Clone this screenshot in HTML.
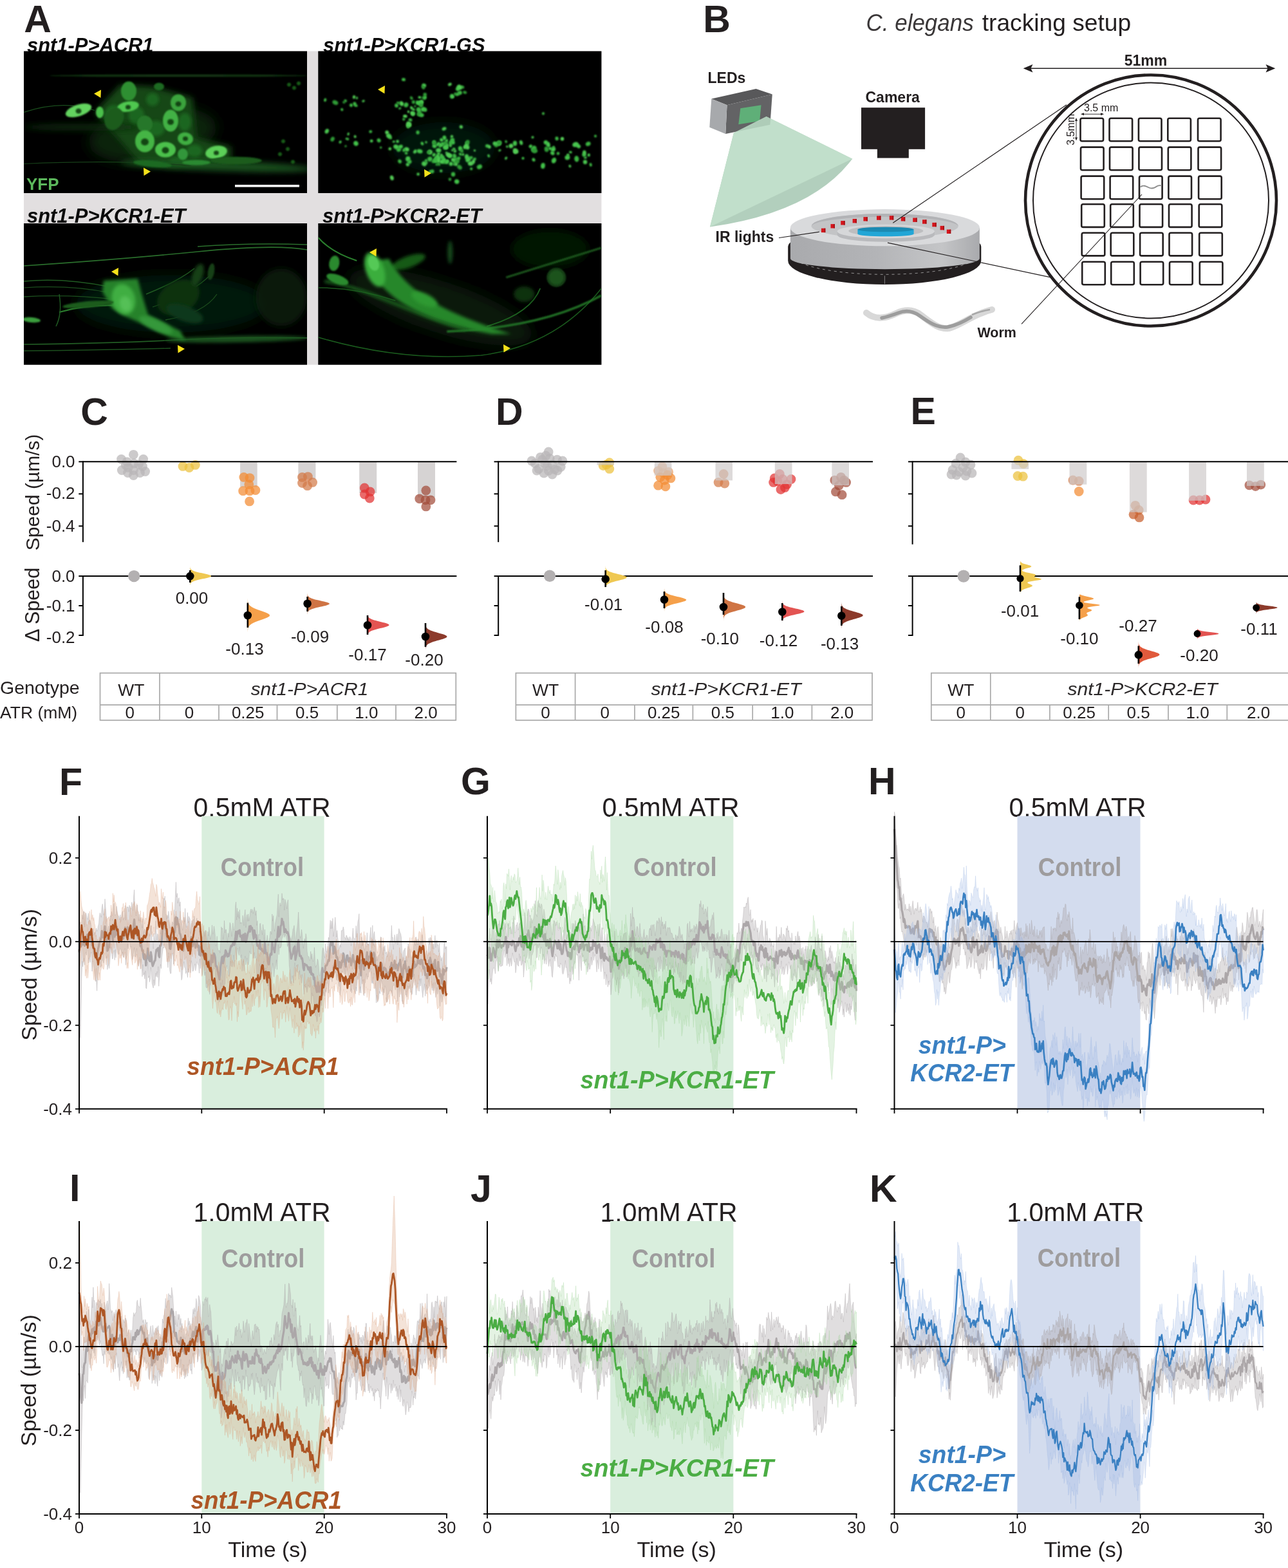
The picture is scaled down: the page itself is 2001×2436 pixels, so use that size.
<!DOCTYPE html><html><head><meta charset="utf-8"><title>Figure</title><style>html,body{margin:0;padding:0;background:#fff;}svg{display:block;}text{font-family:"Liberation Sans", Arial, Helvetica, sans-serif;}</style></head><body>
<svg width="2001" height="2436" viewBox="0 0 2001 2436">
<rect x="0" y="0" width="2001" height="2436" fill="#fff"/>
<text x="37.2" y="49.5" font-size="59" font-weight="bold" fill="#231f20">A</text>
<rect x="37" y="79.5" width="897.4" height="487.2" fill="#e2dfe0"/>
<text x="42.0" y="80.8" font-size="31.5" font-weight="bold" font-style="italic" fill="#0a0a0a" lengthAdjust="spacingAndGlyphs" textLength="196.5">snt1-P&gt;ACR1</text>
<text x="502.0" y="80.8" font-size="31.5" font-weight="bold" font-style="italic" fill="#0a0a0a" lengthAdjust="spacingAndGlyphs" textLength="251.5">snt1-P&gt;KCR1-GS</text>
<text x="42.0" y="345.8" font-size="31.5" font-weight="bold" font-style="italic" fill="#0a0a0a" lengthAdjust="spacingAndGlyphs" textLength="246.5">snt1-P&gt;KCR1-ET</text>
<text x="501.0" y="345.8" font-size="31.5" font-weight="bold" font-style="italic" fill="#0a0a0a" lengthAdjust="spacingAndGlyphs" textLength="247.5">snt1-P&gt;KCR2-ET</text>
<defs><filter id="b1" x="-50%" y="-50%" width="200%" height="200%"><feGaussianBlur stdDeviation="1.2"/></filter><filter id="b2" x="-50%" y="-50%" width="200%" height="200%"><feGaussianBlur stdDeviation="2.5"/></filter><filter id="b4" x="-50%" y="-50%" width="200%" height="200%"><feGaussianBlur stdDeviation="5"/></filter><filter id="b8" x="-50%" y="-50%" width="200%" height="200%"><feGaussianBlur stdDeviation="10"/></filter><clipPath id="cA1"><rect x="37" y="79.5" width="440" height="220.5"/></clipPath><clipPath id="cA2"><rect x="494.3" y="79.5" width="440.1" height="220.5"/></clipPath><clipPath id="cA3"><rect x="37" y="347" width="440" height="219.7"/></clipPath><clipPath id="cA4"><rect x="494.3" y="347" width="440.1" height="219.7"/></clipPath></defs>
<rect x="37" y="79.5" width="440" height="220.5" fill="#000"/>
<g clip-path="url(#cA1)">
<ellipse cx="237.0" cy="209.5" rx="100.0" ry="42.0" transform="rotate(-8 237.0 209.5)" fill="#092a0b" opacity="0.85" filter="url(#b8)"/>
<path d="M147,174.5 L187,131.5 L237,134.5 L299,151.5 L305,214.5 L359,227.5 L359,251.5 L267,259.5 L215,251.5 L177,207.5 Z" fill="#134716" filter="url(#b4)"/>
<ellipse cx="177.0" cy="179.5" rx="14.0" ry="16.0" transform="rotate(0 177.0 179.5)" fill="#1f6a23" opacity="0.9" filter="url(#b2)"/>
<ellipse cx="212.0" cy="179.5" rx="12.0" ry="14.0" transform="rotate(0 212.0 179.5)" fill="#1f6a23" opacity="0.9" filter="url(#b2)"/>
<ellipse cx="242.0" cy="199.5" rx="14.0" ry="12.0" transform="rotate(0 242.0 199.5)" fill="#1f6a23" opacity="0.9" filter="url(#b2)"/>
<ellipse cx="287.0" cy="189.5" rx="10.0" ry="14.0" transform="rotate(0 287.0 189.5)" fill="#1f6a23" opacity="0.9" filter="url(#b2)"/>
<ellipse cx="237.0" cy="154.5" rx="10.0" ry="10.0" transform="rotate(0 237.0 154.5)" fill="#1f6a23" opacity="0.9" filter="url(#b2)"/>
<ellipse cx="302.0" cy="234.5" rx="12.0" ry="10.0" transform="rotate(0 302.0 234.5)" fill="#1f6a23" opacity="0.9" filter="url(#b2)"/>
<ellipse cx="277.0" cy="249.5" rx="14.0" ry="6.0" transform="rotate(0 277.0 249.5)" fill="#1f6a23" opacity="0.9" filter="url(#b2)"/>
<ellipse cx="337.0" cy="257.5" rx="150.0" ry="8.0" transform="rotate(2 337.0 257.5)" fill="#1d5a22" opacity="0.9" filter="url(#b4)"/>
<ellipse cx="127.0" cy="197.5" rx="90.0" ry="6.0" transform="rotate(0 127.0 197.5)" fill="#0c2a0e" opacity="0.8" filter="url(#b4)"/>
<ellipse cx="277.0" cy="117.5" rx="200.0" ry="2.0" transform="rotate(0 277.0 117.5)" fill="#143a16" opacity="0.9" filter="url(#b1)"/>
<path d="M37 174.5 Q97 154.5 147 171.5" stroke="#1a4d1d" stroke-width="1.2" fill="none"/>
<path d="M37 254.5 Q187 247.5 297 257.5" stroke="#173f19" stroke-width="1.2" fill="none"/>
<ellipse cx="122.0" cy="171.5" rx="21.0" ry="9.0" transform="rotate(-18 122.0 171.5)" fill="#63d35f" opacity="1" filter="url(#b1)"/>
<ellipse cx="155.0" cy="174.5" rx="6.0" ry="9.0" transform="rotate(0 155.0 174.5)" fill="#4cc04c" opacity="1" filter="url(#b1)"/>
<ellipse cx="199.0" cy="165.5" rx="17.0" ry="8.0" transform="rotate(-10 199.0 165.5)" fill="#4fc74f" opacity="1" filter="url(#b1)"/>
<ellipse cx="200.0" cy="141.5" rx="12.0" ry="15.0" transform="rotate(0 200.0 141.5)" fill="#2f8f32" opacity="1" filter="url(#b1)"/>
<ellipse cx="225.0" cy="192.5" rx="12.0" ry="13.0" transform="rotate(0 225.0 192.5)" fill="#27772a" opacity="1" filter="url(#b1)"/>
<ellipse cx="265.0" cy="187.5" rx="12.0" ry="17.0" transform="rotate(0 265.0 187.5)" fill="#43b144" opacity="1" filter="url(#b1)"/>
<ellipse cx="277.0" cy="159.5" rx="12.0" ry="13.0" transform="rotate(0 277.0 159.5)" fill="#3aa33c" opacity="1" filter="url(#b1)"/>
<ellipse cx="225.0" cy="219.5" rx="15.0" ry="17.0" transform="rotate(0 225.0 219.5)" fill="#44b545" opacity="1" filter="url(#b1)"/>
<ellipse cx="257.0" cy="232.5" rx="16.0" ry="12.0" transform="rotate(0 257.0 232.5)" fill="#4cc04c" opacity="1" filter="url(#b1)"/>
<ellipse cx="288.0" cy="215.5" rx="12.0" ry="10.0" transform="rotate(10 288.0 215.5)" fill="#3fae42" opacity="1" filter="url(#b1)"/>
<ellipse cx="336.0" cy="236.5" rx="17.0" ry="10.0" transform="rotate(-10 336.0 236.5)" fill="#5bcf58" opacity="1" filter="url(#b1)"/>
<ellipse cx="284.0" cy="239.5" rx="8.0" ry="9.0" transform="rotate(0 284.0 239.5)" fill="#33963a" opacity="1" filter="url(#b1)"/>
<ellipse cx="305.0" cy="252.5" rx="22.0" ry="4.0" transform="rotate(0 305.0 252.5)" fill="#2b8a30" opacity="1" filter="url(#b1)"/>
<ellipse cx="247.0" cy="134.5" rx="8.0" ry="6.0" transform="rotate(0 247.0 134.5)" fill="#1f6a22" opacity="1" filter="url(#b1)"/>
<ellipse cx="237.0" cy="254.5" rx="30.0" ry="5.0" transform="rotate(5 237.0 254.5)" fill="#1f6a22" opacity="1" filter="url(#b1)"/>
<ellipse cx="367.0" cy="249.5" rx="40.0" ry="6.0" transform="rotate(0 367.0 249.5)" fill="#1b5c1f" opacity="1" filter="url(#b1)"/>
<ellipse cx="177.0" cy="184.5" rx="14.0" ry="18.0" transform="rotate(20 177.0 184.5)" fill="#1b5c1f" opacity="1" filter="url(#b1)"/>
<ellipse cx="122.0" cy="172.5" rx="4.5" ry="4.0" transform="rotate(0 122.0 172.5)" fill="#0e3a10" opacity="0.9" filter="url(#b1)"/>
<ellipse cx="225.0" cy="220.5" rx="6.0" ry="5.4" transform="rotate(0 225.0 220.5)" fill="#0e3a10" opacity="0.9" filter="url(#b1)"/>
<ellipse cx="257.0" cy="233.5" rx="5.5" ry="5.0" transform="rotate(0 257.0 233.5)" fill="#0e3a10" opacity="0.9" filter="url(#b1)"/>
<ellipse cx="265.0" cy="189.5" rx="5.0" ry="4.5" transform="rotate(0 265.0 189.5)" fill="#0e3a10" opacity="0.9" filter="url(#b1)"/>
<ellipse cx="336.0" cy="237.5" rx="4.0" ry="3.6" transform="rotate(0 336.0 237.5)" fill="#0e3a10" opacity="0.9" filter="url(#b1)"/>
<ellipse cx="199.0" cy="166.5" rx="4.0" ry="3.6" transform="rotate(0 199.0 166.5)" fill="#0e3a10" opacity="0.9" filter="url(#b1)"/>
<ellipse cx="277.0" cy="161.5" rx="4.5" ry="4.0" transform="rotate(0 277.0 161.5)" fill="#0e3a10" opacity="0.9" filter="url(#b1)"/>
<ellipse cx="288.0" cy="215.5" rx="4.0" ry="3.6" transform="rotate(0 288.0 215.5)" fill="#0e3a10" opacity="0.9" filter="url(#b1)"/>
<ellipse cx="449.0" cy="131.5" rx="3.0" ry="3.0" transform="rotate(0 449.0 131.5)" fill="#155c19" opacity="1" filter="url(#b1)"/>
<ellipse cx="457.0" cy="136.5" rx="3.0" ry="3.0" transform="rotate(0 457.0 136.5)" fill="#155c19" opacity="1" filter="url(#b1)"/>
<ellipse cx="464.0" cy="129.5" rx="3.0" ry="3.0" transform="rotate(0 464.0 129.5)" fill="#155c19" opacity="1" filter="url(#b1)"/>
<ellipse cx="440.0" cy="219.5" rx="3.0" ry="3.0" transform="rotate(0 440.0 219.5)" fill="#155c19" opacity="1" filter="url(#b1)"/>
<ellipse cx="447.0" cy="231.5" rx="3.0" ry="3.0" transform="rotate(0 447.0 231.5)" fill="#155c19" opacity="1" filter="url(#b1)"/>
<ellipse cx="435.0" cy="239.5" rx="3.0" ry="3.0" transform="rotate(0 435.0 239.5)" fill="#155c19" opacity="1" filter="url(#b1)"/>
<ellipse cx="455.0" cy="251.5" rx="3.0" ry="3.0" transform="rotate(0 455.0 251.5)" fill="#155c19" opacity="1" filter="url(#b1)"/>
<text x="41.0" y="294.5" font-size="26.5" font-weight="bold" fill="#5cb85c" textLength="50.5" lengthAdjust="spacingAndGlyphs">YFP</text>
<rect x="365" y="287" width="100" height="3.6" fill="#fff"/>
<polygon points="146,145.5 157,139.45 156.45,152.1" fill="#f5e11a"/>
<polygon points="234,266.5 223,260.45 223.55,273.1" fill="#f5e11a"/>
</g>
<rect x="494.3" y="79.5" width="440.1" height="220.5" fill="#000"/>
<g clip-path="url(#cA2)">
<ellipse cx="689.3" cy="229.5" rx="80.0" ry="40.0" transform="rotate(0 689.3 229.5)" fill="#061c08" opacity="0.8" filter="url(#b8)"/>
<ellipse cx="679.4" cy="246.2" rx="4.0" ry="3.0" transform="rotate(24 679.4 246.2)" fill="#42c24a" opacity="1" filter="url(#b1)"/>
<ellipse cx="680.1" cy="241.9" rx="2.6" ry="2.7" transform="rotate(107 680.1 241.9)" fill="#42c24a" opacity="1" filter="url(#b1)"/>
<ellipse cx="697.0" cy="240.7" rx="2.4" ry="2.5" transform="rotate(57 697.0 240.7)" fill="#48c64f" opacity="1" filter="url(#b1)"/>
<ellipse cx="662.0" cy="221.0" rx="1.9" ry="1.7" transform="rotate(56 662.0 221.0)" fill="#48c64f" opacity="1" filter="url(#b1)"/>
<ellipse cx="737.4" cy="247.2" rx="2.6" ry="2.2" transform="rotate(146 737.4 247.2)" fill="#3bb543" opacity="1" filter="url(#b1)"/>
<ellipse cx="668.4" cy="266.7" rx="2.4" ry="2.0" transform="rotate(48 668.4 266.7)" fill="#48c64f" opacity="1" filter="url(#b1)"/>
<ellipse cx="662.6" cy="252.9" rx="2.1" ry="1.7" transform="rotate(127 662.6 252.9)" fill="#42c24a" opacity="1" filter="url(#b1)"/>
<ellipse cx="674.2" cy="221.2" rx="3.1" ry="2.3" transform="rotate(92 674.2 221.2)" fill="#48c64f" opacity="1" filter="url(#b1)"/>
<ellipse cx="671.5" cy="266.3" rx="3.0" ry="3.1" transform="rotate(76 671.5 266.3)" fill="#3bb543" opacity="1" filter="url(#b1)"/>
<ellipse cx="631.9" cy="232.0" rx="3.9" ry="3.2" transform="rotate(18 631.9 232.0)" fill="#52cc55" opacity="1" filter="url(#b1)"/>
<ellipse cx="707.0" cy="249.5" rx="4.5" ry="3.3" transform="rotate(107 707.0 249.5)" fill="#3bb543" opacity="1" filter="url(#b1)"/>
<ellipse cx="725.2" cy="243.7" rx="4.2" ry="3.3" transform="rotate(80 725.2 243.7)" fill="#48c64f" opacity="1" filter="url(#b1)"/>
<ellipse cx="672.9" cy="250.8" rx="2.5" ry="2.7" transform="rotate(23 672.9 250.8)" fill="#2e9a36" opacity="1" filter="url(#b1)"/>
<ellipse cx="715.1" cy="230.9" rx="3.9" ry="3.1" transform="rotate(79 715.1 230.9)" fill="#42c24a" opacity="1" filter="url(#b1)"/>
<ellipse cx="635.0" cy="194.7" rx="4.3" ry="3.4" transform="rotate(171 635.0 194.7)" fill="#52cc55" opacity="1" filter="url(#b1)"/>
<ellipse cx="649.6" cy="270.6" rx="2.3" ry="2.4" transform="rotate(15 649.6 270.6)" fill="#48c64f" opacity="1" filter="url(#b1)"/>
<ellipse cx="690.7" cy="251.2" rx="3.5" ry="3.2" transform="rotate(127 690.7 251.2)" fill="#2e9a36" opacity="1" filter="url(#b1)"/>
<ellipse cx="712.1" cy="246.5" rx="3.7" ry="2.8" transform="rotate(140 712.1 246.5)" fill="#3bb543" opacity="1" filter="url(#b1)"/>
<ellipse cx="681.3" cy="254.8" rx="3.3" ry="2.4" transform="rotate(38 681.3 254.8)" fill="#2e9a36" opacity="1" filter="url(#b1)"/>
<ellipse cx="699.7" cy="242.4" rx="3.5" ry="3.0" transform="rotate(150 699.7 242.4)" fill="#42c24a" opacity="1" filter="url(#b1)"/>
<ellipse cx="695.4" cy="250.1" rx="2.1" ry="1.9" transform="rotate(144 695.4 250.1)" fill="#48c64f" opacity="1" filter="url(#b1)"/>
<ellipse cx="680.5" cy="245.5" rx="4.3" ry="3.5" transform="rotate(13 680.5 245.5)" fill="#48c64f" opacity="1" filter="url(#b1)"/>
<ellipse cx="633.7" cy="246.8" rx="4.0" ry="3.7" transform="rotate(102 633.7 246.8)" fill="#48c64f" opacity="1" filter="url(#b1)"/>
<ellipse cx="662.0" cy="249.5" rx="2.3" ry="2.5" transform="rotate(53 662.0 249.5)" fill="#3bb543" opacity="1" filter="url(#b1)"/>
<ellipse cx="674.2" cy="240.5" rx="2.6" ry="2.9" transform="rotate(38 674.2 240.5)" fill="#42c24a" opacity="1" filter="url(#b1)"/>
<ellipse cx="622.2" cy="228.0" rx="3.9" ry="3.0" transform="rotate(157 622.2 228.0)" fill="#42c24a" opacity="1" filter="url(#b1)"/>
<ellipse cx="659.0" cy="254.4" rx="4.0" ry="3.7" transform="rotate(31 659.0 254.4)" fill="#48c64f" opacity="1" filter="url(#b1)"/>
<ellipse cx="709.7" cy="250.5" rx="4.3" ry="3.8" transform="rotate(21 709.7 250.5)" fill="#2e9a36" opacity="1" filter="url(#b1)"/>
<ellipse cx="714.0" cy="259.8" rx="4.2" ry="3.2" transform="rotate(41 714.0 259.8)" fill="#2e9a36" opacity="1" filter="url(#b1)"/>
<ellipse cx="668.1" cy="236.3" rx="3.6" ry="3.7" transform="rotate(139 668.1 236.3)" fill="#52cc55" opacity="1" filter="url(#b1)"/>
<ellipse cx="725.3" cy="222.8" rx="2.8" ry="2.3" transform="rotate(66 725.3 222.8)" fill="#42c24a" opacity="1" filter="url(#b1)"/>
<ellipse cx="627.7" cy="233.2" rx="2.8" ry="2.4" transform="rotate(128 627.7 233.2)" fill="#3bb543" opacity="1" filter="url(#b1)"/>
<ellipse cx="677.1" cy="248.1" rx="4.4" ry="3.4" transform="rotate(102 677.1 248.1)" fill="#3bb543" opacity="1" filter="url(#b1)"/>
<ellipse cx="685.1" cy="225.3" rx="3.5" ry="2.7" transform="rotate(7 685.1 225.3)" fill="#52cc55" opacity="1" filter="url(#b1)"/>
<ellipse cx="693.9" cy="218.9" rx="2.8" ry="2.0" transform="rotate(114 693.9 218.9)" fill="#48c64f" opacity="1" filter="url(#b1)"/>
<ellipse cx="701.9" cy="212.1" rx="2.2" ry="2.4" transform="rotate(26 701.9 212.1)" fill="#52cc55" opacity="1" filter="url(#b1)"/>
<ellipse cx="688.9" cy="248.6" rx="2.9" ry="2.0" transform="rotate(156 688.9 248.6)" fill="#48c64f" opacity="1" filter="url(#b1)"/>
<ellipse cx="702.9" cy="221.1" rx="4.0" ry="3.0" transform="rotate(30 702.9 221.1)" fill="#42c24a" opacity="1" filter="url(#b1)"/>
<ellipse cx="726.1" cy="221.6" rx="4.4" ry="3.3" transform="rotate(111 726.1 221.6)" fill="#2e9a36" opacity="1" filter="url(#b1)"/>
<ellipse cx="692.2" cy="222.7" rx="3.8" ry="3.4" transform="rotate(21 692.2 222.7)" fill="#2e9a36" opacity="1" filter="url(#b1)"/>
<ellipse cx="683.7" cy="227.3" rx="2.2" ry="1.9" transform="rotate(119 683.7 227.3)" fill="#3bb543" opacity="1" filter="url(#b1)"/>
<ellipse cx="691.6" cy="228.5" rx="4.2" ry="3.4" transform="rotate(89 691.6 228.5)" fill="#2e9a36" opacity="1" filter="url(#b1)"/>
<ellipse cx="705.3" cy="255.3" rx="1.9" ry="1.6" transform="rotate(35 705.3 255.3)" fill="#42c24a" opacity="1" filter="url(#b1)"/>
<ellipse cx="636.2" cy="251.4" rx="3.1" ry="3.4" transform="rotate(54 636.2 251.4)" fill="#3bb543" opacity="1" filter="url(#b1)"/>
<ellipse cx="681.0" cy="249.7" rx="3.4" ry="2.9" transform="rotate(33 681.0 249.7)" fill="#52cc55" opacity="1" filter="url(#b1)"/>
<ellipse cx="727.4" cy="247.9" rx="4.7" ry="3.6" transform="rotate(132 727.4 247.9)" fill="#48c64f" opacity="1" filter="url(#b1)"/>
<ellipse cx="633.3" cy="255.7" rx="2.6" ry="2.7" transform="rotate(130 633.3 255.7)" fill="#48c64f" opacity="1" filter="url(#b1)"/>
<ellipse cx="715.2" cy="239.6" rx="2.6" ry="2.0" transform="rotate(38 715.2 239.6)" fill="#42c24a" opacity="1" filter="url(#b1)"/>
<ellipse cx="700.6" cy="254.5" rx="3.0" ry="3.2" transform="rotate(174 700.6 254.5)" fill="#48c64f" opacity="1" filter="url(#b1)"/>
<ellipse cx="652.1" cy="235.0" rx="4.5" ry="3.3" transform="rotate(14 652.1 235.0)" fill="#42c24a" opacity="1" filter="url(#b1)"/>
<ellipse cx="686.5" cy="251.2" rx="3.7" ry="3.3" transform="rotate(7 686.5 251.2)" fill="#48c64f" opacity="1" filter="url(#b1)"/>
<ellipse cx="690.0" cy="200.1" rx="3.6" ry="2.6" transform="rotate(155 690.0 200.1)" fill="#48c64f" opacity="1" filter="url(#b1)"/>
<ellipse cx="644.9" cy="235.5" rx="3.4" ry="2.6" transform="rotate(129 644.9 235.5)" fill="#48c64f" opacity="1" filter="url(#b1)"/>
<ellipse cx="725.4" cy="228.0" rx="4.8" ry="3.5" transform="rotate(51 725.4 228.0)" fill="#52cc55" opacity="1" filter="url(#b1)"/>
<ellipse cx="694.2" cy="229.7" rx="2.0" ry="1.9" transform="rotate(171 694.2 229.7)" fill="#2e9a36" opacity="1" filter="url(#b1)"/>
<ellipse cx="686.9" cy="244.1" rx="4.1" ry="3.1" transform="rotate(39 686.9 244.1)" fill="#42c24a" opacity="1" filter="url(#b1)"/>
<ellipse cx="722.3" cy="228.4" rx="3.2" ry="2.4" transform="rotate(119 722.3 228.4)" fill="#52cc55" opacity="1" filter="url(#b1)"/>
<ellipse cx="699.0" cy="278.7" rx="2.4" ry="2.5" transform="rotate(170 699.0 278.7)" fill="#2e9a36" opacity="1" filter="url(#b1)"/>
<ellipse cx="694.2" cy="228.7" rx="2.8" ry="2.5" transform="rotate(107 694.2 228.7)" fill="#48c64f" opacity="1" filter="url(#b1)"/>
<ellipse cx="694.2" cy="251.5" rx="3.4" ry="3.2" transform="rotate(117 694.2 251.5)" fill="#42c24a" opacity="1" filter="url(#b1)"/>
<ellipse cx="681.5" cy="238.7" rx="2.4" ry="2.3" transform="rotate(16 681.5 238.7)" fill="#48c64f" opacity="1" filter="url(#b1)"/>
<ellipse cx="732.2" cy="262.3" rx="2.0" ry="2.1" transform="rotate(69 732.2 262.3)" fill="#42c24a" opacity="1" filter="url(#b1)"/>
<ellipse cx="731.8" cy="244.8" rx="2.9" ry="2.2" transform="rotate(173 731.8 244.8)" fill="#3bb543" opacity="1" filter="url(#b1)"/>
<ellipse cx="695.1" cy="225.6" rx="2.3" ry="1.9" transform="rotate(179 695.1 225.6)" fill="#48c64f" opacity="1" filter="url(#b1)"/>
<ellipse cx="676.1" cy="249.7" rx="3.7" ry="3.4" transform="rotate(18 676.1 249.7)" fill="#3bb543" opacity="1" filter="url(#b1)"/>
<ellipse cx="685.7" cy="240.6" rx="1.7" ry="1.8" transform="rotate(56 685.7 240.6)" fill="#52cc55" opacity="1" filter="url(#b1)"/>
<ellipse cx="735.5" cy="251.3" rx="3.6" ry="2.6" transform="rotate(106 735.5 251.3)" fill="#52cc55" opacity="1" filter="url(#b1)"/>
<ellipse cx="705.4" cy="231.5" rx="2.4" ry="1.9" transform="rotate(28 705.4 231.5)" fill="#48c64f" opacity="1" filter="url(#b1)"/>
<ellipse cx="706.9" cy="235.0" rx="2.4" ry="2.0" transform="rotate(135 706.9 235.0)" fill="#52cc55" opacity="1" filter="url(#b1)"/>
<ellipse cx="687.6" cy="223.5" rx="2.8" ry="2.7" transform="rotate(4 687.6 223.5)" fill="#3bb543" opacity="1" filter="url(#b1)"/>
<ellipse cx="693.7" cy="237.3" rx="1.9" ry="1.6" transform="rotate(48 693.7 237.3)" fill="#48c64f" opacity="1" filter="url(#b1)"/>
<ellipse cx="666.1" cy="236.4" rx="3.2" ry="2.6" transform="rotate(139 666.1 236.4)" fill="#2e9a36" opacity="1" filter="url(#b1)"/>
<ellipse cx="700.0" cy="222.9" rx="3.8" ry="2.7" transform="rotate(87 700.0 222.9)" fill="#3bb543" opacity="1" filter="url(#b1)"/>
<ellipse cx="704.0" cy="270.8" rx="3.5" ry="3.2" transform="rotate(88 704.0 270.8)" fill="#3bb543" opacity="1" filter="url(#b1)"/>
<ellipse cx="737.4" cy="233.8" rx="1.8" ry="1.6" transform="rotate(14 737.4 233.8)" fill="#52cc55" opacity="1" filter="url(#b1)"/>
<ellipse cx="731.0" cy="254.0" rx="4.2" ry="3.5" transform="rotate(177 731.0 254.0)" fill="#52cc55" opacity="1" filter="url(#b1)"/>
<ellipse cx="678.3" cy="255.7" rx="1.8" ry="1.9" transform="rotate(93 678.3 255.7)" fill="#2e9a36" opacity="1" filter="url(#b1)"/>
<ellipse cx="756.7" cy="226.7" rx="2.6" ry="2.8" transform="rotate(79 756.7 226.7)" fill="#3bb543" opacity="1" filter="url(#b1)"/>
<ellipse cx="689.7" cy="248.1" rx="2.7" ry="2.3" transform="rotate(128 689.7 248.1)" fill="#42c24a" opacity="1" filter="url(#b1)"/>
<ellipse cx="674.9" cy="226.8" rx="3.4" ry="3.3" transform="rotate(22 674.9 226.8)" fill="#42c24a" opacity="1" filter="url(#b1)"/>
<ellipse cx="708.5" cy="255.3" rx="2.6" ry="2.5" transform="rotate(59 708.5 255.3)" fill="#52cc55" opacity="1" filter="url(#b1)"/>
<ellipse cx="744.9" cy="259.1" rx="4.3" ry="3.5" transform="rotate(152 744.9 259.1)" fill="#3bb543" opacity="1" filter="url(#b1)"/>
<ellipse cx="667.9" cy="247.2" rx="3.9" ry="3.8" transform="rotate(158 667.9 247.2)" fill="#3bb543" opacity="1" filter="url(#b1)"/>
<ellipse cx="681.3" cy="233.5" rx="4.2" ry="3.4" transform="rotate(179 681.3 233.5)" fill="#48c64f" opacity="1" filter="url(#b1)"/>
<ellipse cx="691.9" cy="228.9" rx="3.3" ry="2.8" transform="rotate(4 691.9 228.9)" fill="#48c64f" opacity="1" filter="url(#b1)"/>
<ellipse cx="702.8" cy="217.5" rx="3.4" ry="3.6" transform="rotate(10 702.8 217.5)" fill="#3bb543" opacity="1" filter="url(#b1)"/>
<ellipse cx="703.4" cy="249.4" rx="2.2" ry="1.8" transform="rotate(160 703.4 249.4)" fill="#2e9a36" opacity="1" filter="url(#b1)"/>
<ellipse cx="719.3" cy="240.0" rx="1.9" ry="2.1" transform="rotate(17 719.3 240.0)" fill="#52cc55" opacity="1" filter="url(#b1)"/>
<ellipse cx="686.0" cy="217.4" rx="2.6" ry="2.8" transform="rotate(121 686.0 217.4)" fill="#48c64f" opacity="1" filter="url(#b1)"/>
<ellipse cx="686.2" cy="244.2" rx="2.2" ry="2.2" transform="rotate(166 686.2 244.2)" fill="#3bb543" opacity="1" filter="url(#b1)"/>
<ellipse cx="717.4" cy="234.5" rx="3.3" ry="2.4" transform="rotate(73 717.4 234.5)" fill="#2e9a36" opacity="1" filter="url(#b1)"/>
<ellipse cx="690.3" cy="214.1" rx="3.6" ry="3.0" transform="rotate(84 690.3 214.1)" fill="#42c24a" opacity="1" filter="url(#b1)"/>
<ellipse cx="685.2" cy="265.5" rx="2.2" ry="2.3" transform="rotate(123 685.2 265.5)" fill="#48c64f" opacity="1" filter="url(#b1)"/>
<ellipse cx="706.1" cy="242.5" rx="3.8" ry="3.1" transform="rotate(74 706.1 242.5)" fill="#3bb543" opacity="1" filter="url(#b1)"/>
<ellipse cx="680.6" cy="224.0" rx="3.7" ry="2.6" transform="rotate(140 680.6 224.0)" fill="#42c24a" opacity="1" filter="url(#b1)"/>
<ellipse cx="709.7" cy="282.1" rx="3.8" ry="3.7" transform="rotate(19 709.7 282.1)" fill="#42c24a" opacity="1" filter="url(#b1)"/>
<ellipse cx="716.4" cy="197.1" rx="2.8" ry="2.6" transform="rotate(53 716.4 197.1)" fill="#52cc55" opacity="1" filter="url(#b1)"/>
<ellipse cx="696.8" cy="240.8" rx="4.5" ry="3.2" transform="rotate(33 696.8 240.8)" fill="#52cc55" opacity="1" filter="url(#b1)"/>
<ellipse cx="655.9" cy="223.0" rx="2.8" ry="2.2" transform="rotate(59 655.9 223.0)" fill="#42c24a" opacity="1" filter="url(#b1)"/>
<ellipse cx="631.1" cy="238.0" rx="2.2" ry="2.5" transform="rotate(125 631.1 238.0)" fill="#3bb543" opacity="1" filter="url(#b1)"/>
<ellipse cx="674.8" cy="221.7" rx="3.4" ry="3.2" transform="rotate(80 674.8 221.7)" fill="#2e9a36" opacity="1" filter="url(#b1)"/>
<ellipse cx="703.9" cy="248.0" rx="3.1" ry="2.3" transform="rotate(30 703.9 248.0)" fill="#52cc55" opacity="1" filter="url(#b1)"/>
<ellipse cx="702.9" cy="233.4" rx="1.7" ry="1.6" transform="rotate(16 702.9 233.4)" fill="#52cc55" opacity="1" filter="url(#b1)"/>
<ellipse cx="608.9" cy="276.3" rx="3.9" ry="2.9" transform="rotate(70 608.9 276.3)" fill="#52cc55" opacity="1" filter="url(#b1)"/>
<ellipse cx="699.7" cy="226.6" rx="2.1" ry="1.7" transform="rotate(38 699.7 226.6)" fill="#52cc55" opacity="1" filter="url(#b1)"/>
<ellipse cx="642.3" cy="176.8" rx="3.5" ry="2.7" transform="rotate(109 642.3 176.8)" fill="#3bb543" opacity="1" filter="url(#b1)"/>
<ellipse cx="658.7" cy="132.8" rx="3.5" ry="3.0" transform="rotate(20 658.7 132.8)" fill="#48c64f" opacity="1" filter="url(#b1)"/>
<ellipse cx="660.8" cy="170.4" rx="3.2" ry="2.6" transform="rotate(73 660.8 170.4)" fill="#3bb543" opacity="1" filter="url(#b1)"/>
<ellipse cx="616.0" cy="163.9" rx="3.2" ry="2.8" transform="rotate(87 616.0 163.9)" fill="#3bb543" opacity="1" filter="url(#b1)"/>
<ellipse cx="640.5" cy="176.1" rx="3.6" ry="3.2" transform="rotate(61 640.5 176.1)" fill="#52cc55" opacity="1" filter="url(#b1)"/>
<ellipse cx="637.5" cy="186.2" rx="3.0" ry="2.5" transform="rotate(19 637.5 186.2)" fill="#3bb543" opacity="1" filter="url(#b1)"/>
<ellipse cx="649.1" cy="205.7" rx="3.0" ry="2.7" transform="rotate(85 649.1 205.7)" fill="#3bb543" opacity="1" filter="url(#b1)"/>
<ellipse cx="655.4" cy="159.0" rx="1.9" ry="1.9" transform="rotate(44 655.4 159.0)" fill="#3bb543" opacity="1" filter="url(#b1)"/>
<ellipse cx="639.4" cy="167.6" rx="2.8" ry="2.1" transform="rotate(51 639.4 167.6)" fill="#52cc55" opacity="1" filter="url(#b1)"/>
<ellipse cx="657.5" cy="135.7" rx="3.2" ry="2.5" transform="rotate(53 657.5 135.7)" fill="#2e9a36" opacity="1" filter="url(#b1)"/>
<ellipse cx="634.5" cy="173.5" rx="2.1" ry="1.7" transform="rotate(92 634.5 173.5)" fill="#52cc55" opacity="1" filter="url(#b1)"/>
<ellipse cx="652.3" cy="178.0" rx="2.8" ry="3.0" transform="rotate(63 652.3 178.0)" fill="#3bb543" opacity="1" filter="url(#b1)"/>
<ellipse cx="629.4" cy="180.5" rx="3.4" ry="2.6" transform="rotate(5 629.4 180.5)" fill="#52cc55" opacity="1" filter="url(#b1)"/>
<ellipse cx="651.1" cy="176.1" rx="4.5" ry="3.3" transform="rotate(125 651.1 176.1)" fill="#2e9a36" opacity="1" filter="url(#b1)"/>
<ellipse cx="654.3" cy="159.5" rx="4.8" ry="3.6" transform="rotate(114 654.3 159.5)" fill="#48c64f" opacity="1" filter="url(#b1)"/>
<ellipse cx="642.4" cy="170.1" rx="2.7" ry="1.9" transform="rotate(27 642.4 170.1)" fill="#48c64f" opacity="1" filter="url(#b1)"/>
<ellipse cx="660.2" cy="146.9" rx="2.9" ry="3.0" transform="rotate(10 660.2 146.9)" fill="#2e9a36" opacity="1" filter="url(#b1)"/>
<ellipse cx="648.5" cy="159.6" rx="3.5" ry="2.9" transform="rotate(77 648.5 159.6)" fill="#42c24a" opacity="1" filter="url(#b1)"/>
<ellipse cx="658.7" cy="152.3" rx="3.5" ry="2.8" transform="rotate(28 658.7 152.3)" fill="#2e9a36" opacity="1" filter="url(#b1)"/>
<ellipse cx="650.5" cy="170.4" rx="4.0" ry="3.7" transform="rotate(57 650.5 170.4)" fill="#3bb543" opacity="1" filter="url(#b1)"/>
<ellipse cx="642.4" cy="158.5" rx="2.9" ry="2.8" transform="rotate(80 642.4 158.5)" fill="#2e9a36" opacity="1" filter="url(#b1)"/>
<ellipse cx="627.0" cy="123.5" rx="3.1" ry="2.6" transform="rotate(7 627.0 123.5)" fill="#3bb543" opacity="1" filter="url(#b1)"/>
<ellipse cx="660.5" cy="151.1" rx="2.3" ry="2.3" transform="rotate(172 660.5 151.1)" fill="#42c24a" opacity="1" filter="url(#b1)"/>
<ellipse cx="639.3" cy="152.3" rx="2.9" ry="2.1" transform="rotate(58 639.3 152.3)" fill="#2e9a36" opacity="1" filter="url(#b1)"/>
<ellipse cx="623.8" cy="161.0" rx="3.9" ry="3.2" transform="rotate(50 623.8 161.0)" fill="#52cc55" opacity="1" filter="url(#b1)"/>
<ellipse cx="652.3" cy="160.3" rx="3.5" ry="3.5" transform="rotate(51 652.3 160.3)" fill="#42c24a" opacity="1" filter="url(#b1)"/>
<ellipse cx="633.9" cy="197.2" rx="2.2" ry="2.1" transform="rotate(75 633.9 197.2)" fill="#3bb543" opacity="1" filter="url(#b1)"/>
<ellipse cx="655.3" cy="179.0" rx="3.4" ry="2.9" transform="rotate(170 655.3 179.0)" fill="#3bb543" opacity="1" filter="url(#b1)"/>
<ellipse cx="657.4" cy="169.8" rx="3.7" ry="3.6" transform="rotate(152 657.4 169.8)" fill="#42c24a" opacity="1" filter="url(#b1)"/>
<ellipse cx="644.8" cy="165.1" rx="1.9" ry="1.7" transform="rotate(80 644.8 165.1)" fill="#2e9a36" opacity="1" filter="url(#b1)"/>
<ellipse cx="652.0" cy="151.3" rx="2.6" ry="2.0" transform="rotate(8 652.0 151.3)" fill="#48c64f" opacity="1" filter="url(#b1)"/>
<ellipse cx="635.0" cy="192.2" rx="3.9" ry="3.4" transform="rotate(27 635.0 192.2)" fill="#52cc55" opacity="1" filter="url(#b1)"/>
<ellipse cx="652.0" cy="159.8" rx="2.8" ry="2.4" transform="rotate(53 652.0 159.8)" fill="#42c24a" opacity="1" filter="url(#b1)"/>
<ellipse cx="627.3" cy="185.2" rx="2.2" ry="2.3" transform="rotate(180 627.3 185.2)" fill="#2e9a36" opacity="1" filter="url(#b1)"/>
<ellipse cx="630.9" cy="163.0" rx="3.8" ry="3.6" transform="rotate(121 630.9 163.0)" fill="#3bb543" opacity="1" filter="url(#b1)"/>
<ellipse cx="654.4" cy="163.8" rx="3.1" ry="3.4" transform="rotate(8 654.4 163.8)" fill="#2e9a36" opacity="1" filter="url(#b1)"/>
<ellipse cx="621.2" cy="168.4" rx="2.2" ry="1.7" transform="rotate(155 621.2 168.4)" fill="#3bb543" opacity="1" filter="url(#b1)"/>
<ellipse cx="702.2" cy="149.6" rx="3.4" ry="3.7" transform="rotate(176 702.2 149.6)" fill="#48c64f" opacity="1" filter="url(#b1)"/>
<ellipse cx="703.4" cy="150.5" rx="2.2" ry="1.6" transform="rotate(162 703.4 150.5)" fill="#48c64f" opacity="1" filter="url(#b1)"/>
<ellipse cx="711.5" cy="137.7" rx="3.9" ry="3.4" transform="rotate(119 711.5 137.7)" fill="#42c24a" opacity="1" filter="url(#b1)"/>
<ellipse cx="718.7" cy="135.3" rx="2.8" ry="2.2" transform="rotate(33 718.7 135.3)" fill="#2e9a36" opacity="1" filter="url(#b1)"/>
<ellipse cx="714.2" cy="135.3" rx="4.4" ry="3.4" transform="rotate(38 714.2 135.3)" fill="#52cc55" opacity="1" filter="url(#b1)"/>
<ellipse cx="698.9" cy="131.2" rx="3.0" ry="2.3" transform="rotate(152 698.9 131.2)" fill="#52cc55" opacity="1" filter="url(#b1)"/>
<ellipse cx="714.3" cy="144.2" rx="3.6" ry="3.3" transform="rotate(166 714.3 144.2)" fill="#3bb543" opacity="1" filter="url(#b1)"/>
<ellipse cx="722.2" cy="143.5" rx="3.1" ry="2.3" transform="rotate(18 722.2 143.5)" fill="#2e9a36" opacity="1" filter="url(#b1)"/>
<ellipse cx="706.8" cy="145.8" rx="2.5" ry="1.8" transform="rotate(114 706.8 145.8)" fill="#2e9a36" opacity="1" filter="url(#b1)"/>
<ellipse cx="710.3" cy="146.6" rx="3.3" ry="2.6" transform="rotate(170 710.3 146.6)" fill="#3bb543" opacity="1" filter="url(#b1)"/>
<ellipse cx="550.0" cy="150.8" rx="2.7" ry="2.2" transform="rotate(95 550.0 150.8)" fill="#52cc55" opacity="1" filter="url(#b1)"/>
<ellipse cx="545.6" cy="163.4" rx="2.6" ry="2.6" transform="rotate(39 545.6 163.4)" fill="#3bb543" opacity="1" filter="url(#b1)"/>
<ellipse cx="531.3" cy="170.2" rx="2.2" ry="2.0" transform="rotate(62 531.3 170.2)" fill="#42c24a" opacity="1" filter="url(#b1)"/>
<ellipse cx="520.9" cy="159.3" rx="4.7" ry="3.4" transform="rotate(26 520.9 159.3)" fill="#2e9a36" opacity="1" filter="url(#b1)"/>
<ellipse cx="618.7" cy="159.8" rx="2.9" ry="2.1" transform="rotate(10 618.7 159.8)" fill="#2e9a36" opacity="1" filter="url(#b1)"/>
<ellipse cx="564.5" cy="157.0" rx="2.4" ry="1.7" transform="rotate(149 564.5 157.0)" fill="#48c64f" opacity="1" filter="url(#b1)"/>
<ellipse cx="551.1" cy="161.4" rx="3.1" ry="2.7" transform="rotate(66 551.1 161.4)" fill="#3bb543" opacity="1" filter="url(#b1)"/>
<ellipse cx="554.4" cy="152.2" rx="2.0" ry="1.6" transform="rotate(89 554.4 152.2)" fill="#48c64f" opacity="1" filter="url(#b1)"/>
<ellipse cx="553.1" cy="164.2" rx="2.7" ry="1.9" transform="rotate(9 553.1 164.2)" fill="#3bb543" opacity="1" filter="url(#b1)"/>
<ellipse cx="505.1" cy="155.3" rx="2.7" ry="2.0" transform="rotate(104 505.1 155.3)" fill="#42c24a" opacity="1" filter="url(#b1)"/>
<ellipse cx="536.6" cy="156.6" rx="2.1" ry="2.3" transform="rotate(126 536.6 156.6)" fill="#3bb543" opacity="1" filter="url(#b1)"/>
<ellipse cx="534.2" cy="159.0" rx="2.2" ry="1.8" transform="rotate(39 534.2 159.0)" fill="#2e9a36" opacity="1" filter="url(#b1)"/>
<ellipse cx="551.7" cy="212.2" rx="2.2" ry="2.0" transform="rotate(72 551.7 212.2)" fill="#52cc55" opacity="1" filter="url(#b1)"/>
<ellipse cx="541.2" cy="208.2" rx="2.3" ry="1.7" transform="rotate(106 541.2 208.2)" fill="#48c64f" opacity="1" filter="url(#b1)"/>
<ellipse cx="607.1" cy="214.4" rx="2.0" ry="2.0" transform="rotate(1 607.1 214.4)" fill="#2e9a36" opacity="1" filter="url(#b1)"/>
<ellipse cx="540.3" cy="216.1" rx="2.0" ry="1.8" transform="rotate(93 540.3 216.1)" fill="#42c24a" opacity="1" filter="url(#b1)"/>
<ellipse cx="538.3" cy="215.5" rx="1.6" ry="1.6" transform="rotate(101 538.3 215.5)" fill="#48c64f" opacity="1" filter="url(#b1)"/>
<ellipse cx="617.5" cy="219.7" rx="2.4" ry="2.4" transform="rotate(89 617.5 219.7)" fill="#48c64f" opacity="1" filter="url(#b1)"/>
<ellipse cx="553.0" cy="222.8" rx="4.0" ry="3.6" transform="rotate(50 553.0 222.8)" fill="#42c24a" opacity="1" filter="url(#b1)"/>
<ellipse cx="537.0" cy="227.1" rx="1.8" ry="1.7" transform="rotate(155 537.0 227.1)" fill="#2e9a36" opacity="1" filter="url(#b1)"/>
<ellipse cx="604.2" cy="211.4" rx="4.5" ry="3.6" transform="rotate(41 604.2 211.4)" fill="#48c64f" opacity="1" filter="url(#b1)"/>
<ellipse cx="507.9" cy="203.9" rx="3.9" ry="3.0" transform="rotate(121 507.9 203.9)" fill="#48c64f" opacity="1" filter="url(#b1)"/>
<ellipse cx="577.2" cy="219.0" rx="2.4" ry="2.5" transform="rotate(91 577.2 219.0)" fill="#48c64f" opacity="1" filter="url(#b1)"/>
<ellipse cx="588.6" cy="218.2" rx="2.9" ry="3.2" transform="rotate(143 588.6 218.2)" fill="#3bb543" opacity="1" filter="url(#b1)"/>
<ellipse cx="601.2" cy="205.8" rx="2.9" ry="3.1" transform="rotate(153 601.2 205.8)" fill="#52cc55" opacity="1" filter="url(#b1)"/>
<ellipse cx="575.7" cy="204.5" rx="2.5" ry="2.3" transform="rotate(168 575.7 204.5)" fill="#3bb543" opacity="1" filter="url(#b1)"/>
<ellipse cx="528.5" cy="220.6" rx="2.4" ry="2.0" transform="rotate(125 528.5 220.6)" fill="#42c24a" opacity="1" filter="url(#b1)"/>
<ellipse cx="516.5" cy="216.1" rx="3.9" ry="3.0" transform="rotate(121 516.5 216.1)" fill="#2e9a36" opacity="1" filter="url(#b1)"/>
<ellipse cx="605.7" cy="231.2" rx="2.3" ry="2.4" transform="rotate(113 605.7 231.2)" fill="#52cc55" opacity="1" filter="url(#b1)"/>
<ellipse cx="591.7" cy="229.2" rx="1.6" ry="1.7" transform="rotate(80 591.7 229.2)" fill="#3bb543" opacity="1" filter="url(#b1)"/>
<ellipse cx="611.8" cy="220.1" rx="2.3" ry="1.7" transform="rotate(167 611.8 220.1)" fill="#48c64f" opacity="1" filter="url(#b1)"/>
<ellipse cx="615.5" cy="228.2" rx="4.4" ry="3.5" transform="rotate(28 615.5 228.2)" fill="#48c64f" opacity="1" filter="url(#b1)"/>
<ellipse cx="621.1" cy="250.7" rx="3.3" ry="2.7" transform="rotate(56 621.1 250.7)" fill="#3bb543" opacity="1" filter="url(#b1)"/>
<ellipse cx="619.5" cy="232.5" rx="3.5" ry="3.3" transform="rotate(157 619.5 232.5)" fill="#3bb543" opacity="1" filter="url(#b1)"/>
<ellipse cx="786.2" cy="245.8" rx="2.6" ry="1.9" transform="rotate(122 786.2 245.8)" fill="#48c64f" opacity="1" filter="url(#b1)"/>
<ellipse cx="800.0" cy="236.3" rx="2.9" ry="2.7" transform="rotate(50 800.0 236.3)" fill="#52cc55" opacity="1" filter="url(#b1)"/>
<ellipse cx="801.2" cy="234.4" rx="4.9" ry="3.7" transform="rotate(43 801.2 234.4)" fill="#52cc55" opacity="1" filter="url(#b1)"/>
<ellipse cx="800.0" cy="222.7" rx="4.0" ry="3.3" transform="rotate(92 800.0 222.7)" fill="#42c24a" opacity="1" filter="url(#b1)"/>
<ellipse cx="824.4" cy="227.4" rx="2.8" ry="2.7" transform="rotate(137 824.4 227.4)" fill="#42c24a" opacity="1" filter="url(#b1)"/>
<ellipse cx="775.1" cy="222.9" rx="3.6" ry="3.4" transform="rotate(94 775.1 222.9)" fill="#52cc55" opacity="1" filter="url(#b1)"/>
<ellipse cx="770.9" cy="225.5" rx="3.3" ry="3.3" transform="rotate(157 770.9 225.5)" fill="#2e9a36" opacity="1" filter="url(#b1)"/>
<ellipse cx="793.9" cy="226.7" rx="3.6" ry="3.4" transform="rotate(149 793.9 226.7)" fill="#52cc55" opacity="1" filter="url(#b1)"/>
<ellipse cx="847.9" cy="221.2" rx="3.2" ry="3.2" transform="rotate(74 847.9 221.2)" fill="#42c24a" opacity="1" filter="url(#b1)"/>
<ellipse cx="772.1" cy="223.1" rx="2.6" ry="2.7" transform="rotate(58 772.1 223.1)" fill="#42c24a" opacity="1" filter="url(#b1)"/>
<ellipse cx="787.8" cy="227.7" rx="1.9" ry="1.7" transform="rotate(27 787.8 227.7)" fill="#48c64f" opacity="1" filter="url(#b1)"/>
<ellipse cx="760.1" cy="227.9" rx="3.0" ry="2.5" transform="rotate(52 760.1 227.9)" fill="#52cc55" opacity="1" filter="url(#b1)"/>
<ellipse cx="759.2" cy="242.1" rx="2.7" ry="1.9" transform="rotate(62 759.2 242.1)" fill="#42c24a" opacity="1" filter="url(#b1)"/>
<ellipse cx="786.2" cy="220.0" rx="2.3" ry="1.7" transform="rotate(69 786.2 220.0)" fill="#3bb543" opacity="1" filter="url(#b1)"/>
<ellipse cx="776.4" cy="233.6" rx="2.2" ry="1.6" transform="rotate(152 776.4 233.6)" fill="#48c64f" opacity="1" filter="url(#b1)"/>
<ellipse cx="775.8" cy="221.8" rx="3.8" ry="3.7" transform="rotate(0 775.8 221.8)" fill="#2e9a36" opacity="1" filter="url(#b1)"/>
<ellipse cx="827.5" cy="232.5" rx="2.4" ry="2.5" transform="rotate(26 827.5 232.5)" fill="#3bb543" opacity="1" filter="url(#b1)"/>
<ellipse cx="829.6" cy="230.4" rx="4.1" ry="3.7" transform="rotate(132 829.6 230.4)" fill="#3bb543" opacity="1" filter="url(#b1)"/>
<ellipse cx="768.4" cy="222.8" rx="3.0" ry="3.0" transform="rotate(79 768.4 222.8)" fill="#48c64f" opacity="1" filter="url(#b1)"/>
<ellipse cx="830.5" cy="234.4" rx="4.8" ry="3.8" transform="rotate(1 830.5 234.4)" fill="#2e9a36" opacity="1" filter="url(#b1)"/>
<ellipse cx="860.5" cy="249.3" rx="4.6" ry="3.6" transform="rotate(115 860.5 249.3)" fill="#42c24a" opacity="1" filter="url(#b1)"/>
<ellipse cx="885.4" cy="258.1" rx="2.3" ry="1.9" transform="rotate(68 885.4 258.1)" fill="#52cc55" opacity="1" filter="url(#b1)"/>
<ellipse cx="851.6" cy="224.7" rx="4.3" ry="3.1" transform="rotate(75 851.6 224.7)" fill="#48c64f" opacity="1" filter="url(#b1)"/>
<ellipse cx="827.5" cy="213.3" rx="1.9" ry="2.1" transform="rotate(66 827.5 213.3)" fill="#48c64f" opacity="1" filter="url(#b1)"/>
<ellipse cx="895.8" cy="246.8" rx="4.8" ry="3.6" transform="rotate(84 895.8 246.8)" fill="#3bb543" opacity="1" filter="url(#b1)"/>
<ellipse cx="859.4" cy="232.0" rx="3.9" ry="3.5" transform="rotate(135 859.4 232.0)" fill="#48c64f" opacity="1" filter="url(#b1)"/>
<ellipse cx="865.1" cy="215.2" rx="3.0" ry="2.6" transform="rotate(78 865.1 215.2)" fill="#3bb543" opacity="1" filter="url(#b1)"/>
<ellipse cx="898.5" cy="226.9" rx="3.9" ry="2.9" transform="rotate(37 898.5 226.9)" fill="#48c64f" opacity="1" filter="url(#b1)"/>
<ellipse cx="907.4" cy="240.8" rx="3.2" ry="3.0" transform="rotate(36 907.4 240.8)" fill="#3bb543" opacity="1" filter="url(#b1)"/>
<ellipse cx="886.4" cy="236.4" rx="2.4" ry="1.9" transform="rotate(11 886.4 236.4)" fill="#42c24a" opacity="1" filter="url(#b1)"/>
<ellipse cx="843.5" cy="257.6" rx="4.6" ry="3.4" transform="rotate(98 843.5 257.6)" fill="#42c24a" opacity="1" filter="url(#b1)"/>
<ellipse cx="909.5" cy="245.0" rx="2.5" ry="1.8" transform="rotate(162 909.5 245.0)" fill="#42c24a" opacity="1" filter="url(#b1)"/>
<ellipse cx="860.1" cy="228.6" rx="2.0" ry="1.9" transform="rotate(86 860.1 228.6)" fill="#3bb543" opacity="1" filter="url(#b1)"/>
<ellipse cx="882.4" cy="240.7" rx="2.0" ry="2.2" transform="rotate(94 882.4 240.7)" fill="#52cc55" opacity="1" filter="url(#b1)"/>
<ellipse cx="854.7" cy="230.7" rx="2.9" ry="2.2" transform="rotate(7 854.7 230.7)" fill="#42c24a" opacity="1" filter="url(#b1)"/>
<ellipse cx="829.0" cy="248.2" rx="2.8" ry="2.4" transform="rotate(55 829.0 248.2)" fill="#42c24a" opacity="1" filter="url(#b1)"/>
<ellipse cx="873.5" cy="215.7" rx="2.8" ry="2.9" transform="rotate(0 873.5 215.7)" fill="#52cc55" opacity="1" filter="url(#b1)"/>
<ellipse cx="858.3" cy="237.9" rx="2.9" ry="3.3" transform="rotate(125 858.3 237.9)" fill="#42c24a" opacity="1" filter="url(#b1)"/>
<ellipse cx="809.6" cy="221.6" rx="3.7" ry="2.7" transform="rotate(72 809.6 221.6)" fill="#48c64f" opacity="1" filter="url(#b1)"/>
<ellipse cx="925.0" cy="211.4" rx="2.0" ry="2.1" transform="rotate(162 925.0 211.4)" fill="#3bb543" opacity="1" filter="url(#b1)"/>
<ellipse cx="894.0" cy="224.5" rx="4.9" ry="3.8" transform="rotate(160 894.0 224.5)" fill="#48c64f" opacity="1" filter="url(#b1)"/>
<ellipse cx="881.4" cy="244.7" rx="4.0" ry="3.6" transform="rotate(165 881.4 244.7)" fill="#42c24a" opacity="1" filter="url(#b1)"/>
<ellipse cx="914.8" cy="240.9" rx="2.5" ry="2.2" transform="rotate(97 914.8 240.9)" fill="#48c64f" opacity="1" filter="url(#b1)"/>
<ellipse cx="907.9" cy="237.2" rx="3.6" ry="2.9" transform="rotate(89 907.9 237.2)" fill="#48c64f" opacity="1" filter="url(#b1)"/>
<ellipse cx="849.1" cy="231.8" rx="4.3" ry="3.5" transform="rotate(82 849.1 231.8)" fill="#2e9a36" opacity="1" filter="url(#b1)"/>
<ellipse cx="909.1" cy="251.7" rx="3.4" ry="3.3" transform="rotate(85 909.1 251.7)" fill="#48c64f" opacity="1" filter="url(#b1)"/>
<ellipse cx="812.5" cy="245.9" rx="2.2" ry="2.1" transform="rotate(180 812.5 245.9)" fill="#3bb543" opacity="1" filter="url(#b1)"/>
<ellipse cx="913.7" cy="223.5" rx="4.0" ry="3.2" transform="rotate(154 913.7 223.5)" fill="#3bb543" opacity="1" filter="url(#b1)"/>
<ellipse cx="867.0" cy="238.4" rx="2.4" ry="2.3" transform="rotate(26 867.0 238.4)" fill="#3bb543" opacity="1" filter="url(#b1)"/>
<ellipse cx="917.8" cy="255.9" rx="2.8" ry="2.0" transform="rotate(77 917.8 255.9)" fill="#3bb543" opacity="1" filter="url(#b1)"/>
<ellipse cx="844.1" cy="176.4" rx="2.1" ry="2.0" transform="rotate(99 844.1 176.4)" fill="#42c24a" opacity="1" filter="url(#b1)"/>
<polygon points="587,139 598,132.95 597.45,145.6" fill="#f5e11a"/>
<polygon points="670,269 659,262.95 659.55,275.6" fill="#f5e11a"/>
</g>
<rect x="37" y="347" width="440" height="219.7" fill="#000"/>
<g clip-path="url(#cA3)">
<ellipse cx="267.0" cy="472.0" rx="150.0" ry="45.0" transform="rotate(0 267.0 472.0)" fill="#061a07" opacity="0.9" filter="url(#b8)"/>
<ellipse cx="437.0" cy="462.0" rx="40.0" ry="45.0" transform="rotate(0 437.0 462.0)" fill="#071a08" opacity="0.9" filter="url(#b4)"/>
<path d="M37 413 Q187 403 307 391 T477 388" stroke="#2a6e2c" stroke-width="1.6" fill="none"/>
<path d="M307 383 Q387 377 477 380" stroke="#2a6e2c" stroke-width="1.6" fill="none"/>
<path d="M37 535 Q187 533 277 528 T477 525" stroke="#225c24" stroke-width="1.6" fill="none"/>
<path d="M37 545 Q157 544 265 541" stroke="#1c4f1e" stroke-width="1.3" fill="none"/>
<path d="M37 437 Q97 431 167 445" stroke="#205a22" stroke-width="1.4" fill="none"/>
<path d="M37 447 Q107 442 172 455" stroke="#1c4f1e" stroke-width="1.2" fill="none"/>
<path d="M37 461 Q107 457 177 465" stroke="#1c4f1e" stroke-width="1.3" fill="none"/>
<path d="M92 485 Q137 472 187 475" stroke="#2a7a2d" stroke-width="2.2" fill="none"/>
<path d="M92 457 Q97 487 87 507" stroke="#1f5a22" stroke-width="1.5" fill="none"/>
<path d="M227 457 Q277 437 302 417" stroke="#1f5a22" stroke-width="1.5" fill="none"/>
<path d="M237 477 Q297 457 327 427" stroke="#1c4f1e" stroke-width="1.3" fill="none"/>
<path d="M257 497 Q317 487 337 457" stroke="#1c4f1e" stroke-width="1.3" fill="none"/>
<ellipse cx="367.0" cy="527.0" rx="110.0" ry="5.0" transform="rotate(-1 367.0 527.0)" fill="#1e5a21" opacity="0.9" filter="url(#b2)"/>
<ellipse cx="49.0" cy="497.0" rx="14.0" ry="4.0" transform="rotate(5 49.0 497.0)" fill="#3a9e3d" opacity="1" filter="url(#b1)"/>
<ellipse cx="277.0" cy="462.0" rx="35.0" ry="25.0" transform="rotate(-30 277.0 462.0)" fill="#0f3311" opacity="1" filter="url(#b2)"/>
<ellipse cx="307.0" cy="427.0" rx="8.0" ry="18.0" transform="rotate(20 307.0 427.0)" fill="#143f16" opacity="1" filter="url(#b2)"/>
<ellipse cx="328.0" cy="422.0" rx="5.0" ry="13.0" transform="rotate(10 328.0 422.0)" fill="#143f16" opacity="1" filter="url(#b1)"/>
<ellipse cx="287.0" cy="487.0" rx="30.0" ry="12.0" transform="rotate(20 287.0 487.0)" fill="#11381a" opacity="1" filter="url(#b2)"/>
<path d="M161,436 L214,433 L219,453 L230,489 L280,514 L288,529 L265,524 L235,509 L194,491 L174,479 L159,453 Z" fill="#28822b" filter="url(#b2)"/>
<ellipse cx="192.0" cy="465.0" rx="18.0" ry="24.0" transform="rotate(-15 192.0 465.0)" fill="#3fae42" opacity="1" filter="url(#b2)"/>
<ellipse cx="195.0" cy="472.0" rx="9.0" ry="12.0" transform="rotate(-15 195.0 472.0)" fill="#55c056" opacity="1" filter="url(#b2)"/>
<ellipse cx="242.0" cy="505.0" rx="28.0" ry="8.0" transform="rotate(25 242.0 505.0)" fill="#34983a" opacity="1" filter="url(#b2)"/>
<ellipse cx="137.0" cy="473.0" rx="40.0" ry="5.0" transform="rotate(-5 137.0 473.0)" fill="#1c5c1f" opacity="1" filter="url(#b1)"/>
<polygon points="173,422 184,415.95 183.45,428.6" fill="#f5e11a"/>
<polygon points="287,542 276,535.95 276.55,548.6" fill="#f5e11a"/>
</g>
<rect x="494.3" y="347" width="440.1" height="219.7" fill="#000"/>
<g clip-path="url(#cA4)">
<ellipse cx="684.3" cy="477.0" rx="150.0" ry="40.0" transform="rotate(18 684.3 477.0)" fill="#071d08" opacity="0.9" filter="url(#b8)"/>
<ellipse cx="854.3" cy="387.0" rx="60.0" ry="30.0" transform="rotate(0 854.3 387.0)" fill="#051305" opacity="1" filter="url(#b4)"/>
<path d="M494.3 524 Q624.3 562 747.3 552 Q864.3 537 934.3 448" stroke="#1a5a1d" stroke-width="1.5" fill="none"/>
<path d="M694.3 515 Q844.3 509 934.3 459" stroke="#237226" stroke-width="3.5" fill="none" filter="url(#b1)"/>
<path d="M756.3 507 Q824.3 487 839.3 448" stroke="#1d6120" stroke-width="2" fill="none"/>
<path d="M786.3 431 Q864.3 407 934.3 385" stroke="#1b561e" stroke-width="3" fill="none" filter="url(#b1)"/>
<path d="M494.3 369 Q514.3 392 554.3 405" stroke="#2a7e2d" stroke-width="2" fill="none"/>
<path d="M494.3 447 Q554.3 447 614.3 467" stroke="#1a561d" stroke-width="1.5" fill="none"/>
<ellipse cx="864.3" cy="431.0" rx="15.0" ry="15.0" transform="rotate(0 864.3 431.0)" fill="#133f15" opacity="1" filter="url(#b1)"/>
<ellipse cx="864.3" cy="431.0" rx="11.0" ry="11.0" transform="rotate(0 864.3 431.0)" fill="#1b521e" opacity="1" filter="url(#b1)"/>
<ellipse cx="634.3" cy="407.0" rx="28.0" ry="9.0" transform="rotate(-20 634.3 407.0)" fill="#165a19" opacity="1" filter="url(#b2)"/>
<ellipse cx="699.3" cy="392.0" rx="4.0" ry="18.0" transform="rotate(0 699.3 392.0)" fill="#12461a" opacity="1" filter="url(#b2)"/>
<ellipse cx="814.3" cy="457.0" rx="16.0" ry="12.0" transform="rotate(0 814.3 457.0)" fill="#0f3311" opacity="1" filter="url(#b2)"/>
<path d="M569.3 407 C594.3 467 664.3 502 764.3 519 L794.3 519 C694.3 487 634.3 457 604.3 402 Z" fill="#27872b" filter="url(#b2)"/>
<path d="M504.3 437 C574.3 447 634.3 487 724.3 512" stroke="#1f6e22" stroke-width="4" fill="none" filter="url(#b2)"/>
<ellipse cx="582.3" cy="419.0" rx="14.0" ry="28.0" transform="rotate(-20 582.3 419.0)" fill="#3aae3e" opacity="1" filter="url(#b2)"/>
<ellipse cx="580.3" cy="409.0" rx="8.0" ry="12.0" transform="rotate(-20 580.3 409.0)" fill="#55c957" opacity="1" filter="url(#b1)"/>
<ellipse cx="519.3" cy="409.0" rx="8.0" ry="12.0" transform="rotate(10 519.3 409.0)" fill="#2a8a2e" opacity="1" filter="url(#b1)"/>
<ellipse cx="524.3" cy="434.0" rx="18.0" ry="7.0" transform="rotate(20 524.3 434.0)" fill="#2a8a2e" opacity="1" filter="url(#b1)"/>
<ellipse cx="659.3" cy="465.0" rx="22.0" ry="9.0" transform="rotate(25 659.3 465.0)" fill="#2f9a33" opacity="1" filter="url(#b2)"/>
<polygon points="574,392 585,385.95 584.45,398.6" fill="#f5e11a"/>
<polygon points="793,541 782,534.95 782.55,547.6" fill="#f5e11a"/>
</g>
<text x="1092.2" y="49.5" font-size="59" font-weight="bold" fill="#231f20">B</text>
<text x="1345.6" y="48" font-size="37" font-style="italic" fill="#3a3738" textLength="167" lengthAdjust="spacingAndGlyphs">C. elegans</text>
<text x="1525.7" y="48" font-size="37" fill="#231f20" textLength="231.5" lengthAdjust="spacingAndGlyphs">tracking setup</text>
<text x="1099.5" y="128.7" font-size="23" font-weight="bold" fill="#231f20">LEDs</text>
<text x="1344.5" y="159.0" font-size="23" font-weight="bold" fill="#231f20">Camera</text>
<text x="1111.5" y="376.0" font-size="23" font-weight="bold" fill="#231f20">IR lights</text>
<text x="1518.4" y="523.8" font-size="21.5" font-weight="bold" fill="#231f20">Worm</text>
<text x="1780.0" y="101.8" font-size="23" font-weight="bold" text-anchor="middle" fill="#231f20">51mm</text>
<polygon points="1105.3,153.4 1174.5,137.9 1199.8,146.4 1129.5,163.3" fill="#58585a"/>
<polygon points="1129.5,163.3 1199.8,146.4 1196.4,193.7 1127.2,208" fill="#636365"/>
<polygon points="1105.3,153.4 1129.5,163.3 1127.2,208 1102.3,197.8" fill="#a7a9ac"/>
<polygon points="1150.3,168.3 1182.5,163.3 1180.2,187.9 1147.3,193.2" fill="#5faf78"/>
<g opacity="0.88"><path d="M1139.9,206.4 L1190.6,181 L1324.2,246.7 Q1262,330 1103,352.6 Z" fill="#a8c9b4"/><path d="M1139.9,206.4 L1190.6,181 L1324.2,246.7 L1103,352.6 Z" fill="#b9dbc4"/></g>
<rect x="1338" y="167.2" width="99.1" height="64.6" fill="#231f20"/>
<rect x="1362.9" y="231" width="48.9" height="14.5" fill="#231f20"/>
<path d="M1224.2,383 L1224.2,405 A150,37 0 0 0 1524.3,405 L1524.3,383 A150,30 0 0 0 1224.2,383 Z" fill="#231f20"/>
<path d="M1230,397 A145,32 0 0 0 1519,397" stroke="#b8b8b8" stroke-width="0.8" stroke-dasharray="4 5" fill="none"/>
<line x1="1374.4" y1="428.4" x2="1374.4" y2="441.3" stroke="#999" stroke-width="0.8"/>
<defs><linearGradient id="gside" x1="0" x2="1" y1="0" y2="0"><stop offset="0" stop-color="#a9aaad"/><stop offset="0.45" stop-color="#b3b4b7"/><stop offset="0.8" stop-color="#c4c5c7"/><stop offset="1" stop-color="#a9aaad"/></linearGradient></defs>
<path d="M1227.9,353.7 L1227.9,401.6 A147,16.6 0 0 0 1521.9,401.6 L1521.9,353.7 Z" fill="url(#gside)"/>
<ellipse cx="1374.9" cy="353.7" rx="147" ry="28.6" fill="#d9dadc"/>
<ellipse cx="1374.7" cy="351.2" rx="114" ry="19.2" fill="#c3c4c6"/>
<path d="M1260.7,351.2 A114,19.2 0 0 1 1488.7,351.2 A112,15 0 0 0 1260.7,353 Z" fill="#b2b3b6"/>
<rect x="1275.9" y="354.7" width="6.4" height="6.4" fill="#d4151c"/>
<rect x="1280.7" y="354.7" width="1.6" height="6.4" fill="#9e0f14"/>
<rect x="1290.5" y="348.1" width="6.4" height="6.4" fill="#d4151c"/>
<rect x="1295.3" y="348.1" width="1.6" height="6.4" fill="#9e0f14"/>
<rect x="1306.2" y="343.1" width="6.4" height="6.4" fill="#d4151c"/>
<rect x="1311.0" y="343.1" width="1.6" height="6.4" fill="#9e0f14"/>
<rect x="1324.6" y="340.0" width="6.4" height="6.4" fill="#d4151c"/>
<rect x="1329.4" y="340.0" width="1.6" height="6.4" fill="#9e0f14"/>
<rect x="1341.4" y="337.1" width="6.4" height="6.4" fill="#d4151c"/>
<rect x="1346.2" y="337.1" width="1.6" height="6.4" fill="#9e0f14"/>
<rect x="1362.0" y="335.4" width="6.4" height="6.4" fill="#d4151c"/>
<rect x="1366.8" y="335.4" width="1.6" height="6.4" fill="#9e0f14"/>
<rect x="1381.8" y="335.2" width="6.4" height="6.4" fill="#d4151c"/>
<rect x="1386.6" y="335.2" width="1.6" height="6.4" fill="#9e0f14"/>
<rect x="1399.8" y="337.1" width="6.4" height="6.4" fill="#d4151c"/>
<rect x="1404.6" y="337.1" width="1.6" height="6.4" fill="#9e0f14"/>
<rect x="1418.2" y="338.5" width="6.4" height="6.4" fill="#d4151c"/>
<rect x="1423.0" y="338.5" width="1.6" height="6.4" fill="#9e0f14"/>
<rect x="1433.0" y="341.3" width="6.4" height="6.4" fill="#d4151c"/>
<rect x="1437.8" y="341.3" width="1.6" height="6.4" fill="#9e0f14"/>
<rect x="1448.3" y="345.9" width="6.4" height="6.4" fill="#d4151c"/>
<rect x="1453.1" y="345.9" width="1.6" height="6.4" fill="#9e0f14"/>
<rect x="1460.6" y="350.9" width="6.4" height="6.4" fill="#d4151c"/>
<rect x="1465.4" y="350.9" width="1.6" height="6.4" fill="#9e0f14"/>
<rect x="1470.8" y="356.6" width="6.4" height="6.4" fill="#d4151c"/>
<rect x="1475.6" y="356.6" width="1.6" height="6.4" fill="#9e0f14"/>
<path d="M1300.7,359.5 L1300.7,365 A75.6,10.8 0 0 0 1451.9,365 L1451.9,359.5 Z" fill="#b9babd"/>
<ellipse cx="1376.3" cy="359.5" rx="75.6" ry="10.8" fill="#d6d7d9"/>
<ellipse cx="1376.3" cy="358.8" rx="58" ry="7.8" fill="#bdbec0"/>
<path d="M1332.4,356.5 L1332.4,363.5 A43.6,3.8 0 0 0 1419.6,363.5 L1419.6,356.5 Z" fill="#22a6d6"/>
<ellipse cx="1376" cy="356.5" rx="43.6" ry="3.8" fill="#1b8ab2"/>
<path d="M1346,486 C1360,498 1378,494 1392,487 C1405,481 1418,480 1430,489 C1445,500 1458,512 1474,510 C1492,506 1512,488 1541,481" stroke="#d8d8d8" stroke-width="10" stroke-linecap="round" fill="none"/>
<path d="M1370,494 C1380,492 1388,489 1396,486 C1406,482 1416,482 1428,490 C1442,500 1456,510 1472,508 C1488,505 1500,498 1508,493" stroke="#9d9d9d" stroke-width="5.5" stroke-linecap="round" fill="none"/>
<path d="M1510,489 C1520,485 1530,482 1538,481" stroke="#a8a8a8" stroke-width="2.5" fill="none"/>
<line x1="1210" y1="369.5" x2="1273" y2="360.2" stroke="#231f20" stroke-width="1.1" fill="none"/>
<line x1="1387.3" y1="346.3" x2="1657" y2="162.7" stroke="#231f20" stroke-width="1.1" fill="none"/>
<line x1="1379" y1="377.1" x2="1633.4" y2="431.1" stroke="#231f20" stroke-width="1.1" fill="none"/>
<line x1="1774" y1="302" x2="1587" y2="503.3" stroke="#231f20" stroke-width="1.1" fill="none"/>
<line x1="1596" y1="106.2" x2="1975" y2="106.2" stroke="#231f20" stroke-width="1.4"/>
<path d="M1589.7,106.2 L1604.5,100 L1601.5,106.2 L1604.5,112.4 Z" fill="#231f20"/>
<path d="M1981.3,106.2 L1966.5,100 L1969.5,106.2 L1966.5,112.4 Z" fill="#231f20"/>
<circle cx="1788" cy="311.5" r="195" stroke="#231f20" stroke-width="4.6" fill="none"/>
<circle cx="1788" cy="311.5" r="183" stroke="#231f20" stroke-width="2" fill="none"/>
<rect x="1678.5" y="183.7" width="35.6" height="35.6" rx="2.5" stroke="#231f20" stroke-width="2.6" fill="none"/>
<rect x="1723.5" y="183.7" width="35.6" height="35.6" rx="2.5" stroke="#231f20" stroke-width="2.6" fill="none"/>
<rect x="1768.9" y="183.7" width="35.6" height="35.6" rx="2.5" stroke="#231f20" stroke-width="2.6" fill="none"/>
<rect x="1814.3" y="183.7" width="35.6" height="35.6" rx="2.5" stroke="#231f20" stroke-width="2.6" fill="none"/>
<rect x="1861.0" y="183.7" width="35.6" height="35.6" rx="2.5" stroke="#231f20" stroke-width="2.6" fill="none"/>
<rect x="1679.0" y="228.6" width="35.6" height="35.6" rx="2.5" stroke="#231f20" stroke-width="2.6" fill="none"/>
<rect x="1724.0" y="228.6" width="35.6" height="35.6" rx="2.5" stroke="#231f20" stroke-width="2.6" fill="none"/>
<rect x="1769.4" y="228.6" width="35.6" height="35.6" rx="2.5" stroke="#231f20" stroke-width="2.6" fill="none"/>
<rect x="1814.8" y="228.6" width="35.6" height="35.6" rx="2.5" stroke="#231f20" stroke-width="2.6" fill="none"/>
<rect x="1861.5" y="228.6" width="35.6" height="35.6" rx="2.5" stroke="#231f20" stroke-width="2.6" fill="none"/>
<rect x="1679.6" y="273.6" width="35.6" height="35.6" rx="2.5" stroke="#231f20" stroke-width="2.6" fill="none"/>
<rect x="1724.6" y="273.6" width="35.6" height="35.6" rx="2.5" stroke="#231f20" stroke-width="2.6" fill="none"/>
<rect x="1770.0" y="273.6" width="35.6" height="35.6" rx="2.5" stroke="#231f20" stroke-width="2.6" fill="none"/>
<rect x="1815.4" y="273.6" width="35.6" height="35.6" rx="2.5" stroke="#231f20" stroke-width="2.6" fill="none"/>
<rect x="1862.1" y="273.6" width="35.6" height="35.6" rx="2.5" stroke="#231f20" stroke-width="2.6" fill="none"/>
<rect x="1680.2" y="317.3" width="35.6" height="35.6" rx="2.5" stroke="#231f20" stroke-width="2.6" fill="none"/>
<rect x="1725.2" y="317.3" width="35.6" height="35.6" rx="2.5" stroke="#231f20" stroke-width="2.6" fill="none"/>
<rect x="1770.5" y="317.3" width="35.6" height="35.6" rx="2.5" stroke="#231f20" stroke-width="2.6" fill="none"/>
<rect x="1816.0" y="317.3" width="35.6" height="35.6" rx="2.5" stroke="#231f20" stroke-width="2.6" fill="none"/>
<rect x="1862.7" y="317.3" width="35.6" height="35.6" rx="2.5" stroke="#231f20" stroke-width="2.6" fill="none"/>
<rect x="1680.7" y="361.8" width="35.6" height="35.6" rx="2.5" stroke="#231f20" stroke-width="2.6" fill="none"/>
<rect x="1725.7" y="361.8" width="35.6" height="35.6" rx="2.5" stroke="#231f20" stroke-width="2.6" fill="none"/>
<rect x="1771.1" y="361.8" width="35.6" height="35.6" rx="2.5" stroke="#231f20" stroke-width="2.6" fill="none"/>
<rect x="1816.5" y="361.8" width="35.6" height="35.6" rx="2.5" stroke="#231f20" stroke-width="2.6" fill="none"/>
<rect x="1863.2" y="361.8" width="35.6" height="35.6" rx="2.5" stroke="#231f20" stroke-width="2.6" fill="none"/>
<rect x="1681.2" y="406.7" width="35.6" height="35.6" rx="2.5" stroke="#231f20" stroke-width="2.6" fill="none"/>
<rect x="1726.2" y="406.7" width="35.6" height="35.6" rx="2.5" stroke="#231f20" stroke-width="2.6" fill="none"/>
<rect x="1771.6" y="406.7" width="35.6" height="35.6" rx="2.5" stroke="#231f20" stroke-width="2.6" fill="none"/>
<rect x="1817.0" y="406.7" width="35.6" height="35.6" rx="2.5" stroke="#231f20" stroke-width="2.6" fill="none"/>
<rect x="1863.8" y="406.7" width="35.6" height="35.6" rx="2.5" stroke="#231f20" stroke-width="2.6" fill="none"/>
<path d="M1771.5,290.5 C1776,287 1780,289 1785,291.5 C1790,294 1794,292 1798,289 C1801,287.5 1803,288 1805,288.5" stroke="#8a8a8a" stroke-width="1.8" fill="none"/>
<text x="1684.0" y="173.4" font-size="16" fill="#231f20">3.5 mm</text>
<line x1="1681" y1="177.3" x2="1713" y2="177.3" stroke="#231f20" stroke-width="0.9"/>
<path d="M1679,177.3 L1684,175.3 L1684,179.3 Z M1715,177.3 L1710,175.3 L1710,179.3 Z" fill="#231f20"/>
<text x="0" y="0" font-size="16" fill="#231f20" text-anchor="middle" transform="translate(1668.5,201.3) rotate(-90)">3.5mm</text>
<line x1="1672" y1="185" x2="1672" y2="216" stroke="#231f20" stroke-width="0.9"/>
<path d="M1672,183 L1670,188 L1674,188 Z M1672,218.5 L1670,213.5 L1674,213.5 Z" fill="#231f20"/>
<text x="125.2" y="659.5" font-size="59" font-weight="bold" fill="#231f20">C</text>
<text x="770.1" y="659.5" font-size="59" font-weight="bold" fill="#231f20">D</text>
<text x="1414.5" y="659.0" font-size="59" font-weight="bold" fill="#231f20">E</text>
<text x="0" y="0" font-size="30" fill="#231f20" text-anchor="middle" transform="translate(60.6,764.8) rotate(-90)">Speed (µm/s)</text>
<text x="0" y="0" font-size="30.5" fill="#231f20" text-anchor="middle" transform="translate(60.6,939.5) rotate(-90)">Δ Speed</text>
<text x="116.6" y="725.6" font-size="26" text-anchor="end" fill="#231f20">0.0</text>
<text x="116.6" y="775.3" font-size="26" text-anchor="end" fill="#231f20">-0.2</text>
<text x="116.6" y="825.8" font-size="26" text-anchor="end" fill="#231f20">-0.4</text>
<text x="116.6" y="904.4" font-size="26" text-anchor="end" fill="#231f20">0.0</text>
<text x="116.6" y="950.0" font-size="26" text-anchor="end" fill="#231f20">-0.1</text>
<text x="116.6" y="998.8" font-size="26" text-anchor="end" fill="#231f20">-0.2</text>
<rect x="373.1" y="717.3" width="26.6" height="39.4" fill="#d6d3d3" fill-opacity="1.0"/>
<rect x="463.4" y="717.3" width="27.0" height="27.3" fill="#d6d3d3" fill-opacity="1.0"/>
<rect x="558.2" y="717.3" width="27.0" height="48.7" fill="#d6d3d3" fill-opacity="1.0"/>
<rect x="649.0" y="717.3" width="27.0" height="55.5" fill="#d6d3d3" fill-opacity="1.0"/>
<circle cx="188.5" cy="713.5" r="7.4" fill="#b9b6b7" fill-opacity="0.72"/>
<circle cx="197.3" cy="717.6" r="7.4" fill="#b9b6b7" fill-opacity="0.72"/>
<circle cx="207.4" cy="706.3" r="7.4" fill="#b9b6b7" fill-opacity="0.72"/>
<circle cx="222.7" cy="713.5" r="7.4" fill="#b9b6b7" fill-opacity="0.72"/>
<circle cx="215.5" cy="721.6" r="7.4" fill="#b9b6b7" fill-opacity="0.72"/>
<circle cx="199.3" cy="726.4" r="7.4" fill="#b9b6b7" fill-opacity="0.72"/>
<circle cx="189.3" cy="730.5" r="7.4" fill="#b9b6b7" fill-opacity="0.72"/>
<circle cx="207.4" cy="730.5" r="7.4" fill="#b9b6b7" fill-opacity="0.72"/>
<circle cx="225.6" cy="732.5" r="7.4" fill="#b9b6b7" fill-opacity="0.72"/>
<circle cx="198.5" cy="734.5" r="7.4" fill="#b9b6b7" fill-opacity="0.72"/>
<circle cx="207.4" cy="738.5" r="7.4" fill="#b9b6b7" fill-opacity="0.72"/>
<circle cx="217.5" cy="734.5" r="7.4" fill="#b9b6b7" fill-opacity="0.72"/>
<circle cx="221.5" cy="724.4" r="7.4" fill="#b9b6b7" fill-opacity="0.72"/>
<circle cx="195.3" cy="722.4" r="7.4" fill="#b9b6b7" fill-opacity="0.72"/>
<circle cx="208.0" cy="720.0" r="7.4" fill="#b9b6b7" fill-opacity="0.72"/>
<circle cx="284.0" cy="724.4" r="7.4" fill="#ebc03c" fill-opacity="0.72"/>
<circle cx="294.0" cy="726.5" r="7.4" fill="#ebc03c" fill-opacity="0.72"/>
<circle cx="303.4" cy="722.4" r="7.4" fill="#ebc03c" fill-opacity="0.72"/>
<circle cx="378.8" cy="741.4" r="7.4" fill="#f28a32" fill-opacity="0.72"/>
<circle cx="388.0" cy="742.6" r="7.4" fill="#f28a32" fill-opacity="0.72"/>
<circle cx="386.8" cy="752.7" r="7.4" fill="#f28a32" fill-opacity="0.72"/>
<circle cx="377.6" cy="762.7" r="7.4" fill="#f28a32" fill-opacity="0.72"/>
<circle cx="388.0" cy="762.7" r="7.4" fill="#f28a32" fill-opacity="0.72"/>
<circle cx="396.9" cy="761.5" r="7.4" fill="#f28a32" fill-opacity="0.72"/>
<circle cx="387.6" cy="778.9" r="7.4" fill="#f28a32" fill-opacity="0.72"/>
<circle cx="469.5" cy="741.4" r="7.4" fill="#d27a48" fill-opacity="0.72"/>
<circle cx="478.4" cy="740.6" r="7.4" fill="#d27a48" fill-opacity="0.72"/>
<circle cx="469.5" cy="750.6" r="7.4" fill="#d27a48" fill-opacity="0.72"/>
<circle cx="477.6" cy="754.7" r="7.4" fill="#d27a48" fill-opacity="0.72"/>
<circle cx="485.6" cy="749.4" r="7.4" fill="#d27a48" fill-opacity="0.72"/>
<circle cx="566.3" cy="757.9" r="7.4" fill="#e23232" fill-opacity="0.72"/>
<circle cx="575.1" cy="763.9" r="7.4" fill="#e23232" fill-opacity="0.72"/>
<circle cx="566.3" cy="768.0" r="7.4" fill="#e23232" fill-opacity="0.72"/>
<circle cx="574.3" cy="774.0" r="7.4" fill="#e23232" fill-opacity="0.72"/>
<circle cx="661.8" cy="761.9" r="7.4" fill="#a24c3a" fill-opacity="0.72"/>
<circle cx="651.7" cy="774.8" r="7.4" fill="#a24c3a" fill-opacity="0.72"/>
<circle cx="669.0" cy="776.8" r="7.4" fill="#a24c3a" fill-opacity="0.72"/>
<circle cx="661.0" cy="776.8" r="7.4" fill="#a24c3a" fill-opacity="0.72"/>
<circle cx="661.8" cy="786.9" r="7.4" fill="#a24c3a" fill-opacity="0.72"/>
<line x1="128.9" y1="717.3" x2="709.4" y2="717.3" stroke="#000" stroke-width="2"/>
<line x1="128.9" y1="716.3" x2="128.9" y2="842.2" stroke="#000" stroke-width="2"/>
<line x1="122.30000000000001" y1="717.3" x2="128.9" y2="717.3" stroke="#000" stroke-width="2"/>
<line x1="122.30000000000001" y1="767.3" x2="128.9" y2="767.3" stroke="#000" stroke-width="2"/>
<line x1="122.30000000000001" y1="817.3" x2="128.9" y2="817.3" stroke="#000" stroke-width="2"/>
<line x1="128.9" y1="895.0" x2="709.4" y2="895.0" stroke="#000" stroke-width="2"/>
<line x1="128.9" y1="894" x2="128.9" y2="988" stroke="#000" stroke-width="2"/>
<line x1="122.30000000000001" y1="895.0" x2="128.9" y2="895.0" stroke="#000" stroke-width="2"/>
<line x1="122.30000000000001" y1="941.0" x2="128.9" y2="941.0" stroke="#000" stroke-width="2"/>
<line x1="122.30000000000001" y1="987.0" x2="128.9" y2="987.0" stroke="#000" stroke-width="2"/>
<circle cx="208.2" cy="895.1" r="9.2" fill="#b3b0b1"/>
<path d="M295.3,880.0 L295.4,880.0 L295.4,880.5 L295.4,881.0 L295.5,881.5 L295.6,881.9 L295.7,882.4 L295.9,882.9 L296.1,883.4 L296.3,883.9 L296.7,884.4 L297.2,884.8 L297.7,885.3 L298.4,885.8 L299.3,886.3 L300.3,886.8 L301.5,887.2 L302.8,887.7 L304.4,888.2 L306.2,888.7 L308.1,889.2 L310.1,889.7 L312.3,890.1 L314.6,890.6 L316.8,891.1 L319.0,891.6 L321.1,892.1 L323.0,892.6 L324.7,893.0 L326.1,893.5 L327.1,894.0 L327.8,894.5 L328.0,895.0 L327.8,895.5 L327.2,896.0 L326.2,896.4 L324.8,896.9 L323.2,897.4 L321.3,897.9 L319.2,898.4 L317.0,898.9 L314.7,899.3 L312.5,899.8 L310.3,900.3 L308.2,900.8 L306.3,901.3 L304.5,901.8 L302.9,902.2 L301.6,902.7 L300.4,903.2 L299.3,903.7 L298.5,904.2 L297.8,904.6 L297.2,905.1 L296.7,905.6 L296.4,906.1 L296.1,906.6 L295.9,907.1 L295.7,907.5 L295.6,908.0 L295.5,908.5 L295.4,909.0 L295.3,909.0 Z" fill="#efc852"/>
<line x1="295.3" y1="886.0" x2="295.3" y2="905.0" stroke="#000" stroke-width="2.6"/>
<circle cx="295.3" cy="895.1" r="6.3" fill="#000"/>
<path d="M384.8,927.7 L384.8,927.7 L384.8,928.7 L384.8,929.7 L384.9,930.7 L384.9,931.7 L384.9,932.6 L385.0,933.6 L385.2,934.6 L385.3,935.6 L385.6,936.6 L386.0,937.6 L386.4,938.6 L387.1,939.6 L387.9,940.5 L389.0,941.5 L390.4,942.5 L392.0,943.5 L393.9,944.5 L396.1,945.5 L398.6,946.5 L401.3,947.5 L404.2,948.5 L407.1,949.4 L409.9,950.4 L412.6,951.4 L414.9,952.4 L416.8,953.4 L418.2,954.4 L418.9,955.4 L419.0,956.4 L418.4,957.4 L417.2,958.3 L415.5,959.3 L413.2,960.3 L410.6,961.3 L407.9,962.3 L405.0,963.3 L402.1,964.3 L399.3,965.3 L396.8,966.2 L394.5,967.2 L392.5,968.2 L390.8,969.2 L389.4,970.2 L388.2,971.2 L387.3,972.2 L386.6,973.2 L386.1,974.2 L385.7,975.1 L385.4,976.1 L385.2,977.1 L385.1,978.1 L385.0,979.1 L384.9,980.1 L384.9,981.1 L384.8,982.1 L384.8,983.0 L384.8,984.0 L384.8,985.0 L384.8,986.0 L384.8,987.0 L384.8,987.0 Z" fill="#f5a04a"/>
<line x1="384.8" y1="936.6" x2="384.8" y2="975.0" stroke="#000" stroke-width="2.6"/>
<circle cx="384.8" cy="956.0" r="6.3" fill="#000"/>
<path d="M477.6,920.5 L477.6,920.5 L477.6,921.1 L477.7,921.8 L477.7,922.4 L477.8,923.1 L477.9,923.7 L478.0,924.3 L478.2,925.0 L478.5,925.6 L478.9,926.2 L479.4,926.9 L480.1,927.5 L481.1,928.2 L482.2,928.8 L483.6,929.4 L485.3,930.1 L487.3,930.7 L489.6,931.4 L492.2,932.0 L494.9,932.6 L497.8,933.3 L500.6,933.9 L503.4,934.5 L506.0,935.2 L508.2,935.8 L510.0,936.5 L511.2,937.1 L511.8,937.7 L511.7,938.4 L511.0,939.0 L509.7,939.6 L507.9,940.3 L505.6,940.9 L503.0,941.6 L500.1,942.2 L497.3,942.8 L494.4,943.5 L491.7,944.1 L489.2,944.8 L487.0,945.4 L485.0,946.0 L483.4,946.7 L482.0,947.3 L480.9,947.9 L480.0,948.6 L479.3,949.2 L478.8,949.9 L478.4,950.5 L478.2,951.1 L478.0,951.8 L477.9,952.4 L477.8,953.1 L477.7,953.7 L477.7,954.3 L477.6,955.0 L477.6,955.6 L477.6,956.2 L477.6,956.9 L477.6,957.5 L477.6,958.2 L477.6,958.8 L477.6,958.8 Z" fill="#cf7444"/>
<line x1="477.6" y1="927.0" x2="477.6" y2="950.0" stroke="#000" stroke-width="2.6"/>
<circle cx="477.6" cy="937.8" r="6.3" fill="#000"/>
<path d="M571.0,950.7 L571.0,950.7 L571.0,951.4 L571.0,952.1 L571.0,952.8 L571.1,953.5 L571.1,954.2 L571.2,954.9 L571.3,955.6 L571.4,956.3 L571.6,957.0 L571.9,957.8 L572.4,958.5 L572.9,959.2 L573.7,959.9 L574.6,960.6 L575.9,961.3 L577.4,962.0 L579.2,962.7 L581.3,963.4 L583.7,964.1 L586.3,964.8 L589.1,965.5 L592.0,966.2 L594.8,966.9 L597.5,967.6 L600.0,968.3 L602.0,969.0 L603.4,969.7 L604.3,970.4 L604.5,971.1 L604.0,971.9 L602.9,972.6 L601.2,973.3 L599.0,974.0 L596.5,974.7 L593.7,975.4 L590.8,976.1 L587.9,976.8 L585.2,977.5 L582.7,978.2 L580.4,978.9 L578.4,979.6 L576.7,980.3 L575.3,981.0 L574.2,981.7 L573.3,982.4 L572.7,983.1 L572.2,983.8 L571.8,984.5 L571.5,985.2 L571.4,986.0 L571.2,986.7 L571.1,987.4 L571.1,988.1 L571.1,988.8 L571.0,989.5 L571.0,990.2 L571.0,990.9 L571.0,991.6 L571.0,992.3 L571.0,993.0 L571.0,993.0 Z" fill="#e35452"/>
<line x1="571.0" y1="956.0" x2="571.0" y2="986.0" stroke="#000" stroke-width="2.6"/>
<circle cx="571.0" cy="971.3" r="6.3" fill="#000"/>
<path d="M661.0,960.0 L661.0,960.0 L661.0,960.9 L661.0,961.8 L661.0,962.6 L661.0,963.5 L661.0,964.4 L661.0,965.3 L661.0,966.2 L661.0,967.1 L661.0,968.0 L661.1,968.8 L661.1,969.7 L661.2,970.6 L661.3,971.5 L661.4,972.4 L661.7,973.2 L662.1,974.1 L662.6,975.0 L663.3,975.9 L664.3,976.8 L665.5,977.7 L667.1,978.5 L669.0,979.4 L671.3,980.3 L674.0,981.2 L676.9,982.1 L680.0,983.0 L683.1,983.9 L686.2,984.7 L689.0,985.6 L691.4,986.5 L693.2,987.4 L694.2,988.3 L694.5,989.1 L694.0,990.0 L692.6,990.9 L690.6,991.8 L688.1,992.7 L685.2,993.6 L682.1,994.5 L678.9,995.3 L675.9,996.2 L673.0,997.1 L670.5,998.0 L668.3,998.9 L666.5,999.8 L665.0,1000.6 L663.9,1001.5 L663.0,1002.4 L662.4,1003.3 L661.9,1004.2 L661.6,1005.0 L661.4,1005.9 L661.2,1006.8 L661.1,1007.7 L661.1,1008.6 L661.0,1009.5 L661.0,1010.4 L661.0,1011.2 L661.0,1012.1 L661.0,1013.0 L661.0,1013.0 Z" fill="#8c3a2b"/>
<line x1="661.0" y1="968.0" x2="661.0" y2="1005.0" stroke="#000" stroke-width="2.6"/>
<circle cx="661.0" cy="989.0" r="6.3" fill="#000"/>
<text x="298.0" y="938.4" font-size="26" text-anchor="middle" fill="#231f20">0.00</text>
<text x="380.0" y="1017.4" font-size="26" text-anchor="middle" fill="#231f20">-0.13</text>
<text x="481.6" y="998.0" font-size="26" text-anchor="middle" fill="#231f20">-0.09</text>
<text x="571.0" y="1026.3" font-size="26" text-anchor="middle" fill="#231f20">-0.17</text>
<text x="659.0" y="1034.4" font-size="26" text-anchor="middle" fill="#231f20">-0.20</text>
<circle cx="852.2" cy="701.9" r="7.4" fill="#b9b6b7" fill-opacity="0.72"/>
<circle cx="839.6" cy="710.3" r="7.4" fill="#b9b6b7" fill-opacity="0.72"/>
<circle cx="865.5" cy="714.1" r="7.4" fill="#b9b6b7" fill-opacity="0.72"/>
<circle cx="831.2" cy="719.8" r="7.4" fill="#b9b6b7" fill-opacity="0.72"/>
<circle cx="846.5" cy="719.8" r="7.4" fill="#b9b6b7" fill-opacity="0.72"/>
<circle cx="857.9" cy="721.7" r="7.4" fill="#b9b6b7" fill-opacity="0.72"/>
<circle cx="871.2" cy="725.5" r="7.4" fill="#b9b6b7" fill-opacity="0.72"/>
<circle cx="837.0" cy="728.5" r="7.4" fill="#b9b6b7" fill-opacity="0.72"/>
<circle cx="852.2" cy="731.2" r="7.4" fill="#b9b6b7" fill-opacity="0.72"/>
<circle cx="861.7" cy="729.3" r="7.4" fill="#b9b6b7" fill-opacity="0.72"/>
<circle cx="842.7" cy="714.1" r="7.4" fill="#b9b6b7" fill-opacity="0.72"/>
<circle cx="854.1" cy="712.2" r="7.4" fill="#b9b6b7" fill-opacity="0.72"/>
<circle cx="826.0" cy="716.0" r="7.4" fill="#b9b6b7" fill-opacity="0.72"/>
<circle cx="874.0" cy="716.0" r="7.4" fill="#b9b6b7" fill-opacity="0.72"/>
<circle cx="845.0" cy="735.0" r="7.4" fill="#b9b6b7" fill-opacity="0.72"/>
<circle cx="858.0" cy="737.0" r="7.4" fill="#b9b6b7" fill-opacity="0.72"/>
<circle cx="850.0" cy="724.0" r="7.4" fill="#b9b6b7" fill-opacity="0.72"/>
<circle cx="866.0" cy="731.0" r="7.4" fill="#b9b6b7" fill-opacity="0.72"/>
<circle cx="834.0" cy="731.0" r="7.4" fill="#b9b6b7" fill-opacity="0.72"/>
<circle cx="848.0" cy="708.0" r="7.4" fill="#b9b6b7" fill-opacity="0.72"/>
<circle cx="946.8" cy="718.7" r="7.4" fill="#ebc03c" fill-opacity="0.72"/>
<circle cx="937.1" cy="723.6" r="7.4" fill="#ebc03c" fill-opacity="0.72"/>
<circle cx="946.8" cy="728.4" r="7.4" fill="#ebc03c" fill-opacity="0.72"/>
<circle cx="942.0" cy="722.0" r="7.4" fill="#ebc03c" fill-opacity="0.72"/>
<circle cx="1029.0" cy="725.0" r="7.4" fill="#e8a06a" fill-opacity="0.72"/>
<circle cx="1022.6" cy="731.6" r="7.4" fill="#e8a06a" fill-opacity="0.72"/>
<circle cx="1038.7" cy="733.2" r="7.4" fill="#e8a06a" fill-opacity="0.72"/>
<circle cx="1030.6" cy="734.8" r="7.4" fill="#e8a06a" fill-opacity="0.72"/>
<circle cx="1025.8" cy="741.3" r="7.4" fill="#f28a32" fill-opacity="0.72"/>
<circle cx="1042.0" cy="742.9" r="7.4" fill="#f28a32" fill-opacity="0.72"/>
<circle cx="1032.3" cy="746.1" r="7.4" fill="#f28a32" fill-opacity="0.72"/>
<circle cx="1022.6" cy="754.2" r="7.4" fill="#f28a32" fill-opacity="0.72"/>
<circle cx="1033.9" cy="755.8" r="7.4" fill="#f28a32" fill-opacity="0.72"/>
<circle cx="1037.0" cy="738.0" r="7.4" fill="#f28a32" fill-opacity="0.72"/>
<circle cx="1124.2" cy="736.5" r="7.4" fill="#d27a48" fill-opacity="0.72"/>
<circle cx="1116.1" cy="749.4" r="7.4" fill="#d27a48" fill-opacity="0.72"/>
<circle cx="1125.8" cy="751.0" r="7.4" fill="#d27a48" fill-opacity="0.72"/>
<circle cx="1211.3" cy="736.5" r="7.4" fill="#e23232" fill-opacity="0.72"/>
<circle cx="1201.6" cy="749.4" r="7.4" fill="#e23232" fill-opacity="0.72"/>
<circle cx="1216.1" cy="744.5" r="7.4" fill="#e23232" fill-opacity="0.72"/>
<circle cx="1229.0" cy="744.5" r="7.4" fill="#e23232" fill-opacity="0.72"/>
<circle cx="1208.0" cy="747.7" r="7.4" fill="#e23232" fill-opacity="0.72"/>
<circle cx="1219.4" cy="757.4" r="7.4" fill="#e23232" fill-opacity="0.72"/>
<circle cx="1213.0" cy="760.6" r="7.4" fill="#e23232" fill-opacity="0.72"/>
<circle cx="1222.6" cy="752.6" r="7.4" fill="#e23232" fill-opacity="0.72"/>
<circle cx="1203.2" cy="742.9" r="7.4" fill="#e23232" fill-opacity="0.72"/>
<circle cx="1296.8" cy="746.1" r="7.4" fill="#a24c3a" fill-opacity="0.72"/>
<circle cx="1306.5" cy="741.3" r="7.4" fill="#a24c3a" fill-opacity="0.72"/>
<circle cx="1314.6" cy="749.4" r="7.4" fill="#a24c3a" fill-opacity="0.72"/>
<circle cx="1303.3" cy="754.2" r="7.4" fill="#a24c3a" fill-opacity="0.72"/>
<circle cx="1298.4" cy="763.9" r="7.4" fill="#a24c3a" fill-opacity="0.72"/>
<circle cx="1308.1" cy="768.7" r="7.4" fill="#a24c3a" fill-opacity="0.72"/>
<circle cx="1311.3" cy="746.1" r="7.4" fill="#a24c3a" fill-opacity="0.72"/>
<rect x="927.4" y="717.3" width="26.6" height="5.1" fill="#cfcbca" fill-opacity="0.7"/>
<rect x="1016.8" y="717.3" width="26.6" height="21.5" fill="#cfcbca" fill-opacity="0.7"/>
<rect x="1111.5" y="717.3" width="26.5" height="29.1" fill="#cfcbca" fill-opacity="0.7"/>
<rect x="1203.8" y="717.3" width="26.7" height="34.7" fill="#cfcbca" fill-opacity="0.7"/>
<rect x="1292.4" y="717.3" width="26.6" height="36.7" fill="#cfcbca" fill-opacity="0.7"/>
<line x1="774.2" y1="717.3" x2="1356" y2="717.3" stroke="#000" stroke-width="2"/>
<line x1="774.2" y1="716.3" x2="774.2" y2="842.2" stroke="#000" stroke-width="2"/>
<line x1="767.6" y1="717.3" x2="774.2" y2="717.3" stroke="#000" stroke-width="2"/>
<line x1="767.6" y1="767.3" x2="774.2" y2="767.3" stroke="#000" stroke-width="2"/>
<line x1="767.6" y1="817.3" x2="774.2" y2="817.3" stroke="#000" stroke-width="2"/>
<line x1="774.2" y1="895.0" x2="1356" y2="895.0" stroke="#000" stroke-width="2"/>
<line x1="774.2" y1="894" x2="774.2" y2="988" stroke="#000" stroke-width="2"/>
<line x1="767.6" y1="895.0" x2="774.2" y2="895.0" stroke="#000" stroke-width="2"/>
<line x1="767.6" y1="941.0" x2="774.2" y2="941.0" stroke="#000" stroke-width="2"/>
<line x1="767.6" y1="987.0" x2="774.2" y2="987.0" stroke="#000" stroke-width="2"/>
<circle cx="854" cy="894.8" r="9.2" fill="#b3b0b1"/>
<path d="M940.7,877.5 L940.7,877.5 L940.7,878.2 L940.7,878.8 L940.8,879.5 L940.8,880.2 L940.9,880.8 L940.9,881.5 L941.1,882.2 L941.3,882.8 L941.5,883.5 L941.8,884.2 L942.3,884.8 L942.9,885.5 L943.7,886.2 L944.7,886.8 L946.0,887.5 L947.4,888.2 L949.2,888.8 L951.2,889.5 L953.5,890.2 L955.9,890.8 L958.6,891.5 L961.3,892.2 L963.9,892.8 L966.5,893.5 L968.8,894.2 L970.8,894.8 L972.3,895.5 L973.4,896.2 L973.8,896.8 L973.7,897.5 L972.9,898.2 L971.6,898.8 L969.9,899.5 L967.7,900.2 L965.2,900.8 L962.6,901.5 L959.9,902.2 L957.2,902.8 L954.7,903.5 L952.3,904.2 L950.2,904.8 L948.3,905.5 L946.7,906.2 L945.3,906.8 L944.2,907.5 L943.3,908.2 L942.6,908.8 L942.1,909.5 L941.7,910.2 L941.4,910.8 L941.2,911.5 L941.0,912.2 L940.9,912.8 L940.8,913.5 L940.8,914.2 L940.8,914.8 L940.7,915.5 L940.7,916.2 L940.7,916.8 L940.7,917.5 L940.7,917.5 Z" fill="#efc852"/>
<line x1="940.7" y1="886.0" x2="940.7" y2="912.0" stroke="#000" stroke-width="2.6"/>
<circle cx="940.7" cy="899.6" r="6.3" fill="#000"/>
<path d="M1032.0,913.7 L1032.0,913.7 L1032.1,914.4 L1032.1,915.1 L1032.2,915.8 L1032.3,916.5 L1032.4,917.2 L1032.6,917.9 L1032.9,918.6 L1033.3,919.3 L1033.8,920.0 L1034.5,920.7 L1035.4,921.4 L1036.6,922.1 L1038.0,922.8 L1039.7,923.5 L1041.7,924.2 L1044.0,924.8 L1046.6,925.5 L1049.4,926.2 L1052.3,926.9 L1055.2,927.6 L1058.0,928.3 L1060.6,929.0 L1062.8,929.7 L1064.5,930.4 L1065.7,931.1 L1066.2,931.8 L1066.0,932.5 L1065.2,933.2 L1063.8,933.9 L1061.8,934.6 L1059.4,935.3 L1056.7,936.0 L1053.8,936.7 L1050.9,937.4 L1048.1,938.1 L1045.4,938.8 L1042.9,939.5 L1040.8,940.2 L1038.9,940.9 L1037.3,941.6 L1036.0,942.3 L1034.9,943.0 L1034.1,943.7 L1033.5,944.4 L1033.1,945.0 L1032.7,945.7 L1032.5,946.4 L1032.3,947.1 L1032.2,947.8 L1032.1,948.5 L1032.1,949.2 L1032.0,949.9 L1032.0,950.6 L1032.0,951.3 L1032.0,952.0 L1032.0,952.7 L1032.0,953.4 L1032.0,954.1 L1032.0,954.8 L1032.0,955.5 L1032.0,955.5 Z" fill="#f5a04a"/>
<line x1="1032.0" y1="919.0" x2="1032.0" y2="945.0" stroke="#000" stroke-width="2.6"/>
<circle cx="1032.0" cy="931.5" r="6.3" fill="#000"/>
<path d="M1124.0,915.6 L1124.0,915.6 L1124.0,916.4 L1124.0,917.2 L1124.0,918.1 L1124.0,918.9 L1124.0,919.7 L1124.0,920.5 L1124.0,921.4 L1124.0,922.2 L1124.1,923.0 L1124.1,923.8 L1124.2,924.7 L1124.3,925.5 L1124.4,926.3 L1124.7,927.1 L1125.0,928.0 L1125.4,928.8 L1126.1,929.6 L1126.9,930.4 L1127.9,931.2 L1129.3,932.1 L1130.9,932.9 L1132.9,933.7 L1135.2,934.5 L1137.7,935.4 L1140.6,936.2 L1143.5,937.0 L1146.5,937.8 L1149.5,938.7 L1152.2,939.5 L1154.5,940.3 L1156.4,941.1 L1157.6,941.9 L1158.2,942.8 L1158.0,943.6 L1157.2,944.4 L1155.6,945.2 L1153.6,946.1 L1151.0,946.9 L1148.2,947.7 L1145.2,948.5 L1142.2,949.4 L1139.3,950.2 L1136.6,951.0 L1134.1,951.8 L1132.0,952.6 L1130.2,953.5 L1128.7,954.3 L1127.4,955.1 L1126.5,955.9 L1125.8,956.8 L1125.2,957.6 L1124.8,958.4 L1124.6,959.2 L1124.4,960.1 L1124.2,960.9 L1124.1,961.7 L1124.1,962.5 L1124.1,963.4 L1124.0,964.2 L1124.0,965.0 L1124.0,965.0 Z" fill="#cf7444"/>
<line x1="1124.0" y1="921.0" x2="1124.0" y2="955.0" stroke="#000" stroke-width="2.6"/>
<circle cx="1124.0" cy="943.0" r="6.3" fill="#000"/>
<path d="M1215.3,930.8 L1215.3,930.8 L1215.3,931.5 L1215.3,932.1 L1215.3,932.8 L1215.4,933.5 L1215.4,934.1 L1215.4,934.8 L1215.5,935.5 L1215.7,936.1 L1215.8,936.8 L1216.1,937.4 L1216.5,938.1 L1217.0,938.8 L1217.7,939.4 L1218.7,940.1 L1219.9,940.8 L1221.3,941.4 L1223.1,942.1 L1225.2,942.8 L1227.6,943.4 L1230.3,944.1 L1233.2,944.8 L1236.2,945.4 L1239.1,946.1 L1242.0,946.8 L1244.5,947.4 L1246.7,948.1 L1248.3,948.8 L1249.2,949.4 L1249.5,950.1 L1249.1,950.8 L1247.9,951.4 L1246.2,952.1 L1243.9,952.7 L1241.3,953.4 L1238.4,954.1 L1235.4,954.7 L1232.4,955.4 L1229.6,956.1 L1227.0,956.7 L1224.7,957.4 L1222.6,958.1 L1220.9,958.7 L1219.5,959.4 L1218.4,960.1 L1217.5,960.7 L1216.9,961.4 L1216.4,962.1 L1216.0,962.7 L1215.8,963.4 L1215.6,964.1 L1215.5,964.7 L1215.4,965.4 L1215.4,966.0 L1215.3,966.7 L1215.3,967.4 L1215.3,968.0 L1215.3,968.7 L1215.3,969.4 L1215.3,970.0 L1215.3,970.7 L1215.3,970.7 Z" fill="#e35452"/>
<line x1="1215.3" y1="937.0" x2="1215.3" y2="964.0" stroke="#000" stroke-width="2.6"/>
<circle cx="1215.3" cy="950.5" r="6.3" fill="#000"/>
<path d="M1307.3,930.0 L1307.3,930.0 L1307.3,930.9 L1307.3,931.7 L1307.3,932.6 L1307.3,933.5 L1307.3,934.3 L1307.3,935.2 L1307.4,936.1 L1307.4,936.9 L1307.5,937.8 L1307.6,938.7 L1307.8,939.5 L1308.0,940.4 L1308.4,941.3 L1309.0,942.1 L1309.7,943.0 L1310.6,943.9 L1311.9,944.7 L1313.5,945.6 L1315.4,946.5 L1317.6,947.3 L1320.2,948.2 L1323.1,949.1 L1326.1,949.9 L1329.2,950.8 L1332.2,951.7 L1335.0,952.5 L1337.4,953.4 L1339.2,954.3 L1340.3,955.1 L1340.7,956.0 L1340.3,956.9 L1339.2,957.7 L1337.4,958.6 L1335.0,959.5 L1332.2,960.3 L1329.2,961.2 L1326.1,962.1 L1323.1,962.9 L1320.2,963.8 L1317.6,964.7 L1315.4,965.5 L1313.5,966.4 L1311.9,967.3 L1310.6,968.1 L1309.7,969.0 L1309.0,969.9 L1308.4,970.7 L1308.0,971.6 L1307.8,972.5 L1307.6,973.3 L1307.5,974.2 L1307.4,975.1 L1307.4,975.9 L1307.3,976.8 L1307.3,977.7 L1307.3,978.5 L1307.3,979.4 L1307.3,980.3 L1307.3,981.1 L1307.3,982.0 L1307.3,982.0 Z" fill="#8c3a2b"/>
<line x1="1307.3" y1="942.0" x2="1307.3" y2="972.0" stroke="#000" stroke-width="2.6"/>
<circle cx="1307.3" cy="956.6" r="6.3" fill="#000"/>
<text x="937.7" y="947.7" font-size="26" text-anchor="middle" fill="#231f20">-0.01</text>
<text x="1032.0" y="983.0" font-size="26" text-anchor="middle" fill="#231f20">-0.08</text>
<text x="1118.3" y="1001.4" font-size="26" text-anchor="middle" fill="#231f20">-0.10</text>
<text x="1209.5" y="1004.0" font-size="26" text-anchor="middle" fill="#231f20">-0.12</text>
<text x="1304.6" y="1008.6" font-size="26" text-anchor="middle" fill="#231f20">-0.13</text>
<circle cx="1492.0" cy="711.0" r="7.4" fill="#b9b6b7" fill-opacity="0.72"/>
<circle cx="1485.0" cy="720.0" r="7.4" fill="#b9b6b7" fill-opacity="0.72"/>
<circle cx="1500.0" cy="718.0" r="7.4" fill="#b9b6b7" fill-opacity="0.72"/>
<circle cx="1508.0" cy="722.0" r="7.4" fill="#b9b6b7" fill-opacity="0.72"/>
<circle cx="1480.0" cy="730.0" r="7.4" fill="#b9b6b7" fill-opacity="0.72"/>
<circle cx="1490.0" cy="733.0" r="7.4" fill="#b9b6b7" fill-opacity="0.72"/>
<circle cx="1502.0" cy="732.0" r="7.4" fill="#b9b6b7" fill-opacity="0.72"/>
<circle cx="1496.0" cy="726.0" r="7.4" fill="#b9b6b7" fill-opacity="0.72"/>
<circle cx="1486.0" cy="738.0" r="7.4" fill="#b9b6b7" fill-opacity="0.72"/>
<circle cx="1500.0" cy="739.0" r="7.4" fill="#b9b6b7" fill-opacity="0.72"/>
<circle cx="1510.0" cy="735.0" r="7.4" fill="#b9b6b7" fill-opacity="0.72"/>
<circle cx="1478.0" cy="737.0" r="7.4" fill="#b9b6b7" fill-opacity="0.72"/>
<circle cx="1582.0" cy="715.2" r="7.4" fill="#ebc03c" fill-opacity="0.72"/>
<circle cx="1590.0" cy="720.5" r="7.4" fill="#ebc03c" fill-opacity="0.72"/>
<circle cx="1581.0" cy="739.5" r="7.4" fill="#ebc03c" fill-opacity="0.72"/>
<circle cx="1589.3" cy="740.2" r="7.4" fill="#ebc03c" fill-opacity="0.72"/>
<circle cx="1666.9" cy="746.0" r="7.4" fill="#d27a48" fill-opacity="0.72"/>
<circle cx="1676.2" cy="747.4" r="7.4" fill="#d27a48" fill-opacity="0.72"/>
<circle cx="1676.2" cy="763.5" r="7.4" fill="#f28a32" fill-opacity="0.72"/>
<circle cx="1763.8" cy="785.3" r="7.4" fill="#d27a48" fill-opacity="0.72"/>
<circle cx="1769.2" cy="792.4" r="7.4" fill="#d27a48" fill-opacity="0.72"/>
<circle cx="1761.0" cy="799.2" r="7.4" fill="#c8602e" fill-opacity="0.72"/>
<circle cx="1770.0" cy="803.9" r="7.4" fill="#c8602e" fill-opacity="0.72"/>
<circle cx="1854.0" cy="777.0" r="7.4" fill="#e23232" fill-opacity="0.72"/>
<circle cx="1863.6" cy="777.0" r="7.4" fill="#e23232" fill-opacity="0.72"/>
<circle cx="1873.0" cy="776.0" r="7.4" fill="#e23232" fill-opacity="0.72"/>
<circle cx="1940.9" cy="753.8" r="7.4" fill="#a24c3a" fill-opacity="0.72"/>
<circle cx="1950.5" cy="755.6" r="7.4" fill="#a24c3a" fill-opacity="0.72"/>
<circle cx="1958.8" cy="753.1" r="7.4" fill="#a24c3a" fill-opacity="0.72"/>
<rect x="1571.4" y="717.3" width="26.8" height="11.5" fill="#cfcbca" fill-opacity="0.7"/>
<rect x="1661.5" y="717.3" width="26.8" height="35.4" fill="#cfcbca" fill-opacity="0.7"/>
<rect x="1754.9" y="717.3" width="26.8" height="78.4" fill="#cfcbca" fill-opacity="0.7"/>
<rect x="1847.1" y="717.3" width="26.9" height="60.5" fill="#cfcbca" fill-opacity="0.7"/>
<rect x="1937.0" y="717.3" width="26.8" height="37.6" fill="#cfcbca" fill-opacity="0.7"/>
<line x1="1417.6" y1="717.3" x2="2001" y2="717.3" stroke="#000" stroke-width="2"/>
<line x1="1417.6" y1="716.3" x2="1417.6" y2="845.7" stroke="#000" stroke-width="2"/>
<line x1="1411.0" y1="717.3" x2="1417.6" y2="717.3" stroke="#000" stroke-width="2"/>
<line x1="1411.0" y1="767.3" x2="1417.6" y2="767.3" stroke="#000" stroke-width="2"/>
<line x1="1411.0" y1="817.3" x2="1417.6" y2="817.3" stroke="#000" stroke-width="2"/>
<line x1="1417.6" y1="895.0" x2="2001" y2="895.0" stroke="#000" stroke-width="2"/>
<line x1="1417.6" y1="894" x2="1417.6" y2="988" stroke="#000" stroke-width="2"/>
<line x1="1411.0" y1="895.0" x2="1417.6" y2="895.0" stroke="#000" stroke-width="2"/>
<line x1="1411.0" y1="941.0" x2="1417.6" y2="941.0" stroke="#000" stroke-width="2"/>
<line x1="1411.0" y1="987.0" x2="1417.6" y2="987.0" stroke="#000" stroke-width="2"/>
<circle cx="1497" cy="895.1" r="9.6" fill="#b3b0b1"/>
<path d="M1585.0,871.9 L1585.3,871.9 L1585.7,872.8 L1586.4,873.6 L1587.6,874.5 L1589.5,875.4 L1592.1,876.2 L1595.2,877.1 L1598.3,877.9 L1600.9,878.8 L1602.3,879.7 L1602.1,880.5 L1600.4,881.4 L1597.6,882.3 L1594.5,883.1 L1591.6,884.0 L1589.4,884.9 L1588.1,885.7 L1588.0,886.6 L1589.0,887.4 L1591.2,888.3 L1594.5,889.2 L1598.7,890.0 L1603.0,890.9 L1606.6,891.8 L1608.8,892.6 L1609.3,893.5 L1608.5,894.3 L1607.3,895.2 L1607.1,896.1 L1608.7,896.9 L1611.9,897.8 L1615.6,898.7 L1617.9,899.5 L1617.4,900.4 L1614.0,901.3 L1608.6,902.1 L1603.0,903.0 L1598.6,903.8 L1596.4,904.7 L1596.2,905.6 L1597.5,906.4 L1599.6,907.3 L1601.7,908.2 L1603.3,909.0 L1604.0,909.9 L1603.5,910.8 L1602.1,911.6 L1599.8,912.5 L1597.1,913.3 L1594.3,914.2 L1591.8,915.1 L1589.6,915.9 L1588.0,916.8 L1586.8,917.7 L1586.0,918.5 L1585.6,919.4 L1585.3,920.2 L1585.1,921.1 L1585.1,922.0 L1585.0,922.8 L1585.0,923.7 L1585.0,923.7 Z" fill="#efc852"/>
<line x1="1585.0" y1="878.3" x2="1585.0" y2="919.0" stroke="#000" stroke-width="2.6"/>
<circle cx="1585.0" cy="898.7" r="5.6" fill="#000"/>
<path d="M1676.9,923.7 L1678.8,923.7 L1680.1,924.4 L1681.9,925.1 L1684.5,925.8 L1687.5,926.6 L1690.9,927.3 L1694.2,928.0 L1696.9,928.7 L1698.7,929.4 L1699.1,930.1 L1698.1,930.9 L1696.0,931.6 L1693.0,932.3 L1689.7,933.0 L1686.7,933.7 L1684.4,934.4 L1683.5,935.1 L1684.2,935.9 L1687.0,936.6 L1691.7,937.3 L1697.7,938.0 L1703.6,938.7 L1707.8,939.4 L1709.0,940.1 L1706.9,940.9 L1702.4,941.6 L1697.1,942.3 L1692.5,943.0 L1689.8,943.7 L1689.1,944.4 L1690.0,945.2 L1691.9,945.9 L1694.0,946.6 L1695.6,947.3 L1696.2,948.0 L1695.8,948.7 L1694.5,949.4 L1692.6,950.2 L1690.7,950.9 L1689.2,951.6 L1688.3,952.3 L1688.1,953.0 L1688.5,953.7 L1689.2,954.4 L1689.8,955.2 L1690.0,955.9 L1689.5,956.6 L1688.4,957.3 L1686.8,958.0 L1684.9,958.7 L1682.9,959.5 L1681.2,960.2 L1679.8,960.9 L1678.7,961.6 L1678.0,962.3 L1677.5,963.0 L1677.2,963.7 L1677.0,964.5 L1677.0,965.2 L1676.9,965.9 L1676.9,966.6 L1676.9,966.6 Z" fill="#f5a04a"/>
<line x1="1676.9" y1="927.3" x2="1676.9" y2="962.0" stroke="#000" stroke-width="2.6"/>
<circle cx="1676.9" cy="940.5" r="5.8" fill="#000"/>
<path d="M1768.8,996.3 L1768.8,996.3 L1768.9,997.0 L1768.9,997.7 L1768.9,998.3 L1769.0,999.0 L1769.1,999.7 L1769.2,1000.4 L1769.4,1001.0 L1769.7,1001.7 L1770.0,1002.4 L1770.4,1003.1 L1770.9,1003.8 L1771.6,1004.4 L1772.4,1005.1 L1773.4,1005.8 L1774.6,1006.5 L1776.0,1007.2 L1777.6,1007.8 L1779.4,1008.5 L1781.4,1009.2 L1783.5,1009.9 L1785.8,1010.5 L1788.2,1011.2 L1790.6,1011.9 L1792.9,1012.6 L1795.0,1013.3 L1797.0,1013.9 L1798.7,1014.6 L1800.0,1015.3 L1800.9,1016.0 L1801.4,1016.6 L1801.4,1017.3 L1800.9,1018.0 L1800.0,1018.7 L1798.7,1019.4 L1797.1,1020.0 L1795.1,1020.7 L1792.9,1021.4 L1790.6,1022.1 L1788.3,1022.8 L1785.9,1023.4 L1783.6,1024.1 L1781.5,1024.8 L1779.4,1025.5 L1777.6,1026.1 L1776.0,1026.8 L1774.6,1027.5 L1773.4,1028.2 L1772.4,1028.9 L1771.6,1029.5 L1770.9,1030.2 L1770.4,1030.9 L1770.0,1031.6 L1769.7,1032.3 L1769.4,1032.9 L1769.2,1033.6 L1769.1,1034.3 L1769.0,1035.0 L1768.9,1035.6 L1768.9,1036.3 L1768.9,1037.0 L1768.8,1037.0 Z" fill="#e05a3c"/>
<line x1="1768.8" y1="1003.5" x2="1768.8" y2="1031.0" stroke="#000" stroke-width="2.6"/>
<circle cx="1768.8" cy="1017.4" r="6.3" fill="#000"/>
<path d="M1860.0,977.0 L1860.3,977.0 L1860.5,977.3 L1860.6,977.5 L1860.8,977.8 L1861.1,978.1 L1861.5,978.3 L1861.9,978.6 L1862.4,978.8 L1863.1,979.1 L1863.9,979.4 L1864.8,979.6 L1865.9,979.9 L1867.2,980.2 L1868.6,980.4 L1870.2,980.7 L1871.9,981.0 L1873.8,981.2 L1875.8,981.5 L1877.9,981.7 L1880.0,982.0 L1882.2,982.3 L1884.3,982.5 L1886.3,982.8 L1888.1,983.1 L1889.8,983.3 L1891.1,983.6 L1892.2,983.8 L1892.9,984.1 L1893.3,984.4 L1893.3,984.6 L1892.9,984.9 L1892.2,985.2 L1891.1,985.4 L1889.7,985.7 L1888.1,986.0 L1886.2,986.2 L1884.2,986.5 L1882.1,986.7 L1880.0,987.0 L1877.8,987.3 L1875.7,987.5 L1873.7,987.8 L1871.8,988.1 L1870.1,988.3 L1868.5,988.6 L1867.1,988.8 L1865.9,989.1 L1864.8,989.4 L1863.9,989.6 L1863.1,989.9 L1862.4,990.2 L1861.9,990.4 L1861.5,990.7 L1861.1,991.0 L1860.8,991.2 L1860.6,991.5 L1860.5,991.7 L1860.3,992.0 L1860.2,992.3 L1860.2,992.5 L1860.1,992.8 L1860.0,992.8 Z" fill="#e35452"/>
<line x1="1860.0" y1="979.0" x2="1860.0" y2="990.0" stroke="#000" stroke-width="2.6"/>
<circle cx="1860.0" cy="984.5" r="5.4" fill="#000"/>
<path d="M1951.6,936.2 L1952.1,936.2 L1952.3,936.5 L1952.5,936.8 L1952.8,937.1 L1953.2,937.4 L1953.7,937.7 L1954.3,938.0 L1955.0,938.3 L1955.9,938.6 L1956.9,938.9 L1958.1,939.2 L1959.5,939.5 L1961.1,939.8 L1962.8,940.1 L1964.7,940.4 L1966.7,940.7 L1968.9,940.9 L1971.0,941.2 L1973.2,941.5 L1975.4,941.8 L1977.5,942.1 L1979.4,942.4 L1981.0,942.7 L1982.4,943.0 L1983.5,943.3 L1984.2,943.6 L1984.5,943.9 L1984.4,944.2 L1983.9,944.5 L1983.1,944.8 L1981.9,945.1 L1980.4,945.4 L1978.6,945.7 L1976.6,946.0 L1974.5,946.3 L1972.3,946.6 L1970.1,946.9 L1968.0,947.2 L1965.9,947.5 L1963.9,947.8 L1962.1,948.1 L1960.4,948.4 L1958.9,948.7 L1957.6,949.0 L1956.5,949.3 L1955.5,949.5 L1954.7,949.8 L1954.0,950.1 L1953.5,950.4 L1953.0,950.7 L1952.7,951.0 L1952.4,951.3 L1952.2,951.6 L1952.0,951.9 L1951.9,952.2 L1951.8,952.5 L1951.8,952.8 L1951.7,953.1 L1951.7,953.4 L1951.6,953.7 L1951.6,954.0 L1951.6,954.0 Z" fill="#8c3a2b"/>
<line x1="1951.6" y1="939.0" x2="1951.6" y2="950.0" stroke="#000" stroke-width="2.6"/>
<circle cx="1951.6" cy="944.1" r="5.4" fill="#000"/>
<text x="1584.6" y="958.0" font-size="26" text-anchor="middle" fill="#231f20">-0.01</text>
<text x="1676.9" y="1001.0" font-size="26" text-anchor="middle" fill="#231f20">-0.10</text>
<text x="1768.0" y="980.9" font-size="26" text-anchor="middle" fill="#231f20">-0.27</text>
<text x="1863.0" y="1026.7" font-size="26" text-anchor="middle" fill="#231f20">-0.20</text>
<text x="1956.0" y="985.5" font-size="26" text-anchor="middle" fill="#231f20">-0.11</text>
<text x="0.0" y="1077.7" font-size="28.5" fill="#231f20">Genotype</text>
<text x="0.0" y="1115.8" font-size="26.5" fill="#231f20">ATR (mM)</text>
<rect x="155.5" y="1045.6" width="552.8" height="73.30000000000018" fill="none" stroke="#a9a9a9" stroke-width="1.7"/>
<line x1="155.5" y1="1095.2" x2="708.3" y2="1095.2" stroke="#a9a9a9" stroke-width="1.7"/>
<line x1="248" y1="1045.6" x2="248" y2="1118.9" stroke="#a9a9a9" stroke-width="1.7"/>
<line x1="340" y1="1095.2" x2="340" y2="1118.9" stroke="#a9a9a9" stroke-width="1.7"/>
<line x1="430.5" y1="1095.2" x2="430.5" y2="1118.9" stroke="#a9a9a9" stroke-width="1.7"/>
<line x1="523.8" y1="1095.2" x2="523.8" y2="1118.9" stroke="#a9a9a9" stroke-width="1.7"/>
<line x1="615" y1="1095.2" x2="615" y2="1118.9" stroke="#a9a9a9" stroke-width="1.7"/>
<text x="203.8" y="1080.5" font-size="26.5" text-anchor="middle" fill="#231f20">WT</text>
<text x="481.0" y="1079.5" font-size="27" font-style="italic" text-anchor="middle" fill="#2b2829" textLength="182.5" lengthAdjust="spacingAndGlyphs">snt1-P&gt;ACR1</text>
<text x="201.8" y="1115.8" font-size="26" text-anchor="middle" fill="#231f20">0</text>
<text x="294.0" y="1115.8" font-size="26" text-anchor="middle" fill="#231f20">0</text>
<text x="385.2" y="1115.8" font-size="26" text-anchor="middle" fill="#231f20">0.25</text>
<text x="477.1" y="1115.8" font-size="26" text-anchor="middle" fill="#231f20">0.5</text>
<text x="569.4" y="1115.8" font-size="26" text-anchor="middle" fill="#231f20">1.0</text>
<text x="661.6" y="1115.8" font-size="26" text-anchor="middle" fill="#231f20">2.0</text>
<rect x="801.4" y="1045.6" width="553.6" height="73.30000000000018" fill="none" stroke="#a9a9a9" stroke-width="1.7"/>
<line x1="801.4" y1="1095.2" x2="1355" y2="1095.2" stroke="#a9a9a9" stroke-width="1.7"/>
<line x1="893.6" y1="1045.6" x2="893.6" y2="1118.9" stroke="#a9a9a9" stroke-width="1.7"/>
<line x1="986" y1="1095.2" x2="986" y2="1118.9" stroke="#a9a9a9" stroke-width="1.7"/>
<line x1="1076.4" y1="1095.2" x2="1076.4" y2="1118.9" stroke="#a9a9a9" stroke-width="1.7"/>
<line x1="1169.2" y1="1095.2" x2="1169.2" y2="1118.9" stroke="#a9a9a9" stroke-width="1.7"/>
<line x1="1261.4" y1="1095.2" x2="1261.4" y2="1118.9" stroke="#a9a9a9" stroke-width="1.7"/>
<text x="847.5" y="1080.5" font-size="26.5" text-anchor="middle" fill="#231f20">WT</text>
<text x="1128.0" y="1079.5" font-size="27" font-style="italic" text-anchor="middle" fill="#2b2829" textLength="233" lengthAdjust="spacingAndGlyphs">snt1-P&gt;KCR1-ET</text>
<text x="847.5" y="1115.8" font-size="26" text-anchor="middle" fill="#231f20">0</text>
<text x="939.8" y="1115.8" font-size="26" text-anchor="middle" fill="#231f20">0</text>
<text x="1031.2" y="1115.8" font-size="26" text-anchor="middle" fill="#231f20">0.25</text>
<text x="1122.8" y="1115.8" font-size="26" text-anchor="middle" fill="#231f20">0.5</text>
<text x="1215.3" y="1115.8" font-size="26" text-anchor="middle" fill="#231f20">1.0</text>
<text x="1308.2" y="1115.8" font-size="26" text-anchor="middle" fill="#231f20">2.0</text>
<rect x="1446.8" y="1045.6" width="557.2" height="73.30000000000018" fill="none" stroke="#a9a9a9" stroke-width="1.7"/>
<line x1="1446.8" y1="1095.2" x2="2004" y2="1095.2" stroke="#a9a9a9" stroke-width="1.7"/>
<line x1="1538.8" y1="1045.6" x2="1538.8" y2="1118.9" stroke="#a9a9a9" stroke-width="1.7"/>
<line x1="1630.9" y1="1095.2" x2="1630.9" y2="1118.9" stroke="#a9a9a9" stroke-width="1.7"/>
<line x1="1722.2" y1="1095.2" x2="1722.2" y2="1118.9" stroke="#a9a9a9" stroke-width="1.7"/>
<line x1="1815" y1="1095.2" x2="1815" y2="1118.9" stroke="#a9a9a9" stroke-width="1.7"/>
<line x1="1906.3" y1="1095.2" x2="1906.3" y2="1118.9" stroke="#a9a9a9" stroke-width="1.7"/>
<text x="1492.8" y="1080.5" font-size="26.5" text-anchor="middle" fill="#231f20">WT</text>
<text x="1775.0" y="1079.5" font-size="27" font-style="italic" text-anchor="middle" fill="#2b2829" textLength="233" lengthAdjust="spacingAndGlyphs">snt1-P&gt;KCR2-ET</text>
<text x="1492.8" y="1115.8" font-size="26" text-anchor="middle" fill="#231f20">0</text>
<text x="1584.8" y="1115.8" font-size="26" text-anchor="middle" fill="#231f20">0</text>
<text x="1676.6" y="1115.8" font-size="26" text-anchor="middle" fill="#231f20">0.25</text>
<text x="1768.6" y="1115.8" font-size="26" text-anchor="middle" fill="#231f20">0.5</text>
<text x="1860.7" y="1115.8" font-size="26" text-anchor="middle" fill="#231f20">1.0</text>
<text x="1955.2" y="1115.8" font-size="26" text-anchor="middle" fill="#231f20">2.0</text>
<text x="92.0" y="1235.0" font-size="59" font-weight="bold" fill="#231f20">F</text>
<text x="407.0" y="1268.7" font-size="42" text-anchor="middle" fill="#231f20" textLength="213" lengthAdjust="spacingAndGlyphs">0.5mM ATR</text>
<rect x="313.3" y="1267.8" width="190.3" height="455.0" fill="#d9eedd"/>
<path d="M123.0,1444.6L124.0,1442.9L124.9,1432.2L125.9,1439.1L126.8,1435.5L127.8,1421.3L128.7,1428.1L129.7,1416.2L130.6,1416.1L131.6,1440.2L132.5,1422.3L133.5,1418.4L134.4,1422.3L135.4,1427.8L136.3,1428.1L137.3,1418.7L138.2,1432.8L139.2,1429.0L140.1,1430.6L141.1,1434.8L142.0,1441.7L143.0,1452.7L143.9,1447.0L144.9,1442.4L145.8,1453.0L146.8,1448.4L147.7,1450.4L148.7,1446.9L149.6,1442.0L150.6,1446.9L151.6,1444.8L152.5,1438.4L153.5,1435.1L154.4,1423.2L155.4,1418.2L156.3,1421.4L157.3,1425.1L158.2,1410.4L159.2,1404.4L160.1,1411.9L161.1,1422.0L162.0,1417.7L163.0,1396.6L163.9,1407.5L164.9,1420.4L165.8,1426.9L166.8,1448.0L167.7,1444.7L168.7,1439.1L169.6,1440.2L170.6,1431.3L171.5,1422.7L172.5,1424.2L173.4,1416.3L174.4,1430.0L175.3,1427.0L176.3,1406.4L177.2,1403.0L178.2,1422.0L179.1,1421.5L180.1,1421.3L181.1,1407.9L182.0,1414.7L183.0,1421.2L183.9,1423.0L184.9,1423.7L185.8,1428.7L186.8,1421.1L187.7,1431.7L188.7,1425.6L189.6,1418.8L190.6,1415.5L191.5,1429.3L192.5,1425.8L193.4,1426.4L194.4,1406.7L195.3,1429.6L196.3,1411.7L197.2,1408.5L198.2,1410.2L199.1,1408.8L200.1,1416.4L201.0,1406.3L202.0,1411.0L202.9,1410.9L203.9,1412.2L204.8,1401.6L205.8,1412.6L206.7,1414.6L207.7,1392.0L208.6,1382.4L209.6,1410.7L210.6,1418.4L211.5,1422.9L212.5,1406.2L213.4,1406.0L214.4,1419.0L215.3,1430.8L216.3,1420.3L217.2,1430.9L218.2,1425.3L219.1,1432.4L220.1,1436.8L221.0,1441.8L222.0,1427.1L222.9,1451.6L223.9,1445.7L224.8,1443.3L225.8,1445.7L226.7,1456.6L227.7,1456.0L228.6,1465.0L229.6,1435.8L230.5,1449.7L231.5,1451.1L232.4,1454.4L233.4,1441.1L234.3,1437.9L235.3,1438.1L236.2,1460.7L237.2,1461.5L238.2,1474.0L239.1,1450.1L240.1,1459.8L241.0,1461.8L242.0,1430.4L242.9,1449.2L243.9,1460.8L244.8,1450.7L245.8,1453.3L246.7,1464.2L247.7,1458.6L248.6,1444.0L249.6,1451.3L250.5,1437.2L251.5,1433.7L252.4,1422.5L253.4,1401.6L254.3,1395.4L255.3,1397.6L256.2,1392.2L257.2,1419.7L258.1,1421.1L259.1,1428.1L260.0,1421.7L261.0,1426.5L261.9,1415.7L262.9,1426.2L263.8,1436.3L264.8,1443.5L265.8,1440.2L266.7,1438.3L267.7,1431.9L268.6,1434.5L269.6,1434.9L270.5,1413.9L271.5,1412.8L272.4,1391.8L273.4,1370.4L274.3,1393.8L275.3,1387.7L276.2,1403.3L277.2,1396.2L278.1,1394.7L279.1,1407.8L280.0,1401.0L281.0,1428.1L281.9,1430.9L282.9,1441.9L283.8,1445.3L284.8,1435.4L285.7,1424.8L286.7,1432.5L287.6,1411.3L288.6,1433.4L289.5,1441.1L290.5,1432.7L291.4,1417.7L292.4,1433.9L293.3,1423.6L294.3,1426.0L295.3,1427.8L296.2,1450.7L297.2,1436.2L298.1,1430.0L299.1,1439.8L300.0,1428.6L301.0,1429.3L301.9,1423.2L302.9,1443.0L303.8,1446.1L304.8,1442.5L305.7,1426.4L306.7,1434.2L307.6,1441.2L308.6,1441.5L309.5,1448.3L310.5,1444.0L311.4,1456.5L312.4,1456.0L313.3,1454.3L314.3,1455.4L315.2,1466.2L316.2,1449.1L317.1,1447.1L318.1,1454.8L319.0,1445.2L320.0,1446.5L320.9,1453.2L321.9,1464.0L322.9,1447.3L323.8,1454.1L324.8,1440.3L325.7,1448.7L326.7,1459.4L327.6,1456.1L328.6,1450.2L329.5,1437.2L330.5,1451.1L331.4,1450.7L332.4,1438.8L333.3,1444.2L334.3,1453.4L335.2,1469.5L336.2,1468.0L337.1,1454.5L338.1,1472.2L339.0,1476.8L340.0,1477.7L340.9,1476.1L341.9,1480.5L342.8,1464.0L343.8,1439.9L344.7,1443.6L345.7,1441.8L346.6,1459.5L347.6,1449.9L348.5,1430.2L349.5,1449.1L350.4,1444.4L351.4,1443.9L352.4,1453.4L353.3,1465.2L354.3,1449.7L355.2,1455.9L356.2,1444.3L357.1,1433.2L358.1,1436.0L359.0,1443.5L360.0,1454.8L360.9,1445.9L361.9,1433.9L362.8,1444.3L363.8,1444.9L364.7,1438.2L365.7,1407.7L366.6,1401.3L367.6,1429.3L368.5,1410.8L369.5,1424.8L370.4,1416.0L371.4,1427.0L372.3,1413.4L373.3,1435.1L374.2,1432.8L375.2,1434.0L376.1,1434.6L377.1,1422.2L378.0,1426.5L379.0,1438.1L379.9,1421.7L380.9,1413.2L381.9,1441.1L382.8,1425.5L383.8,1420.8L384.7,1431.4L385.7,1420.0L386.6,1430.9L387.6,1425.8L388.5,1419.1L389.5,1412.4L390.4,1417.7L391.4,1412.3L392.3,1414.5L393.3,1419.4L394.2,1413.9L395.2,1409.1L396.1,1414.8L397.1,1422.1L398.0,1414.8L399.0,1437.8L399.9,1430.5L400.9,1461.2L401.8,1451.6L402.8,1453.1L403.7,1434.9L404.7,1434.6L405.6,1444.0L406.6,1445.9L407.5,1452.3L408.5,1436.2L409.5,1445.2L410.4,1462.4L411.4,1444.0L412.3,1459.8L413.3,1460.9L414.2,1462.9L415.2,1452.8L416.1,1461.6L417.1,1469.1L418.0,1462.2L419.0,1456.6L419.9,1447.4L420.9,1447.0L421.8,1451.7L422.8,1420.1L423.7,1430.7L424.7,1422.5L425.6,1442.4L426.6,1446.9L427.5,1434.8L428.5,1430.0L429.4,1425.6L430.4,1421.2L431.3,1404.7L432.3,1389.2L433.2,1424.4L434.2,1408.7L435.1,1402.6L436.1,1407.5L437.1,1405.1L438.0,1387.8L439.0,1398.0L439.9,1395.6L440.9,1396.2L441.8,1414.1L442.8,1397.2L443.7,1400.2L444.7,1404.7L445.6,1412.0L446.6,1401.7L447.5,1397.9L448.5,1428.5L449.4,1449.9L450.4,1455.4L451.3,1457.3L452.3,1462.1L453.2,1456.5L454.2,1452.7L455.1,1443.6L456.1,1442.2L457.0,1437.7L458.0,1450.4L458.9,1475.3L459.9,1455.8L460.8,1447.4L461.8,1440.9L462.7,1431.4L463.7,1417.0L464.6,1438.2L465.6,1453.1L466.6,1457.3L467.5,1453.3L468.5,1444.1L469.4,1451.2L470.4,1465.2L471.3,1473.4L472.3,1463.2L473.2,1458.2L474.2,1463.9L475.1,1450.5L476.1,1456.3L477.0,1477.2L478.0,1484.7L478.9,1486.1L479.9,1486.3L480.8,1492.5L481.8,1492.0L482.7,1478.0L483.7,1489.8L484.6,1481.7L485.6,1491.5L486.5,1493.9L487.5,1488.1L488.4,1471.9L489.4,1491.4L490.3,1502.9L491.3,1500.3L492.2,1498.4L493.2,1489.8L494.2,1492.5L495.1,1500.9L496.1,1515.5L497.0,1515.9L498.0,1508.3L498.9,1505.9L499.9,1490.7L500.8,1476.7L501.8,1472.3L502.7,1475.1L503.7,1484.1L504.6,1488.4L505.6,1465.9L506.5,1473.3L507.5,1479.7L508.4,1476.8L509.4,1466.2L510.3,1456.3L511.3,1459.5L512.2,1442.1L513.2,1429.6L514.1,1443.1L515.1,1430.7L516.0,1442.5L517.0,1426.6L517.9,1454.9L518.9,1446.3L519.8,1437.1L520.8,1425.0L521.7,1438.5L522.7,1456.0L523.7,1445.5L524.6,1456.5L525.6,1462.9L526.5,1474.6L527.5,1471.0L528.4,1467.7L529.4,1471.6L530.3,1445.8L531.3,1445.5L532.2,1445.8L533.2,1439.9L534.1,1443.6L535.1,1456.3L536.0,1456.6L537.0,1459.8L537.9,1453.1L538.9,1453.7L539.8,1460.4L540.8,1456.3L541.7,1461.2L542.7,1458.4L543.6,1455.1L544.6,1458.4L545.5,1469.6L546.5,1460.0L547.4,1454.9L548.4,1442.0L549.3,1456.1L550.3,1457.8L551.2,1458.7L552.2,1457.7L553.2,1438.3L554.1,1456.2L555.1,1443.9L556.0,1431.7L557.0,1427.7L557.9,1419.6L558.9,1463.3L559.8,1464.3L560.8,1476.6L561.7,1455.7L562.7,1469.9L563.6,1461.3L564.6,1466.0L565.5,1471.5L566.5,1476.2L567.4,1472.8L568.4,1462.9L569.3,1465.8L570.3,1449.0L571.2,1467.9L572.2,1466.2L573.1,1469.3L574.1,1461.1L575.0,1451.4L576.0,1440.6L576.9,1459.2L577.9,1465.7L578.8,1437.6L579.8,1469.1L580.8,1450.3L581.7,1447.3L582.7,1465.5L583.6,1473.0L584.6,1493.3L585.5,1485.8L586.5,1492.5L587.4,1486.2L588.4,1483.6L589.3,1484.2L590.3,1477.3L591.2,1455.6L592.2,1456.0L593.1,1470.7L594.1,1478.1L595.0,1483.6L596.0,1470.6L596.9,1477.4L597.9,1468.9L598.8,1481.4L599.8,1479.9L600.7,1478.6L601.7,1486.8L602.6,1483.6L603.6,1478.6L604.5,1477.4L605.5,1464.3L606.4,1461.5L607.4,1461.3L608.3,1437.7L609.3,1456.8L610.3,1456.3L611.2,1475.0L612.2,1462.7L613.1,1452.2L614.1,1463.4L615.0,1466.3L616.0,1454.8L616.9,1451.0L617.9,1467.8L618.8,1451.1L619.8,1442.6L620.7,1445.9L621.7,1449.3L622.6,1450.7L623.6,1457.4L624.5,1476.4L625.5,1493.1L626.4,1479.6L627.4,1475.9L628.3,1475.7L629.3,1472.8L630.2,1493.3L631.2,1485.8L632.1,1494.2L633.1,1488.0L634.0,1465.9L635.0,1469.9L635.9,1474.0L636.9,1475.1L637.9,1483.2L638.8,1488.9L639.8,1488.0L640.7,1485.3L641.7,1479.3L642.6,1469.9L643.6,1461.6L644.5,1466.4L645.5,1469.0L646.4,1455.6L647.4,1464.4L648.3,1468.0L649.3,1458.6L650.2,1462.1L651.2,1471.0L652.1,1464.0L653.1,1462.2L654.0,1463.5L655.0,1465.7L655.9,1452.0L656.9,1460.3L657.8,1472.6L658.8,1469.1L659.7,1477.3L660.7,1493.1L661.6,1488.9L662.6,1476.8L663.5,1489.5L664.5,1486.3L665.4,1475.9L666.4,1457.5L667.4,1467.2L668.3,1456.2L669.3,1457.6L670.2,1464.3L671.2,1464.3L672.1,1473.9L673.1,1466.2L674.0,1474.7L675.0,1465.0L675.9,1453.3L676.9,1472.1L677.8,1462.2L678.8,1460.7L679.7,1469.0L680.7,1467.7L681.6,1479.2L682.6,1464.8L683.5,1483.9L684.5,1486.2L685.4,1492.5L686.4,1487.6L687.3,1505.1L688.3,1487.7L689.2,1480.0L690.2,1462.8L691.1,1469.6L692.1,1474.1L693.0,1470.4L694.0,1471.2L694.0,1526.8L693.0,1535.5L692.1,1532.8L691.1,1539.7L690.2,1542.1L689.2,1547.5L688.3,1540.2L687.3,1552.8L686.4,1557.0L685.4,1546.5L684.5,1545.5L683.5,1563.5L682.6,1545.7L681.6,1540.6L680.7,1525.0L679.7,1544.6L678.8,1534.1L677.8,1544.4L676.9,1549.5L675.9,1526.3L675.0,1532.9L674.0,1539.3L673.1,1526.5L672.1,1538.9L671.2,1537.2L670.2,1526.1L669.3,1514.8L668.3,1510.1L667.4,1532.5L666.4,1519.5L665.4,1535.1L664.5,1534.9L663.5,1538.6L662.6,1529.9L661.6,1538.3L660.7,1547.5L659.7,1528.5L658.8,1536.4L657.8,1540.1L656.9,1549.7L655.9,1541.7L655.0,1531.7L654.0,1520.3L653.1,1532.1L652.1,1520.7L651.2,1540.1L650.2,1527.9L649.3,1527.2L648.3,1530.0L647.4,1536.3L646.4,1545.9L645.5,1533.2L644.5,1526.7L643.6,1513.3L642.6,1524.9L641.7,1529.3L640.7,1542.9L639.8,1545.4L638.8,1540.5L637.9,1541.8L636.9,1530.5L635.9,1536.2L635.0,1532.0L634.0,1537.8L633.1,1539.8L632.1,1549.1L631.2,1545.2L630.2,1545.5L629.3,1526.6L628.3,1538.5L627.4,1531.0L626.4,1560.0L625.5,1556.1L624.5,1555.5L623.6,1542.9L622.6,1523.9L621.7,1522.6L620.7,1549.0L619.8,1529.1L618.8,1542.3L617.9,1556.2L616.9,1540.0L616.0,1529.0L615.0,1529.9L614.1,1538.2L613.1,1531.3L612.2,1530.1L611.2,1531.2L610.3,1531.6L609.3,1547.5L608.3,1539.2L607.4,1540.1L606.4,1537.6L605.5,1539.4L604.5,1540.9L603.6,1544.8L602.6,1544.5L601.7,1556.0L600.7,1557.5L599.8,1538.8L598.8,1533.8L597.9,1531.6L596.9,1542.6L596.0,1536.0L595.0,1546.1L594.1,1529.3L593.1,1525.6L592.2,1521.8L591.2,1534.2L590.3,1543.9L589.3,1540.1L588.4,1551.4L587.4,1554.1L586.5,1557.0L585.5,1545.9L584.6,1558.0L583.6,1538.7L582.7,1535.0L581.7,1514.2L580.8,1511.9L579.8,1528.5L578.8,1524.5L577.9,1527.6L576.9,1522.2L576.0,1504.2L575.0,1507.8L574.1,1510.5L573.1,1501.0L572.2,1517.9L571.2,1517.1L570.3,1521.6L569.3,1512.5L568.4,1517.1L567.4,1526.8L566.5,1527.8L565.5,1547.0L564.6,1525.9L563.6,1521.9L562.7,1528.6L561.7,1514.5L560.8,1542.9L559.8,1532.7L558.9,1542.6L557.9,1511.6L557.0,1520.7L556.0,1522.2L555.1,1516.5L554.1,1539.8L553.2,1533.3L552.2,1544.2L551.2,1540.2L550.3,1538.2L549.3,1536.7L548.4,1521.1L547.4,1526.1L546.5,1542.5L545.5,1535.9L544.6,1540.5L543.6,1524.5L542.7,1529.6L541.7,1528.2L540.8,1523.3L539.8,1511.3L538.9,1500.6L537.9,1512.2L537.0,1521.3L536.0,1504.0L535.1,1513.9L534.1,1497.1L533.2,1511.3L532.2,1510.8L531.3,1508.6L530.3,1515.0L529.4,1538.0L528.4,1545.9L527.5,1520.9L526.5,1532.7L525.6,1524.4L524.6,1523.4L523.7,1513.4L522.7,1522.9L521.7,1508.0L520.8,1512.2L519.8,1502.4L518.9,1505.9L517.9,1511.9L517.0,1499.7L516.0,1525.3L515.1,1515.2L514.1,1510.6L513.2,1521.6L512.2,1509.8L511.3,1527.9L510.3,1542.9L509.4,1527.9L508.4,1527.2L507.5,1526.9L506.5,1541.4L505.6,1537.8L504.6,1548.1L503.7,1545.0L502.7,1540.9L501.8,1547.2L500.8,1540.2L499.9,1562.6L498.9,1553.6L498.0,1564.1L497.0,1577.0L496.1,1580.0L495.1,1575.1L494.2,1561.3L493.2,1586.1L492.2,1587.5L491.3,1580.1L490.3,1577.2L489.4,1577.4L488.4,1563.1L487.5,1557.1L486.5,1545.8L485.6,1547.2L484.6,1542.5L483.7,1559.8L482.7,1533.0L481.8,1532.6L480.8,1534.4L479.9,1532.5L478.9,1530.0L478.0,1534.5L477.0,1541.8L476.1,1536.8L475.1,1531.8L474.2,1534.1L473.2,1530.1L472.3,1544.8L471.3,1532.1L470.4,1520.7L469.4,1513.8L468.5,1527.4L467.5,1518.9L466.6,1517.9L465.6,1507.7L464.6,1521.5L463.7,1502.5L462.7,1498.1L461.8,1510.7L460.8,1499.1L459.9,1503.1L458.9,1517.2L458.0,1495.6L457.0,1504.8L456.1,1527.3L455.1,1524.9L454.2,1515.9L453.2,1520.8L452.3,1528.5L451.3,1527.1L450.4,1509.7L449.4,1499.9L448.5,1478.4L447.5,1466.3L446.6,1470.4L445.6,1461.4L444.7,1456.6L443.7,1453.6L442.8,1451.1L441.8,1456.3L440.9,1450.9L439.9,1452.0L439.0,1456.0L438.0,1458.4L437.1,1469.6L436.1,1472.1L435.1,1472.8L434.2,1471.2L433.2,1483.1L432.3,1467.6L431.3,1483.8L430.4,1506.3L429.4,1491.3L428.5,1499.5L427.5,1505.0L426.6,1505.8L425.6,1517.6L424.7,1504.5L423.7,1496.3L422.8,1505.7L421.8,1517.4L420.9,1521.1L419.9,1520.3L419.0,1526.5L418.0,1538.2L417.1,1530.5L416.1,1531.7L415.2,1510.7L414.2,1521.4L413.3,1503.7L412.3,1510.4L411.4,1503.7L410.4,1521.6L409.5,1493.4L408.5,1506.4L407.5,1512.5L406.6,1507.3L405.6,1518.2L404.7,1507.0L403.7,1497.4L402.8,1508.7L401.8,1513.9L400.9,1517.2L399.9,1519.5L399.0,1517.7L398.0,1486.7L397.1,1486.8L396.1,1489.0L395.2,1479.7L394.2,1487.8L393.3,1489.0L392.3,1470.1L391.4,1462.5L390.4,1481.9L389.5,1482.1L388.5,1479.6L387.6,1477.5L386.6,1493.6L385.7,1498.9L384.7,1495.7L383.8,1488.1L382.8,1494.7L381.9,1498.9L380.9,1485.4L379.9,1492.4L379.0,1508.4L378.0,1492.7L377.1,1496.3L376.1,1509.0L375.2,1483.2L374.2,1488.6L373.3,1483.6L372.3,1470.8L371.4,1484.3L370.4,1480.4L369.5,1473.0L368.5,1474.7L367.6,1490.9L366.6,1463.0L365.7,1476.3L364.7,1489.4L363.8,1501.5L362.8,1483.7L361.9,1497.5L360.9,1502.2L360.0,1501.7L359.0,1500.5L358.1,1493.0L357.1,1511.0L356.2,1516.2L355.2,1516.6L354.3,1507.3L353.3,1503.9L352.4,1499.7L351.4,1502.4L350.4,1510.8L349.5,1529.0L348.5,1529.4L347.6,1541.5L346.6,1546.9L345.7,1522.5L344.7,1533.7L343.8,1534.7L342.8,1526.5L341.9,1544.3L340.9,1556.7L340.0,1550.7L339.0,1554.6L338.1,1549.3L337.1,1534.1L336.2,1531.6L335.2,1533.8L334.3,1506.4L333.3,1504.5L332.4,1503.9L331.4,1508.9L330.5,1520.8L329.5,1520.4L328.6,1524.0L327.6,1525.5L326.7,1535.0L325.7,1544.8L324.8,1520.9L323.8,1528.9L322.9,1532.2L321.9,1534.6L320.9,1534.7L320.0,1533.6L319.0,1509.7L318.1,1515.6L317.1,1510.6L316.2,1495.6L315.2,1496.4L314.3,1514.5L313.3,1488.4L312.4,1482.7L311.4,1504.7L310.5,1489.8L309.5,1511.8L308.6,1499.0L307.6,1498.5L306.7,1495.3L305.7,1494.3L304.8,1502.4L303.8,1508.1L302.9,1497.6L301.9,1500.6L301.0,1506.5L300.0,1508.8L299.1,1508.9L298.1,1497.3L297.2,1492.4L296.2,1511.4L295.3,1492.8L294.3,1491.6L293.3,1510.9L292.4,1504.9L291.4,1518.5L290.5,1510.6L289.5,1509.4L288.6,1512.5L287.6,1504.4L286.7,1502.8L285.7,1493.8L284.8,1502.5L283.8,1508.3L282.9,1519.8L281.9,1522.7L281.0,1506.6L280.0,1491.7L279.1,1480.2L278.1,1461.8L277.2,1456.9L276.2,1463.8L275.3,1452.3L274.3,1456.6L273.4,1437.5L272.4,1461.0L271.5,1478.1L270.5,1486.8L269.6,1498.2L268.6,1483.4L267.7,1480.8L266.7,1486.4L265.8,1512.0L264.8,1512.7L263.8,1508.3L262.9,1489.5L261.9,1479.9L261.0,1503.3L260.0,1493.1L259.1,1480.3L258.1,1475.0L257.2,1472.0L256.2,1449.0L255.3,1470.9L254.3,1473.0L253.4,1471.9L252.4,1480.0L251.5,1487.3L250.5,1504.7L249.6,1498.2L248.6,1506.3L247.7,1516.9L246.7,1532.2L245.8,1501.6L244.8,1518.5L243.9,1509.3L242.9,1517.4L242.0,1511.8L241.0,1528.5L240.1,1531.4L239.1,1522.0L238.2,1535.0L237.2,1531.4L236.2,1527.8L235.3,1511.2L234.3,1502.7L233.4,1520.4L232.4,1525.6L231.5,1516.1L230.5,1519.2L229.6,1494.5L228.6,1521.4L227.7,1536.0L226.7,1534.9L225.8,1508.2L224.8,1520.8L223.9,1510.9L222.9,1515.0L222.0,1498.5L221.0,1517.3L220.1,1496.9L219.1,1489.8L218.2,1505.6L217.2,1490.8L216.3,1489.9L215.3,1501.4L214.4,1497.3L213.4,1483.1L212.5,1473.4L211.5,1482.9L210.6,1487.0L209.6,1485.2L208.6,1472.1L207.7,1477.7L206.7,1486.0L205.8,1490.8L204.8,1484.3L203.9,1470.3L202.9,1472.3L202.0,1467.4L201.0,1463.3L200.1,1458.0L199.1,1474.0L198.2,1466.4L197.2,1484.6L196.3,1487.2L195.3,1499.3L194.4,1473.4L193.4,1474.7L192.5,1487.3L191.5,1486.9L190.6,1478.8L189.6,1484.5L188.7,1479.2L187.7,1474.4L186.8,1473.6L185.8,1475.0L184.9,1480.0L183.9,1483.0L183.0,1477.3L182.0,1469.9L181.1,1461.8L180.1,1487.8L179.1,1475.3L178.2,1491.5L177.2,1476.6L176.3,1480.0L175.3,1489.4L174.4,1489.6L173.4,1479.4L172.5,1471.1L171.5,1482.3L170.6,1495.2L169.6,1504.5L168.7,1498.4L167.7,1500.8L166.8,1506.4L165.8,1485.7L164.9,1489.2L163.9,1477.8L163.0,1469.3L162.0,1477.7L161.1,1496.3L160.1,1492.7L159.2,1491.3L158.2,1491.9L157.3,1501.0L156.3,1502.9L155.4,1495.0L154.4,1498.4L153.5,1502.3L152.5,1511.6L151.6,1515.7L150.6,1539.3L149.6,1522.6L148.7,1524.8L147.7,1517.3L146.8,1506.5L145.8,1501.4L144.9,1493.5L143.9,1493.3L143.0,1509.0L142.0,1478.8L141.1,1482.1L140.1,1495.3L139.2,1490.5L138.2,1488.3L137.3,1496.0L136.3,1470.1L135.4,1472.9L134.4,1484.0L133.5,1479.5L132.5,1481.4L131.6,1499.2L130.6,1488.6L129.7,1493.6L128.7,1501.9L127.8,1493.4L126.8,1518.9L125.9,1567.6L124.9,1612.3L124.0,1566.8L123.0,1529.0Z" fill="#a8a3a5" fill-opacity="0.36" stroke="#a8a3a5" stroke-opacity="0.45" stroke-width="0.8"/>
<path d="M123.0,1479.5L124.0,1468.0L124.9,1456.8L125.9,1470.5L126.8,1464.4L127.8,1462.9L128.7,1467.6L129.7,1462.8L130.6,1458.7L131.6,1469.5L132.5,1456.2L133.5,1457.5L134.4,1456.0L135.4,1452.1L136.3,1453.4L137.3,1451.5L138.2,1455.1L139.2,1461.5L140.1,1452.6L141.1,1454.9L142.0,1457.5L143.0,1468.8L143.9,1465.3L144.9,1473.3L145.8,1472.0L146.8,1482.0L147.7,1480.5L148.7,1484.7L149.6,1482.5L150.6,1486.9L151.6,1479.0L152.5,1473.7L153.5,1469.9L154.4,1463.6L155.4,1462.7L156.3,1460.2L157.3,1456.1L158.2,1446.4L159.2,1449.5L160.1,1456.5L161.1,1449.7L162.0,1447.3L163.0,1439.2L163.9,1454.8L164.9,1457.9L165.8,1458.9L166.8,1477.1L167.7,1475.6L168.7,1470.7L169.6,1471.6L170.6,1454.7L171.5,1451.2L172.5,1444.7L173.4,1446.0L174.4,1452.1L175.3,1461.9L176.3,1444.9L177.2,1440.4L178.2,1455.4L179.1,1443.6L180.1,1452.5L181.1,1439.9L182.0,1443.5L183.0,1450.8L183.9,1453.8L184.9,1455.7L185.8,1460.4L186.8,1456.4L187.7,1459.4L188.7,1460.2L189.6,1456.4L190.6,1455.2L191.5,1458.3L192.5,1451.5L193.4,1453.4L194.4,1441.0L195.3,1452.3L196.3,1444.7L197.2,1449.1L198.2,1440.6L199.1,1451.5L200.1,1443.9L201.0,1447.3L202.0,1440.3L202.9,1438.5L203.9,1449.1L204.8,1451.3L205.8,1457.4L206.7,1453.2L207.7,1436.0L208.6,1428.5L209.6,1442.6L210.6,1451.4L211.5,1449.1L212.5,1439.2L213.4,1443.8L214.4,1456.1L215.3,1458.4L216.3,1456.7L217.2,1462.0L218.2,1470.1L219.1,1465.3L220.1,1472.1L221.0,1477.2L222.0,1476.4L222.9,1487.6L223.9,1490.2L224.8,1482.7L225.8,1485.5L226.7,1499.9L227.7,1488.8L228.6,1489.1L229.6,1473.4L230.5,1482.2L231.5,1491.2L232.4,1493.0L233.4,1493.4L234.3,1479.0L235.3,1485.4L236.2,1496.3L237.2,1501.0L238.2,1498.5L239.1,1496.0L240.1,1492.8L241.0,1492.4L242.0,1482.0L242.9,1475.7L243.9,1476.9L244.8,1473.5L245.8,1472.8L246.7,1485.0L247.7,1487.1L248.6,1469.0L249.6,1469.4L250.5,1466.2L251.5,1458.5L252.4,1446.0L253.4,1439.8L254.3,1433.4L255.3,1439.1L256.2,1433.1L257.2,1442.8L258.1,1446.7L259.1,1454.2L260.0,1460.8L261.0,1460.0L261.9,1454.6L262.9,1460.0L263.8,1473.6L264.8,1474.3L265.8,1466.0L266.7,1458.9L267.7,1456.7L268.6,1459.4L269.6,1461.3L270.5,1443.4L271.5,1448.4L272.4,1427.0L273.4,1425.0L274.3,1436.3L275.3,1426.1L276.2,1433.8L277.2,1435.4L278.1,1439.1L279.1,1450.3L280.0,1450.8L281.0,1455.7L281.9,1465.5L282.9,1467.4L283.8,1474.1L284.8,1477.0L285.7,1467.3L286.7,1464.3L287.6,1459.7L288.6,1461.2L289.5,1464.0L290.5,1469.9L291.4,1469.5L292.4,1474.3L293.3,1468.1L294.3,1463.2L295.3,1461.6L296.2,1474.8L297.2,1455.8L298.1,1465.7L299.1,1470.2L300.0,1463.4L301.0,1461.9L301.9,1464.7L302.9,1467.5L303.8,1472.5L304.8,1468.2L305.7,1460.9L306.7,1466.7L307.6,1471.4L308.6,1469.1L309.5,1483.2L310.5,1471.8L311.4,1484.7L312.4,1472.3L313.3,1469.4L314.3,1480.8L315.2,1484.4L316.2,1477.5L317.1,1486.9L318.1,1486.8L319.0,1486.9L320.0,1493.2L320.9,1492.9L321.9,1497.5L322.9,1494.4L323.8,1496.4L324.8,1492.7L325.7,1501.5L326.7,1502.9L327.6,1498.0L328.6,1484.3L329.5,1484.4L330.5,1494.9L331.4,1485.0L332.4,1481.2L333.3,1483.3L334.3,1487.7L335.2,1501.1L336.2,1500.7L337.1,1502.7L338.1,1508.5L339.0,1511.4L340.0,1517.1L340.9,1521.6L341.9,1513.6L342.8,1501.4L343.8,1494.4L344.7,1487.3L345.7,1486.1L346.6,1496.6L347.6,1489.9L348.5,1484.2L349.5,1486.2L350.4,1476.4L351.4,1478.5L352.4,1482.5L353.3,1486.1L354.3,1482.0L355.2,1485.4L356.2,1482.6L357.1,1477.4L358.1,1472.7L359.0,1469.3L360.0,1470.2L360.9,1468.6L361.9,1465.0L362.8,1465.0L363.8,1468.1L364.7,1463.0L365.7,1455.9L366.6,1447.3L367.6,1460.0L368.5,1453.1L369.5,1447.0L370.4,1446.1L371.4,1450.0L372.3,1445.0L373.3,1455.2L374.2,1454.5L375.2,1453.6L376.1,1461.8L377.1,1453.9L378.0,1452.0L379.0,1460.7L379.9,1454.4L380.9,1450.5L381.9,1463.3L382.8,1461.1L383.8,1455.9L384.7,1451.2L385.7,1448.3L386.6,1446.6L387.6,1439.0L388.5,1447.3L389.5,1438.6L390.4,1443.4L391.4,1441.1L392.3,1445.0L393.3,1453.3L394.2,1458.4L395.2,1445.4L396.1,1450.5L397.1,1455.9L398.0,1452.7L399.0,1465.2L399.9,1469.3L400.9,1469.7L401.8,1469.4L402.8,1473.6L403.7,1461.2L404.7,1474.5L405.6,1475.0L406.6,1473.9L407.5,1477.5L408.5,1478.1L409.5,1477.5L410.4,1480.9L411.4,1465.2L412.3,1473.9L413.3,1481.6L414.2,1480.1L415.2,1482.4L416.1,1493.3L417.1,1498.2L418.0,1498.1L419.0,1488.3L419.9,1483.0L420.9,1481.3L421.8,1483.0L422.8,1463.3L423.7,1470.3L424.7,1474.2L425.6,1473.6L426.6,1479.5L427.5,1469.9L428.5,1459.9L429.4,1460.9L430.4,1462.0L431.3,1449.9L432.3,1439.8L433.2,1455.1L434.2,1452.3L435.1,1452.2L436.1,1438.5L437.1,1437.4L438.0,1427.3L439.0,1433.0L439.9,1431.9L440.9,1438.5L441.8,1448.5L442.8,1443.3L443.7,1443.9L444.7,1447.9L445.6,1449.4L446.6,1447.9L447.5,1450.3L448.5,1454.9L449.4,1463.6L450.4,1476.9L451.3,1480.5L452.3,1489.5L453.2,1486.0L454.2,1482.7L455.1,1482.3L456.1,1473.5L457.0,1471.9L458.0,1470.3L458.9,1491.1L459.9,1486.5L460.8,1482.3L461.8,1476.3L462.7,1465.1L463.7,1460.3L464.6,1476.0L465.6,1485.1L466.6,1485.4L467.5,1485.1L468.5,1489.3L469.4,1488.5L470.4,1494.8L471.3,1503.8L472.3,1507.2L473.2,1497.3L474.2,1498.9L475.1,1499.2L476.1,1499.1L477.0,1500.8L478.0,1502.6L478.9,1506.2L479.9,1502.8L480.8,1507.2L481.8,1510.5L482.7,1502.7L483.7,1513.9L484.6,1512.2L485.6,1514.9L486.5,1513.5L487.5,1521.6L488.4,1518.5L489.4,1531.6L490.3,1531.4L491.3,1536.2L492.2,1541.2L493.2,1540.3L494.2,1526.1L495.1,1540.2L496.1,1540.9L497.0,1539.3L498.0,1531.1L498.9,1530.2L499.9,1525.0L500.8,1503.8L501.8,1510.0L502.7,1508.6L503.7,1509.9L504.6,1510.3L505.6,1500.8L506.5,1500.1L507.5,1499.9L508.4,1497.7L509.4,1494.1L510.3,1491.1L511.3,1492.8L512.2,1478.4L513.2,1467.0L514.1,1464.0L515.1,1467.7L516.0,1468.4L517.0,1464.7L517.9,1482.0L518.9,1480.2L519.8,1470.7L520.8,1474.5L521.7,1480.5L522.7,1487.7L523.7,1486.6L524.6,1490.4L525.6,1501.5L526.5,1503.9L527.5,1494.5L528.4,1495.9L529.4,1503.4L530.3,1499.7L531.3,1492.4L532.2,1494.7L533.2,1481.0L534.1,1482.9L535.1,1493.7L536.0,1496.2L537.0,1502.0L537.9,1491.3L538.9,1484.5L539.8,1484.2L540.8,1490.7L541.7,1494.2L542.7,1493.1L543.6,1488.2L544.6,1493.1L545.5,1499.8L546.5,1494.6L547.4,1490.8L548.4,1483.7L549.3,1489.7L550.3,1494.9L551.2,1493.4L552.2,1504.6L553.2,1497.2L554.1,1494.3L555.1,1485.1L556.0,1487.1L557.0,1493.3L557.9,1490.5L558.9,1504.2L559.8,1505.3L560.8,1515.4L561.7,1491.6L562.7,1497.7L563.6,1493.6L564.6,1493.5L565.5,1506.4L566.5,1499.9L567.4,1490.9L568.4,1492.7L569.3,1487.7L570.3,1479.4L571.2,1498.5L572.2,1492.7L573.1,1486.0L574.1,1487.3L575.0,1486.4L576.0,1478.3L576.9,1494.3L577.9,1494.4L578.8,1483.1L579.8,1489.6L580.8,1479.9L581.7,1483.0L582.7,1500.0L583.6,1501.6L584.6,1505.6L585.5,1500.8L586.5,1513.0L587.4,1503.2L588.4,1506.1L589.3,1501.6L590.3,1508.0L591.2,1499.5L592.2,1495.8L593.1,1497.6L594.1,1504.6L595.0,1512.3L596.0,1507.4L596.9,1503.3L597.9,1506.0L598.8,1504.6L599.8,1507.3L600.7,1514.2L601.7,1520.1L602.6,1514.7L603.6,1510.9L604.5,1509.9L605.5,1510.8L606.4,1502.2L607.4,1500.6L608.3,1495.6L609.3,1504.2L610.3,1505.5L611.2,1499.4L612.2,1500.3L613.1,1492.6L614.1,1505.0L615.0,1500.6L616.0,1498.6L616.9,1501.1L617.9,1507.6L618.8,1501.7L619.8,1496.6L620.7,1497.1L621.7,1491.2L622.6,1500.0L623.6,1507.7L624.5,1518.9L625.5,1518.3L626.4,1505.7L627.4,1498.9L628.3,1504.4L629.3,1493.6L630.2,1501.1L631.2,1508.1L632.1,1510.9L633.1,1514.4L634.0,1507.8L635.0,1502.0L635.9,1503.8L636.9,1507.5L637.9,1510.6L638.8,1511.9L639.8,1516.3L640.7,1516.8L641.7,1505.5L642.6,1503.3L643.6,1493.7L644.5,1502.7L645.5,1499.1L646.4,1500.9L647.4,1498.7L648.3,1497.0L649.3,1488.4L650.2,1493.5L651.2,1496.5L652.1,1492.7L653.1,1498.0L654.0,1491.0L655.0,1493.7L655.9,1491.6L656.9,1500.6L657.8,1504.8L658.8,1502.0L659.7,1503.6L660.7,1515.0L661.6,1513.3L662.6,1513.7L663.5,1519.8L664.5,1516.3L665.4,1511.3L666.4,1491.9L667.4,1504.3L668.3,1487.8L669.3,1492.8L670.2,1497.0L671.2,1498.5L672.1,1504.8L673.1,1497.9L674.0,1505.2L675.0,1493.8L675.9,1491.2L676.9,1508.0L677.8,1507.8L678.8,1506.4L679.7,1508.4L680.7,1494.4L681.6,1506.1L682.6,1504.9L683.5,1517.1L684.5,1513.3L685.4,1518.3L686.4,1527.9L687.3,1528.6L688.3,1505.5L689.2,1514.2L690.2,1507.2L691.1,1509.1L692.1,1508.2L693.0,1508.2L694.0,1502.5" fill="none" stroke="#aca7a9" stroke-width="3.2" stroke-linejoin="round"/>
<path d="M123.0,1426.9L124.0,1404.5L124.9,1384.8L125.9,1398.3L126.8,1407.2L127.8,1412.0L128.7,1414.1L129.7,1417.8L130.6,1436.8L131.6,1416.8L132.5,1418.6L133.5,1430.9L134.4,1437.5L135.4,1436.2L136.3,1447.2L137.3,1431.6L138.2,1435.6L139.2,1415.7L140.1,1436.3L141.1,1428.8L142.0,1413.0L143.0,1428.1L143.9,1421.1L144.9,1430.2L145.8,1425.5L146.8,1434.5L147.7,1438.3L148.7,1455.2L149.6,1452.6L150.6,1464.5L151.6,1459.1L152.5,1476.8L153.5,1460.3L154.4,1455.4L155.4,1464.6L156.3,1457.9L157.3,1437.1L158.2,1448.4L159.2,1455.5L160.1,1433.3L161.1,1430.1L162.0,1419.6L163.0,1411.9L163.9,1435.0L164.9,1424.0L165.8,1431.6L166.8,1426.8L167.7,1427.0L168.7,1425.0L169.6,1424.1L170.6,1430.6L171.5,1425.4L172.5,1406.1L173.4,1412.3L174.4,1423.2L175.3,1387.6L176.3,1401.6L177.2,1390.3L178.2,1401.3L179.1,1401.7L180.1,1404.2L181.1,1413.5L182.0,1418.1L183.0,1421.1L183.9,1434.1L184.9,1453.3L185.8,1427.4L186.8,1433.8L187.7,1424.7L188.7,1426.1L189.6,1409.8L190.6,1410.6L191.5,1403.5L192.5,1416.6L193.4,1411.6L194.4,1411.2L195.3,1402.1L196.3,1413.3L197.2,1426.3L198.2,1440.7L199.1,1428.7L200.1,1436.3L201.0,1436.1L202.0,1413.2L202.9,1408.2L203.9,1423.5L204.8,1423.3L205.8,1411.5L206.7,1404.0L207.7,1404.5L208.6,1400.6L209.6,1404.9L210.6,1409.0L211.5,1419.3L212.5,1403.7L213.4,1414.8L214.4,1415.6L215.3,1417.4L216.3,1433.5L217.2,1429.6L218.2,1414.8L219.1,1432.8L220.1,1425.2L221.0,1433.2L222.0,1424.1L222.9,1416.7L223.9,1427.5L224.8,1435.6L225.8,1426.5L226.7,1426.2L227.7,1428.6L228.6,1406.8L229.6,1405.2L230.5,1401.9L231.5,1396.3L232.4,1389.2L233.4,1383.8L234.3,1374.3L235.3,1371.8L236.2,1364.6L237.2,1371.2L238.2,1374.5L239.1,1378.6L240.1,1381.4L241.0,1387.3L242.0,1392.5L242.9,1373.9L243.9,1377.5L244.8,1388.2L245.8,1395.4L246.7,1406.0L247.7,1401.6L248.6,1404.9L249.6,1409.6L250.5,1380.7L251.5,1392.6L252.4,1396.7L253.4,1386.0L254.3,1409.5L255.3,1408.8L256.2,1410.9L257.2,1398.7L258.1,1403.9L259.1,1420.9L260.0,1430.1L261.0,1432.7L261.9,1428.7L262.9,1434.0L263.8,1442.0L264.8,1430.8L265.8,1415.2L266.7,1421.6L267.7,1401.5L268.6,1409.2L269.6,1418.8L270.5,1420.5L271.5,1424.2L272.4,1430.1L273.4,1415.3L274.3,1428.8L275.3,1441.0L276.2,1426.0L277.2,1440.9L278.1,1427.3L279.1,1429.1L280.0,1415.6L281.0,1436.4L281.9,1435.4L282.9,1429.5L283.8,1433.4L284.8,1416.9L285.7,1435.4L286.7,1432.5L287.6,1424.9L288.6,1449.8L289.5,1443.3L290.5,1441.5L291.4,1438.1L292.4,1456.0L293.3,1430.8L294.3,1446.9L295.3,1448.0L296.2,1448.8L297.2,1434.8L298.1,1435.0L299.1,1414.3L300.0,1425.4L301.0,1416.5L301.9,1411.7L302.9,1411.4L303.8,1409.0L304.8,1392.7L305.7,1384.8L306.7,1398.0L307.6,1399.5L308.6,1404.8L309.5,1404.1L310.5,1392.8L311.4,1429.9L312.4,1436.0L313.3,1457.0L314.3,1434.9L315.2,1447.4L316.2,1437.5L317.1,1447.2L318.1,1463.6L319.0,1451.4L320.0,1445.7L320.9,1469.5L321.9,1474.2L322.9,1472.8L323.8,1461.3L324.8,1474.1L325.7,1466.5L326.7,1484.2L327.6,1481.2L328.6,1483.6L329.5,1484.6L330.5,1475.0L331.4,1485.5L332.4,1484.4L333.3,1484.7L334.3,1498.6L335.2,1500.5L336.2,1504.6L337.1,1504.4L338.1,1514.7L339.0,1501.0L340.0,1494.3L340.9,1514.7L341.9,1518.4L342.8,1523.2L343.8,1519.9L344.7,1514.2L345.7,1499.0L346.6,1495.0L347.6,1499.8L348.5,1503.5L349.5,1487.7L350.4,1508.5L351.4,1501.5L352.4,1519.9L353.3,1507.5L354.3,1527.1L355.2,1514.4L356.2,1518.3L357.1,1498.6L358.1,1485.4L359.0,1482.9L360.0,1496.2L360.9,1491.5L361.9,1494.7L362.8,1494.5L363.8,1502.6L364.7,1491.8L365.7,1493.2L366.6,1471.4L367.6,1488.5L368.5,1505.7L369.5,1500.1L370.4,1492.8L371.4,1499.1L372.3,1492.1L373.3,1505.6L374.2,1489.2L375.2,1491.6L376.1,1497.9L377.1,1499.6L378.0,1489.8L379.0,1492.1L379.9,1498.8L380.9,1507.7L381.9,1514.3L382.8,1512.1L383.8,1512.5L384.7,1494.5L385.7,1506.9L386.6,1510.0L387.6,1512.3L388.5,1499.1L389.5,1520.9L390.4,1506.3L391.4,1495.4L392.3,1490.6L393.3,1468.1L394.2,1482.3L395.2,1512.0L396.1,1499.1L397.1,1495.8L398.0,1489.1L399.0,1492.3L399.9,1484.0L400.9,1466.6L401.8,1494.0L402.8,1481.1L403.7,1486.0L404.7,1478.7L405.6,1482.8L406.6,1472.6L407.5,1466.0L408.5,1466.6L409.5,1481.3L410.4,1494.7L411.4,1486.7L412.3,1481.3L413.3,1480.2L414.2,1489.0L415.2,1503.9L416.1,1466.9L417.1,1493.2L418.0,1485.7L419.0,1496.2L419.9,1499.9L420.9,1513.7L421.8,1510.5L422.8,1520.4L423.7,1538.0L424.7,1530.5L425.6,1527.7L426.6,1533.0L427.5,1543.1L428.5,1525.9L429.4,1515.4L430.4,1515.0L431.3,1514.6L432.3,1517.1L433.2,1541.2L434.2,1528.3L435.1,1520.8L436.1,1519.2L437.1,1522.0L438.0,1527.0L439.0,1521.0L439.9,1508.6L440.9,1516.1L441.8,1524.9L442.8,1514.6L443.7,1525.1L444.7,1523.5L445.6,1517.3L446.6,1518.4L447.5,1539.2L448.5,1531.4L449.4,1513.1L450.4,1506.3L451.3,1516.2L452.3,1531.7L453.2,1524.3L454.2,1527.4L455.1,1531.1L456.1,1515.5L457.0,1516.0L458.0,1502.1L458.9,1522.7L459.9,1504.2L460.8,1509.1L461.8,1499.4L462.7,1509.2L463.7,1509.9L464.6,1509.2L465.6,1530.2L466.6,1518.3L467.5,1514.1L468.5,1520.4L469.4,1542.9L470.4,1550.6L471.3,1558.5L472.3,1532.3L473.2,1511.4L474.2,1530.8L475.1,1528.8L476.1,1527.5L477.0,1522.1L478.0,1520.8L478.9,1517.7L479.9,1525.4L480.8,1518.6L481.8,1532.4L482.7,1517.8L483.7,1527.6L484.6,1533.0L485.6,1533.2L486.5,1530.3L487.5,1536.9L488.4,1533.0L489.4,1532.5L490.3,1522.8L491.3,1532.6L492.2,1517.8L493.2,1515.3L494.2,1520.5L495.1,1531.6L496.1,1522.9L497.0,1530.6L498.0,1524.4L498.9,1529.0L499.9,1526.3L500.8,1521.1L501.8,1526.5L502.7,1526.5L503.7,1521.4L504.6,1495.9L505.6,1499.6L506.5,1481.0L507.5,1486.4L508.4,1481.6L509.4,1470.0L510.3,1474.4L511.3,1492.8L512.2,1487.2L513.2,1479.3L514.1,1474.0L515.1,1488.9L516.0,1479.7L517.0,1487.5L517.9,1487.0L518.9,1479.3L519.8,1479.2L520.8,1466.0L521.7,1465.3L522.7,1458.8L523.7,1480.6L524.6,1476.3L525.6,1475.8L526.5,1474.8L527.5,1488.9L528.4,1485.5L529.4,1481.1L530.3,1481.4L531.3,1485.1L532.2,1483.6L533.2,1482.6L534.1,1501.2L535.1,1502.2L536.0,1503.5L537.0,1490.7L537.9,1500.4L538.9,1495.5L539.8,1507.4L540.8,1501.5L541.7,1490.5L542.7,1504.4L543.6,1477.5L544.6,1479.7L545.5,1485.0L546.5,1492.6L547.4,1506.0L548.4,1487.2L549.3,1465.8L550.3,1462.8L551.2,1468.4L552.2,1476.5L553.2,1469.3L554.1,1459.6L555.1,1450.0L556.0,1465.6L557.0,1466.2L557.9,1473.7L558.9,1457.6L559.8,1449.8L560.8,1452.2L561.7,1448.7L562.7,1456.3L563.6,1468.5L564.6,1459.1L565.5,1447.2L566.5,1464.2L567.4,1452.7L568.4,1467.5L569.3,1470.8L570.3,1470.3L571.2,1465.9L572.2,1467.6L573.1,1470.3L574.1,1490.7L575.0,1487.0L576.0,1483.3L576.9,1456.6L577.9,1473.2L578.8,1458.9L579.8,1467.0L580.8,1466.2L581.7,1470.6L582.7,1469.0L583.6,1459.8L584.6,1467.1L585.5,1475.2L586.5,1480.7L587.4,1476.0L588.4,1460.9L589.3,1468.3L590.3,1472.2L591.2,1460.1L592.2,1456.4L593.1,1486.4L594.1,1489.3L595.0,1456.8L596.0,1470.3L596.9,1494.6L597.9,1504.2L598.8,1495.5L599.8,1489.4L600.7,1485.7L601.7,1485.7L602.6,1467.1L603.6,1478.9L604.5,1493.3L605.5,1479.2L606.4,1487.0L607.4,1483.5L608.3,1475.5L609.3,1493.6L610.3,1482.6L611.2,1498.2L612.2,1491.4L613.1,1490.3L614.1,1491.4L615.0,1502.1L616.0,1485.4L616.9,1508.4L617.9,1522.9L618.8,1501.0L619.8,1506.3L620.7,1472.0L621.7,1478.1L622.6,1481.6L623.6,1481.9L624.5,1495.3L625.5,1492.5L626.4,1486.7L627.4,1489.7L628.3,1498.9L629.3,1505.7L630.2,1499.0L631.2,1484.6L632.1,1488.5L633.1,1475.1L634.0,1470.2L635.0,1487.8L635.9,1466.7L636.9,1456.4L637.9,1471.7L638.8,1479.9L639.8,1457.0L640.7,1457.4L641.7,1451.7L642.6,1430.7L643.6,1457.5L644.5,1464.0L645.5,1455.9L646.4,1458.7L647.4,1460.0L648.3,1476.7L649.3,1470.9L650.2,1450.9L651.2,1446.7L652.1,1447.4L653.1,1448.8L654.0,1461.0L655.0,1442.3L655.9,1456.6L656.9,1447.4L657.8,1423.7L658.8,1438.8L659.7,1442.6L660.7,1454.6L661.6,1466.9L662.6,1470.3L663.5,1477.7L664.5,1485.5L665.4,1481.8L666.4,1479.6L667.4,1482.9L668.3,1477.8L669.3,1486.8L670.2,1452.5L671.2,1465.1L672.1,1460.7L673.1,1483.0L674.0,1480.9L675.0,1481.3L675.9,1482.7L676.9,1484.0L677.8,1484.1L678.8,1484.2L679.7,1492.2L680.7,1484.7L681.6,1486.1L682.6,1480.2L683.5,1503.2L684.5,1506.7L685.4,1506.7L686.4,1509.2L687.3,1502.4L688.3,1502.1L689.2,1499.9L690.2,1479.9L691.1,1502.8L692.1,1499.1L693.0,1511.3L694.0,1507.5L694.0,1559.8L693.0,1560.2L692.1,1560.5L691.1,1553.0L690.2,1547.5L689.2,1547.8L688.3,1583.3L687.3,1586.2L686.4,1580.0L685.4,1579.8L684.5,1583.3L683.5,1580.4L682.6,1565.6L681.6,1565.0L680.7,1565.9L679.7,1567.6L678.8,1561.8L677.8,1549.4L676.9,1544.5L675.9,1534.2L675.0,1533.3L674.0,1543.3L673.1,1532.1L672.1,1528.9L671.2,1535.0L670.2,1524.2L669.3,1545.6L668.3,1544.1L667.4,1541.1L666.4,1526.5L665.4,1523.0L664.5,1558.8L663.5,1542.1L662.6,1544.0L661.6,1535.1L660.7,1524.0L659.7,1512.3L658.8,1508.9L657.8,1504.4L656.9,1514.7L655.9,1516.0L655.0,1505.4L654.0,1510.5L653.1,1506.0L652.1,1501.7L651.2,1523.2L650.2,1514.8L649.3,1539.4L648.3,1531.2L647.4,1535.4L646.4,1522.7L645.5,1522.4L644.5,1530.8L643.6,1518.9L642.6,1521.5L641.7,1531.2L640.7,1534.8L639.8,1533.3L638.8,1553.4L637.9,1538.4L636.9,1528.3L635.9,1533.9L635.0,1547.6L634.0,1553.3L633.1,1531.4L632.1,1560.0L631.2,1539.3L630.2,1541.3L629.3,1550.0L628.3,1556.3L627.4,1565.0L626.4,1553.9L625.5,1559.6L624.5,1544.4L623.6,1530.9L622.6,1545.1L621.7,1534.4L620.7,1546.0L619.8,1569.7L618.8,1558.2L617.9,1571.4L616.9,1588.7L616.0,1554.0L615.0,1561.0L614.1,1551.3L613.1,1552.0L612.2,1547.4L611.2,1560.1L610.3,1559.3L609.3,1551.8L608.3,1538.9L607.4,1542.5L606.4,1544.6L605.5,1559.9L604.5,1546.2L603.6,1551.5L602.6,1553.4L601.7,1556.3L600.7,1556.7L599.8,1549.7L598.8,1562.1L597.9,1559.9L596.9,1563.1L596.0,1555.7L595.0,1540.2L594.1,1534.0L593.1,1541.5L592.2,1538.5L591.2,1534.7L590.3,1534.4L589.3,1523.8L588.4,1525.1L587.4,1553.9L586.5,1555.6L585.5,1546.9L584.6,1536.4L583.6,1535.5L582.7,1526.9L581.7,1535.9L580.8,1535.4L579.8,1517.7L578.8,1524.1L577.9,1512.9L576.9,1509.6L576.0,1539.4L575.0,1537.3L574.1,1548.4L573.1,1554.8L572.2,1536.9L571.2,1536.3L570.3,1549.6L569.3,1533.3L568.4,1533.6L567.4,1543.2L566.5,1543.1L565.5,1521.0L564.6,1545.3L563.6,1536.1L562.7,1524.0L561.7,1510.4L560.8,1508.5L559.8,1507.0L558.9,1518.5L557.9,1546.2L557.0,1535.8L556.0,1515.7L555.1,1500.5L554.1,1526.6L553.2,1531.3L552.2,1534.6L551.2,1557.7L550.3,1539.4L549.3,1549.1L548.4,1552.1L547.4,1561.4L546.5,1560.7L545.5,1549.2L544.6,1563.6L543.6,1552.0L542.7,1557.3L541.7,1558.4L540.8,1557.4L539.8,1554.3L538.9,1539.9L537.9,1541.8L537.0,1544.4L536.0,1556.3L535.1,1555.6L534.1,1536.7L533.2,1540.4L532.2,1557.4L531.3,1560.8L530.3,1548.9L529.4,1546.0L528.4,1557.8L527.5,1542.3L526.5,1542.2L525.6,1533.2L524.6,1541.2L523.7,1534.3L522.7,1527.6L521.7,1528.4L520.8,1528.3L519.8,1539.8L518.9,1531.8L517.9,1565.5L517.0,1545.6L516.0,1533.2L515.1,1535.5L514.1,1536.0L513.2,1548.9L512.2,1537.4L511.3,1548.4L510.3,1551.3L509.4,1567.0L508.4,1544.8L507.5,1534.4L506.5,1540.7L505.6,1566.6L504.6,1549.8L503.7,1556.9L502.7,1570.8L501.8,1572.9L500.8,1565.9L499.9,1581.9L498.9,1589.0L498.0,1581.8L497.0,1590.9L496.1,1590.1L495.1,1606.7L494.2,1593.3L493.2,1601.5L492.2,1598.1L491.3,1600.9L490.3,1613.1L489.4,1598.1L488.4,1602.4L487.5,1595.8L486.5,1591.4L485.6,1605.3L484.6,1609.4L483.7,1607.1L482.7,1605.9L481.8,1590.8L480.8,1587.4L479.9,1591.0L478.9,1588.1L478.0,1586.4L477.0,1587.7L476.1,1598.0L475.1,1595.7L474.2,1598.5L473.2,1593.5L472.3,1616.5L471.3,1631.6L470.4,1618.4L469.4,1628.4L468.5,1604.9L467.5,1589.2L466.6,1603.3L465.6,1608.4L464.6,1593.9L463.7,1611.0L462.7,1591.9L461.8,1595.3L460.8,1588.9L459.9,1598.6L458.9,1597.1L458.0,1576.8L457.0,1605.1L456.1,1588.6L455.1,1583.2L454.2,1596.7L453.2,1587.8L452.3,1583.1L451.3,1574.8L450.4,1565.4L449.4,1577.0L448.5,1586.5L447.5,1579.3L446.6,1574.8L445.6,1562.9L444.7,1574.6L443.7,1587.9L442.8,1574.8L441.8,1569.0L440.9,1574.3L439.9,1572.8L439.0,1581.0L438.0,1583.5L437.1,1573.2L436.1,1571.8L435.1,1573.6L434.2,1589.6L433.2,1598.0L432.3,1590.3L431.3,1578.7L430.4,1581.4L429.4,1581.5L428.5,1586.8L427.5,1612.1L426.6,1597.7L425.6,1596.5L424.7,1595.5L423.7,1596.1L422.8,1581.3L421.8,1574.6L420.9,1567.7L419.9,1542.7L419.0,1549.1L418.0,1534.5L417.1,1548.7L416.1,1551.7L415.2,1563.8L414.2,1564.7L413.3,1541.1L412.3,1538.8L411.4,1536.4L410.4,1553.8L409.5,1547.7L408.5,1522.4L407.5,1524.4L406.6,1526.8L405.6,1529.9L404.7,1551.9L403.7,1564.3L402.8,1547.4L401.8,1565.4L400.9,1537.5L399.9,1547.3L399.0,1548.7L398.0,1539.4L397.1,1551.1L396.1,1551.2L395.2,1562.6L394.2,1557.9L393.3,1544.2L392.3,1564.0L391.4,1545.5L390.4,1570.2L389.5,1571.8L388.5,1570.0L387.6,1571.9L386.6,1573.4L385.7,1565.2L384.7,1569.5L383.8,1575.3L382.8,1577.0L381.9,1564.4L380.9,1555.1L379.9,1560.5L379.0,1545.1L378.0,1542.9L377.1,1568.1L376.1,1559.7L375.2,1552.1L374.2,1534.4L373.3,1542.9L372.3,1542.4L371.4,1561.3L370.4,1579.8L369.5,1571.5L368.5,1587.4L367.6,1558.4L366.6,1562.6L365.7,1559.3L364.7,1560.0L363.8,1547.8L362.8,1557.5L361.9,1557.2L360.9,1567.6L360.0,1585.8L359.0,1567.4L358.1,1563.6L357.1,1566.4L356.2,1583.4L355.2,1584.7L354.3,1572.2L353.3,1554.5L352.4,1562.8L351.4,1568.4L350.4,1566.4L349.5,1554.4L348.5,1558.9L347.6,1557.6L346.6,1568.9L345.7,1565.8L344.7,1568.4L343.8,1571.2L342.8,1580.0L341.9,1569.7L340.9,1576.5L340.0,1567.2L339.0,1555.7L338.1,1574.4L337.1,1572.9L336.2,1562.5L335.2,1552.9L334.3,1556.7L333.3,1537.7L332.4,1548.0L331.4,1555.8L330.5,1566.9L329.5,1552.2L328.6,1525.2L327.6,1522.9L326.7,1530.6L325.7,1527.6L324.8,1541.6L323.8,1528.9L322.9,1539.3L321.9,1523.6L320.9,1528.7L320.0,1503.1L319.0,1498.0L318.1,1508.0L317.1,1499.6L316.2,1499.7L315.2,1501.9L314.3,1516.4L313.3,1516.3L312.4,1493.5L311.4,1482.7L310.5,1468.0L309.5,1463.4L308.6,1456.0L307.6,1467.9L306.7,1477.9L305.7,1467.8L304.8,1476.8L303.8,1488.9L302.9,1482.4L301.9,1482.3L301.0,1466.1L300.0,1472.5L299.1,1486.4L298.1,1480.5L297.2,1483.0L296.2,1499.8L295.3,1518.7L294.3,1499.1L293.3,1504.4L292.4,1510.5L291.4,1502.1L290.5,1494.9L289.5,1486.2L288.6,1487.6L287.6,1490.7L286.7,1490.9L285.7,1476.7L284.8,1477.1L283.8,1494.7L282.9,1507.0L281.9,1490.1L281.0,1501.6L280.0,1489.1L279.1,1510.3L278.1,1505.1L277.2,1502.6L276.2,1498.3L275.3,1500.2L274.3,1483.8L273.4,1488.5L272.4,1493.7L271.5,1490.8L270.5,1500.7L269.6,1480.4L268.6,1481.6L267.7,1456.7L266.7,1477.7L265.8,1489.6L264.8,1481.2L263.8,1488.1L262.9,1494.2L261.9,1485.4L261.0,1494.9L260.0,1488.9L259.1,1494.3L258.1,1476.2L257.2,1472.2L256.2,1472.5L255.3,1466.6L254.3,1469.2L253.4,1459.6L252.4,1450.8L251.5,1453.0L250.5,1441.3L249.6,1470.0L248.6,1459.3L247.7,1463.4L246.7,1461.0L245.8,1450.0L244.8,1438.2L243.9,1443.9L242.9,1424.5L242.0,1437.8L241.0,1447.7L240.1,1451.6L239.1,1440.3L238.2,1452.1L237.2,1455.5L236.2,1447.5L235.3,1452.0L234.3,1438.2L233.4,1453.4L232.4,1456.8L231.5,1485.6L230.5,1475.8L229.6,1476.7L228.6,1461.7L227.7,1482.8L226.7,1489.1L225.8,1490.5L224.8,1489.6L223.9,1489.0L222.9,1474.5L222.0,1481.2L221.0,1475.8L220.1,1484.1L219.1,1505.1L218.2,1496.1L217.2,1487.1L216.3,1495.4L215.3,1500.6L214.4,1491.2L213.4,1506.2L212.5,1482.1L211.5,1491.8L210.6,1494.3L209.6,1496.4L208.6,1485.8L207.7,1484.7L206.7,1486.5L205.8,1499.3L204.8,1493.4L203.9,1488.9L202.9,1473.0L202.0,1474.7L201.0,1475.4L200.1,1481.5L199.1,1504.5L198.2,1495.6L197.2,1504.5L196.3,1486.3L195.3,1490.7L194.4,1478.9L193.4,1482.5L192.5,1487.8L191.5,1483.6L190.6,1480.4L189.6,1479.4L188.7,1496.6L187.7,1483.0L186.8,1488.9L185.8,1479.8L184.9,1493.7L183.9,1500.6L183.0,1482.3L182.0,1479.8L181.1,1467.9L180.1,1464.3L179.1,1461.0L178.2,1457.4L177.2,1473.5L176.3,1464.0L175.3,1465.6L174.4,1481.4L173.4,1480.3L172.5,1466.1L171.5,1474.7L170.6,1468.4L169.6,1486.0L168.7,1498.0L167.7,1482.6L166.8,1488.6L165.8,1489.0L164.9,1499.2L163.9,1491.3L163.0,1480.2L162.0,1500.7L161.1,1506.1L160.1,1504.9L159.2,1503.5L158.2,1498.4L157.3,1505.2L156.3,1508.5L155.4,1523.0L154.4,1511.0L153.5,1522.5L152.5,1522.9L151.6,1521.5L150.6,1518.2L149.6,1504.2L148.7,1521.3L147.7,1523.4L146.8,1505.5L145.8,1522.4L144.9,1513.5L143.9,1500.8L143.0,1478.9L142.0,1472.7L141.1,1471.5L140.1,1486.5L139.2,1487.6L138.2,1487.9L137.3,1509.2L136.3,1519.5L135.4,1499.5L134.4,1519.7L133.5,1505.9L132.5,1516.4L131.6,1492.9L130.6,1491.7L129.7,1495.0L128.7,1484.1L127.8,1470.4L126.8,1462.3L125.9,1487.7L124.9,1496.7L124.0,1500.7L123.0,1510.6Z" fill="#d9a27e" fill-opacity="0.3" stroke="#d9a27e" stroke-opacity="0.35" stroke-width="0.8"/>
<path d="M123.0,1476.8L124.0,1471.4L124.9,1457.1L125.9,1446.7L126.8,1437.4L127.8,1447.2L128.7,1447.3L129.7,1458.3L130.6,1463.6L131.6,1456.7L132.5,1455.1L133.5,1460.4L134.4,1467.5L135.4,1459.4L136.3,1472.5L137.3,1454.2L138.2,1450.0L139.2,1448.0L140.1,1452.5L141.1,1446.7L142.0,1443.0L143.0,1455.9L143.9,1462.6L144.9,1472.0L145.8,1473.7L146.8,1474.1L147.7,1485.2L148.7,1487.9L149.6,1480.7L150.6,1490.7L151.6,1491.2L152.5,1498.7L153.5,1490.6L154.4,1488.1L155.4,1489.8L156.3,1485.4L157.3,1479.8L158.2,1481.9L159.2,1479.7L160.1,1466.5L161.1,1469.4L162.0,1462.6L163.0,1447.7L163.9,1455.7L164.9,1448.7L165.8,1453.0L166.8,1453.1L167.7,1453.2L168.7,1458.8L169.6,1450.9L170.6,1448.9L171.5,1450.9L172.5,1438.8L173.4,1444.9L174.4,1442.4L175.3,1436.8L176.3,1442.6L177.2,1443.9L178.2,1437.0L179.1,1429.1L180.1,1438.3L181.1,1443.8L182.0,1446.0L183.0,1443.7L183.9,1458.8L184.9,1463.7L185.8,1456.0L186.8,1454.7L187.7,1462.1L188.7,1462.7L189.6,1453.2L190.6,1447.4L191.5,1447.9L192.5,1453.5L193.4,1445.7L194.4,1443.1L195.3,1444.0L196.3,1451.1L197.2,1456.2L198.2,1459.5L199.1,1452.9L200.1,1449.0L201.0,1443.9L202.0,1440.8L202.9,1437.7L203.9,1451.6L204.8,1456.9L205.8,1450.4L206.7,1445.6L207.7,1458.3L208.6,1443.6L209.6,1442.5L210.6,1450.2L211.5,1447.2L212.5,1440.0L213.4,1453.2L214.4,1444.6L215.3,1446.2L216.3,1458.6L217.2,1460.4L218.2,1464.7L219.1,1464.3L220.1,1458.0L221.0,1463.4L222.0,1461.1L222.9,1454.9L223.9,1453.2L224.8,1455.1L225.8,1456.9L226.7,1455.0L227.7,1451.8L228.6,1441.5L229.6,1444.2L230.5,1440.8L231.5,1435.3L232.4,1429.0L233.4,1422.2L234.3,1415.6L235.3,1413.1L236.2,1416.6L237.2,1410.9L238.2,1409.8L239.1,1409.8L240.1,1421.3L241.0,1420.6L242.0,1423.1L242.9,1409.7L243.9,1418.3L244.8,1424.2L245.8,1428.2L246.7,1437.3L247.7,1440.2L248.6,1432.9L249.6,1433.8L250.5,1427.2L251.5,1440.5L252.4,1443.0L253.4,1433.7L254.3,1436.1L255.3,1432.4L256.2,1433.0L257.2,1433.0L258.1,1442.4L259.1,1443.5L260.0,1455.3L261.0,1454.1L261.9,1457.4L262.9,1458.5L263.8,1462.6L264.8,1457.6L265.8,1451.5L266.7,1448.0L267.7,1440.9L268.6,1443.8L269.6,1447.3L270.5,1459.4L271.5,1456.9L272.4,1457.1L273.4,1457.1L274.3,1458.7L275.3,1466.0L276.2,1468.9L277.2,1475.6L278.1,1465.2L279.1,1471.3L280.0,1467.6L281.0,1474.0L281.9,1468.4L282.9,1475.9L283.8,1471.4L284.8,1458.6L285.7,1461.4L286.7,1460.9L287.6,1453.2L288.6,1462.4L289.5,1463.3L290.5,1469.7L291.4,1473.3L292.4,1476.9L293.3,1463.5L294.3,1465.7L295.3,1482.2L296.2,1476.8L297.2,1459.1L298.1,1463.4L299.1,1458.3L300.0,1455.9L301.0,1449.7L301.9,1442.3L302.9,1439.5L303.8,1440.4L304.8,1439.2L305.7,1434.0L306.7,1436.6L307.6,1431.7L308.6,1434.2L309.5,1436.6L310.5,1432.6L311.4,1445.4L312.4,1455.1L313.3,1473.5L314.3,1479.0L315.2,1476.9L316.2,1481.2L317.1,1485.1L318.1,1490.3L319.0,1481.2L320.0,1481.7L320.9,1498.0L321.9,1497.2L322.9,1502.1L323.8,1494.5L324.8,1503.6L325.7,1506.5L326.7,1509.0L327.6,1503.4L328.6,1509.8L329.5,1522.4L330.5,1522.9L331.4,1528.6L332.4,1524.8L333.3,1519.9L334.3,1528.9L335.2,1533.4L336.2,1541.6L337.1,1542.0L338.1,1552.4L339.0,1544.4L340.0,1540.2L340.9,1548.1L341.9,1541.8L342.8,1552.1L343.8,1544.3L344.7,1540.3L345.7,1536.5L346.6,1538.2L347.6,1532.9L348.5,1535.8L349.5,1534.5L350.4,1547.5L351.4,1545.6L352.4,1547.6L353.3,1543.4L354.3,1544.2L355.2,1541.7L356.2,1544.6L357.1,1534.8L358.1,1524.7L359.0,1523.6L360.0,1536.0L360.9,1532.0L361.9,1534.9L362.8,1534.2L363.8,1526.8L364.7,1525.4L365.7,1525.9L366.6,1517.9L367.6,1518.7L368.5,1535.4L369.5,1539.4L370.4,1536.8L371.4,1533.7L372.3,1530.1L373.3,1531.1L374.2,1524.4L375.2,1538.4L376.1,1537.9L377.1,1533.4L378.0,1521.9L379.0,1530.8L379.9,1538.0L380.9,1538.9L381.9,1548.0L382.8,1549.7L383.8,1547.7L384.7,1534.6L385.7,1539.1L386.6,1542.2L387.6,1541.3L388.5,1538.4L389.5,1538.5L390.4,1531.4L391.4,1521.6L392.3,1524.6L393.3,1518.6L394.2,1527.7L395.2,1536.4L396.1,1522.7L397.1,1522.5L398.0,1520.3L399.0,1521.3L399.9,1522.5L400.9,1514.6L401.8,1525.9L402.8,1521.4L403.7,1521.4L404.7,1515.8L405.6,1508.7L406.6,1501.5L407.5,1499.3L408.5,1500.0L409.5,1511.8L410.4,1520.3L411.4,1510.1L412.3,1512.6L413.3,1509.5L414.2,1520.9L415.2,1526.4L416.1,1510.1L417.1,1518.8L418.0,1510.3L419.0,1518.9L419.9,1522.1L420.9,1547.8L421.8,1545.3L422.8,1552.7L423.7,1559.0L424.7,1555.0L425.6,1551.6L426.6,1556.7L427.5,1558.3L428.5,1552.7L429.4,1546.6L430.4,1546.4L431.3,1545.7L432.3,1549.8L433.2,1555.0L434.2,1553.8L435.1,1552.2L436.1,1547.8L437.1,1548.8L438.0,1555.4L439.0,1551.4L439.9,1542.7L440.9,1540.0L441.8,1543.7L442.8,1539.6L443.7,1558.8L444.7,1552.4L445.6,1551.4L446.6,1550.0L447.5,1558.0L448.5,1553.6L449.4,1546.4L450.4,1538.3L451.3,1545.1L452.3,1549.8L453.2,1555.6L454.2,1555.5L455.1,1554.6L456.1,1553.2L457.0,1558.7L458.0,1551.7L458.9,1564.1L459.9,1557.7L460.8,1554.5L461.8,1548.4L462.7,1553.6L463.7,1557.2L464.6,1552.0L465.6,1565.2L466.6,1556.8L467.5,1554.1L468.5,1562.6L469.4,1584.7L470.4,1581.7L471.3,1587.0L472.3,1575.2L473.2,1570.0L474.2,1576.3L475.1,1572.5L476.1,1568.6L477.0,1562.0L478.0,1558.3L478.9,1556.5L479.9,1558.3L480.8,1560.7L481.8,1568.9L482.7,1577.6L483.7,1574.7L484.6,1570.4L485.6,1574.4L486.5,1570.6L487.5,1572.7L488.4,1568.6L489.4,1561.1L490.3,1567.6L491.3,1562.9L492.2,1560.9L493.2,1564.2L494.2,1562.8L495.1,1571.5L496.1,1558.6L497.0,1548.5L498.0,1551.9L498.9,1552.9L499.9,1544.2L500.8,1528.9L501.8,1534.3L502.7,1534.3L503.7,1529.2L504.6,1521.0L505.6,1521.8L506.5,1511.7L507.5,1509.9L508.4,1511.6L509.4,1514.1L510.3,1520.0L511.3,1517.0L512.2,1515.5L513.2,1516.9L514.1,1511.9L515.1,1517.0L516.0,1510.4L517.0,1518.3L517.9,1513.6L518.9,1503.2L519.8,1501.5L520.8,1492.0L521.7,1504.7L522.7,1503.9L523.7,1506.3L524.6,1504.4L525.6,1509.1L526.5,1512.8L527.5,1521.5L528.4,1524.3L529.4,1512.8L530.3,1514.7L531.3,1516.2L532.2,1517.7L533.2,1524.1L534.1,1519.0L535.1,1529.2L536.0,1525.4L537.0,1516.8L537.9,1520.8L538.9,1522.4L539.8,1535.1L540.8,1527.2L541.7,1520.7L542.7,1528.5L543.6,1516.7L544.6,1519.7L545.5,1513.0L546.5,1514.3L547.4,1526.3L548.4,1522.2L549.3,1512.5L550.3,1516.8L551.2,1514.7L552.2,1515.0L553.2,1510.4L554.1,1494.1L555.1,1485.3L556.0,1494.6L557.0,1494.0L557.9,1496.9L558.9,1484.9L559.8,1476.3L560.8,1479.4L561.7,1477.2L562.7,1481.1L563.6,1492.0L564.6,1496.8L565.5,1489.9L566.5,1496.5L567.4,1500.3L568.4,1497.0L569.3,1494.0L570.3,1498.0L571.2,1495.8L572.2,1497.4L573.1,1504.1L574.1,1498.5L575.0,1494.8L576.0,1497.6L576.9,1480.4L577.9,1494.1L578.8,1488.6L579.8,1497.1L580.8,1499.5L581.7,1499.3L582.7,1499.0L583.6,1501.3L584.6,1505.6L585.5,1513.3L586.5,1522.4L587.4,1517.3L588.4,1503.3L589.3,1505.3L590.3,1508.1L591.2,1495.3L592.2,1515.2L593.1,1515.7L594.1,1519.8L595.0,1509.6L596.0,1515.4L596.9,1517.0L597.9,1518.4L598.8,1519.8L599.8,1513.2L600.7,1515.7L601.7,1517.9L602.6,1520.6L603.6,1519.0L604.5,1517.6L605.5,1515.6L606.4,1505.8L607.4,1510.8L608.3,1503.7L609.3,1512.1L610.3,1513.6L611.2,1523.7L612.2,1510.1L613.1,1511.1L614.1,1512.7L615.0,1518.3L616.0,1518.4L616.9,1533.0L617.9,1532.8L618.8,1523.7L619.8,1522.6L620.7,1517.6L621.7,1512.8L622.6,1523.6L623.6,1516.9L624.5,1526.1L625.5,1530.6L626.4,1528.0L627.4,1529.6L628.3,1535.3L629.3,1527.2L630.2,1525.8L631.2,1523.5L632.1,1521.6L633.1,1513.2L634.0,1523.2L635.0,1523.6L635.9,1507.7L636.9,1506.0L637.9,1512.8L638.8,1520.5L639.8,1505.5L640.7,1504.3L641.7,1495.2L642.6,1479.9L643.6,1477.7L644.5,1486.4L645.5,1484.9L646.4,1484.4L647.4,1487.6L648.3,1486.2L649.3,1488.5L650.2,1480.1L651.2,1475.9L652.1,1470.4L653.1,1472.6L654.0,1480.5L655.0,1472.3L655.9,1474.8L656.9,1469.5L657.8,1469.7L658.8,1480.5L659.7,1491.1L660.7,1491.0L661.6,1497.4L662.6,1498.6L663.5,1497.4L664.5,1508.8L665.4,1501.0L666.4,1502.1L667.4,1514.8L668.3,1514.0L669.3,1510.4L670.2,1498.6L671.2,1501.3L672.1,1504.4L673.1,1506.2L674.0,1513.9L675.0,1512.6L675.9,1507.4L676.9,1514.7L677.8,1517.7L678.8,1520.2L679.7,1525.1L680.7,1528.3L681.6,1522.7L682.6,1529.8L683.5,1536.0L684.5,1532.9L685.4,1534.4L686.4,1534.6L687.3,1539.0L688.3,1543.5L689.2,1529.3L690.2,1524.3L691.1,1525.6L692.1,1539.2L693.0,1546.2L694.0,1543.0" fill="none" stroke="#ad5625" stroke-width="2.8" stroke-linejoin="round"/>
<line x1="123.0" y1="1462.8" x2="694.0" y2="1462.8" stroke="#000" stroke-width="1.8"/>
<line x1="123.0" y1="1267.8" x2="123.0" y2="1723.8" stroke="#000" stroke-width="2"/>
<line x1="122.0" y1="1722.8" x2="695.0" y2="1722.8" stroke="#000" stroke-width="2"/>
<line x1="117.0" y1="1332.8" x2="123.0" y2="1332.8" stroke="#000" stroke-width="1.8"/>
<text x="112.0" y="1342.0" font-size="26" text-anchor="end" fill="#231f20">0.2</text>
<line x1="117.0" y1="1462.8" x2="123.0" y2="1462.8" stroke="#000" stroke-width="1.8"/>
<text x="112.0" y="1472.0" font-size="26" text-anchor="end" fill="#231f20">0.0</text>
<line x1="117.0" y1="1592.8" x2="123.0" y2="1592.8" stroke="#000" stroke-width="1.8"/>
<text x="112.0" y="1602.0" font-size="26" text-anchor="end" fill="#231f20">-0.2</text>
<line x1="117.0" y1="1722.8" x2="123.0" y2="1722.8" stroke="#000" stroke-width="1.8"/>
<text x="112.0" y="1732.0" font-size="26" text-anchor="end" fill="#231f20">-0.4</text>
<line x1="123.0" y1="1722.8" x2="123.0" y2="1729.8" stroke="#000" stroke-width="1.8"/>
<line x1="313.3" y1="1722.8" x2="313.3" y2="1729.8" stroke="#000" stroke-width="1.8"/>
<line x1="503.7" y1="1722.8" x2="503.7" y2="1729.8" stroke="#000" stroke-width="1.8"/>
<line x1="694.0" y1="1722.8" x2="694.0" y2="1729.8" stroke="#000" stroke-width="1.8"/>
<text x="716.0" y="1234.0" font-size="59" font-weight="bold" fill="#231f20">G</text>
<text x="1042.0" y="1268.7" font-size="42" text-anchor="middle" fill="#231f20" textLength="213" lengthAdjust="spacingAndGlyphs">0.5mM ATR</text>
<rect x="948.2" y="1267.8" width="191.2" height="455.0" fill="#d9eedd"/>
<path d="M757.0,1459.7L758.0,1460.2L758.9,1466.6L759.9,1454.7L760.8,1442.0L761.8,1457.4L762.7,1459.9L763.7,1456.3L764.6,1441.9L765.6,1433.1L766.6,1441.6L767.5,1444.3L768.5,1458.4L769.4,1469.5L770.4,1448.3L771.3,1456.1L772.3,1444.5L773.2,1443.5L774.2,1435.3L775.2,1437.4L776.1,1429.8L777.1,1445.2L778.0,1447.0L779.0,1454.1L779.9,1448.0L780.9,1440.1L781.9,1447.1L782.8,1432.5L783.8,1438.4L784.7,1444.1L785.7,1434.5L786.6,1446.3L787.6,1458.9L788.5,1434.7L789.5,1438.1L790.5,1434.0L791.4,1443.0L792.4,1441.1L793.3,1439.6L794.3,1443.9L795.2,1451.1L796.2,1432.9L797.1,1434.5L798.1,1422.9L799.1,1436.0L800.0,1449.4L801.0,1447.8L801.9,1437.2L802.9,1437.4L803.8,1432.9L804.8,1445.0L805.7,1442.8L806.7,1434.7L807.7,1435.8L808.6,1432.3L809.6,1439.8L810.5,1443.5L811.5,1440.7L812.4,1444.6L813.4,1453.6L814.4,1436.2L815.3,1417.9L816.3,1426.5L817.2,1445.2L818.2,1445.4L819.1,1428.0L820.1,1413.2L821.0,1412.0L822.0,1414.3L823.0,1423.6L823.9,1421.8L824.9,1441.3L825.8,1426.7L826.8,1434.3L827.7,1429.7L828.7,1428.1L829.6,1422.6L830.6,1412.8L831.6,1399.2L832.5,1421.7L833.5,1420.9L834.4,1424.4L835.4,1408.6L836.3,1398.7L837.3,1409.3L838.2,1403.3L839.2,1410.8L840.2,1406.9L841.1,1404.1L842.1,1406.8L843.0,1428.9L844.0,1420.5L844.9,1412.4L845.9,1416.9L846.8,1426.0L847.8,1428.7L848.8,1451.6L849.7,1446.5L850.7,1435.0L851.6,1426.9L852.6,1427.4L853.5,1437.0L854.5,1426.0L855.5,1435.0L856.4,1440.8L857.4,1450.7L858.3,1452.2L859.3,1439.7L860.2,1429.9L861.2,1430.6L862.1,1431.8L863.1,1438.3L864.1,1432.6L865.0,1432.1L866.0,1437.1L866.9,1444.8L867.9,1445.4L868.8,1433.6L869.8,1443.3L870.7,1440.1L871.7,1444.7L872.7,1453.0L873.6,1463.3L874.6,1455.0L875.5,1450.5L876.5,1441.3L877.4,1425.2L878.4,1428.6L879.3,1447.2L880.3,1459.0L881.3,1451.6L882.2,1468.0L883.2,1464.5L884.1,1457.7L885.1,1466.8L886.0,1447.8L887.0,1472.7L887.9,1454.4L888.9,1434.4L889.9,1447.6L890.8,1434.5L891.8,1435.6L892.7,1445.4L893.7,1430.1L894.6,1435.0L895.6,1444.0L896.6,1437.4L897.5,1448.3L898.5,1445.1L899.4,1440.1L900.4,1446.5L901.3,1433.2L902.3,1442.4L903.2,1450.8L904.2,1436.3L905.2,1443.4L906.1,1419.8L907.1,1440.7L908.0,1439.0L909.0,1437.7L909.9,1450.0L910.9,1452.3L911.8,1447.6L912.8,1451.5L913.8,1436.6L914.7,1435.5L915.7,1441.9L916.6,1440.9L917.6,1441.2L918.5,1446.6L919.5,1438.4L920.4,1438.0L921.4,1427.4L922.4,1431.3L923.3,1433.3L924.3,1439.1L925.2,1439.0L926.2,1444.9L927.1,1449.3L928.1,1447.7L929.0,1435.9L930.0,1454.2L931.0,1443.6L931.9,1435.1L932.9,1449.4L933.8,1461.0L934.8,1441.3L935.7,1441.6L936.7,1459.9L937.7,1467.1L938.6,1467.5L939.6,1451.5L940.5,1467.3L941.5,1467.9L942.4,1457.7L943.4,1450.9L944.3,1461.7L945.3,1463.8L946.3,1463.3L947.2,1456.5L948.2,1456.6L949.1,1471.5L950.1,1464.8L951.0,1471.6L952.0,1463.1L952.9,1462.3L953.9,1469.1L954.9,1446.3L955.8,1463.5L956.8,1464.7L957.7,1469.7L958.7,1464.0L959.6,1465.3L960.6,1477.1L961.5,1482.2L962.5,1473.1L963.5,1472.7L964.4,1453.5L965.4,1463.0L966.3,1463.0L967.3,1458.8L968.2,1454.8L969.2,1450.0L970.2,1450.5L971.1,1449.8L972.1,1448.8L973.0,1448.6L974.0,1470.2L974.9,1469.6L975.9,1464.5L976.8,1461.9L977.8,1455.6L978.8,1446.7L979.7,1419.0L980.7,1439.2L981.6,1428.8L982.6,1409.4L983.5,1427.1L984.5,1424.7L985.4,1428.0L986.4,1441.2L987.4,1454.1L988.3,1448.0L989.3,1439.6L990.2,1439.2L991.2,1442.4L992.1,1455.4L993.1,1452.1L994.0,1434.5L995.0,1449.4L996.0,1455.2L996.9,1456.3L997.9,1465.4L998.8,1456.1L999.8,1449.2L1000.7,1443.6L1001.7,1458.1L1002.6,1457.0L1003.6,1456.3L1004.6,1452.7L1005.5,1453.1L1006.5,1460.6L1007.4,1466.8L1008.4,1446.5L1009.3,1442.0L1010.3,1444.7L1011.3,1437.3L1012.2,1454.0L1013.2,1436.5L1014.1,1438.2L1015.1,1438.4L1016.0,1435.9L1017.0,1446.3L1017.9,1453.9L1018.9,1445.3L1019.9,1433.1L1020.8,1430.0L1021.8,1433.1L1022.7,1434.2L1023.7,1425.9L1024.6,1428.5L1025.6,1431.0L1026.5,1451.6L1027.5,1424.4L1028.5,1438.4L1029.4,1432.0L1030.4,1443.0L1031.3,1436.4L1032.3,1435.6L1033.2,1442.6L1034.2,1431.1L1035.1,1453.5L1036.1,1446.5L1037.1,1440.8L1038.0,1441.4L1039.0,1442.5L1039.9,1440.7L1040.9,1441.7L1041.8,1447.8L1042.8,1450.9L1043.8,1449.6L1044.7,1452.3L1045.7,1459.3L1046.6,1457.1L1047.6,1462.9L1048.5,1463.5L1049.5,1452.2L1050.4,1453.8L1051.4,1461.2L1052.4,1453.8L1053.3,1457.4L1054.3,1448.5L1055.2,1439.0L1056.2,1442.8L1057.1,1450.5L1058.1,1456.8L1059.0,1452.7L1060.0,1451.5L1061.0,1462.9L1061.9,1460.3L1062.9,1474.0L1063.8,1464.7L1064.8,1467.4L1065.7,1464.6L1066.7,1458.2L1067.6,1436.4L1068.6,1434.3L1069.6,1453.3L1070.5,1455.7L1071.5,1431.5L1072.4,1448.2L1073.4,1443.7L1074.3,1447.1L1075.3,1442.4L1076.2,1446.9L1077.2,1446.4L1078.2,1437.3L1079.1,1448.7L1080.1,1439.1L1081.0,1443.7L1082.0,1435.4L1082.9,1439.2L1083.9,1451.4L1084.9,1437.6L1085.8,1426.0L1086.8,1404.1L1087.7,1408.6L1088.7,1399.2L1089.6,1408.6L1090.6,1410.7L1091.5,1412.7L1092.5,1404.9L1093.5,1419.9L1094.4,1418.2L1095.4,1412.0L1096.3,1411.9L1097.3,1416.5L1098.2,1424.2L1099.2,1408.6L1100.1,1434.7L1101.1,1440.9L1102.1,1441.1L1103.0,1440.0L1104.0,1437.5L1104.9,1428.8L1105.9,1426.8L1106.8,1421.2L1107.8,1428.9L1108.7,1417.5L1109.7,1438.2L1110.7,1463.9L1111.6,1456.6L1112.6,1460.3L1113.5,1450.2L1114.5,1458.3L1115.4,1448.3L1116.4,1463.2L1117.3,1455.7L1118.3,1454.6L1119.3,1457.8L1120.2,1446.0L1121.2,1443.1L1122.1,1448.6L1123.1,1459.5L1124.0,1464.1L1125.0,1451.3L1126.0,1464.6L1126.9,1460.7L1127.9,1451.1L1128.8,1459.4L1129.8,1452.6L1130.7,1469.9L1131.7,1455.5L1132.6,1445.3L1133.6,1464.9L1134.6,1473.0L1135.5,1466.7L1136.5,1497.5L1137.4,1491.1L1138.4,1489.9L1139.3,1489.3L1140.3,1487.4L1141.2,1487.0L1142.2,1475.5L1143.2,1471.5L1144.1,1460.8L1145.1,1449.2L1146.0,1450.4L1147.0,1446.4L1147.9,1434.1L1148.9,1450.3L1149.8,1448.9L1150.8,1446.2L1151.8,1441.9L1152.7,1446.0L1153.7,1429.5L1154.6,1423.2L1155.6,1409.1L1156.5,1410.4L1157.5,1408.7L1158.5,1410.0L1159.4,1403.0L1160.4,1404.9L1161.3,1397.1L1162.3,1393.7L1163.2,1404.7L1164.2,1422.2L1165.1,1421.6L1166.1,1413.0L1167.1,1433.2L1168.0,1428.7L1169.0,1432.1L1169.9,1426.8L1170.9,1441.3L1171.8,1445.6L1172.8,1429.8L1173.7,1429.8L1174.7,1440.2L1175.7,1442.0L1176.6,1448.1L1177.6,1441.3L1178.5,1469.2L1179.5,1450.1L1180.4,1446.3L1181.4,1437.6L1182.3,1436.4L1183.3,1429.6L1184.3,1430.8L1185.2,1453.0L1186.2,1456.7L1187.1,1467.3L1188.1,1468.9L1189.0,1430.7L1190.0,1443.6L1190.9,1452.5L1191.9,1442.3L1192.9,1459.6L1193.8,1463.2L1194.8,1463.8L1195.7,1457.4L1196.7,1459.8L1197.6,1470.5L1198.6,1462.7L1199.6,1468.9L1200.5,1469.2L1201.5,1471.1L1202.4,1464.4L1203.4,1486.4L1204.3,1477.4L1205.3,1474.8L1206.2,1439.3L1207.2,1462.9L1208.2,1460.3L1209.1,1455.9L1210.1,1462.0L1211.0,1451.4L1212.0,1457.2L1212.9,1453.0L1213.9,1440.6L1214.8,1460.4L1215.8,1460.0L1216.8,1450.9L1217.7,1451.9L1218.7,1453.4L1219.6,1456.3L1220.6,1461.9L1221.5,1441.8L1222.5,1444.7L1223.4,1438.3L1224.4,1447.8L1225.4,1445.5L1226.3,1455.2L1227.3,1456.5L1228.2,1457.5L1229.2,1476.6L1230.1,1449.4L1231.1,1463.0L1232.0,1463.6L1233.0,1467.1L1234.0,1462.8L1234.9,1467.6L1235.9,1454.0L1236.8,1463.2L1237.8,1462.3L1238.7,1451.3L1239.7,1447.1L1240.7,1460.7L1241.6,1454.0L1242.6,1458.5L1243.5,1466.6L1244.5,1482.9L1245.4,1473.2L1246.4,1489.1L1247.3,1471.7L1248.3,1480.7L1249.3,1491.2L1250.2,1474.4L1251.2,1476.5L1252.1,1469.4L1253.1,1486.3L1254.0,1488.8L1255.0,1470.0L1255.9,1475.2L1256.9,1491.7L1257.9,1474.6L1258.8,1478.5L1259.8,1470.9L1260.7,1468.5L1261.7,1489.3L1262.6,1490.3L1263.6,1492.2L1264.5,1491.9L1265.5,1481.4L1266.5,1455.5L1267.4,1465.5L1268.4,1481.0L1269.3,1475.3L1270.3,1460.6L1271.2,1451.6L1272.2,1465.4L1273.2,1472.8L1274.1,1474.9L1275.1,1473.6L1276.0,1477.3L1277.0,1453.7L1277.9,1473.3L1278.9,1486.0L1279.8,1502.2L1280.8,1493.6L1281.8,1476.8L1282.7,1480.5L1283.7,1488.1L1284.6,1489.2L1285.6,1494.0L1286.5,1486.3L1287.5,1491.8L1288.4,1472.1L1289.4,1479.7L1290.4,1469.0L1291.3,1488.7L1292.3,1477.6L1293.2,1482.4L1294.2,1487.0L1295.1,1496.1L1296.1,1493.7L1297.0,1497.3L1298.0,1487.4L1299.0,1511.7L1299.9,1495.9L1300.9,1505.0L1301.8,1491.9L1302.8,1485.3L1303.7,1502.8L1304.7,1494.3L1305.6,1499.6L1306.6,1502.0L1307.6,1502.0L1308.5,1514.4L1309.5,1518.0L1310.4,1513.3L1311.4,1522.6L1312.3,1506.0L1313.3,1499.0L1314.3,1501.8L1315.2,1501.5L1316.2,1495.9L1317.1,1499.2L1318.1,1494.4L1319.0,1512.1L1320.0,1500.9L1320.9,1516.9L1321.9,1505.7L1322.9,1512.2L1323.8,1481.9L1324.8,1500.8L1325.7,1490.0L1326.7,1501.9L1327.6,1512.1L1328.6,1505.4L1329.5,1498.1L1330.5,1509.1L1330.5,1572.1L1329.5,1556.9L1328.6,1585.2L1327.6,1577.1L1326.7,1547.2L1325.7,1546.7L1324.8,1553.9L1323.8,1555.9L1322.9,1568.7L1321.9,1563.1L1320.9,1577.4L1320.0,1559.1L1319.0,1575.0L1318.1,1565.5L1317.1,1570.3L1316.2,1559.4L1315.2,1572.6L1314.3,1571.5L1313.3,1557.5L1312.3,1559.2L1311.4,1580.1L1310.4,1567.6L1309.5,1576.8L1308.5,1557.9L1307.6,1554.8L1306.6,1562.9L1305.6,1564.1L1304.7,1570.2L1303.7,1572.8L1302.8,1551.9L1301.8,1566.1L1300.9,1553.4L1299.9,1552.1L1299.0,1552.6L1298.0,1548.6L1297.0,1556.4L1296.1,1555.0L1295.1,1554.6L1294.2,1552.3L1293.2,1537.3L1292.3,1535.8L1291.3,1560.8L1290.4,1535.1L1289.4,1522.2L1288.4,1519.7L1287.5,1539.4L1286.5,1529.1L1285.6,1533.5L1284.6,1514.8L1283.7,1532.5L1282.7,1531.6L1281.8,1538.9L1280.8,1538.0L1279.8,1563.3L1278.9,1550.2L1277.9,1554.1L1277.0,1536.6L1276.0,1548.7L1275.1,1535.5L1274.1,1537.1L1273.2,1537.8L1272.2,1546.7L1271.2,1530.5L1270.3,1519.6L1269.3,1524.5L1268.4,1524.9L1267.4,1510.5L1266.5,1508.1L1265.5,1525.7L1264.5,1528.4L1263.6,1523.1L1262.6,1530.6L1261.7,1517.8L1260.7,1531.4L1259.8,1532.3L1258.8,1520.4L1257.9,1514.4L1256.9,1533.2L1255.9,1529.6L1255.0,1514.6L1254.0,1523.4L1253.1,1519.4L1252.1,1524.7L1251.2,1521.7L1250.2,1518.6L1249.3,1536.5L1248.3,1534.5L1247.3,1531.9L1246.4,1528.9L1245.4,1529.6L1244.5,1526.7L1243.5,1523.7L1242.6,1517.1L1241.6,1503.6L1240.7,1503.8L1239.7,1500.1L1238.7,1509.3L1237.8,1529.0L1236.8,1518.6L1235.9,1518.2L1234.9,1505.8L1234.0,1516.3L1233.0,1512.6L1232.0,1521.7L1231.1,1524.1L1230.1,1522.7L1229.2,1518.9L1228.2,1500.2L1227.3,1505.4L1226.3,1496.0L1225.4,1494.4L1224.4,1505.1L1223.4,1513.5L1222.5,1501.6L1221.5,1497.5L1220.6,1501.7L1219.6,1507.3L1218.7,1512.5L1217.7,1514.4L1216.8,1502.1L1215.8,1507.3L1214.8,1513.5L1213.9,1492.7L1212.9,1505.4L1212.0,1501.6L1211.0,1502.8L1210.1,1512.6L1209.1,1516.2L1208.2,1526.8L1207.2,1521.5L1206.2,1497.4L1205.3,1505.3L1204.3,1520.2L1203.4,1533.5L1202.4,1519.8L1201.5,1513.1L1200.5,1517.1L1199.6,1512.0L1198.6,1521.2L1197.6,1506.2L1196.7,1507.1L1195.7,1503.2L1194.8,1506.9L1193.8,1512.8L1192.9,1514.8L1191.9,1500.9L1190.9,1525.5L1190.0,1500.7L1189.0,1507.7L1188.1,1520.9L1187.1,1513.4L1186.2,1501.8L1185.2,1500.6L1184.3,1496.5L1183.3,1507.1L1182.3,1498.8L1181.4,1503.2L1180.4,1489.3L1179.5,1496.2L1178.5,1510.6L1177.6,1509.9L1176.6,1503.2L1175.7,1506.5L1174.7,1504.0L1173.7,1499.2L1172.8,1485.5L1171.8,1484.8L1170.9,1490.6L1169.9,1500.5L1169.0,1483.3L1168.0,1488.2L1167.1,1478.8L1166.1,1484.3L1165.1,1486.8L1164.2,1479.9L1163.2,1473.2L1162.3,1463.8L1161.3,1456.9L1160.4,1478.4L1159.4,1479.2L1158.5,1485.4L1157.5,1469.2L1156.5,1474.4L1155.6,1465.2L1154.6,1468.6L1153.7,1475.4L1152.7,1492.8L1151.8,1493.3L1150.8,1490.2L1149.8,1492.9L1148.9,1507.9L1147.9,1506.8L1147.0,1526.8L1146.0,1508.1L1145.1,1511.7L1144.1,1524.4L1143.2,1517.2L1142.2,1520.3L1141.2,1519.3L1140.3,1527.5L1139.3,1529.8L1138.4,1541.1L1137.4,1528.9L1136.5,1542.6L1135.5,1514.8L1134.6,1519.1L1133.6,1535.4L1132.6,1522.5L1131.7,1505.4L1130.7,1523.1L1129.8,1509.4L1128.8,1508.1L1127.9,1509.3L1126.9,1506.3L1126.0,1513.9L1125.0,1516.2L1124.0,1523.9L1123.1,1507.2L1122.1,1502.5L1121.2,1497.1L1120.2,1505.2L1119.3,1515.2L1118.3,1506.7L1117.3,1519.8L1116.4,1502.6L1115.4,1510.7L1114.5,1517.7L1113.5,1514.0L1112.6,1520.0L1111.6,1507.3L1110.7,1500.0L1109.7,1482.0L1108.7,1488.2L1107.8,1477.2L1106.8,1493.8L1105.9,1501.4L1104.9,1510.8L1104.0,1494.7L1103.0,1487.0L1102.1,1489.0L1101.1,1475.6L1100.1,1475.4L1099.2,1461.9L1098.2,1478.6L1097.3,1465.4L1096.3,1467.0L1095.4,1477.1L1094.4,1472.0L1093.5,1478.3L1092.5,1470.0L1091.5,1478.2L1090.6,1469.7L1089.6,1465.9L1088.7,1460.9L1087.7,1464.3L1086.8,1459.6L1085.8,1478.4L1084.9,1480.6L1083.9,1488.8L1082.9,1485.0L1082.0,1473.3L1081.0,1479.9L1080.1,1486.9L1079.1,1497.5L1078.2,1486.3L1077.2,1484.9L1076.2,1496.9L1075.3,1494.7L1074.3,1497.3L1073.4,1499.6L1072.4,1486.9L1071.5,1487.0L1070.5,1493.2L1069.6,1493.8L1068.6,1493.5L1067.6,1494.1L1066.7,1504.7L1065.7,1525.8L1064.8,1527.5L1063.8,1524.3L1062.9,1526.7L1061.9,1515.7L1061.0,1529.1L1060.0,1523.0L1059.0,1523.3L1058.1,1510.0L1057.1,1526.0L1056.2,1510.0L1055.2,1519.0L1054.3,1496.1L1053.3,1514.0L1052.4,1510.3L1051.4,1503.3L1050.4,1502.2L1049.5,1493.9L1048.5,1511.1L1047.6,1506.0L1046.6,1514.2L1045.7,1500.7L1044.7,1504.0L1043.8,1499.8L1042.8,1512.9L1041.8,1512.2L1040.9,1495.2L1039.9,1499.0L1039.0,1503.1L1038.0,1508.1L1037.1,1500.8L1036.1,1497.9L1035.1,1500.9L1034.2,1490.2L1033.2,1499.9L1032.3,1506.2L1031.3,1487.0L1030.4,1505.0L1029.4,1509.5L1028.5,1492.4L1027.5,1491.8L1026.5,1505.3L1025.6,1485.6L1024.6,1500.9L1023.7,1509.1L1022.7,1487.4L1021.8,1493.9L1020.8,1496.4L1019.9,1510.4L1018.9,1502.5L1017.9,1506.3L1017.0,1505.3L1016.0,1503.9L1015.1,1523.0L1014.1,1518.0L1013.2,1517.4L1012.2,1510.1L1011.3,1506.9L1010.3,1505.0L1009.3,1499.0L1008.4,1511.8L1007.4,1528.2L1006.5,1525.0L1005.5,1511.2L1004.6,1511.8L1003.6,1523.4L1002.6,1513.5L1001.7,1497.9L1000.7,1499.3L999.8,1505.5L998.8,1516.1L997.9,1519.8L996.9,1507.3L996.0,1511.8L995.0,1505.2L994.0,1512.6L993.1,1512.4L992.1,1517.6L991.2,1506.0L990.2,1510.0L989.3,1503.8L988.3,1506.0L987.4,1496.7L986.4,1494.9L985.4,1477.4L984.5,1468.9L983.5,1472.6L982.6,1476.7L981.6,1468.8L980.7,1489.8L979.7,1483.4L978.8,1503.9L977.8,1513.7L976.8,1511.6L975.9,1510.1L974.9,1513.9L974.0,1517.7L973.0,1499.0L972.1,1504.9L971.1,1490.1L970.2,1502.1L969.2,1520.7L968.2,1511.5L967.3,1513.6L966.3,1516.2L965.4,1508.2L964.4,1505.3L963.5,1521.0L962.5,1520.7L961.5,1542.8L960.6,1529.2L959.6,1518.6L958.7,1523.1L957.7,1530.4L956.8,1523.1L955.8,1521.8L954.9,1512.0L953.9,1506.7L952.9,1507.0L952.0,1519.8L951.0,1519.8L950.1,1536.2L949.1,1545.5L948.2,1524.2L947.2,1523.7L946.3,1530.4L945.3,1523.9L944.3,1533.3L943.4,1521.8L942.4,1513.9L941.5,1530.1L940.5,1512.7L939.6,1510.0L938.6,1521.2L937.7,1509.6L936.7,1503.1L935.7,1494.9L934.8,1492.4L933.8,1509.7L932.9,1500.7L931.9,1483.6L931.0,1489.7L930.0,1505.6L929.0,1497.6L928.1,1491.7L927.1,1510.1L926.2,1497.7L925.2,1486.5L924.3,1482.7L923.3,1486.2L922.4,1492.2L921.4,1479.0L920.4,1493.9L919.5,1499.4L918.5,1487.0L917.6,1498.7L916.6,1505.5L915.7,1506.0L914.7,1496.5L913.8,1505.9L912.8,1510.2L911.8,1495.1L910.9,1489.7L909.9,1494.9L909.0,1490.9L908.0,1496.9L907.1,1489.6L906.1,1483.7L905.2,1486.9L904.2,1480.9L903.2,1508.1L902.3,1501.4L901.3,1484.5L900.4,1490.4L899.4,1523.0L898.5,1496.5L897.5,1482.5L896.6,1484.3L895.6,1482.0L894.6,1481.1L893.7,1495.4L892.7,1496.8L891.8,1498.5L890.8,1509.8L889.9,1513.9L888.9,1501.6L887.9,1511.3L887.0,1524.5L886.0,1519.8L885.1,1528.6L884.1,1514.6L883.2,1513.5L882.2,1519.2L881.3,1511.9L880.3,1502.3L879.3,1503.4L878.4,1492.2L877.4,1502.3L876.5,1505.4L875.5,1511.6L874.6,1513.5L873.6,1511.5L872.7,1499.2L871.7,1497.9L870.7,1496.4L869.8,1503.8L868.8,1500.1L867.9,1501.5L866.9,1501.8L866.0,1496.0L865.0,1484.9L864.1,1486.0L863.1,1482.0L862.1,1493.3L861.2,1485.7L860.2,1490.5L859.3,1506.2L858.3,1518.4L857.4,1516.0L856.4,1501.9L855.5,1501.0L854.5,1490.4L853.5,1494.4L852.6,1501.4L851.6,1494.2L850.7,1477.2L849.7,1486.6L848.8,1498.1L847.8,1489.8L846.8,1490.3L845.9,1497.4L844.9,1486.2L844.0,1482.6L843.0,1491.0L842.1,1474.9L841.1,1471.1L840.2,1473.9L839.2,1481.9L838.2,1465.8L837.3,1469.3L836.3,1472.9L835.4,1467.3L834.4,1487.1L833.5,1488.3L832.5,1465.8L831.6,1467.9L830.6,1469.1L829.6,1469.7L828.7,1477.9L827.7,1480.8L826.8,1483.5L825.8,1484.7L824.9,1499.6L823.9,1474.3L823.0,1483.1L822.0,1489.6L821.0,1473.9L820.1,1471.8L819.1,1484.3L818.2,1487.8L817.2,1489.3L816.3,1496.0L815.3,1493.1L814.4,1504.9L813.4,1518.1L812.4,1491.5L811.5,1496.4L810.5,1499.5L809.6,1499.4L808.6,1485.6L807.7,1493.2L806.7,1481.7L805.7,1501.1L804.8,1500.0L803.8,1498.7L802.9,1488.6L801.9,1505.5L801.0,1511.4L800.0,1493.6L799.1,1494.7L798.1,1491.5L797.1,1486.2L796.2,1480.4L795.2,1497.8L794.3,1500.9L793.3,1488.8L792.4,1494.1L791.4,1501.7L790.5,1488.9L789.5,1497.5L788.5,1479.5L787.6,1500.3L786.6,1479.5L785.7,1481.7L784.7,1487.5L783.8,1476.3L782.8,1476.5L781.9,1487.2L780.9,1500.3L779.9,1499.0L779.0,1501.2L778.0,1501.5L777.1,1500.8L776.1,1496.9L775.2,1501.1L774.2,1508.6L773.2,1501.1L772.3,1485.0L771.3,1492.3L770.4,1494.7L769.4,1512.7L768.5,1505.4L767.5,1503.5L766.6,1503.7L765.6,1508.1L764.6,1516.6L763.7,1529.2L762.7,1520.3L761.8,1525.7L760.8,1513.8L759.9,1506.1L758.9,1538.5L758.0,1560.3L757.0,1537.6Z" fill="#a8a3a5" fill-opacity="0.36" stroke="#a8a3a5" stroke-opacity="0.45" stroke-width="0.8"/>
<path d="M757.0,1485.3L758.0,1481.3L758.9,1488.2L759.9,1472.2L760.8,1472.9L761.8,1487.2L762.7,1492.5L763.7,1491.0L764.6,1481.8L765.6,1479.1L766.6,1472.5L767.5,1477.0L768.5,1484.5L769.4,1487.4L770.4,1480.0L771.3,1474.5L772.3,1460.2L773.2,1461.1L774.2,1472.0L775.2,1462.3L776.1,1460.5L777.1,1469.0L778.0,1470.4L779.0,1472.3L779.9,1468.5L780.9,1468.4L781.9,1469.9L782.8,1465.4L783.8,1466.1L784.7,1464.6L785.7,1455.5L786.6,1464.6L787.6,1480.4L788.5,1462.5L789.5,1471.8L790.5,1464.1L791.4,1466.8L792.4,1465.0L793.3,1466.1L794.3,1467.8L795.2,1468.7L796.2,1461.7L797.1,1462.0L798.1,1462.7L799.1,1467.7L800.0,1473.3L801.0,1477.7L801.9,1472.8L802.9,1468.4L803.8,1463.4L804.8,1468.9L805.7,1466.2L806.7,1457.7L807.7,1464.4L808.6,1454.2L809.6,1467.8L810.5,1470.7L811.5,1467.0L812.4,1463.1L813.4,1475.4L814.4,1470.0L815.3,1462.5L816.3,1467.1L817.2,1466.9L818.2,1464.4L819.1,1451.7L820.1,1452.2L821.0,1445.5L822.0,1451.8L823.0,1459.5L823.9,1462.1L824.9,1466.0L825.8,1457.2L826.8,1457.2L827.7,1451.4L828.7,1451.2L829.6,1452.0L830.6,1440.4L831.6,1445.0L832.5,1447.7L833.5,1451.8L834.4,1457.2L835.4,1451.8L836.3,1447.3L837.3,1453.4L838.2,1446.6L839.2,1446.0L840.2,1440.6L841.1,1439.7L842.1,1443.9L843.0,1455.4L844.0,1452.9L844.9,1459.5L845.9,1461.0L846.8,1451.2L847.8,1462.5L848.8,1469.4L849.7,1465.8L850.7,1460.4L851.6,1463.6L852.6,1473.2L853.5,1471.1L854.5,1458.8L855.5,1463.3L856.4,1468.9L857.4,1479.5L858.3,1485.6L859.3,1478.4L860.2,1470.7L861.2,1464.4L862.1,1461.2L863.1,1462.9L864.1,1465.0L865.0,1467.5L866.0,1473.5L866.9,1473.0L867.9,1460.8L868.8,1470.0L869.8,1475.3L870.7,1466.6L871.7,1476.6L872.7,1482.1L873.6,1482.0L874.6,1478.8L875.5,1468.0L876.5,1464.4L877.4,1461.1L878.4,1461.7L879.3,1469.5L880.3,1476.2L881.3,1478.9L882.2,1485.2L883.2,1479.5L884.1,1481.9L885.1,1486.5L886.0,1480.5L887.0,1490.1L887.9,1486.7L888.9,1473.0L889.9,1474.3L890.8,1471.6L891.8,1470.0L892.7,1475.0L893.7,1468.6L894.6,1461.9L895.6,1462.5L896.6,1462.5L897.5,1470.2L898.5,1470.6L899.4,1479.5L900.4,1474.5L901.3,1467.7L902.3,1473.5L903.2,1472.3L904.2,1465.6L905.2,1467.1L906.1,1465.2L907.1,1475.8L908.0,1469.6L909.0,1468.4L909.9,1467.7L910.9,1467.2L911.8,1468.7L912.8,1476.6L913.8,1469.9L914.7,1465.2L915.7,1478.5L916.6,1472.0L917.6,1474.1L918.5,1475.8L919.5,1471.9L920.4,1474.5L921.4,1460.9L922.4,1469.5L923.3,1467.6L924.3,1469.6L925.2,1464.9L926.2,1476.3L927.1,1480.6L928.1,1471.3L929.0,1468.3L930.0,1471.9L931.0,1466.9L931.9,1472.2L932.9,1478.9L933.8,1488.9L934.8,1476.9L935.7,1472.1L936.7,1485.0L937.7,1490.3L938.6,1492.5L939.6,1481.4L940.5,1486.6L941.5,1489.1L942.4,1487.2L943.4,1489.6L944.3,1491.6L945.3,1491.9L946.3,1492.8L947.2,1486.1L948.2,1495.4L949.1,1509.7L950.1,1503.6L951.0,1503.1L952.0,1491.8L952.9,1490.7L953.9,1489.2L954.9,1482.5L955.8,1490.1L956.8,1494.7L957.7,1496.6L958.7,1490.8L959.6,1491.9L960.6,1497.9L961.5,1505.1L962.5,1499.3L963.5,1494.6L964.4,1488.3L965.4,1490.1L966.3,1487.4L967.3,1487.1L968.2,1477.2L969.2,1481.9L970.2,1479.9L971.1,1472.5L972.1,1478.2L973.0,1476.5L974.0,1485.5L974.9,1483.2L975.9,1478.1L976.8,1475.3L977.8,1478.4L978.8,1473.6L979.7,1457.8L980.7,1469.4L981.6,1461.2L982.6,1446.5L983.5,1455.2L984.5,1457.0L985.4,1464.4L986.4,1474.4L987.4,1477.1L988.3,1475.3L989.3,1474.0L990.2,1473.4L991.2,1476.8L992.1,1478.7L993.1,1474.9L994.0,1473.4L995.0,1479.9L996.0,1482.0L996.9,1481.7L997.9,1480.4L998.8,1476.7L999.8,1474.4L1000.7,1472.9L1001.7,1477.5L1002.6,1479.5L1003.6,1480.2L1004.6,1480.9L1005.5,1480.3L1006.5,1487.6L1007.4,1484.0L1008.4,1477.4L1009.3,1469.8L1010.3,1473.3L1011.3,1471.7L1012.2,1471.6L1013.2,1475.7L1014.1,1471.6L1015.1,1467.9L1016.0,1469.8L1017.0,1468.2L1017.9,1475.5L1018.9,1467.2L1019.9,1459.3L1020.8,1464.4L1021.8,1464.4L1022.7,1461.7L1023.7,1463.6L1024.6,1460.2L1025.6,1457.8L1026.5,1472.0L1027.5,1465.0L1028.5,1464.3L1029.4,1471.2L1030.4,1475.6L1031.3,1467.6L1032.3,1470.2L1033.2,1482.1L1034.2,1476.5L1035.1,1486.2L1036.1,1481.6L1037.1,1477.6L1038.0,1477.0L1039.0,1477.7L1039.9,1477.5L1040.9,1477.8L1041.8,1478.1L1042.8,1485.7L1043.8,1479.5L1044.7,1481.6L1045.7,1482.2L1046.6,1480.0L1047.6,1483.6L1048.5,1486.5L1049.5,1477.4L1050.4,1477.6L1051.4,1481.4L1052.4,1484.0L1053.3,1487.2L1054.3,1478.8L1055.2,1483.6L1056.2,1484.6L1057.1,1489.4L1058.1,1484.0L1059.0,1487.2L1060.0,1481.9L1061.0,1490.5L1061.9,1483.3L1062.9,1495.0L1063.8,1489.3L1064.8,1495.3L1065.7,1496.9L1066.7,1480.9L1067.6,1466.7L1068.6,1465.7L1069.6,1474.6L1070.5,1474.0L1071.5,1464.4L1072.4,1463.9L1073.4,1471.6L1074.3,1466.4L1075.3,1467.8L1076.2,1462.3L1077.2,1460.7L1078.2,1458.8L1079.1,1467.3L1080.1,1458.5L1081.0,1463.1L1082.0,1452.3L1082.9,1455.5L1083.9,1462.8L1084.9,1457.5L1085.8,1448.5L1086.8,1432.6L1087.7,1435.3L1088.7,1436.4L1089.6,1443.1L1090.6,1441.9L1091.5,1446.0L1092.5,1439.5L1093.5,1449.0L1094.4,1444.4L1095.4,1443.6L1096.3,1436.8L1097.3,1438.3L1098.2,1441.9L1099.2,1430.8L1100.1,1447.8L1101.1,1454.1L1102.1,1459.2L1103.0,1457.1L1104.0,1456.6L1104.9,1459.3L1105.9,1455.7L1106.8,1451.8L1107.8,1456.5L1108.7,1452.8L1109.7,1464.5L1110.7,1478.9L1111.6,1477.7L1112.6,1483.3L1113.5,1475.4L1114.5,1481.8L1115.4,1481.5L1116.4,1483.4L1117.3,1482.0L1118.3,1482.5L1119.3,1487.7L1120.2,1478.7L1121.2,1471.7L1122.1,1476.2L1123.1,1478.9L1124.0,1484.9L1125.0,1483.6L1126.0,1486.0L1126.9,1482.5L1127.9,1488.5L1128.8,1486.6L1129.8,1483.1L1130.7,1495.2L1131.7,1491.5L1132.6,1494.0L1133.6,1497.7L1134.6,1498.1L1135.5,1499.1L1136.5,1518.0L1137.4,1510.7L1138.4,1516.8L1139.3,1501.3L1140.3,1504.0L1141.2,1503.8L1142.2,1500.0L1143.2,1489.9L1144.1,1486.6L1145.1,1481.2L1146.0,1475.8L1147.0,1493.6L1147.9,1483.2L1148.9,1480.3L1149.8,1469.2L1150.8,1463.3L1151.8,1462.5L1152.7,1455.6L1153.7,1447.4L1154.6,1441.9L1155.6,1435.4L1156.5,1435.5L1157.5,1435.4L1158.5,1438.5L1159.4,1432.0L1160.4,1437.7L1161.3,1437.5L1162.3,1432.6L1163.2,1437.2L1164.2,1441.5L1165.1,1445.2L1166.1,1449.6L1167.1,1459.4L1168.0,1460.8L1169.0,1462.4L1169.9,1462.1L1170.9,1468.6L1171.8,1463.0L1172.8,1465.2L1173.7,1476.6L1174.7,1481.4L1175.7,1485.4L1176.6,1481.9L1177.6,1490.7L1178.5,1492.6L1179.5,1480.7L1180.4,1472.2L1181.4,1475.3L1182.3,1468.5L1183.3,1475.4L1184.3,1471.1L1185.2,1477.0L1186.2,1475.6L1187.1,1485.8L1188.1,1487.6L1189.0,1473.2L1190.0,1473.6L1190.9,1486.9L1191.9,1481.3L1192.9,1489.8L1193.8,1491.5L1194.8,1490.0L1195.7,1488.4L1196.7,1485.9L1197.6,1488.0L1198.6,1489.0L1199.6,1489.1L1200.5,1491.3L1201.5,1491.4L1202.4,1488.9L1203.4,1504.0L1204.3,1491.7L1205.3,1490.3L1206.2,1478.9L1207.2,1494.0L1208.2,1496.9L1209.1,1486.0L1210.1,1485.4L1211.0,1477.1L1212.0,1483.5L1212.9,1480.9L1213.9,1475.8L1214.8,1486.1L1215.8,1483.9L1216.8,1479.0L1217.7,1482.4L1218.7,1479.0L1219.6,1483.9L1220.6,1484.2L1221.5,1480.7L1222.5,1482.4L1223.4,1478.0L1224.4,1475.9L1225.4,1472.5L1226.3,1479.3L1227.3,1486.4L1228.2,1477.7L1229.2,1490.5L1230.1,1481.5L1231.1,1484.0L1232.0,1488.0L1233.0,1485.8L1234.0,1490.5L1234.9,1484.3L1235.9,1485.5L1236.8,1485.1L1237.8,1489.0L1238.7,1479.7L1239.7,1476.5L1240.7,1483.8L1241.6,1487.9L1242.6,1488.0L1243.5,1489.0L1244.5,1497.3L1245.4,1488.5L1246.4,1497.5L1247.3,1493.3L1248.3,1498.9L1249.3,1506.4L1250.2,1492.3L1251.2,1494.6L1252.1,1493.0L1253.1,1494.2L1254.0,1495.7L1255.0,1493.2L1255.9,1493.2L1256.9,1508.8L1257.9,1491.4L1258.8,1498.1L1259.8,1499.4L1260.7,1505.2L1261.7,1500.1L1262.6,1506.0L1263.6,1499.0L1264.5,1498.8L1265.5,1494.4L1266.5,1485.0L1267.4,1491.8L1268.4,1502.9L1269.3,1507.2L1270.3,1496.8L1271.2,1499.9L1272.2,1503.8L1273.2,1508.5L1274.1,1507.7L1275.1,1507.4L1276.0,1510.5L1277.0,1503.4L1277.9,1514.0L1278.9,1513.6L1279.8,1520.7L1280.8,1515.2L1281.8,1509.9L1282.7,1512.5L1283.7,1507.8L1284.6,1499.4L1285.6,1508.8L1286.5,1502.4L1287.5,1511.7L1288.4,1499.3L1289.4,1498.5L1290.4,1510.2L1291.3,1516.7L1292.3,1509.6L1293.2,1513.3L1294.2,1514.3L1295.1,1522.4L1296.1,1519.2L1297.0,1523.6L1298.0,1511.8L1299.0,1522.4L1299.9,1511.5L1300.9,1515.0L1301.8,1524.7L1302.8,1515.0L1303.7,1528.8L1304.7,1530.7L1305.6,1537.5L1306.6,1529.7L1307.6,1525.3L1308.5,1527.5L1309.5,1539.2L1310.4,1538.7L1311.4,1541.9L1312.3,1532.5L1313.3,1534.8L1314.3,1533.5L1315.2,1534.9L1316.2,1529.6L1317.1,1527.4L1318.1,1526.5L1319.0,1533.3L1320.0,1525.6L1320.9,1528.7L1321.9,1523.2L1322.9,1531.9L1323.8,1520.7L1324.8,1526.7L1325.7,1523.0L1326.7,1522.2L1327.6,1532.4L1328.6,1534.6L1329.5,1523.9L1330.5,1539.5" fill="none" stroke="#aca7a9" stroke-width="3.2" stroke-linejoin="round"/>
<path d="M757.0,1372.8L758.0,1352.1L758.9,1332.8L759.9,1348.2L760.8,1356.3L761.8,1372.4L762.7,1374.5L763.7,1377.8L764.6,1396.7L765.6,1378.5L766.6,1399.0L767.5,1400.9L768.5,1383.5L769.4,1393.8L770.4,1401.7L771.3,1402.2L772.3,1408.0L773.2,1419.6L774.2,1418.1L775.2,1416.1L776.1,1418.6L777.1,1399.5L778.0,1402.2L779.0,1397.0L779.9,1412.3L780.9,1407.0L781.9,1376.0L782.8,1371.4L783.8,1379.0L784.7,1401.9L785.7,1373.2L786.6,1380.8L787.6,1357.2L788.5,1358.4L789.5,1361.4L790.5,1349.9L791.4,1365.4L792.4,1382.6L793.3,1367.5L794.3,1360.3L795.2,1370.1L796.2,1369.9L797.1,1362.4L798.1,1367.1L799.1,1357.7L800.0,1359.3L801.0,1371.4L801.9,1369.7L802.9,1368.9L803.8,1361.4L804.8,1348.4L805.7,1360.9L806.7,1374.4L807.7,1362.7L808.6,1378.4L809.6,1378.2L810.5,1385.9L811.5,1406.4L812.4,1423.0L813.4,1412.1L814.4,1416.8L815.3,1423.2L816.3,1402.8L817.2,1398.6L818.2,1405.6L819.1,1422.8L820.1,1415.4L821.0,1436.2L822.0,1451.2L823.0,1431.0L823.9,1442.0L824.9,1410.7L825.8,1416.8L826.8,1411.8L827.7,1407.7L828.7,1413.3L829.6,1403.7L830.6,1405.6L831.6,1410.3L832.5,1409.0L833.5,1378.8L834.4,1416.6L835.4,1400.8L836.3,1400.3L837.3,1393.4L838.2,1378.5L839.2,1395.0L840.2,1396.9L841.1,1390.7L842.1,1359.0L843.0,1384.5L844.0,1367.4L844.9,1373.7L845.9,1392.7L846.8,1397.4L847.8,1386.1L848.8,1396.0L849.7,1397.8L850.7,1384.7L851.6,1376.5L852.6,1384.1L853.5,1387.7L854.5,1382.8L855.5,1390.0L856.4,1389.5L857.4,1389.4L858.3,1400.3L859.3,1387.9L860.2,1373.4L861.2,1375.4L862.1,1365.2L863.1,1345.1L864.1,1353.6L865.0,1365.3L866.0,1374.0L866.9,1351.2L867.9,1362.0L868.8,1372.3L869.8,1382.1L870.7,1370.6L871.7,1379.7L872.7,1360.8L873.6,1356.2L874.6,1352.3L875.5,1358.6L876.5,1363.0L877.4,1375.4L878.4,1363.7L879.3,1369.7L880.3,1388.2L881.3,1411.9L882.2,1421.2L883.2,1408.3L884.1,1417.8L885.1,1424.9L886.0,1443.1L887.0,1423.4L887.9,1417.3L888.9,1413.9L889.9,1404.7L890.8,1413.6L891.8,1404.1L892.7,1411.9L893.7,1390.6L894.6,1406.5L895.6,1392.2L896.6,1399.9L897.5,1385.5L898.5,1393.7L899.4,1400.9L900.4,1407.5L901.3,1388.3L902.3,1409.4L903.2,1401.5L904.2,1406.2L905.2,1406.9L906.1,1413.7L907.1,1425.7L908.0,1424.4L909.0,1427.4L909.9,1411.6L910.9,1415.4L911.8,1424.1L912.8,1436.3L913.8,1417.9L914.7,1393.6L915.7,1365.6L916.6,1366.5L917.6,1352.3L918.5,1322.4L919.5,1334.9L920.4,1319.5L921.4,1313.3L922.4,1326.0L923.3,1339.8L924.3,1352.3L925.2,1352.7L926.2,1360.3L927.1,1361.7L928.1,1362.2L929.0,1357.7L930.0,1370.1L931.0,1370.7L931.9,1374.1L932.9,1351.5L933.8,1365.0L934.8,1345.5L935.7,1370.9L936.7,1358.4L937.7,1361.8L938.6,1369.1L939.6,1343.6L940.5,1331.0L941.5,1349.2L942.4,1382.9L943.4,1355.5L944.3,1378.4L945.3,1391.5L946.3,1391.3L947.2,1416.6L948.2,1420.8L949.1,1443.6L950.1,1447.7L951.0,1433.7L952.0,1455.8L952.9,1445.6L953.9,1436.2L954.9,1447.3L955.8,1466.5L956.8,1442.9L957.7,1445.5L958.7,1451.9L959.6,1455.8L960.6,1454.1L961.5,1454.6L962.5,1449.7L963.5,1444.8L964.4,1451.0L965.4,1451.1L966.3,1429.9L967.3,1449.9L968.2,1452.2L969.2,1454.6L970.2,1435.5L971.1,1442.2L972.1,1420.9L973.0,1432.7L974.0,1438.8L974.9,1447.1L975.9,1452.7L976.8,1454.5L977.8,1455.8L978.8,1450.4L979.7,1459.8L980.7,1458.9L981.6,1450.5L982.6,1474.4L983.5,1472.8L984.5,1454.2L985.4,1443.6L986.4,1456.4L987.4,1457.2L988.3,1461.7L989.3,1456.6L990.2,1469.4L991.2,1466.0L992.1,1463.9L993.1,1455.4L994.0,1457.5L995.0,1462.5L996.0,1462.1L996.9,1460.2L997.9,1470.8L998.8,1467.3L999.8,1483.5L1000.7,1476.9L1001.7,1475.1L1002.6,1463.3L1003.6,1459.3L1004.6,1495.4L1005.5,1490.4L1006.5,1489.7L1007.4,1495.3L1008.4,1479.5L1009.3,1488.6L1010.3,1492.8L1011.3,1487.8L1012.2,1488.4L1013.2,1502.7L1014.1,1487.7L1015.1,1490.7L1016.0,1492.9L1017.0,1518.3L1017.9,1499.7L1018.9,1526.5L1019.9,1506.6L1020.8,1506.5L1021.8,1528.7L1022.7,1520.6L1023.7,1517.6L1024.6,1517.8L1025.6,1516.3L1026.5,1531.0L1027.5,1533.6L1028.5,1519.9L1029.4,1507.6L1030.4,1494.4L1031.3,1473.8L1032.3,1482.4L1033.2,1480.5L1034.2,1500.8L1035.1,1510.3L1036.1,1511.5L1037.1,1490.0L1038.0,1477.1L1039.0,1480.4L1039.9,1476.6L1040.9,1460.3L1041.8,1483.2L1042.8,1487.6L1043.8,1494.5L1044.7,1499.7L1045.7,1484.1L1046.6,1503.4L1047.6,1520.4L1048.5,1525.4L1049.5,1483.3L1050.4,1497.6L1051.4,1499.1L1052.4,1507.3L1053.3,1496.1L1054.3,1516.8L1055.2,1510.1L1056.2,1497.6L1057.1,1482.1L1058.1,1502.1L1059.0,1508.9L1060.0,1492.1L1061.0,1504.1L1061.9,1502.6L1062.9,1487.9L1063.8,1495.4L1064.8,1500.7L1065.7,1493.6L1066.7,1496.7L1067.6,1471.2L1068.6,1463.8L1069.6,1483.5L1070.5,1477.3L1071.5,1472.4L1072.4,1462.5L1073.4,1469.2L1074.3,1494.2L1075.3,1489.9L1076.2,1507.3L1077.2,1522.0L1078.2,1490.6L1079.1,1519.2L1080.1,1537.2L1081.0,1532.5L1082.0,1519.5L1082.9,1522.9L1083.9,1529.7L1084.9,1527.1L1085.8,1520.0L1086.8,1525.1L1087.7,1509.9L1088.7,1507.5L1089.6,1501.3L1090.6,1500.9L1091.5,1517.8L1092.5,1524.8L1093.5,1521.8L1094.4,1517.9L1095.4,1524.4L1096.3,1526.0L1097.3,1529.5L1098.2,1488.2L1099.2,1511.9L1100.1,1504.6L1101.1,1517.4L1102.1,1521.1L1103.0,1527.2L1104.0,1524.1L1104.9,1533.5L1105.9,1550.6L1106.8,1565.2L1107.8,1583.8L1108.7,1571.5L1109.7,1586.0L1110.7,1581.7L1111.6,1589.6L1112.6,1566.6L1113.5,1559.9L1114.5,1584.5L1115.4,1567.6L1116.4,1573.9L1117.3,1586.1L1118.3,1580.1L1119.3,1562.1L1120.2,1539.2L1121.2,1532.8L1122.1,1531.0L1123.1,1539.1L1124.0,1530.7L1125.0,1532.3L1126.0,1521.5L1126.9,1518.8L1127.9,1498.0L1128.8,1493.4L1129.8,1485.0L1130.7,1487.5L1131.7,1475.9L1132.6,1479.2L1133.6,1478.9L1134.6,1478.0L1135.5,1465.1L1136.5,1471.8L1137.4,1453.4L1138.4,1451.2L1139.3,1468.0L1140.3,1455.6L1141.2,1477.8L1142.2,1481.5L1143.2,1485.0L1144.1,1468.0L1145.1,1485.2L1146.0,1476.3L1147.0,1479.0L1147.9,1486.3L1148.9,1490.2L1149.8,1490.5L1150.8,1475.0L1151.8,1472.6L1152.7,1467.6L1153.7,1465.2L1154.6,1468.7L1155.6,1446.2L1156.5,1449.0L1157.5,1448.8L1158.5,1443.4L1159.4,1461.3L1160.4,1468.5L1161.3,1450.7L1162.3,1464.3L1163.2,1443.1L1164.2,1444.7L1165.1,1461.6L1166.1,1461.7L1167.1,1466.0L1168.0,1469.0L1169.0,1492.9L1169.9,1508.2L1170.9,1470.2L1171.8,1483.4L1172.8,1479.2L1173.7,1490.6L1174.7,1489.4L1175.7,1494.1L1176.6,1488.1L1177.6,1500.4L1178.5,1499.3L1179.5,1514.9L1180.4,1503.3L1181.4,1506.6L1182.3,1514.4L1183.3,1516.7L1184.3,1525.3L1185.2,1519.1L1186.2,1510.1L1187.1,1497.8L1188.1,1505.3L1189.0,1503.2L1190.0,1507.4L1190.9,1488.2L1191.9,1494.9L1192.9,1508.3L1193.8,1501.5L1194.8,1496.3L1195.7,1498.8L1196.7,1516.9L1197.6,1515.3L1198.6,1473.8L1199.6,1487.1L1200.5,1501.8L1201.5,1499.7L1202.4,1495.0L1203.4,1504.1L1204.3,1515.0L1205.3,1518.5L1206.2,1522.2L1207.2,1506.8L1208.2,1540.1L1209.1,1532.2L1210.1,1532.1L1211.0,1521.5L1212.0,1504.9L1212.9,1537.2L1213.9,1531.7L1214.8,1532.2L1215.8,1538.2L1216.8,1545.4L1217.7,1558.9L1218.7,1554.1L1219.6,1541.7L1220.6,1554.8L1221.5,1556.7L1222.5,1547.4L1223.4,1540.5L1224.4,1538.4L1225.4,1540.2L1226.3,1538.1L1227.3,1518.9L1228.2,1510.4L1229.2,1498.7L1230.1,1518.7L1231.1,1504.7L1232.0,1499.5L1233.0,1495.4L1234.0,1482.1L1234.9,1491.5L1235.9,1508.8L1236.8,1510.6L1237.8,1518.5L1238.7,1490.2L1239.7,1492.2L1240.7,1489.2L1241.6,1498.2L1242.6,1473.2L1243.5,1486.9L1244.5,1485.0L1245.4,1489.6L1246.4,1486.1L1247.3,1498.5L1248.3,1482.2L1249.3,1495.2L1250.2,1501.8L1251.2,1506.8L1252.1,1515.6L1253.1,1477.5L1254.0,1473.9L1255.0,1475.5L1255.9,1461.4L1256.9,1456.0L1257.9,1451.4L1258.8,1447.4L1259.8,1457.8L1260.7,1455.5L1261.7,1455.9L1262.6,1452.3L1263.6,1422.1L1264.5,1429.4L1265.5,1431.1L1266.5,1447.5L1267.4,1466.2L1268.4,1451.4L1269.3,1447.5L1270.3,1442.6L1271.2,1453.5L1272.2,1467.8L1273.2,1457.6L1274.1,1457.9L1275.1,1462.6L1276.0,1470.3L1277.0,1450.4L1277.9,1482.7L1278.9,1492.6L1279.8,1461.3L1280.8,1483.1L1281.8,1489.6L1282.7,1487.9L1283.7,1517.6L1284.6,1534.1L1285.6,1525.2L1286.5,1526.9L1287.5,1543.1L1288.4,1541.5L1289.4,1552.1L1290.4,1556.3L1291.3,1568.1L1292.3,1557.4L1293.2,1551.9L1294.2,1543.7L1295.1,1532.5L1296.1,1527.9L1297.0,1514.2L1298.0,1499.4L1299.0,1496.2L1299.9,1478.9L1300.9,1477.3L1301.8,1465.6L1302.8,1476.2L1303.7,1482.8L1304.7,1474.3L1305.6,1492.7L1306.6,1473.5L1307.6,1468.8L1308.5,1460.0L1309.5,1448.9L1310.4,1446.5L1311.4,1441.6L1312.3,1451.4L1313.3,1445.9L1314.3,1452.7L1315.2,1446.8L1316.2,1472.4L1317.1,1462.3L1318.1,1455.9L1319.0,1468.8L1320.0,1473.0L1320.9,1468.2L1321.9,1444.8L1322.9,1454.1L1323.8,1470.3L1324.8,1443.5L1325.7,1431.6L1326.7,1468.7L1327.6,1480.1L1328.6,1479.9L1329.5,1460.2L1330.5,1486.0L1330.5,1582.6L1329.5,1591.7L1328.6,1568.7L1327.6,1566.9L1326.7,1572.5L1325.7,1562.1L1324.8,1551.4L1323.8,1551.1L1322.9,1547.9L1321.9,1542.8L1320.9,1548.4L1320.0,1548.4L1319.0,1548.4L1318.1,1526.1L1317.1,1529.8L1316.2,1543.9L1315.2,1532.0L1314.3,1531.7L1313.3,1527.0L1312.3,1513.5L1311.4,1507.7L1310.4,1524.7L1309.5,1542.2L1308.5,1520.9L1307.6,1520.9L1306.6,1546.4L1305.6,1560.7L1304.7,1536.0L1303.7,1549.4L1302.8,1555.4L1301.8,1554.0L1300.9,1559.8L1299.9,1579.1L1299.0,1599.6L1298.0,1587.5L1297.0,1605.4L1296.1,1626.3L1295.1,1635.0L1294.2,1652.8L1293.2,1665.9L1292.3,1677.3L1291.3,1667.8L1290.4,1656.8L1289.4,1642.7L1288.4,1626.7L1287.5,1626.3L1286.5,1610.2L1285.6,1598.5L1284.6,1595.7L1283.7,1598.9L1282.7,1589.4L1281.8,1571.4L1280.8,1579.5L1279.8,1569.0L1278.9,1564.5L1277.9,1563.9L1277.0,1553.0L1276.0,1555.9L1275.1,1550.9L1274.1,1542.5L1273.2,1542.7L1272.2,1536.8L1271.2,1545.5L1270.3,1538.1L1269.3,1532.0L1268.4,1508.3L1267.4,1519.4L1266.5,1511.4L1265.5,1528.3L1264.5,1519.6L1263.6,1526.0L1262.6,1513.8L1261.7,1532.0L1260.7,1523.6L1259.8,1530.0L1258.8,1525.3L1257.9,1523.4L1256.9,1523.6L1255.9,1538.4L1255.0,1558.8L1254.0,1534.8L1253.1,1547.2L1252.1,1548.7L1251.2,1559.5L1250.2,1555.6L1249.3,1568.3L1248.3,1565.9L1247.3,1577.8L1246.4,1547.6L1245.4,1558.9L1244.5,1562.0L1243.5,1587.9L1242.6,1553.5L1241.6,1558.0L1240.7,1553.9L1239.7,1566.3L1238.7,1582.8L1237.8,1578.7L1236.8,1572.5L1235.9,1593.5L1234.9,1573.0L1234.0,1570.0L1233.0,1578.2L1232.0,1604.4L1231.1,1600.1L1230.1,1618.8L1229.2,1604.7L1228.2,1615.6L1227.3,1601.3L1226.3,1619.0L1225.4,1609.7L1224.4,1611.6L1223.4,1611.3L1222.5,1626.4L1221.5,1625.4L1220.6,1611.1L1219.6,1612.9L1218.7,1643.8L1217.7,1653.0L1216.8,1650.5L1215.8,1641.5L1214.8,1645.7L1213.9,1636.3L1212.9,1631.5L1212.0,1621.9L1211.0,1619.3L1210.1,1616.4L1209.1,1616.7L1208.2,1605.6L1207.2,1619.5L1206.2,1607.2L1205.3,1612.3L1204.3,1596.7L1203.4,1596.8L1202.4,1591.8L1201.5,1594.6L1200.5,1601.4L1199.6,1600.2L1198.6,1596.4L1197.6,1604.5L1196.7,1591.3L1195.7,1574.4L1194.8,1592.0L1193.8,1579.3L1192.9,1575.5L1191.9,1594.5L1190.9,1589.3L1190.0,1597.2L1189.0,1605.5L1188.1,1594.9L1187.1,1592.6L1186.2,1589.2L1185.2,1591.1L1184.3,1592.2L1183.3,1579.1L1182.3,1594.1L1181.4,1575.2L1180.4,1568.4L1179.5,1576.1L1178.5,1583.2L1177.6,1582.2L1176.6,1581.8L1175.7,1576.8L1174.7,1562.3L1173.7,1558.0L1172.8,1551.1L1171.8,1546.4L1170.9,1540.1L1169.9,1546.2L1169.0,1546.3L1168.0,1533.5L1167.1,1535.1L1166.1,1540.7L1165.1,1534.4L1164.2,1521.2L1163.2,1544.1L1162.3,1548.4L1161.3,1529.5L1160.4,1551.3L1159.4,1541.2L1158.5,1542.2L1157.5,1549.8L1156.5,1537.5L1155.6,1549.2L1154.6,1577.0L1153.7,1573.2L1152.7,1564.1L1151.8,1586.8L1150.8,1580.3L1149.8,1562.4L1148.9,1569.9L1147.9,1562.9L1147.0,1570.5L1146.0,1550.2L1145.1,1571.8L1144.1,1565.7L1143.2,1578.5L1142.2,1555.1L1141.2,1546.5L1140.3,1545.3L1139.3,1546.1L1138.4,1551.3L1137.4,1543.2L1136.5,1548.5L1135.5,1544.5L1134.6,1549.9L1133.6,1538.1L1132.6,1538.3L1131.7,1542.4L1130.7,1561.8L1129.8,1557.3L1128.8,1569.1L1127.9,1576.8L1126.9,1571.2L1126.0,1585.7L1125.0,1612.9L1124.0,1601.7L1123.1,1620.7L1122.1,1622.0L1121.2,1609.3L1120.2,1600.5L1119.3,1611.3L1118.3,1637.2L1117.3,1626.4L1116.4,1630.4L1115.4,1633.7L1114.5,1653.4L1113.5,1663.7L1112.6,1648.6L1111.6,1660.9L1110.7,1654.5L1109.7,1668.6L1108.7,1664.3L1107.8,1665.2L1106.8,1649.6L1105.9,1641.5L1104.9,1629.8L1104.0,1635.7L1103.0,1618.9L1102.1,1619.9L1101.1,1613.6L1100.1,1586.6L1099.2,1603.8L1098.2,1599.9L1097.3,1597.8L1096.3,1590.0L1095.4,1592.2L1094.4,1595.3L1093.5,1621.6L1092.5,1598.9L1091.5,1595.7L1090.6,1591.3L1089.6,1584.7L1088.7,1605.5L1087.7,1591.5L1086.8,1616.9L1085.8,1604.7L1084.9,1609.3L1083.9,1621.7L1082.9,1616.4L1082.0,1603.8L1081.0,1594.8L1080.1,1574.3L1079.1,1575.8L1078.2,1583.5L1077.2,1596.2L1076.2,1571.4L1075.3,1575.6L1074.3,1571.8L1073.4,1566.4L1072.4,1559.2L1071.5,1575.6L1070.5,1594.8L1069.6,1585.6L1068.6,1578.8L1067.6,1577.4L1066.7,1594.4L1065.7,1584.7L1064.8,1577.6L1063.8,1592.3L1062.9,1584.4L1061.9,1583.9L1061.0,1595.2L1060.0,1605.0L1059.0,1609.6L1058.1,1585.8L1057.1,1582.9L1056.2,1573.1L1055.2,1590.2L1054.3,1582.4L1053.3,1570.3L1052.4,1574.9L1051.4,1578.2L1050.4,1582.1L1049.5,1570.3L1048.5,1590.0L1047.6,1590.6L1046.6,1574.5L1045.7,1564.7L1044.7,1579.8L1043.8,1578.2L1042.8,1570.1L1041.8,1553.1L1040.9,1553.9L1039.9,1565.7L1039.0,1570.5L1038.0,1567.0L1037.1,1558.4L1036.1,1587.2L1035.1,1578.1L1034.2,1586.6L1033.2,1559.0L1032.3,1569.8L1031.3,1615.3L1030.4,1596.9L1029.4,1582.5L1028.5,1583.9L1027.5,1610.0L1026.5,1610.6L1025.6,1600.3L1024.6,1608.9L1023.7,1627.7L1022.7,1594.0L1021.8,1587.2L1020.8,1574.6L1019.9,1583.9L1018.9,1575.3L1017.9,1567.9L1017.0,1574.7L1016.0,1575.0L1015.1,1574.9L1014.1,1584.2L1013.2,1603.5L1012.2,1566.3L1011.3,1569.2L1010.3,1579.9L1009.3,1573.6L1008.4,1551.1L1007.4,1556.9L1006.5,1564.6L1005.5,1556.6L1004.6,1556.0L1003.6,1563.8L1002.6,1552.5L1001.7,1565.1L1000.7,1550.2L999.8,1565.4L998.8,1551.5L997.9,1569.2L996.9,1539.0L996.0,1539.2L995.0,1539.4L994.0,1548.4L993.1,1542.9L992.1,1527.5L991.2,1543.5L990.2,1534.7L989.3,1534.9L988.3,1528.0L987.4,1527.5L986.4,1532.1L985.4,1523.4L984.5,1518.0L983.5,1516.8L982.6,1528.4L981.6,1538.4L980.7,1551.1L979.7,1533.0L978.8,1525.9L977.8,1522.6L976.8,1506.3L975.9,1520.9L974.9,1497.8L974.0,1489.3L973.0,1518.5L972.1,1497.8L971.1,1513.8L970.2,1516.9L969.2,1513.9L968.2,1509.6L967.3,1511.3L966.3,1507.9L965.4,1519.4L964.4,1526.2L963.5,1535.6L962.5,1525.6L961.5,1527.1L960.6,1546.1L959.6,1537.8L958.7,1532.3L957.7,1522.9L956.8,1541.0L955.8,1539.3L954.9,1532.1L953.9,1515.5L952.9,1503.6L952.0,1518.1L951.0,1506.9L950.1,1509.1L949.1,1500.9L948.2,1505.9L947.2,1491.0L946.3,1481.7L945.3,1484.8L944.3,1469.8L943.4,1470.7L942.4,1445.1L941.5,1435.3L940.5,1446.8L939.6,1449.4L938.6,1451.7L937.7,1441.4L936.7,1444.0L935.7,1434.6L934.8,1402.6L933.8,1423.3L932.9,1437.0L931.9,1442.9L931.0,1451.5L930.0,1466.3L929.0,1466.7L928.1,1465.9L927.1,1466.7L926.2,1438.7L925.2,1439.9L924.3,1443.7L923.3,1457.8L922.4,1432.3L921.4,1429.0L920.4,1405.0L919.5,1403.4L918.5,1410.1L917.6,1439.2L916.6,1458.5L915.7,1455.3L914.7,1476.6L913.8,1494.3L912.8,1504.4L911.8,1502.5L910.9,1514.2L909.9,1497.2L909.0,1500.1L908.0,1494.2L907.1,1491.4L906.1,1493.3L905.2,1493.7L904.2,1482.2L903.2,1476.4L902.3,1456.2L901.3,1449.9L900.4,1448.4L899.4,1443.7L898.5,1470.7L897.5,1472.9L896.6,1477.3L895.6,1473.2L894.6,1482.5L893.7,1505.0L892.7,1493.2L891.8,1499.4L890.8,1522.2L889.9,1494.7L888.9,1486.1L887.9,1491.0L887.0,1504.6L886.0,1510.0L885.1,1508.8L884.1,1492.5L883.2,1465.4L882.2,1461.0L881.3,1456.6L880.3,1462.9L879.3,1436.2L878.4,1437.8L877.4,1450.6L876.5,1459.9L875.5,1444.9L874.6,1448.7L873.6,1440.1L872.7,1452.3L871.7,1462.9L870.7,1420.9L869.8,1433.1L868.8,1438.1L867.9,1442.9L866.9,1441.2L866.0,1429.8L865.0,1437.5L864.1,1426.9L863.1,1427.4L862.1,1452.0L861.2,1467.3L860.2,1451.0L859.3,1435.4L858.3,1449.2L857.4,1475.8L856.4,1464.7L855.5,1455.8L854.5,1470.4L853.5,1468.3L852.6,1471.9L851.6,1465.5L850.7,1475.7L849.7,1482.4L848.8,1470.5L847.8,1468.7L846.8,1482.6L845.9,1492.2L844.9,1487.0L844.0,1481.9L843.0,1497.2L842.1,1499.2L841.1,1515.0L840.2,1494.8L839.2,1487.0L838.2,1483.5L837.3,1491.9L836.3,1490.7L835.4,1476.6L834.4,1472.9L833.5,1466.0L832.5,1505.8L831.6,1492.7L830.6,1506.1L829.6,1509.4L828.7,1499.1L827.7,1505.0L826.8,1530.6L825.8,1538.6L824.9,1522.9L823.9,1526.2L823.0,1503.2L822.0,1504.7L821.0,1506.0L820.1,1497.1L819.1,1491.7L818.2,1508.0L817.2,1504.4L816.3,1493.0L815.3,1482.7L814.4,1486.0L813.4,1484.0L812.4,1493.4L811.5,1490.5L810.5,1470.1L809.6,1458.6L808.6,1456.1L807.7,1462.4L806.7,1439.6L805.7,1425.8L804.8,1420.3L803.8,1411.8L802.9,1404.4L801.9,1410.0L801.0,1428.7L800.0,1429.2L799.1,1425.6L798.1,1456.8L797.1,1450.2L796.2,1427.1L795.2,1428.5L794.3,1429.2L793.3,1451.2L792.4,1439.0L791.4,1430.8L790.5,1451.6L789.5,1456.0L788.5,1436.2L787.6,1432.6L786.6,1441.3L785.7,1420.8L784.7,1451.0L783.8,1458.9L782.8,1447.8L781.9,1462.0L780.9,1474.1L779.9,1477.8L779.0,1479.7L778.0,1498.0L777.1,1493.9L776.1,1494.6L775.2,1486.9L774.2,1509.2L773.2,1489.1L772.3,1483.9L771.3,1482.8L770.4,1478.7L769.4,1472.5L768.5,1466.8L767.5,1466.9L766.6,1494.8L765.6,1493.9L764.6,1481.6L763.7,1471.3L762.7,1452.6L761.8,1451.5L760.8,1461.5L759.9,1494.5L758.9,1521.3L758.0,1498.4L757.0,1489.0Z" fill="#9fd39a" fill-opacity="0.28" stroke="#9fd39a" stroke-opacity="0.35" stroke-width="0.8"/>
<path d="M757.0,1422.6L758.0,1419.9L758.9,1413.0L759.9,1404.3L760.8,1391.9L761.8,1406.3L762.7,1403.5L763.7,1408.4L764.6,1422.8L765.6,1434.5L766.6,1442.4L767.5,1435.8L768.5,1428.4L769.4,1428.3L770.4,1432.3L771.3,1439.3L772.3,1446.5L773.2,1448.6L774.2,1453.5L775.2,1452.5L776.1,1450.8L777.1,1454.5L778.0,1442.6L779.0,1443.0L779.9,1436.7L780.9,1429.6L781.9,1417.8L782.8,1414.8L783.8,1423.1L784.7,1427.9L785.7,1409.5L786.6,1408.1L787.6,1400.6L788.5,1398.5L789.5,1411.2L790.5,1407.3L791.4,1394.4L792.4,1409.4L793.3,1405.4L794.3,1395.0L795.2,1400.0L796.2,1403.9L797.1,1407.0L798.1,1403.9L799.1,1395.6L800.0,1391.2L801.0,1396.6L801.9,1390.7L802.9,1384.3L803.8,1390.7L804.8,1394.3L805.7,1394.1L806.7,1403.8L807.7,1413.2L808.6,1420.3L809.6,1429.3L810.5,1438.1L811.5,1450.0L812.4,1464.0L813.4,1456.1L814.4,1455.1L815.3,1465.0L816.3,1454.4L817.2,1459.1L818.2,1462.5L819.1,1471.9L820.1,1471.9L821.0,1471.7L822.0,1472.4L823.0,1463.9L823.9,1475.6L824.9,1468.4L825.8,1465.2L826.8,1459.8L827.7,1457.2L828.7,1451.0L829.6,1453.6L830.6,1452.9L831.6,1457.1L832.5,1452.5L833.5,1443.0L834.4,1451.3L835.4,1446.0L836.3,1449.2L837.3,1435.8L838.2,1442.4L839.2,1455.1L840.2,1451.1L841.1,1450.8L842.1,1440.0L843.0,1440.4L844.0,1428.6L844.9,1431.0L845.9,1429.5L846.8,1437.2L847.8,1430.1L848.8,1435.5L849.7,1436.9L850.7,1429.5L851.6,1428.9L852.6,1429.5L853.5,1431.3L854.5,1426.9L855.5,1423.7L856.4,1425.0L857.4,1420.6L858.3,1416.3L859.3,1411.7L860.2,1405.9L861.2,1410.3L862.1,1405.7L863.1,1390.4L864.1,1391.7L865.0,1401.0L866.0,1404.7L866.9,1397.9L867.9,1403.0L868.8,1411.2L869.8,1417.1L870.7,1411.1L871.7,1421.7L872.7,1418.5L873.6,1412.5L874.6,1404.3L875.5,1399.7L876.5,1405.3L877.4,1409.1L878.4,1403.2L879.3,1415.7L880.3,1422.3L881.3,1434.7L882.2,1447.0L883.2,1445.9L884.1,1455.9L885.1,1463.4L886.0,1471.6L887.0,1468.2L887.9,1457.2L888.9,1451.7L889.9,1461.2L890.8,1456.4L891.8,1452.7L892.7,1450.1L893.7,1444.9L894.6,1445.7L895.6,1440.3L896.6,1446.3L897.5,1442.3L898.5,1435.3L899.4,1433.6L900.4,1431.9L901.3,1427.9L902.3,1433.5L903.2,1431.9L904.2,1440.2L905.2,1450.8L906.1,1453.3L907.1,1456.6L908.0,1456.7L909.0,1460.3L909.9,1453.5L910.9,1456.3L911.8,1453.2L912.8,1446.9L913.8,1446.8L914.7,1428.4L915.7,1414.5L916.6,1415.3L917.6,1408.1L918.5,1390.4L919.5,1387.7L920.4,1387.4L921.4,1391.0L922.4,1399.5L923.3,1402.5L924.3,1402.0L925.2,1395.6L926.2,1401.0L927.1,1411.7L928.1,1408.7L929.0,1410.8L930.0,1413.2L931.0,1416.5L931.9,1406.1L932.9,1410.5L933.8,1410.0L934.8,1390.6L935.7,1395.8L936.7,1396.9L937.7,1399.2L938.6,1405.1L939.6,1399.9L940.5,1402.5L941.5,1413.6L942.4,1429.7L943.4,1429.0L944.3,1432.2L945.3,1441.3L946.3,1443.9L947.2,1454.2L948.2,1463.5L949.1,1470.0L950.1,1467.0L951.0,1473.3L952.0,1477.5L952.9,1472.2L953.9,1486.0L954.9,1488.2L955.8,1491.8L956.8,1481.7L957.7,1490.2L958.7,1492.9L959.6,1499.8L960.6,1494.8L961.5,1493.2L962.5,1491.9L963.5,1495.3L964.4,1493.5L965.4,1492.6L966.3,1477.2L967.3,1484.5L968.2,1480.5L969.2,1483.7L970.2,1481.4L971.1,1488.9L972.1,1477.9L973.0,1487.3L974.0,1474.1L974.9,1476.6L975.9,1487.3L976.8,1485.5L977.8,1497.6L978.8,1497.4L979.7,1489.4L980.7,1497.9L981.6,1491.2L982.6,1496.4L983.5,1496.2L984.5,1497.5L985.4,1495.2L986.4,1494.3L987.4,1493.7L988.3,1498.6L989.3,1499.0L990.2,1505.5L991.2,1502.3L992.1,1500.2L993.1,1501.4L994.0,1506.9L995.0,1501.8L996.0,1505.6L996.9,1508.4L997.9,1510.1L998.8,1505.1L999.8,1520.5L1000.7,1508.6L1001.7,1512.1L1002.6,1514.2L1003.6,1523.0L1004.6,1521.9L1005.5,1523.0L1006.5,1527.4L1007.4,1526.9L1008.4,1520.8L1009.3,1527.6L1010.3,1531.4L1011.3,1530.6L1012.2,1523.8L1013.2,1536.9L1014.1,1538.2L1015.1,1545.3L1016.0,1547.8L1017.0,1556.9L1017.9,1550.5L1018.9,1563.5L1019.9,1547.8L1020.8,1550.4L1021.8,1555.2L1022.7,1564.1L1023.7,1571.3L1024.6,1567.9L1025.6,1567.1L1026.5,1568.9L1027.5,1568.7L1028.5,1554.6L1029.4,1548.1L1030.4,1550.8L1031.3,1550.3L1032.3,1541.2L1033.2,1525.8L1034.2,1541.6L1035.1,1530.9L1036.1,1541.1L1037.1,1522.9L1038.0,1519.4L1039.0,1525.6L1039.9,1521.1L1040.9,1507.8L1041.8,1520.1L1042.8,1516.9L1043.8,1516.0L1044.7,1517.7L1045.7,1517.9L1046.6,1536.6L1047.6,1540.2L1048.5,1544.8L1049.5,1538.7L1050.4,1542.8L1051.4,1549.0L1052.4,1537.3L1053.3,1542.2L1054.3,1546.5L1055.2,1549.2L1056.2,1541.4L1057.1,1545.5L1058.1,1543.7L1059.0,1550.4L1060.0,1548.3L1061.0,1541.8L1061.9,1550.6L1062.9,1538.4L1063.8,1546.8L1064.8,1540.4L1065.7,1539.3L1066.7,1532.8L1067.6,1523.5L1068.6,1523.7L1069.6,1525.6L1070.5,1532.1L1071.5,1518.4L1072.4,1515.7L1073.4,1517.2L1074.3,1533.6L1075.3,1528.0L1076.2,1538.0L1077.2,1551.1L1078.2,1558.9L1079.1,1562.3L1080.1,1562.9L1081.0,1574.4L1082.0,1572.9L1082.9,1574.5L1083.9,1572.3L1084.9,1570.4L1085.8,1565.4L1086.8,1564.3L1087.7,1555.0L1088.7,1552.9L1089.6,1544.4L1090.6,1549.4L1091.5,1554.4L1092.5,1558.0L1093.5,1572.2L1094.4,1559.2L1095.4,1559.1L1096.3,1554.8L1097.3,1560.3L1098.2,1548.7L1099.2,1552.0L1100.1,1550.5L1101.1,1568.6L1102.1,1568.0L1103.0,1571.3L1104.0,1575.7L1104.9,1585.6L1105.9,1593.7L1106.8,1595.6L1107.8,1614.5L1108.7,1608.9L1109.7,1620.9L1110.7,1615.4L1111.6,1620.1L1112.6,1608.6L1113.5,1610.5L1114.5,1610.3L1115.4,1596.0L1116.4,1604.2L1117.3,1605.8L1118.3,1603.6L1119.3,1594.5L1120.2,1590.7L1121.2,1582.0L1122.1,1578.8L1123.1,1571.9L1124.0,1559.9L1125.0,1561.0L1126.0,1551.0L1126.9,1539.9L1127.9,1532.0L1128.8,1528.9L1129.8,1515.0L1130.7,1524.3L1131.7,1518.1L1132.6,1510.9L1133.6,1513.7L1134.6,1518.2L1135.5,1507.5L1136.5,1514.7L1137.4,1506.4L1138.4,1500.0L1139.3,1503.4L1140.3,1511.4L1141.2,1514.5L1142.2,1513.6L1143.2,1514.0L1144.1,1506.9L1145.1,1516.5L1146.0,1518.4L1147.0,1519.6L1147.9,1523.7L1148.9,1525.1L1149.8,1524.9L1150.8,1523.9L1151.8,1517.0L1152.7,1514.1L1153.7,1511.4L1154.6,1510.2L1155.6,1495.1L1156.5,1498.9L1157.5,1498.9L1158.5,1485.1L1159.4,1491.5L1160.4,1491.5L1161.3,1481.6L1162.3,1491.4L1163.2,1486.0L1164.2,1487.9L1165.1,1492.7L1166.1,1495.5L1167.1,1498.8L1168.0,1508.6L1169.0,1517.0L1169.9,1520.5L1170.9,1513.1L1171.8,1519.1L1172.8,1525.1L1173.7,1525.9L1174.7,1532.4L1175.7,1536.1L1176.6,1550.3L1177.6,1550.5L1178.5,1549.3L1179.5,1549.1L1180.4,1546.4L1181.4,1545.0L1182.3,1541.1L1183.3,1537.8L1184.3,1546.3L1185.2,1548.0L1186.2,1542.3L1187.1,1549.0L1188.1,1553.0L1189.0,1553.5L1190.0,1554.6L1190.9,1548.9L1191.9,1547.5L1192.9,1544.4L1193.8,1545.8L1194.8,1544.5L1195.7,1548.3L1196.7,1548.5L1197.6,1553.6L1198.6,1543.0L1199.6,1549.4L1200.5,1546.7L1201.5,1555.3L1202.4,1552.0L1203.4,1557.0L1204.3,1565.6L1205.3,1572.3L1206.2,1575.1L1207.2,1574.2L1208.2,1573.5L1209.1,1582.2L1210.1,1577.2L1211.0,1572.0L1212.0,1580.7L1212.9,1578.3L1213.9,1589.5L1214.8,1599.9L1215.8,1597.2L1216.8,1600.4L1217.7,1605.2L1218.7,1596.8L1219.6,1578.2L1220.6,1581.6L1221.5,1587.3L1222.5,1580.5L1223.4,1581.9L1224.4,1574.6L1225.4,1570.0L1226.3,1567.3L1227.3,1560.7L1228.2,1555.4L1229.2,1556.9L1230.1,1561.0L1231.1,1551.5L1232.0,1547.1L1233.0,1540.7L1234.0,1541.2L1234.9,1538.1L1235.9,1539.9L1236.8,1537.0L1237.8,1538.6L1238.7,1532.3L1239.7,1526.5L1240.7,1526.2L1241.6,1532.4L1242.6,1522.7L1243.5,1536.5L1244.5,1535.3L1245.4,1527.9L1246.4,1527.1L1247.3,1542.3L1248.3,1537.2L1249.3,1533.9L1250.2,1523.4L1251.2,1524.6L1252.1,1526.2L1253.1,1511.8L1254.0,1513.4L1255.0,1514.0L1255.9,1499.9L1256.9,1494.4L1257.9,1500.2L1258.8,1496.0L1259.8,1501.9L1260.7,1498.5L1261.7,1492.1L1262.6,1489.7L1263.6,1480.5L1264.5,1475.8L1265.5,1483.1L1266.5,1484.3L1267.4,1485.5L1268.4,1485.2L1269.3,1501.0L1270.3,1500.8L1271.2,1504.6L1272.2,1502.5L1273.2,1503.7L1274.1,1502.2L1275.1,1509.5L1276.0,1516.9L1277.0,1518.8L1277.9,1530.2L1278.9,1526.8L1279.8,1529.9L1280.8,1539.9L1281.8,1532.5L1282.7,1534.6L1283.7,1551.8L1284.6,1553.4L1285.6,1561.4L1286.5,1569.1L1287.5,1573.8L1288.4,1566.3L1289.4,1575.3L1290.4,1585.6L1291.3,1591.9L1292.3,1579.1L1293.2,1576.5L1294.2,1569.5L1295.1,1554.7L1296.1,1558.8L1297.0,1552.5L1298.0,1547.8L1299.0,1545.5L1299.9,1528.4L1300.9,1521.9L1301.8,1517.6L1302.8,1516.6L1303.7,1509.4L1304.7,1513.5L1305.6,1516.8L1306.6,1517.0L1307.6,1511.1L1308.5,1506.8L1309.5,1504.4L1310.4,1492.5L1311.4,1481.6L1312.3,1490.8L1313.3,1487.3L1314.3,1493.0L1315.2,1491.3L1316.2,1497.2L1317.1,1490.0L1318.1,1490.6L1319.0,1491.6L1320.0,1499.6L1320.9,1505.8L1321.9,1499.1L1322.9,1504.2L1323.8,1508.1L1324.8,1511.7L1325.7,1511.2L1326.7,1520.7L1327.6,1516.2L1328.6,1527.7L1329.5,1519.4L1330.5,1530.3" fill="none" stroke="#4bad44" stroke-width="2.8" stroke-linejoin="round"/>
<line x1="757.0" y1="1462.8" x2="1330.5" y2="1462.8" stroke="#000" stroke-width="1.8"/>
<line x1="757.0" y1="1267.8" x2="757.0" y2="1723.8" stroke="#000" stroke-width="2"/>
<line x1="756.0" y1="1722.8" x2="1331.5" y2="1722.8" stroke="#000" stroke-width="2"/>
<line x1="751.0" y1="1332.8" x2="757.0" y2="1332.8" stroke="#000" stroke-width="1.8"/>
<line x1="751.0" y1="1462.8" x2="757.0" y2="1462.8" stroke="#000" stroke-width="1.8"/>
<line x1="751.0" y1="1592.8" x2="757.0" y2="1592.8" stroke="#000" stroke-width="1.8"/>
<line x1="751.0" y1="1722.8" x2="757.0" y2="1722.8" stroke="#000" stroke-width="1.8"/>
<line x1="757.0" y1="1722.8" x2="757.0" y2="1729.8" stroke="#000" stroke-width="1.8"/>
<line x1="948.2" y1="1722.8" x2="948.2" y2="1729.8" stroke="#000" stroke-width="1.8"/>
<line x1="1139.3" y1="1722.8" x2="1139.3" y2="1729.8" stroke="#000" stroke-width="1.8"/>
<line x1="1330.5" y1="1722.8" x2="1330.5" y2="1729.8" stroke="#000" stroke-width="1.8"/>
<text x="1349.0" y="1234.0" font-size="59" font-weight="bold" fill="#231f20">H</text>
<text x="1674.0" y="1268.7" font-size="42" text-anchor="middle" fill="#231f20" textLength="213" lengthAdjust="spacingAndGlyphs">0.5mM ATR</text>
<rect x="1580.5" y="1267.8" width="191.0" height="455.0" fill="#d3dcee"/>
<path d="M1389.5,1261.3L1390.5,1267.0L1391.4,1285.5L1392.4,1314.7L1393.3,1313.1L1394.3,1330.9L1395.2,1336.5L1396.2,1345.9L1397.1,1348.9L1398.1,1366.0L1399.1,1364.2L1400.0,1379.6L1401.0,1395.6L1401.9,1396.8L1402.9,1390.6L1403.8,1388.5L1404.8,1397.9L1405.7,1414.2L1406.7,1404.7L1407.6,1410.8L1408.6,1414.2L1409.6,1412.1L1410.5,1412.1L1411.5,1414.8L1412.4,1404.0L1413.4,1416.5L1414.3,1407.7L1415.3,1421.4L1416.2,1412.4L1417.2,1407.0L1418.2,1399.5L1419.1,1408.5L1420.1,1420.3L1421.0,1413.3L1422.0,1411.2L1422.9,1411.1L1423.9,1415.0L1424.8,1410.2L1425.8,1401.7L1426.8,1413.6L1427.7,1417.4L1428.7,1414.9L1429.6,1408.8L1430.6,1417.0L1431.5,1412.4L1432.5,1422.0L1433.4,1432.4L1434.4,1423.0L1435.3,1423.1L1436.3,1424.5L1437.3,1427.7L1438.2,1431.5L1439.2,1433.8L1440.1,1432.5L1441.1,1440.8L1442.0,1434.0L1443.0,1429.2L1443.9,1414.7L1444.9,1411.6L1445.9,1412.4L1446.8,1418.7L1447.8,1415.4L1448.7,1426.8L1449.7,1434.0L1450.6,1424.7L1451.6,1440.8L1452.5,1446.2L1453.5,1437.9L1454.5,1448.6L1455.4,1457.0L1456.4,1441.9L1457.3,1439.6L1458.3,1450.8L1459.2,1474.0L1460.2,1479.4L1461.1,1456.4L1462.1,1461.9L1463.0,1463.1L1464.0,1467.2L1465.0,1476.2L1465.9,1474.8L1466.9,1474.8L1467.8,1468.0L1468.8,1474.7L1469.7,1470.9L1470.7,1472.3L1471.6,1480.5L1472.6,1469.4L1473.6,1463.4L1474.5,1465.5L1475.5,1473.2L1476.4,1469.6L1477.4,1457.1L1478.3,1444.9L1479.3,1426.9L1480.2,1422.9L1481.2,1419.6L1482.2,1425.2L1483.1,1437.8L1484.1,1445.2L1485.0,1448.3L1486.0,1435.1L1486.9,1428.7L1487.9,1428.1L1488.8,1429.0L1489.8,1447.3L1490.7,1425.8L1491.7,1411.4L1492.7,1402.8L1493.6,1407.4L1494.6,1405.4L1495.5,1418.7L1496.5,1414.1L1497.4,1421.5L1498.4,1413.5L1499.3,1436.2L1500.3,1426.4L1501.3,1442.2L1502.2,1448.8L1503.2,1440.1L1504.1,1450.2L1505.1,1440.9L1506.0,1447.4L1507.0,1448.3L1507.9,1439.4L1508.9,1442.3L1509.9,1447.1L1510.8,1414.3L1511.8,1427.5L1512.7,1436.1L1513.7,1437.2L1514.6,1422.7L1515.6,1436.2L1516.5,1426.0L1517.5,1429.8L1518.4,1443.2L1519.4,1455.9L1520.4,1449.8L1521.3,1454.6L1522.3,1465.6L1523.2,1455.7L1524.2,1442.7L1525.1,1440.0L1526.1,1453.7L1527.0,1451.2L1528.0,1443.0L1529.0,1452.3L1529.9,1443.7L1530.9,1433.1L1531.8,1455.0L1532.8,1452.3L1533.7,1445.2L1534.7,1440.9L1535.6,1433.8L1536.6,1422.0L1537.6,1451.7L1538.5,1427.4L1539.5,1416.4L1540.4,1425.5L1541.4,1430.3L1542.3,1431.8L1543.3,1442.0L1544.2,1432.0L1545.2,1429.8L1546.1,1448.6L1547.1,1438.2L1548.1,1429.9L1549.0,1417.0L1550.0,1428.2L1550.9,1430.6L1551.9,1435.7L1552.8,1443.2L1553.8,1450.0L1554.7,1440.3L1555.7,1447.0L1556.7,1451.0L1557.6,1455.8L1558.6,1463.1L1559.5,1460.8L1560.5,1459.2L1561.4,1439.2L1562.4,1457.3L1563.3,1454.8L1564.3,1446.1L1565.3,1452.3L1566.2,1456.9L1567.2,1465.5L1568.1,1449.9L1569.1,1450.9L1570.0,1446.2L1571.0,1451.8L1571.9,1444.9L1572.9,1462.2L1573.8,1444.2L1574.8,1445.5L1575.8,1430.0L1576.7,1444.5L1577.7,1450.8L1578.6,1441.1L1579.6,1437.1L1580.5,1433.6L1581.5,1444.6L1582.4,1441.7L1583.4,1460.2L1584.4,1441.7L1585.3,1454.3L1586.3,1441.3L1587.2,1448.4L1588.2,1452.6L1589.1,1448.9L1590.1,1448.7L1591.0,1457.4L1592.0,1447.2L1593.0,1454.9L1593.9,1434.8L1594.9,1455.4L1595.8,1437.9L1596.8,1450.6L1597.7,1458.7L1598.7,1443.1L1599.6,1434.7L1600.6,1450.9L1601.5,1447.5L1602.5,1429.5L1603.5,1437.7L1604.4,1452.1L1605.4,1444.2L1606.3,1454.9L1607.3,1438.6L1608.2,1449.1L1609.2,1454.2L1610.1,1455.2L1611.1,1443.8L1612.1,1457.7L1613.0,1452.8L1614.0,1457.9L1614.9,1445.6L1615.9,1452.1L1616.8,1447.5L1617.8,1445.1L1618.7,1456.3L1619.7,1442.8L1620.7,1440.5L1621.6,1440.3L1622.6,1439.7L1623.5,1476.3L1624.5,1466.2L1625.4,1467.8L1626.4,1473.0L1627.3,1476.9L1628.3,1473.7L1629.2,1477.4L1630.2,1475.4L1631.2,1468.2L1632.1,1459.3L1633.1,1439.4L1634.0,1459.4L1635.0,1450.5L1635.9,1442.2L1636.9,1445.0L1637.8,1441.4L1638.8,1442.4L1639.8,1441.9L1640.7,1446.7L1641.7,1425.7L1642.6,1427.7L1643.6,1416.9L1644.5,1428.2L1645.5,1419.5L1646.4,1440.6L1647.4,1435.4L1648.4,1429.6L1649.3,1434.8L1650.3,1430.1L1651.2,1421.4L1652.2,1410.1L1653.1,1411.2L1654.1,1410.4L1655.0,1404.2L1656.0,1405.5L1656.9,1426.3L1657.9,1430.6L1658.9,1420.5L1659.8,1424.8L1660.8,1416.4L1661.7,1422.6L1662.7,1434.6L1663.6,1443.7L1664.6,1443.7L1665.5,1450.9L1666.5,1425.9L1667.5,1449.7L1668.4,1448.7L1669.4,1452.6L1670.3,1458.1L1671.3,1462.1L1672.2,1467.5L1673.2,1467.6L1674.1,1463.0L1675.1,1459.2L1676.0,1488.4L1677.0,1488.7L1678.0,1484.1L1678.9,1471.0L1679.9,1497.1L1680.8,1478.6L1681.8,1475.1L1682.7,1481.2L1683.7,1481.1L1684.6,1470.5L1685.6,1467.0L1686.6,1461.2L1687.5,1464.4L1688.5,1476.6L1689.4,1484.0L1690.4,1481.8L1691.3,1458.4L1692.3,1463.6L1693.2,1444.1L1694.2,1454.6L1695.2,1471.3L1696.1,1472.2L1697.1,1474.7L1698.0,1469.4L1699.0,1464.0L1699.9,1475.0L1700.9,1481.7L1701.8,1466.8L1702.8,1479.0L1703.7,1487.1L1704.7,1504.2L1705.7,1484.9L1706.6,1492.1L1707.6,1485.8L1708.5,1487.1L1709.5,1484.6L1710.4,1493.0L1711.4,1486.0L1712.3,1497.0L1713.3,1489.2L1714.3,1495.7L1715.2,1483.2L1716.2,1492.3L1717.1,1495.9L1718.1,1494.4L1719.0,1486.3L1720.0,1473.6L1720.9,1480.6L1721.9,1490.2L1722.9,1486.5L1723.8,1500.5L1724.8,1494.8L1725.7,1495.3L1726.7,1482.8L1727.6,1464.5L1728.6,1480.7L1729.5,1447.7L1730.5,1458.6L1731.4,1459.3L1732.4,1455.9L1733.4,1477.7L1734.3,1463.6L1735.3,1472.7L1736.2,1470.3L1737.2,1481.8L1738.1,1477.6L1739.1,1483.1L1740.0,1464.5L1741.0,1468.1L1742.0,1447.9L1742.9,1462.7L1743.9,1447.1L1744.8,1439.0L1745.8,1436.3L1746.7,1440.1L1747.7,1444.2L1748.6,1445.8L1749.6,1439.0L1750.6,1444.5L1751.5,1458.2L1752.5,1459.7L1753.4,1454.8L1754.4,1468.4L1755.3,1455.4L1756.3,1447.3L1757.2,1461.2L1758.2,1471.4L1759.1,1485.2L1760.1,1476.3L1761.1,1475.3L1762.0,1467.3L1763.0,1453.4L1763.9,1459.3L1764.9,1460.8L1765.8,1465.3L1766.8,1477.5L1767.7,1493.2L1768.7,1484.0L1769.7,1486.2L1770.6,1478.9L1771.6,1496.4L1772.5,1480.8L1773.5,1479.3L1774.4,1506.2L1775.4,1500.4L1776.3,1499.8L1777.3,1505.1L1778.3,1508.3L1779.2,1506.5L1780.2,1517.3L1781.1,1523.2L1782.1,1496.0L1783.0,1493.4L1784.0,1478.6L1784.9,1488.7L1785.9,1480.4L1786.8,1489.8L1787.8,1511.3L1788.8,1487.3L1789.7,1471.7L1790.7,1465.0L1791.6,1478.6L1792.6,1504.1L1793.5,1518.6L1794.5,1506.3L1795.4,1501.1L1796.4,1502.7L1797.4,1482.4L1798.3,1493.0L1799.3,1479.5L1800.2,1463.7L1801.2,1465.5L1802.1,1479.3L1803.1,1470.6L1804.0,1470.5L1805.0,1458.6L1806.0,1482.9L1806.9,1485.5L1807.9,1469.6L1808.8,1481.8L1809.8,1468.3L1810.7,1468.9L1811.7,1454.4L1812.6,1463.3L1813.6,1473.5L1814.5,1483.5L1815.5,1470.6L1816.5,1479.4L1817.4,1472.8L1818.4,1462.0L1819.3,1442.9L1820.3,1455.3L1821.2,1442.4L1822.2,1447.0L1823.1,1452.9L1824.1,1459.2L1825.1,1465.9L1826.0,1452.0L1827.0,1465.7L1827.9,1454.0L1828.9,1461.0L1829.8,1458.3L1830.8,1468.0L1831.7,1467.4L1832.7,1460.7L1833.7,1453.7L1834.6,1465.6L1835.6,1445.0L1836.5,1451.8L1837.5,1456.1L1838.4,1459.1L1839.4,1454.6L1840.3,1442.4L1841.3,1461.1L1842.2,1468.2L1843.2,1467.6L1844.2,1483.8L1845.1,1472.8L1846.1,1481.5L1847.0,1468.7L1848.0,1466.3L1848.9,1455.4L1849.9,1465.9L1850.8,1466.1L1851.8,1461.0L1852.8,1465.9L1853.7,1463.3L1854.7,1442.9L1855.6,1455.4L1856.6,1464.0L1857.5,1451.4L1858.5,1459.6L1859.4,1453.8L1860.4,1464.0L1861.4,1474.3L1862.3,1487.4L1863.3,1483.1L1864.2,1460.5L1865.2,1470.4L1866.1,1475.6L1867.1,1474.8L1868.0,1470.8L1869.0,1493.6L1869.9,1488.6L1870.9,1489.6L1871.9,1479.2L1872.8,1487.0L1873.8,1494.4L1874.7,1504.2L1875.7,1510.4L1876.6,1507.6L1877.6,1504.9L1878.5,1492.0L1879.5,1486.7L1880.5,1489.2L1881.4,1489.9L1882.4,1495.1L1883.3,1495.1L1884.3,1497.0L1885.2,1502.3L1886.2,1516.7L1887.1,1504.9L1888.1,1503.6L1889.1,1506.3L1890.0,1521.1L1891.0,1506.0L1891.9,1511.9L1892.9,1498.0L1893.8,1496.7L1894.8,1510.5L1895.7,1494.1L1896.7,1494.2L1897.6,1491.9L1898.6,1486.1L1899.6,1471.9L1900.5,1493.2L1901.5,1487.5L1902.4,1499.7L1903.4,1484.7L1904.3,1487.7L1905.3,1500.1L1906.2,1498.2L1907.2,1492.0L1908.2,1472.1L1909.1,1463.5L1910.1,1458.8L1911.0,1466.2L1912.0,1464.1L1912.9,1468.4L1913.9,1468.5L1914.8,1476.9L1915.8,1473.4L1916.8,1462.6L1917.7,1466.6L1918.7,1466.0L1919.6,1465.6L1920.6,1445.8L1921.5,1440.3L1922.5,1447.7L1923.4,1452.0L1924.4,1478.2L1925.3,1456.8L1926.3,1453.3L1927.3,1470.4L1928.2,1447.7L1929.2,1446.7L1930.1,1433.5L1931.1,1439.8L1932.0,1455.1L1933.0,1448.6L1933.9,1450.8L1934.9,1448.1L1935.9,1444.3L1936.8,1433.1L1937.8,1417.3L1938.7,1423.0L1939.7,1433.4L1940.6,1441.0L1941.6,1425.3L1942.5,1425.8L1943.5,1416.7L1944.5,1415.1L1945.4,1410.1L1946.4,1409.7L1947.3,1419.0L1948.3,1426.9L1949.2,1437.5L1950.2,1436.7L1951.1,1428.5L1952.1,1413.7L1953.0,1412.9L1954.0,1421.9L1955.0,1440.0L1955.9,1435.9L1956.9,1431.0L1957.8,1436.2L1958.8,1440.4L1959.7,1432.5L1960.7,1429.6L1961.6,1420.1L1962.6,1412.9L1962.6,1477.2L1961.6,1470.6L1960.7,1483.6L1959.7,1485.5L1958.8,1492.9L1957.8,1491.7L1956.9,1501.4L1955.9,1489.6L1955.0,1496.3L1954.0,1481.7L1953.0,1471.3L1952.1,1481.0L1951.1,1481.7L1950.2,1482.5L1949.2,1488.9L1948.3,1489.0L1947.3,1485.4L1946.4,1473.5L1945.4,1466.1L1944.5,1474.4L1943.5,1483.3L1942.5,1478.8L1941.6,1492.8L1940.6,1495.5L1939.7,1485.9L1938.7,1470.0L1937.8,1470.2L1936.8,1497.8L1935.9,1511.5L1934.9,1498.7L1933.9,1499.3L1933.0,1495.2L1932.0,1501.4L1931.1,1494.9L1930.1,1474.2L1929.2,1493.1L1928.2,1488.5L1927.3,1529.7L1926.3,1513.7L1925.3,1499.7L1924.4,1522.5L1923.4,1492.0L1922.5,1504.0L1921.5,1511.3L1920.6,1500.9L1919.6,1524.4L1918.7,1529.5L1917.7,1519.9L1916.8,1534.0L1915.8,1531.4L1914.8,1540.7L1913.9,1530.3L1912.9,1537.9L1912.0,1539.9L1911.0,1525.8L1910.1,1531.8L1909.1,1542.1L1908.2,1555.6L1907.2,1556.2L1906.2,1549.9L1905.3,1561.1L1904.3,1543.0L1903.4,1549.5L1902.4,1544.5L1901.5,1544.1L1900.5,1551.0L1899.6,1535.0L1898.6,1545.3L1897.6,1554.8L1896.7,1561.2L1895.7,1546.9L1894.8,1549.8L1893.8,1551.8L1892.9,1548.5L1891.9,1548.1L1891.0,1555.6L1890.0,1564.6L1889.1,1552.9L1888.1,1574.4L1887.1,1562.2L1886.2,1555.2L1885.2,1548.9L1884.3,1553.6L1883.3,1558.8L1882.4,1560.4L1881.4,1550.9L1880.5,1546.6L1879.5,1556.3L1878.5,1541.4L1877.6,1543.9L1876.6,1548.7L1875.7,1552.1L1874.7,1538.0L1873.8,1537.0L1872.8,1543.3L1871.9,1531.8L1870.9,1535.2L1869.9,1572.7L1869.0,1556.3L1868.0,1547.1L1867.1,1547.0L1866.1,1545.2L1865.2,1540.3L1864.2,1527.3L1863.3,1537.4L1862.3,1537.5L1861.4,1533.0L1860.4,1522.7L1859.4,1521.9L1858.5,1523.4L1857.5,1528.3L1856.6,1524.2L1855.6,1522.7L1854.7,1509.0L1853.7,1518.4L1852.8,1532.1L1851.8,1528.9L1850.8,1539.3L1849.9,1525.4L1848.9,1520.0L1848.0,1517.5L1847.0,1531.0L1846.1,1532.8L1845.1,1527.8L1844.2,1539.6L1843.2,1527.4L1842.2,1520.7L1841.3,1532.5L1840.3,1510.6L1839.4,1523.1L1838.4,1522.5L1837.5,1524.7L1836.5,1522.6L1835.6,1523.3L1834.6,1519.5L1833.7,1503.6L1832.7,1510.2L1831.7,1514.6L1830.8,1516.3L1829.8,1545.7L1828.9,1517.2L1827.9,1513.0L1827.0,1528.4L1826.0,1503.9L1825.1,1507.3L1824.1,1517.5L1823.1,1504.2L1822.2,1511.0L1821.2,1506.7L1820.3,1517.1L1819.3,1508.6L1818.4,1516.7L1817.4,1530.5L1816.5,1535.2L1815.5,1531.1L1814.5,1532.3L1813.6,1527.4L1812.6,1525.0L1811.7,1516.8L1810.7,1527.4L1809.8,1532.0L1808.8,1532.3L1807.9,1512.0L1806.9,1511.1L1806.0,1505.2L1805.0,1513.2L1804.0,1515.0L1803.1,1514.7L1802.1,1531.2L1801.2,1518.4L1800.2,1510.5L1799.3,1527.9L1798.3,1535.9L1797.4,1544.0L1796.4,1549.4L1795.4,1556.2L1794.5,1569.7L1793.5,1582.5L1792.6,1572.3L1791.6,1542.0L1790.7,1547.3L1789.7,1549.7L1788.8,1571.2L1787.8,1563.4L1786.8,1558.3L1785.9,1550.8L1784.9,1575.2L1784.0,1567.3L1783.0,1562.9L1782.1,1560.7L1781.1,1585.1L1780.2,1583.3L1779.2,1571.1L1778.3,1575.3L1777.3,1571.5L1776.3,1559.0L1775.4,1556.2L1774.4,1571.1L1773.5,1557.8L1772.5,1558.0L1771.6,1567.8L1770.6,1555.7L1769.7,1553.4L1768.7,1558.3L1767.7,1550.2L1766.8,1530.9L1765.8,1530.8L1764.9,1521.7L1763.9,1516.9L1763.0,1519.3L1762.0,1532.7L1761.1,1523.0L1760.1,1532.6L1759.1,1523.9L1758.2,1523.4L1757.2,1519.6L1756.3,1507.8L1755.3,1507.4L1754.4,1507.5L1753.4,1499.5L1752.5,1501.0L1751.5,1487.5L1750.6,1486.5L1749.6,1499.3L1748.6,1500.7L1747.7,1496.0L1746.7,1499.8L1745.8,1518.3L1744.8,1513.3L1743.9,1519.3L1742.9,1509.5L1742.0,1501.8L1741.0,1506.5L1740.0,1499.2L1739.1,1518.1L1738.1,1515.1L1737.2,1510.1L1736.2,1517.5L1735.3,1510.1L1734.3,1503.7L1733.4,1507.4L1732.4,1493.5L1731.4,1498.1L1730.5,1524.9L1729.5,1531.8L1728.6,1538.7L1727.6,1546.6L1726.7,1545.2L1725.7,1565.9L1724.8,1555.2L1723.8,1552.3L1722.9,1540.7L1721.9,1546.8L1720.9,1540.2L1720.0,1528.1L1719.0,1536.1L1718.1,1538.7L1717.1,1539.4L1716.2,1542.3L1715.2,1542.4L1714.3,1560.9L1713.3,1549.6L1712.3,1558.5L1711.4,1557.3L1710.4,1555.9L1709.5,1552.5L1708.5,1559.5L1707.6,1559.6L1706.6,1542.1L1705.7,1547.9L1704.7,1547.0L1703.7,1550.3L1702.8,1546.7L1701.8,1526.9L1700.9,1528.8L1699.9,1532.4L1699.0,1513.0L1698.0,1530.6L1697.1,1528.1L1696.1,1530.9L1695.2,1543.2L1694.2,1550.1L1693.2,1531.7L1692.3,1540.5L1691.3,1525.3L1690.4,1540.9L1689.4,1536.0L1688.5,1533.0L1687.5,1539.0L1686.6,1542.2L1685.6,1543.5L1684.6,1531.4L1683.7,1534.7L1682.7,1539.6L1681.8,1538.0L1680.8,1525.7L1679.9,1538.5L1678.9,1534.0L1678.0,1539.5L1677.0,1546.6L1676.0,1545.6L1675.1,1523.1L1674.1,1513.9L1673.2,1524.7L1672.2,1523.8L1671.3,1524.3L1670.3,1516.6L1669.4,1509.7L1668.4,1496.1L1667.5,1491.7L1666.5,1481.0L1665.5,1499.6L1664.6,1491.3L1663.6,1487.7L1662.7,1489.7L1661.7,1479.8L1660.8,1476.3L1659.8,1493.0L1658.9,1480.2L1657.9,1502.2L1656.9,1484.1L1656.0,1486.5L1655.0,1482.8L1654.1,1473.4L1653.1,1476.3L1652.2,1477.8L1651.2,1480.1L1650.3,1476.5L1649.3,1492.8L1648.4,1506.6L1647.4,1502.3L1646.4,1508.3L1645.5,1487.3L1644.5,1498.1L1643.6,1492.6L1642.6,1515.9L1641.7,1521.0L1640.7,1522.0L1639.8,1505.2L1638.8,1507.3L1637.8,1518.7L1636.9,1497.3L1635.9,1525.5L1635.0,1501.7L1634.0,1531.3L1633.1,1516.1L1632.1,1522.5L1631.2,1512.2L1630.2,1530.2L1629.2,1527.0L1628.3,1538.9L1627.3,1527.1L1626.4,1516.9L1625.4,1514.7L1624.5,1508.6L1623.5,1507.5L1622.6,1513.2L1621.6,1497.0L1620.7,1503.7L1619.7,1499.5L1618.7,1503.7L1617.8,1499.4L1616.8,1503.1L1615.9,1498.2L1614.9,1496.2L1614.0,1493.0L1613.0,1510.1L1612.1,1496.4L1611.1,1481.6L1610.1,1492.3L1609.2,1489.5L1608.2,1495.4L1607.3,1488.8L1606.3,1497.6L1605.4,1490.1L1604.4,1498.5L1603.5,1483.2L1602.5,1473.4L1601.5,1493.3L1600.6,1497.1L1599.6,1494.1L1598.7,1489.6L1597.7,1497.7L1596.8,1501.1L1595.8,1511.9L1594.9,1511.3L1593.9,1509.4L1593.0,1508.4L1592.0,1505.5L1591.0,1516.1L1590.1,1513.0L1589.1,1509.2L1588.2,1536.5L1587.2,1521.4L1586.3,1517.7L1585.3,1525.6L1584.4,1501.4L1583.4,1509.6L1582.4,1501.6L1581.5,1505.1L1580.5,1503.1L1579.6,1492.8L1578.6,1533.7L1577.7,1512.8L1576.7,1511.7L1575.8,1502.4L1574.8,1518.9L1573.8,1507.3L1572.9,1513.3L1571.9,1492.0L1571.0,1502.4L1570.0,1500.9L1569.1,1487.7L1568.1,1488.9L1567.2,1496.5L1566.2,1513.4L1565.3,1504.7L1564.3,1506.5L1563.3,1499.6L1562.4,1503.2L1561.4,1495.1L1560.5,1512.5L1559.5,1516.5L1558.6,1511.7L1557.6,1513.7L1556.7,1522.6L1555.7,1510.7L1554.7,1489.1L1553.8,1509.1L1552.8,1495.4L1551.9,1503.3L1550.9,1499.6L1550.0,1474.3L1549.0,1481.1L1548.1,1468.5L1547.1,1471.9L1546.1,1479.8L1545.2,1484.5L1544.2,1476.2L1543.3,1504.4L1542.3,1493.1L1541.4,1478.1L1540.4,1480.1L1539.5,1481.8L1538.5,1473.4L1537.6,1492.7L1536.6,1473.0L1535.6,1477.9L1534.7,1486.2L1533.7,1500.8L1532.8,1507.6L1531.8,1500.0L1530.9,1480.4L1529.9,1484.4L1529.0,1501.5L1528.0,1505.7L1527.0,1505.1L1526.1,1506.2L1525.1,1497.2L1524.2,1504.7L1523.2,1520.8L1522.3,1504.7L1521.3,1513.1L1520.4,1508.7L1519.4,1505.6L1518.4,1498.4L1517.5,1492.1L1516.5,1495.9L1515.6,1492.8L1514.6,1492.9L1513.7,1504.9L1512.7,1490.4L1511.8,1481.5L1510.8,1482.2L1509.9,1495.1L1508.9,1501.8L1507.9,1503.1L1507.0,1491.1L1506.0,1487.4L1505.1,1494.7L1504.1,1499.5L1503.2,1501.4L1502.2,1505.3L1501.3,1494.1L1500.3,1478.7L1499.3,1484.1L1498.4,1474.8L1497.4,1473.1L1496.5,1474.7L1495.5,1459.7L1494.6,1466.1L1493.6,1466.9L1492.7,1465.2L1491.7,1483.6L1490.7,1483.6L1489.8,1500.2L1488.8,1491.1L1487.9,1494.0L1486.9,1501.1L1486.0,1495.0L1485.0,1504.5L1484.1,1497.8L1483.1,1491.1L1482.2,1486.5L1481.2,1485.8L1480.2,1488.1L1479.3,1501.1L1478.3,1506.6L1477.4,1507.7L1476.4,1517.8L1475.5,1527.3L1474.5,1525.2L1473.6,1510.6L1472.6,1514.0L1471.6,1526.5L1470.7,1531.1L1469.7,1542.2L1468.8,1544.4L1467.8,1534.0L1466.9,1541.2L1465.9,1530.4L1465.0,1524.7L1464.0,1527.4L1463.0,1520.1L1462.1,1517.9L1461.1,1517.2L1460.2,1525.3L1459.2,1525.0L1458.3,1510.9L1457.3,1493.2L1456.4,1502.1L1455.4,1503.1L1454.5,1503.6L1453.5,1491.8L1452.5,1489.0L1451.6,1495.9L1450.6,1476.1L1449.7,1484.5L1448.7,1478.4L1447.8,1469.3L1446.8,1467.6L1445.9,1459.7L1444.9,1453.9L1443.9,1460.4L1443.0,1473.2L1442.0,1470.9L1441.1,1474.4L1440.1,1480.2L1439.2,1476.2L1438.2,1487.2L1437.3,1472.1L1436.3,1487.4L1435.3,1481.4L1434.4,1491.3L1433.4,1485.6L1432.5,1483.5L1431.5,1484.4L1430.6,1484.7L1429.6,1477.3L1428.7,1474.3L1427.7,1475.8L1426.8,1474.9L1425.8,1454.6L1424.8,1461.1L1423.9,1468.9L1422.9,1465.6L1422.0,1460.1L1421.0,1467.9L1420.1,1484.0L1419.1,1481.6L1418.2,1476.1L1417.2,1473.3L1416.2,1476.0L1415.3,1483.7L1414.3,1494.5L1413.4,1480.7L1412.4,1470.9L1411.5,1471.5L1410.5,1468.0L1409.6,1477.9L1408.6,1477.8L1407.6,1469.1L1406.7,1481.8L1405.7,1470.1L1404.8,1468.0L1403.8,1459.1L1402.9,1452.8L1401.9,1446.8L1401.0,1448.1L1400.0,1441.0L1399.1,1424.5L1398.1,1427.5L1397.1,1403.5L1396.2,1411.6L1395.2,1410.6L1394.3,1394.6L1393.3,1380.5L1392.4,1377.1L1391.4,1342.7L1390.5,1322.4L1389.5,1308.2Z" fill="#a8a3a5" fill-opacity="0.36" stroke="#a8a3a5" stroke-opacity="0.45" stroke-width="0.8"/>
<path d="M1389.5,1288.2L1390.5,1300.2L1391.4,1314.9L1392.4,1336.7L1393.3,1346.6L1394.3,1366.1L1395.2,1370.1L1396.2,1379.6L1397.1,1377.9L1398.1,1397.5L1399.1,1395.4L1400.0,1401.6L1401.0,1413.9L1401.9,1417.0L1402.9,1423.2L1403.8,1432.3L1404.8,1427.6L1405.7,1431.8L1406.7,1441.7L1407.6,1438.3L1408.6,1440.4L1409.6,1441.0L1410.5,1440.4L1411.5,1439.1L1412.4,1438.8L1413.4,1440.1L1414.3,1446.2L1415.3,1450.0L1416.2,1444.9L1417.2,1445.0L1418.2,1442.5L1419.1,1450.3L1420.1,1451.1L1421.0,1443.8L1422.0,1438.7L1422.9,1441.2L1423.9,1440.9L1424.8,1435.9L1425.8,1431.0L1426.8,1447.2L1427.7,1456.0L1428.7,1455.9L1429.6,1454.1L1430.6,1455.7L1431.5,1460.2L1432.5,1459.9L1433.4,1465.5L1434.4,1461.6L1435.3,1457.5L1436.3,1457.9L1437.3,1456.2L1438.2,1461.2L1439.2,1458.9L1440.1,1457.8L1441.1,1461.7L1442.0,1459.7L1443.0,1455.5L1443.9,1443.0L1444.9,1447.1L1445.9,1444.0L1446.8,1447.7L1447.8,1445.1L1448.7,1447.3L1449.7,1454.8L1450.6,1448.5L1451.6,1461.1L1452.5,1461.8L1453.5,1456.2L1454.5,1466.0L1455.4,1467.5L1456.4,1460.9L1457.3,1464.6L1458.3,1482.1L1459.2,1496.4L1460.2,1499.1L1461.1,1484.5L1462.1,1487.1L1463.0,1486.9L1464.0,1484.0L1465.0,1493.5L1465.9,1500.4L1466.9,1506.3L1467.8,1501.4L1468.8,1502.0L1469.7,1499.8L1470.7,1492.7L1471.6,1493.5L1472.6,1484.1L1473.6,1481.9L1474.5,1497.7L1475.5,1494.9L1476.4,1490.6L1477.4,1481.6L1478.3,1476.8L1479.3,1473.1L1480.2,1464.0L1481.2,1461.0L1482.2,1458.1L1483.1,1459.3L1484.1,1466.3L1485.0,1465.1L1486.0,1465.5L1486.9,1460.0L1487.9,1463.7L1488.8,1457.8L1489.8,1469.5L1490.7,1454.4L1491.7,1447.1L1492.7,1443.6L1493.6,1446.1L1494.6,1443.9L1495.5,1441.1L1496.5,1445.0L1497.4,1451.3L1498.4,1454.5L1499.3,1462.7L1500.3,1452.3L1501.3,1463.8L1502.2,1467.6L1503.2,1467.2L1504.1,1473.7L1505.1,1466.6L1506.0,1467.3L1507.0,1473.5L1507.9,1476.5L1508.9,1479.7L1509.9,1476.8L1510.8,1457.8L1511.8,1456.0L1512.7,1465.4L1513.7,1472.1L1514.6,1463.4L1515.6,1467.5L1516.5,1466.3L1517.5,1460.1L1518.4,1467.3L1519.4,1483.9L1520.4,1479.6L1521.3,1481.3L1522.3,1475.9L1523.2,1479.8L1524.2,1470.4L1525.1,1469.0L1526.1,1476.3L1527.0,1479.6L1528.0,1473.9L1529.0,1473.7L1529.9,1463.7L1530.9,1463.0L1531.8,1477.5L1532.8,1476.1L1533.7,1473.2L1534.7,1468.8L1535.6,1465.6L1536.6,1454.6L1537.6,1466.5L1538.5,1456.1L1539.5,1456.7L1540.4,1454.6L1541.4,1452.8L1542.3,1455.3L1543.3,1463.9L1544.2,1449.8L1545.2,1457.4L1546.1,1455.5L1547.1,1448.2L1548.1,1444.4L1549.0,1451.3L1550.0,1447.4L1550.9,1462.3L1551.9,1467.2L1552.8,1465.0L1553.8,1474.3L1554.7,1466.0L1555.7,1479.7L1556.7,1486.6L1557.6,1485.6L1558.6,1484.4L1559.5,1485.3L1560.5,1479.7L1561.4,1469.8L1562.4,1478.4L1563.3,1477.6L1564.3,1478.4L1565.3,1477.4L1566.2,1489.0L1567.2,1489.6L1568.1,1478.1L1569.1,1480.5L1570.0,1480.8L1571.0,1483.3L1571.9,1473.5L1572.9,1485.6L1573.8,1476.1L1574.8,1476.5L1575.8,1465.3L1576.7,1473.2L1577.7,1473.7L1578.6,1471.6L1579.6,1462.8L1580.5,1467.1L1581.5,1474.3L1582.4,1467.1L1583.4,1481.5L1584.4,1473.1L1585.3,1481.9L1586.3,1480.9L1587.2,1484.4L1588.2,1487.2L1589.1,1479.1L1590.1,1485.0L1591.0,1486.1L1592.0,1474.5L1593.0,1483.4L1593.9,1468.2L1594.9,1480.6L1595.8,1469.9L1596.8,1475.8L1597.7,1478.5L1598.7,1467.0L1599.6,1473.1L1600.6,1479.5L1601.5,1474.6L1602.5,1463.8L1603.5,1465.8L1604.4,1471.9L1605.4,1467.5L1606.3,1477.9L1607.3,1464.2L1608.2,1472.6L1609.2,1468.9L1610.1,1472.8L1611.1,1471.1L1612.1,1470.5L1613.0,1478.6L1614.0,1474.2L1614.9,1469.4L1615.9,1481.1L1616.8,1482.0L1617.8,1475.9L1618.7,1479.2L1619.7,1475.4L1620.7,1474.8L1621.6,1477.2L1622.6,1482.8L1623.5,1489.0L1624.5,1488.5L1625.4,1494.9L1626.4,1496.7L1627.3,1498.4L1628.3,1500.1L1629.2,1495.1L1630.2,1494.7L1631.2,1493.0L1632.1,1489.4L1633.1,1477.3L1634.0,1482.9L1635.0,1472.1L1635.9,1479.0L1636.9,1469.6L1637.8,1484.3L1638.8,1475.3L1639.8,1471.8L1640.7,1483.0L1641.7,1475.0L1642.6,1470.1L1643.6,1464.2L1644.5,1456.7L1645.5,1454.7L1646.4,1461.9L1647.4,1452.8L1648.4,1457.7L1649.3,1463.0L1650.3,1453.7L1651.2,1457.9L1652.2,1449.2L1653.1,1449.0L1654.1,1448.9L1655.0,1453.0L1656.0,1452.8L1656.9,1454.9L1657.9,1451.8L1658.9,1451.7L1659.8,1458.8L1660.8,1446.9L1661.7,1457.9L1662.7,1463.9L1663.6,1469.9L1664.6,1473.7L1665.5,1475.5L1666.5,1469.0L1667.5,1477.5L1668.4,1479.2L1669.4,1483.8L1670.3,1481.4L1671.3,1489.1L1672.2,1495.3L1673.2,1502.9L1674.1,1503.6L1675.1,1502.7L1676.0,1512.7L1677.0,1507.0L1678.0,1511.1L1678.9,1506.3L1679.9,1512.7L1680.8,1506.3L1681.8,1501.3L1682.7,1499.3L1683.7,1499.5L1684.6,1497.0L1685.6,1503.8L1686.6,1504.3L1687.5,1503.4L1688.5,1505.6L1689.4,1510.0L1690.4,1505.5L1691.3,1494.5L1692.3,1499.0L1693.2,1488.8L1694.2,1494.0L1695.2,1498.6L1696.1,1498.4L1697.1,1501.9L1698.0,1496.5L1699.0,1489.4L1699.9,1498.0L1700.9,1500.8L1701.8,1491.3L1702.8,1514.9L1703.7,1517.9L1704.7,1525.6L1705.7,1522.7L1706.6,1515.5L1707.6,1519.1L1708.5,1515.0L1709.5,1519.3L1710.4,1521.1L1711.4,1520.1L1712.3,1529.1L1713.3,1522.3L1714.3,1519.6L1715.2,1518.0L1716.2,1518.2L1717.1,1519.7L1718.1,1515.3L1719.0,1511.1L1720.0,1508.8L1720.9,1513.8L1721.9,1521.2L1722.9,1523.2L1723.8,1528.1L1724.8,1535.7L1725.7,1528.9L1726.7,1523.7L1727.6,1508.7L1728.6,1509.0L1729.5,1492.3L1730.5,1492.2L1731.4,1481.9L1732.4,1479.2L1733.4,1484.5L1734.3,1479.1L1735.3,1484.7L1736.2,1486.9L1737.2,1488.6L1738.1,1485.0L1739.1,1491.3L1740.0,1482.1L1741.0,1486.3L1742.0,1479.9L1742.9,1480.5L1743.9,1479.7L1744.8,1473.2L1745.8,1474.7L1746.7,1465.9L1747.7,1462.8L1748.6,1465.1L1749.6,1464.2L1750.6,1461.9L1751.5,1467.8L1752.5,1477.0L1753.4,1470.1L1754.4,1480.5L1755.3,1474.7L1756.3,1472.6L1757.2,1486.2L1758.2,1494.5L1759.1,1495.4L1760.1,1498.7L1761.1,1494.6L1762.0,1487.3L1763.0,1488.2L1763.9,1490.1L1764.9,1490.1L1765.8,1504.3L1766.8,1511.4L1767.7,1522.5L1768.7,1523.5L1769.7,1516.3L1770.6,1516.3L1771.6,1524.0L1772.5,1521.7L1773.5,1526.4L1774.4,1540.6L1775.4,1534.3L1776.3,1531.1L1777.3,1537.8L1778.3,1538.0L1779.2,1535.8L1780.2,1543.7L1781.1,1546.4L1782.1,1532.2L1783.0,1529.1L1784.0,1530.2L1784.9,1530.6L1785.9,1522.1L1786.8,1527.1L1787.8,1532.5L1788.8,1527.0L1789.7,1513.6L1790.7,1515.9L1791.6,1520.2L1792.6,1534.3L1793.5,1542.4L1794.5,1533.3L1795.4,1529.2L1796.4,1521.1L1797.4,1517.2L1798.3,1515.1L1799.3,1505.4L1800.2,1498.3L1801.2,1502.1L1802.1,1502.9L1803.1,1499.9L1804.0,1501.0L1805.0,1496.1L1806.0,1497.8L1806.9,1498.6L1807.9,1494.6L1808.8,1514.5L1809.8,1508.1L1810.7,1501.9L1811.7,1496.0L1812.6,1506.5L1813.6,1502.9L1814.5,1511.8L1815.5,1506.6L1816.5,1503.3L1817.4,1500.4L1818.4,1492.3L1819.3,1483.2L1820.3,1489.6L1821.2,1474.0L1822.2,1483.2L1823.1,1481.1L1824.1,1490.6L1825.1,1485.9L1826.0,1487.8L1827.0,1498.1L1827.9,1495.5L1828.9,1492.4L1829.8,1505.3L1830.8,1496.4L1831.7,1495.2L1832.7,1490.3L1833.7,1490.8L1834.6,1497.0L1835.6,1488.0L1836.5,1490.3L1837.5,1493.1L1838.4,1491.9L1839.4,1496.6L1840.3,1483.6L1841.3,1496.1L1842.2,1494.1L1843.2,1495.4L1844.2,1510.1L1845.1,1499.4L1846.1,1504.1L1847.0,1494.9L1848.0,1491.8L1848.9,1489.3L1849.9,1489.5L1850.8,1495.0L1851.8,1494.5L1852.8,1500.1L1853.7,1491.7L1854.7,1480.9L1855.6,1496.0L1856.6,1492.6L1857.5,1484.2L1858.5,1493.7L1859.4,1486.3L1860.4,1485.0L1861.4,1503.9L1862.3,1515.7L1863.3,1510.2L1864.2,1502.6L1865.2,1512.6L1866.1,1516.2L1867.1,1511.9L1868.0,1508.5L1869.0,1524.0L1869.9,1521.2L1870.9,1508.4L1871.9,1506.5L1872.8,1516.3L1873.8,1517.5L1874.7,1529.9L1875.7,1530.8L1876.6,1535.7L1877.6,1526.9L1878.5,1525.0L1879.5,1520.2L1880.5,1519.3L1881.4,1520.2L1882.4,1526.5L1883.3,1530.0L1884.3,1525.8L1885.2,1529.2L1886.2,1537.0L1887.1,1531.0L1888.1,1530.7L1889.1,1521.4L1890.0,1530.9L1891.0,1524.5L1891.9,1529.5L1892.9,1522.9L1893.8,1521.7L1894.8,1528.0L1895.7,1523.5L1896.7,1528.5L1897.6,1524.4L1898.6,1525.9L1899.6,1520.2L1900.5,1523.5L1901.5,1526.4L1902.4,1523.8L1903.4,1521.5L1904.3,1511.6L1905.3,1526.7L1906.2,1513.3L1907.2,1515.1L1908.2,1509.6L1909.1,1503.2L1910.1,1501.9L1911.0,1507.7L1912.0,1503.4L1912.9,1499.0L1913.9,1501.1L1914.8,1504.0L1915.8,1503.9L1916.8,1499.1L1917.7,1498.9L1918.7,1500.9L1919.6,1485.7L1920.6,1482.4L1921.5,1482.5L1922.5,1486.0L1923.4,1485.2L1924.4,1504.0L1925.3,1482.2L1926.3,1488.0L1927.3,1493.8L1928.2,1469.2L1929.2,1465.4L1930.1,1454.0L1931.1,1467.4L1932.0,1473.4L1933.0,1474.4L1933.9,1470.3L1934.9,1476.2L1935.9,1471.8L1936.8,1462.8L1937.8,1455.8L1938.7,1454.7L1939.7,1464.0L1940.6,1462.0L1941.6,1451.0L1942.5,1450.4L1943.5,1445.1L1944.5,1440.3L1945.4,1437.0L1946.4,1442.7L1947.3,1448.9L1948.3,1454.7L1949.2,1456.6L1950.2,1459.0L1951.1,1455.7L1952.1,1454.1L1953.0,1448.7L1954.0,1452.7L1955.0,1467.5L1955.9,1461.1L1956.9,1467.2L1957.8,1455.6L1958.8,1456.1L1959.7,1447.5L1960.7,1450.8L1961.6,1440.7L1962.6,1445.0" fill="none" stroke="#aca7a9" stroke-width="3.2" stroke-linejoin="round"/>
<path d="M1389.5,1437.6L1390.5,1457.8L1391.4,1472.5L1392.4,1477.3L1393.3,1478.2L1394.3,1499.3L1395.2,1473.8L1396.2,1463.4L1397.1,1490.9L1398.1,1486.7L1399.1,1487.5L1400.0,1484.8L1401.0,1469.4L1401.9,1463.1L1402.9,1479.2L1403.8,1468.8L1404.8,1467.2L1405.7,1450.5L1406.7,1462.0L1407.6,1457.3L1408.6,1449.9L1409.6,1436.3L1410.5,1441.8L1411.5,1438.1L1412.4,1451.6L1413.4,1443.4L1414.3,1450.7L1415.3,1446.9L1416.2,1435.2L1417.2,1433.9L1418.2,1432.0L1419.1,1443.1L1420.1,1436.4L1421.0,1450.3L1422.0,1457.8L1422.9,1456.9L1423.9,1442.9L1424.8,1453.1L1425.8,1453.3L1426.8,1449.8L1427.7,1441.3L1428.7,1444.9L1429.6,1443.2L1430.6,1446.3L1431.5,1447.4L1432.5,1442.8L1433.4,1436.3L1434.4,1417.9L1435.3,1433.5L1436.3,1427.6L1437.3,1410.4L1438.2,1403.8L1439.2,1411.5L1440.1,1420.7L1441.1,1435.8L1442.0,1436.0L1443.0,1408.3L1443.9,1442.1L1444.9,1460.7L1445.9,1441.8L1446.8,1450.3L1447.8,1444.2L1448.7,1446.3L1449.7,1455.5L1450.6,1457.8L1451.6,1468.0L1452.5,1468.5L1453.5,1487.8L1454.5,1477.3L1455.4,1469.3L1456.4,1475.8L1457.3,1461.7L1458.3,1467.5L1459.2,1467.7L1460.2,1479.6L1461.1,1469.9L1462.1,1471.8L1463.0,1469.4L1464.0,1467.3L1465.0,1445.4L1465.9,1447.2L1466.9,1444.4L1467.8,1449.3L1468.8,1442.4L1469.7,1421.2L1470.7,1426.3L1471.6,1403.5L1472.6,1407.0L1473.6,1395.3L1474.5,1390.8L1475.5,1387.2L1476.4,1386.0L1477.4,1376.5L1478.3,1383.8L1479.3,1398.0L1480.2,1395.4L1481.2,1409.0L1482.2,1405.2L1483.1,1397.7L1484.1,1391.4L1485.0,1382.3L1486.0,1387.0L1486.9,1386.9L1487.9,1388.7L1488.8,1395.3L1489.8,1379.6L1490.7,1383.5L1491.7,1371.8L1492.7,1369.6L1493.6,1364.2L1494.6,1380.5L1495.5,1372.6L1496.5,1361.3L1497.4,1347.2L1498.4,1359.2L1499.3,1359.4L1500.3,1389.0L1501.3,1345.2L1502.2,1377.8L1503.2,1396.0L1504.1,1408.6L1505.1,1398.5L1506.0,1399.5L1507.0,1400.2L1507.9,1406.5L1508.9,1387.3L1509.9,1390.6L1510.8,1394.0L1511.8,1394.8L1512.7,1382.3L1513.7,1377.7L1514.6,1378.4L1515.6,1360.7L1516.5,1379.4L1517.5,1379.9L1518.4,1384.4L1519.4,1379.1L1520.4,1394.0L1521.3,1395.3L1522.3,1401.2L1523.2,1397.6L1524.2,1415.3L1525.1,1406.3L1526.1,1417.2L1527.0,1402.3L1528.0,1394.3L1529.0,1379.0L1529.9,1401.8L1530.9,1413.8L1531.8,1411.2L1532.8,1389.5L1533.7,1390.7L1534.7,1397.1L1535.6,1392.7L1536.6,1402.1L1537.6,1401.8L1538.5,1409.9L1539.5,1406.5L1540.4,1409.3L1541.4,1417.7L1542.3,1424.8L1543.3,1431.6L1544.2,1436.6L1545.2,1450.1L1546.1,1445.5L1547.1,1420.8L1548.1,1444.2L1549.0,1450.6L1550.0,1454.6L1550.9,1442.8L1551.9,1481.3L1552.8,1478.9L1553.8,1466.3L1554.7,1463.8L1555.7,1482.9L1556.7,1478.9L1557.6,1479.7L1558.6,1482.8L1559.5,1498.3L1560.5,1490.5L1561.4,1485.9L1562.4,1490.2L1563.3,1491.7L1564.3,1491.6L1565.3,1500.3L1566.2,1500.1L1567.2,1465.3L1568.1,1493.0L1569.1,1491.7L1570.0,1494.0L1571.0,1477.8L1571.9,1470.1L1572.9,1469.1L1573.8,1478.7L1574.8,1458.9L1575.8,1464.2L1576.7,1459.9L1577.7,1459.0L1578.6,1444.6L1579.6,1451.7L1580.5,1448.2L1581.5,1439.2L1582.4,1445.0L1583.4,1443.3L1584.4,1457.3L1585.3,1463.6L1586.3,1455.5L1587.2,1456.2L1588.2,1457.8L1589.1,1464.3L1590.1,1460.2L1591.0,1477.5L1592.0,1468.4L1593.0,1488.4L1593.9,1504.2L1594.9,1535.2L1595.8,1521.1L1596.8,1519.4L1597.7,1518.6L1598.7,1520.0L1599.6,1535.8L1600.6,1551.6L1601.5,1563.7L1602.5,1576.0L1603.5,1591.8L1604.4,1585.8L1605.4,1585.0L1606.3,1587.0L1607.3,1580.7L1608.2,1594.2L1609.2,1586.9L1610.1,1591.6L1611.1,1602.7L1612.1,1594.4L1613.0,1600.3L1614.0,1590.1L1614.9,1574.4L1615.9,1585.4L1616.8,1581.6L1617.8,1586.2L1618.7,1570.6L1619.7,1586.1L1620.7,1561.3L1621.6,1587.5L1622.6,1585.9L1623.5,1606.4L1624.5,1614.0L1625.4,1616.8L1626.4,1621.9L1627.3,1638.4L1628.3,1658.3L1629.2,1655.4L1630.2,1644.2L1631.2,1628.4L1632.1,1626.9L1633.1,1624.5L1634.0,1616.3L1635.0,1627.7L1635.9,1607.4L1636.9,1612.3L1637.8,1613.9L1638.8,1604.3L1639.8,1618.7L1640.7,1624.2L1641.7,1610.5L1642.6,1622.1L1643.6,1633.7L1644.5,1637.8L1645.5,1633.3L1646.4,1638.2L1647.4,1633.4L1648.4,1638.3L1649.3,1636.7L1650.3,1633.7L1651.2,1615.0L1652.2,1629.0L1653.1,1618.2L1654.1,1597.7L1655.0,1595.0L1656.0,1609.8L1656.9,1624.3L1657.9,1609.8L1658.9,1627.6L1659.8,1619.5L1660.8,1612.3L1661.7,1614.0L1662.7,1619.0L1663.6,1620.6L1664.6,1632.5L1665.5,1615.0L1666.5,1595.1L1667.5,1616.8L1668.4,1617.6L1669.4,1632.9L1670.3,1622.0L1671.3,1617.0L1672.2,1626.4L1673.2,1619.6L1674.1,1624.6L1675.1,1617.7L1676.0,1605.2L1677.0,1613.4L1678.0,1627.4L1678.9,1605.1L1679.9,1640.5L1680.8,1642.3L1681.8,1637.8L1682.7,1651.6L1683.7,1645.1L1684.6,1635.3L1685.6,1634.5L1686.6,1659.7L1687.5,1660.6L1688.5,1654.7L1689.4,1651.5L1690.4,1634.8L1691.3,1638.8L1692.3,1645.0L1693.2,1634.2L1694.2,1622.6L1695.2,1610.7L1696.1,1623.5L1697.1,1638.8L1698.0,1645.9L1699.0,1641.4L1699.9,1627.3L1700.9,1625.2L1701.8,1634.4L1702.8,1617.8L1703.7,1627.7L1704.7,1643.5L1705.7,1649.8L1706.6,1650.5L1707.6,1660.7L1708.5,1676.6L1709.5,1666.6L1710.4,1682.7L1711.4,1659.2L1712.3,1653.7L1713.3,1656.8L1714.3,1647.5L1715.2,1648.9L1716.2,1649.4L1717.1,1650.4L1718.1,1654.5L1719.0,1646.4L1720.0,1639.2L1720.9,1643.6L1721.9,1642.2L1722.9,1634.7L1723.8,1620.9L1724.8,1622.1L1725.7,1631.9L1726.7,1640.9L1727.6,1648.1L1728.6,1656.7L1729.5,1671.1L1730.5,1659.2L1731.4,1653.2L1732.4,1639.6L1733.4,1638.4L1734.3,1646.5L1735.3,1654.6L1736.2,1648.9L1737.2,1634.7L1738.1,1631.8L1739.1,1653.8L1740.0,1638.2L1741.0,1648.9L1742.0,1654.4L1742.9,1649.8L1743.9,1643.9L1744.8,1650.1L1745.8,1616.5L1746.7,1628.7L1747.7,1638.4L1748.6,1628.5L1749.6,1619.6L1750.6,1643.3L1751.5,1625.3L1752.5,1630.5L1753.4,1637.5L1754.4,1631.0L1755.3,1642.5L1756.3,1642.6L1757.2,1645.5L1758.2,1631.4L1759.1,1612.1L1760.1,1626.1L1761.1,1637.2L1762.0,1634.2L1763.0,1640.8L1763.9,1641.9L1764.9,1639.8L1765.8,1637.2L1766.8,1640.3L1767.7,1650.2L1768.7,1633.2L1769.7,1638.6L1770.6,1637.6L1771.6,1640.7L1772.5,1634.3L1773.5,1630.5L1774.4,1626.9L1775.4,1646.9L1776.3,1642.1L1777.3,1636.6L1778.3,1653.5L1779.2,1635.6L1780.2,1632.8L1781.1,1634.6L1782.1,1630.7L1783.0,1623.7L1784.0,1607.8L1784.9,1583.7L1785.9,1577.0L1786.8,1554.1L1787.8,1554.8L1788.8,1554.2L1789.7,1538.0L1790.7,1512.2L1791.6,1511.1L1792.6,1495.1L1793.5,1497.1L1794.5,1480.1L1795.4,1466.4L1796.4,1457.7L1797.4,1466.1L1798.3,1468.9L1799.3,1439.5L1800.2,1441.6L1801.2,1440.2L1802.1,1437.1L1803.1,1439.7L1804.0,1440.8L1805.0,1435.4L1806.0,1458.4L1806.9,1458.0L1807.9,1461.7L1808.8,1453.7L1809.8,1436.8L1810.7,1444.2L1811.7,1438.5L1812.6,1435.3L1813.6,1457.5L1814.5,1462.6L1815.5,1457.3L1816.5,1467.2L1817.4,1471.9L1818.4,1468.9L1819.3,1490.7L1820.3,1481.6L1821.2,1471.7L1822.2,1451.4L1823.1,1445.0L1824.1,1432.2L1825.1,1440.4L1826.0,1434.6L1827.0,1412.1L1827.9,1399.2L1828.9,1401.9L1829.8,1402.0L1830.8,1405.3L1831.7,1400.5L1832.7,1414.8L1833.7,1417.5L1834.6,1408.6L1835.6,1415.9L1836.5,1410.7L1837.5,1395.7L1838.4,1411.2L1839.4,1398.3L1840.3,1395.0L1841.3,1389.7L1842.2,1409.4L1843.2,1424.0L1844.2,1412.2L1845.1,1417.7L1846.1,1397.0L1847.0,1394.4L1848.0,1392.2L1848.9,1412.5L1849.9,1418.0L1850.8,1404.7L1851.8,1398.0L1852.8,1418.3L1853.7,1421.5L1854.7,1416.4L1855.6,1420.4L1856.6,1418.6L1857.5,1438.1L1858.5,1422.1L1859.4,1439.6L1860.4,1438.2L1861.4,1439.3L1862.3,1428.9L1863.3,1436.9L1864.2,1440.0L1865.2,1435.8L1866.1,1442.2L1867.1,1426.2L1868.0,1437.9L1869.0,1445.9L1869.9,1435.8L1870.9,1456.9L1871.9,1461.0L1872.8,1463.7L1873.8,1464.2L1874.7,1467.5L1875.7,1472.7L1876.6,1480.9L1877.6,1467.1L1878.5,1471.3L1879.5,1460.2L1880.5,1476.3L1881.4,1469.0L1882.4,1459.6L1883.3,1460.5L1884.3,1437.5L1885.2,1447.3L1886.2,1437.7L1887.1,1423.1L1888.1,1425.1L1889.1,1409.5L1890.0,1406.3L1891.0,1417.5L1891.9,1417.1L1892.9,1418.6L1893.8,1408.1L1894.8,1407.8L1895.7,1395.0L1896.7,1405.8L1897.6,1407.6L1898.6,1414.6L1899.6,1403.8L1900.5,1411.9L1901.5,1420.4L1902.4,1422.8L1903.4,1413.4L1904.3,1403.7L1905.3,1431.4L1906.2,1427.1L1907.2,1433.5L1908.2,1426.4L1909.1,1417.7L1910.1,1415.6L1911.0,1427.6L1912.0,1431.8L1912.9,1414.8L1913.9,1423.5L1914.8,1426.2L1915.8,1423.2L1916.8,1428.7L1917.7,1419.6L1918.7,1421.6L1919.6,1431.1L1920.6,1420.9L1921.5,1454.1L1922.5,1454.2L1923.4,1468.9L1924.4,1467.1L1925.3,1471.1L1926.3,1449.5L1927.3,1471.8L1928.2,1466.2L1929.2,1480.7L1930.1,1479.8L1931.1,1497.6L1932.0,1494.0L1933.0,1494.6L1933.9,1505.0L1934.9,1493.5L1935.9,1489.9L1936.8,1496.9L1937.8,1497.8L1938.7,1482.5L1939.7,1489.1L1940.6,1493.6L1941.6,1486.8L1942.5,1469.3L1943.5,1464.4L1944.5,1465.0L1945.4,1478.8L1946.4,1474.4L1947.3,1491.0L1948.3,1468.4L1949.2,1467.4L1950.2,1471.0L1951.1,1479.7L1952.1,1472.3L1953.0,1488.4L1954.0,1481.4L1955.0,1489.9L1955.9,1487.0L1956.9,1465.7L1957.8,1466.6L1958.8,1474.2L1959.7,1480.8L1960.7,1475.6L1961.6,1447.8L1962.6,1442.7L1962.6,1511.8L1961.6,1505.5L1960.7,1529.4L1959.7,1528.0L1958.8,1529.3L1957.8,1529.4L1956.9,1530.7L1955.9,1542.3L1955.0,1539.9L1954.0,1541.2L1953.0,1541.6L1952.1,1541.9L1951.1,1544.9L1950.2,1542.9L1949.2,1537.9L1948.3,1532.0L1947.3,1550.0L1946.4,1536.2L1945.4,1550.1L1944.5,1548.8L1943.5,1539.7L1942.5,1543.9L1941.6,1562.4L1940.6,1563.3L1939.7,1565.5L1938.7,1578.7L1937.8,1583.2L1936.8,1557.8L1935.9,1563.5L1934.9,1562.3L1933.9,1575.6L1933.0,1585.1L1932.0,1564.5L1931.1,1566.3L1930.1,1571.8L1929.2,1554.8L1928.2,1532.8L1927.3,1532.5L1926.3,1525.2L1925.3,1526.5L1924.4,1540.0L1923.4,1527.5L1922.5,1529.2L1921.5,1534.2L1920.6,1521.7L1919.6,1523.3L1918.7,1532.7L1917.7,1520.9L1916.8,1529.2L1915.8,1511.2L1914.8,1496.2L1913.9,1507.2L1912.9,1495.0L1912.0,1495.0L1911.0,1501.4L1910.1,1500.4L1909.1,1492.0L1908.2,1504.6L1907.2,1486.8L1906.2,1495.2L1905.3,1477.4L1904.3,1486.1L1903.4,1484.2L1902.4,1481.8L1901.5,1491.3L1900.5,1489.7L1899.6,1485.3L1898.6,1487.2L1897.6,1481.0L1896.7,1462.3L1895.7,1455.7L1894.8,1467.7L1893.8,1465.3L1892.9,1486.8L1891.9,1486.8L1891.0,1480.9L1890.0,1507.8L1889.1,1500.4L1888.1,1520.6L1887.1,1522.1L1886.2,1517.6L1885.2,1530.9L1884.3,1518.8L1883.3,1516.2L1882.4,1533.4L1881.4,1538.8L1880.5,1543.6L1879.5,1530.9L1878.5,1545.4L1877.6,1547.9L1876.6,1554.0L1875.7,1525.7L1874.7,1529.5L1873.8,1529.3L1872.8,1541.5L1871.9,1520.7L1870.9,1531.0L1869.9,1512.3L1869.0,1510.3L1868.0,1505.4L1867.1,1500.6L1866.1,1496.5L1865.2,1492.0L1864.2,1502.4L1863.3,1506.3L1862.3,1496.0L1861.4,1501.0L1860.4,1504.7L1859.4,1503.3L1858.5,1488.4L1857.5,1509.7L1856.6,1499.6L1855.6,1497.8L1854.7,1483.2L1853.7,1493.2L1852.8,1487.9L1851.8,1480.5L1850.8,1482.6L1849.9,1503.9L1848.9,1498.6L1848.0,1487.4L1847.0,1517.5L1846.1,1495.2L1845.1,1506.0L1844.2,1528.8L1843.2,1511.0L1842.2,1486.2L1841.3,1490.5L1840.3,1482.9L1839.4,1481.4L1838.4,1487.5L1837.5,1465.3L1836.5,1459.8L1835.6,1476.1L1834.6,1494.1L1833.7,1478.0L1832.7,1485.8L1831.7,1483.2L1830.8,1482.3L1829.8,1481.0L1828.9,1461.4L1827.9,1456.7L1827.0,1463.2L1826.0,1486.3L1825.1,1508.9L1824.1,1512.2L1823.1,1496.6L1822.2,1495.4L1821.2,1512.5L1820.3,1520.6L1819.3,1542.2L1818.4,1544.0L1817.4,1527.5L1816.5,1527.5L1815.5,1528.7L1814.5,1526.4L1813.6,1536.0L1812.6,1522.4L1811.7,1526.9L1810.7,1510.3L1809.8,1503.9L1808.8,1531.4L1807.9,1518.9L1806.9,1538.1L1806.0,1533.7L1805.0,1523.0L1804.0,1519.6L1803.1,1517.5L1802.1,1504.6L1801.2,1502.2L1800.2,1485.8L1799.3,1510.0L1798.3,1525.6L1797.4,1516.4L1796.4,1535.4L1795.4,1544.3L1794.5,1546.1L1793.5,1557.4L1792.6,1556.1L1791.6,1568.4L1790.7,1572.8L1789.7,1591.1L1788.8,1606.9L1787.8,1610.6L1786.8,1621.6L1785.9,1658.4L1784.9,1660.2L1784.0,1663.1L1783.0,1686.3L1782.1,1701.0L1781.1,1701.0L1780.2,1708.3L1779.2,1723.0L1778.3,1735.5L1777.3,1742.3L1776.3,1734.5L1775.4,1721.8L1774.4,1711.7L1773.5,1695.1L1772.5,1687.7L1771.6,1687.5L1770.6,1701.5L1769.7,1705.6L1768.7,1692.0L1767.7,1700.8L1766.8,1704.4L1765.8,1689.9L1764.9,1700.7L1763.9,1703.3L1763.0,1692.4L1762.0,1697.6L1761.1,1698.5L1760.1,1692.1L1759.1,1674.1L1758.2,1687.6L1757.2,1704.4L1756.3,1707.7L1755.3,1694.6L1754.4,1692.8L1753.4,1692.6L1752.5,1699.5L1751.5,1684.3L1750.6,1699.6L1749.6,1687.0L1748.6,1691.2L1747.7,1701.6L1746.7,1692.0L1745.8,1689.3L1744.8,1709.5L1743.9,1714.1L1742.9,1694.9L1742.0,1701.3L1741.0,1702.2L1740.0,1691.1L1739.1,1706.2L1738.1,1694.0L1737.2,1696.4L1736.2,1703.6L1735.3,1707.8L1734.3,1702.7L1733.4,1703.8L1732.4,1703.8L1731.4,1715.4L1730.5,1714.5L1729.5,1719.7L1728.6,1715.6L1727.6,1710.2L1726.7,1704.4L1725.7,1694.0L1724.8,1700.0L1723.8,1694.2L1722.9,1700.7L1721.9,1717.0L1720.9,1719.2L1720.0,1739.6L1719.0,1730.2L1718.1,1735.3L1717.1,1725.9L1716.2,1735.3L1715.2,1725.6L1714.3,1712.5L1713.3,1706.9L1712.3,1709.7L1711.4,1720.0L1710.4,1722.3L1709.5,1717.0L1708.5,1720.4L1707.6,1720.7L1706.6,1714.9L1705.7,1708.6L1704.7,1702.9L1703.7,1709.2L1702.8,1690.7L1701.8,1719.6L1700.9,1686.1L1699.9,1686.2L1699.0,1692.2L1698.0,1703.4L1697.1,1702.5L1696.1,1690.8L1695.2,1697.0L1694.2,1687.5L1693.2,1695.7L1692.3,1711.9L1691.3,1710.4L1690.4,1705.7L1689.4,1718.1L1688.5,1705.5L1687.5,1705.9L1686.6,1707.1L1685.6,1692.1L1684.6,1691.5L1683.7,1715.2L1682.7,1725.7L1681.8,1703.2L1680.8,1708.5L1679.9,1701.7L1678.9,1683.2L1678.0,1694.9L1677.0,1690.6L1676.0,1686.1L1675.1,1681.6L1674.1,1695.9L1673.2,1690.5L1672.2,1686.1L1671.3,1679.0L1670.3,1664.7L1669.4,1667.1L1668.4,1672.1L1667.5,1657.4L1666.5,1675.2L1665.5,1647.9L1664.6,1661.9L1663.6,1662.3L1662.7,1671.4L1661.7,1665.5L1660.8,1657.1L1659.8,1668.7L1658.9,1684.9L1657.9,1660.6L1656.9,1669.6L1656.0,1674.5L1655.0,1650.6L1654.1,1663.7L1653.1,1690.1L1652.2,1694.0L1651.2,1717.2L1650.3,1718.1L1649.3,1713.0L1648.4,1706.8L1647.4,1700.1L1646.4,1688.8L1645.5,1694.9L1644.5,1699.6L1643.6,1702.1L1642.6,1691.5L1641.7,1674.5L1640.7,1680.7L1639.8,1693.9L1638.8,1685.4L1637.8,1696.7L1636.9,1682.2L1635.9,1695.2L1635.0,1700.4L1634.0,1701.7L1633.1,1680.3L1632.1,1694.5L1631.2,1695.5L1630.2,1721.1L1629.2,1725.1L1628.3,1728.0L1627.3,1728.9L1626.4,1697.1L1625.4,1686.0L1624.5,1681.6L1623.5,1682.8L1622.6,1663.9L1621.6,1652.6L1620.7,1646.7L1619.7,1653.1L1618.7,1649.3L1617.8,1652.1L1616.8,1661.4L1615.9,1654.7L1614.9,1648.6L1614.0,1665.9L1613.0,1661.0L1612.1,1666.8L1611.1,1671.9L1610.1,1649.4L1609.2,1651.9L1608.2,1662.9L1607.3,1641.9L1606.3,1633.0L1605.4,1629.3L1604.4,1633.1L1603.5,1625.8L1602.5,1622.9L1601.5,1606.9L1600.6,1597.5L1599.6,1588.5L1598.7,1579.7L1597.7,1588.2L1596.8,1577.5L1595.8,1562.9L1594.9,1575.1L1593.9,1563.8L1593.0,1540.4L1592.0,1533.7L1591.0,1527.2L1590.1,1531.7L1589.1,1523.9L1588.2,1513.1L1587.2,1518.2L1586.3,1514.2L1585.3,1527.3L1584.4,1528.0L1583.4,1514.6L1582.4,1517.8L1581.5,1499.0L1580.5,1500.0L1579.6,1495.6L1578.6,1491.0L1577.7,1519.9L1576.7,1517.2L1575.8,1514.2L1574.8,1514.2L1573.8,1522.4L1572.9,1523.5L1571.9,1524.5L1571.0,1539.9L1570.0,1555.2L1569.1,1548.9L1568.1,1553.6L1567.2,1535.2L1566.2,1543.7L1565.3,1539.5L1564.3,1557.3L1563.3,1546.8L1562.4,1543.0L1561.4,1547.2L1560.5,1557.3L1559.5,1555.9L1558.6,1552.9L1557.6,1554.8L1556.7,1550.1L1555.7,1549.6L1554.7,1542.1L1553.8,1547.4L1552.8,1544.8L1551.9,1531.4L1550.9,1511.6L1550.0,1512.9L1549.0,1510.2L1548.1,1493.1L1547.1,1485.5L1546.1,1481.9L1545.2,1484.6L1544.2,1487.3L1543.3,1488.1L1542.3,1481.5L1541.4,1487.8L1540.4,1493.3L1539.5,1472.8L1538.5,1472.7L1537.6,1472.4L1536.6,1473.7L1535.6,1461.3L1534.7,1455.6L1533.7,1451.0L1532.8,1455.8L1531.8,1459.2L1530.9,1473.5L1529.9,1462.8L1529.0,1433.9L1528.0,1445.3L1527.0,1456.4L1526.1,1466.9L1525.1,1460.2L1524.2,1468.5L1523.2,1448.2L1522.3,1440.8L1521.3,1446.4L1520.4,1431.3L1519.4,1432.6L1518.4,1440.4L1517.5,1437.0L1516.5,1446.4L1515.6,1433.8L1514.6,1456.1L1513.7,1444.2L1512.7,1449.0L1511.8,1446.7L1510.8,1454.5L1509.9,1444.0L1508.9,1459.0L1507.9,1453.1L1507.0,1454.3L1506.0,1457.2L1505.1,1476.7L1504.1,1470.8L1503.2,1460.2L1502.2,1453.1L1501.3,1443.7L1500.3,1443.6L1499.3,1425.2L1498.4,1422.4L1497.4,1424.3L1496.5,1411.8L1495.5,1423.5L1494.6,1412.1L1493.6,1408.5L1492.7,1423.3L1491.7,1415.5L1490.7,1432.6L1489.8,1434.6L1488.8,1455.1L1487.9,1447.6L1486.9,1447.3L1486.0,1446.6L1485.0,1441.3L1484.1,1438.6L1483.1,1433.8L1482.2,1434.7L1481.2,1460.2L1480.2,1460.5L1479.3,1456.2L1478.3,1453.8L1477.4,1441.9L1476.4,1449.3L1475.5,1455.5L1474.5,1460.3L1473.6,1463.3L1472.6,1486.8L1471.6,1476.9L1470.7,1487.2L1469.7,1472.3L1468.8,1506.6L1467.8,1510.8L1466.9,1510.7L1465.9,1501.3L1465.0,1521.7L1464.0,1512.3L1463.0,1523.3L1462.1,1517.3L1461.1,1530.9L1460.2,1541.4L1459.2,1547.4L1458.3,1561.9L1457.3,1540.3L1456.4,1552.3L1455.4,1537.4L1454.5,1557.7L1453.5,1561.8L1452.5,1544.6L1451.6,1540.9L1450.6,1526.3L1449.7,1522.9L1448.7,1516.0L1447.8,1511.5L1446.8,1496.7L1445.9,1512.2L1444.9,1490.7L1443.9,1496.3L1443.0,1480.3L1442.0,1484.1L1441.1,1498.6L1440.1,1474.1L1439.2,1484.9L1438.2,1484.1L1437.3,1467.3L1436.3,1483.2L1435.3,1481.4L1434.4,1484.1L1433.4,1494.9L1432.5,1506.7L1431.5,1508.8L1430.6,1497.0L1429.6,1508.6L1428.7,1526.4L1427.7,1501.2L1426.8,1503.8L1425.8,1504.0L1424.8,1517.2L1423.9,1515.3L1422.9,1510.1L1422.0,1505.7L1421.0,1508.2L1420.1,1491.6L1419.1,1489.2L1418.2,1480.1L1417.2,1496.8L1416.2,1492.9L1415.3,1510.8L1414.3,1510.4L1413.4,1507.0L1412.4,1509.6L1411.5,1504.6L1410.5,1491.1L1409.6,1486.9L1408.6,1498.6L1407.6,1493.4L1406.7,1505.2L1405.7,1503.6L1404.8,1507.4L1403.8,1506.6L1402.9,1537.8L1401.9,1521.2L1401.0,1533.6L1400.0,1530.8L1399.1,1552.1L1398.1,1540.9L1397.1,1541.5L1396.2,1527.0L1395.2,1525.3L1394.3,1543.2L1393.3,1550.5L1392.4,1562.8L1391.4,1573.3L1390.5,1554.4L1389.5,1528.1Z" fill="#9db6e3" fill-opacity="0.3" stroke="#9db6e3" stroke-opacity="0.35" stroke-width="0.8"/>
<path d="M1389.5,1475.1L1390.5,1490.0L1391.4,1507.0L1392.4,1509.4L1393.3,1519.0L1394.3,1521.7L1395.2,1500.5L1396.2,1498.0L1397.1,1513.9L1398.1,1514.0L1399.1,1517.5L1400.0,1507.4L1401.0,1501.8L1401.9,1498.6L1402.9,1500.4L1403.8,1483.5L1404.8,1481.6L1405.7,1483.4L1406.7,1479.9L1407.6,1478.8L1408.6,1477.0L1409.6,1469.0L1410.5,1482.2L1411.5,1475.4L1412.4,1485.3L1413.4,1482.3L1414.3,1486.5L1415.3,1476.9L1416.2,1471.0L1417.2,1475.1L1418.2,1465.5L1419.1,1466.2L1420.1,1471.2L1421.0,1480.1L1422.0,1481.5L1422.9,1484.8L1423.9,1490.1L1424.8,1499.5L1425.8,1490.2L1426.8,1478.5L1427.7,1480.3L1428.7,1486.9L1429.6,1485.7L1430.6,1481.1L1431.5,1479.4L1432.5,1475.1L1433.4,1464.9L1434.4,1457.7L1435.3,1459.1L1436.3,1458.1L1437.3,1445.3L1438.2,1444.6L1439.2,1451.2L1440.1,1455.6L1441.1,1467.3L1442.0,1461.0L1443.0,1461.0L1443.9,1479.2L1444.9,1477.9L1445.9,1474.6L1446.8,1476.9L1447.8,1483.7L1448.7,1482.1L1449.7,1485.7L1450.6,1491.8L1451.6,1499.7L1452.5,1510.4L1453.5,1513.4L1454.5,1512.0L1455.4,1508.1L1456.4,1513.3L1457.3,1497.2L1458.3,1503.6L1459.2,1499.2L1460.2,1490.7L1461.1,1485.0L1462.1,1486.4L1463.0,1492.0L1464.0,1485.2L1465.0,1477.3L1465.9,1467.8L1466.9,1471.1L1467.8,1478.6L1468.8,1470.6L1469.7,1449.3L1470.7,1447.1L1471.6,1431.8L1472.6,1437.2L1473.6,1425.4L1474.5,1423.5L1475.5,1414.7L1476.4,1410.8L1477.4,1409.6L1478.3,1411.8L1479.3,1416.9L1480.2,1417.5L1481.2,1426.4L1482.2,1423.7L1483.1,1416.5L1484.1,1414.3L1485.0,1412.3L1486.0,1416.0L1486.9,1422.6L1487.9,1419.9L1488.8,1420.8L1489.8,1412.1L1490.7,1420.3L1491.7,1404.3L1492.7,1400.5L1493.6,1400.7L1494.6,1402.7L1495.5,1404.4L1496.5,1393.7L1497.4,1387.7L1498.4,1393.8L1499.3,1390.1L1500.3,1409.7L1501.3,1399.4L1502.2,1411.9L1503.2,1421.9L1504.1,1437.1L1505.1,1431.3L1506.0,1424.8L1507.0,1431.4L1507.9,1429.6L1508.9,1423.7L1509.9,1416.2L1510.8,1420.8L1511.8,1418.0L1512.7,1419.4L1513.7,1425.9L1514.6,1428.4L1515.6,1419.0L1516.5,1424.1L1517.5,1413.4L1518.4,1422.0L1519.4,1424.8L1520.4,1423.1L1521.3,1429.1L1522.3,1427.2L1523.2,1424.9L1524.2,1437.3L1525.1,1431.5L1526.1,1441.6L1527.0,1435.6L1528.0,1425.0L1529.0,1417.4L1529.9,1434.9L1530.9,1444.0L1531.8,1437.0L1532.8,1423.1L1533.7,1432.2L1534.7,1432.0L1535.6,1426.1L1536.6,1433.2L1537.6,1433.3L1538.5,1437.2L1539.5,1441.1L1540.4,1455.1L1541.4,1450.7L1542.3,1449.3L1543.3,1456.4L1544.2,1460.9L1545.2,1471.0L1546.1,1463.0L1547.1,1454.4L1548.1,1463.0L1549.0,1472.3L1550.0,1483.7L1550.9,1489.1L1551.9,1505.1L1552.8,1503.0L1553.8,1500.1L1554.7,1499.5L1555.7,1509.8L1556.7,1520.2L1557.6,1523.7L1558.6,1522.5L1559.5,1531.6L1560.5,1529.5L1561.4,1529.5L1562.4,1526.4L1563.3,1529.5L1564.3,1526.8L1565.3,1518.7L1566.2,1523.1L1567.2,1501.8L1568.1,1518.9L1569.1,1507.9L1570.0,1506.1L1571.0,1504.5L1571.9,1496.9L1572.9,1497.4L1573.8,1496.6L1574.8,1480.4L1575.8,1483.7L1576.7,1484.9L1577.7,1481.9L1578.6,1469.8L1579.6,1472.8L1580.5,1475.0L1581.5,1473.1L1582.4,1479.3L1583.4,1482.5L1584.4,1491.4L1585.3,1497.0L1586.3,1486.5L1587.2,1490.4L1588.2,1487.3L1589.1,1495.2L1590.1,1493.9L1591.0,1506.4L1592.0,1513.3L1593.0,1511.9L1593.9,1529.1L1594.9,1546.9L1595.8,1546.1L1596.8,1544.8L1597.7,1555.2L1598.7,1555.0L1599.6,1571.1L1600.6,1575.8L1601.5,1585.8L1602.5,1595.5L1603.5,1601.1L1604.4,1606.4L1605.4,1606.1L1606.3,1611.4L1607.3,1612.1L1608.2,1630.5L1609.2,1622.3L1610.1,1621.1L1611.1,1633.1L1612.1,1634.3L1613.0,1632.9L1614.0,1634.6L1614.9,1617.8L1615.9,1626.6L1616.8,1633.5L1617.8,1630.4L1618.7,1620.9L1619.7,1629.2L1620.7,1617.3L1621.6,1634.3L1622.6,1644.7L1623.5,1649.5L1624.5,1654.2L1625.4,1652.1L1626.4,1657.4L1627.3,1674.8L1628.3,1684.9L1629.2,1678.2L1630.2,1671.2L1631.2,1659.6L1632.1,1652.2L1633.1,1647.0L1634.0,1646.0L1635.0,1653.2L1635.9,1644.3L1636.9,1649.9L1637.8,1657.8L1638.8,1654.5L1639.8,1651.3L1640.7,1647.6L1641.7,1648.5L1642.6,1666.3L1643.6,1672.4L1644.5,1670.9L1645.5,1676.8L1646.4,1675.4L1647.4,1669.8L1648.4,1674.3L1649.3,1675.1L1650.3,1670.4L1651.2,1663.8L1652.2,1663.6L1653.1,1652.4L1654.1,1640.3L1655.0,1635.9L1656.0,1645.6L1656.9,1649.2L1657.9,1637.2L1658.9,1646.0L1659.8,1640.7L1660.8,1632.4L1661.7,1629.6L1662.7,1633.8L1663.6,1639.9L1664.6,1640.3L1665.5,1635.5L1666.5,1637.9L1667.5,1639.5L1668.4,1640.6L1669.4,1650.6L1670.3,1644.1L1671.3,1647.8L1672.2,1645.2L1673.2,1648.8L1674.1,1656.3L1675.1,1646.3L1676.0,1646.2L1677.0,1653.7L1678.0,1654.6L1678.9,1649.1L1679.9,1666.4L1680.8,1678.2L1681.8,1676.6L1682.7,1684.7L1683.7,1678.0L1684.6,1673.5L1685.6,1675.4L1686.6,1691.7L1687.5,1687.8L1688.5,1682.0L1689.4,1682.0L1690.4,1676.6L1691.3,1681.2L1692.3,1673.5L1693.2,1661.3L1694.2,1659.4L1695.2,1670.5L1696.1,1666.6L1697.1,1673.9L1698.0,1670.8L1699.0,1671.7L1699.9,1660.7L1700.9,1667.4L1701.8,1674.5L1702.8,1656.2L1703.7,1661.2L1704.7,1669.6L1705.7,1675.7L1706.6,1677.0L1707.6,1691.3L1708.5,1694.6L1709.5,1692.1L1710.4,1698.4L1711.4,1692.9L1712.3,1681.3L1713.3,1684.6L1714.3,1679.3L1715.2,1685.5L1716.2,1692.1L1717.1,1691.2L1718.1,1687.0L1719.0,1677.3L1720.0,1679.9L1720.9,1672.4L1721.9,1675.8L1722.9,1676.4L1723.8,1673.8L1724.8,1669.2L1725.7,1670.6L1726.7,1681.0L1727.6,1684.6L1728.6,1689.2L1729.5,1694.4L1730.5,1686.2L1731.4,1688.5L1732.4,1679.8L1733.4,1677.3L1734.3,1675.9L1735.3,1679.8L1736.2,1680.0L1737.2,1666.9L1738.1,1670.4L1739.1,1677.9L1740.0,1672.3L1741.0,1682.6L1742.0,1684.5L1742.9,1674.1L1743.9,1679.8L1744.8,1678.5L1745.8,1663.7L1746.7,1667.8L1747.7,1669.0L1748.6,1663.3L1749.6,1665.2L1750.6,1675.1L1751.5,1661.8L1752.5,1667.6L1753.4,1666.8L1754.4,1667.2L1755.3,1661.0L1756.3,1672.7L1757.2,1667.9L1758.2,1662.8L1759.1,1650.5L1760.1,1662.2L1761.1,1668.8L1762.0,1668.1L1763.0,1667.6L1763.9,1671.4L1764.9,1669.5L1765.8,1665.7L1766.8,1674.3L1767.7,1675.0L1768.7,1671.6L1769.7,1679.4L1770.6,1675.0L1771.6,1659.4L1772.5,1658.2L1773.5,1663.8L1774.4,1673.3L1775.4,1672.9L1776.3,1687.7L1777.3,1686.9L1778.3,1693.7L1779.2,1676.5L1780.2,1666.5L1781.1,1667.1L1782.1,1658.1L1783.0,1645.5L1784.0,1633.3L1784.9,1625.5L1785.9,1609.6L1786.8,1591.3L1787.8,1590.0L1788.8,1576.8L1789.7,1563.0L1790.7,1537.7L1791.6,1538.2L1792.6,1527.3L1793.5,1521.9L1794.5,1506.0L1795.4,1497.3L1796.4,1487.3L1797.4,1487.8L1798.3,1484.5L1799.3,1472.4L1800.2,1465.8L1801.2,1463.6L1802.1,1468.3L1803.1,1472.3L1804.0,1486.9L1805.0,1488.7L1806.0,1499.0L1806.9,1500.9L1807.9,1497.5L1808.8,1490.9L1809.8,1485.3L1810.7,1487.2L1811.7,1493.9L1812.6,1492.3L1813.6,1500.6L1814.5,1503.7L1815.5,1503.0L1816.5,1500.6L1817.4,1501.1L1818.4,1508.9L1819.3,1504.1L1820.3,1490.7L1821.2,1482.3L1822.2,1475.2L1823.1,1472.9L1824.1,1471.3L1825.1,1468.6L1826.0,1461.2L1827.0,1442.1L1827.9,1437.3L1828.9,1433.3L1829.8,1437.4L1830.8,1436.1L1831.7,1434.0L1832.7,1447.3L1833.7,1446.4L1834.6,1440.1L1835.6,1440.1L1836.5,1435.0L1837.5,1439.9L1838.4,1448.8L1839.4,1440.7L1840.3,1448.2L1841.3,1446.0L1842.2,1449.7L1843.2,1465.1L1844.2,1464.1L1845.1,1461.2L1846.1,1453.0L1847.0,1452.2L1848.0,1449.5L1848.9,1457.7L1849.9,1452.4L1850.8,1445.7L1851.8,1448.0L1852.8,1454.9L1853.7,1447.5L1854.7,1451.4L1855.6,1453.2L1856.6,1457.4L1857.5,1465.8L1858.5,1454.0L1859.4,1469.2L1860.4,1472.2L1861.4,1467.3L1862.3,1464.8L1863.3,1464.5L1864.2,1473.3L1865.2,1474.4L1866.1,1475.5L1867.1,1471.6L1868.0,1478.6L1869.0,1483.4L1869.9,1484.3L1870.9,1487.0L1871.9,1487.9L1872.8,1493.1L1873.8,1494.6L1874.7,1490.8L1875.7,1491.5L1876.6,1505.4L1877.6,1503.7L1878.5,1505.2L1879.5,1501.1L1880.5,1508.2L1881.4,1504.6L1882.4,1500.3L1883.3,1490.8L1884.3,1484.8L1885.2,1486.6L1886.2,1481.0L1887.1,1478.0L1888.1,1475.0L1889.1,1464.3L1890.0,1462.7L1891.0,1451.1L1891.9,1451.0L1892.9,1450.6L1893.8,1438.6L1894.8,1437.4L1895.7,1422.5L1896.7,1421.0L1897.6,1427.0L1898.6,1438.8L1899.6,1437.1L1900.5,1441.6L1901.5,1442.7L1902.4,1448.6L1903.4,1443.9L1904.3,1445.7L1905.3,1453.2L1906.2,1456.5L1907.2,1455.4L1908.2,1459.3L1909.1,1455.6L1910.1,1453.3L1911.0,1460.5L1912.0,1463.9L1912.9,1463.9L1913.9,1466.5L1914.8,1473.4L1915.8,1475.6L1916.8,1477.9L1917.7,1471.2L1918.7,1476.5L1919.6,1480.3L1920.6,1475.1L1921.5,1487.4L1922.5,1495.6L1923.4,1501.1L1924.4,1500.5L1925.3,1500.7L1926.3,1499.9L1927.3,1502.1L1928.2,1504.1L1929.2,1518.4L1930.1,1528.4L1931.1,1533.2L1932.0,1531.9L1933.0,1529.0L1933.9,1539.2L1934.9,1534.3L1935.9,1536.1L1936.8,1535.6L1937.8,1534.7L1938.7,1532.7L1939.7,1529.9L1940.6,1527.3L1941.6,1527.4L1942.5,1513.4L1943.5,1511.3L1944.5,1509.1L1945.4,1514.5L1946.4,1508.7L1947.3,1515.7L1948.3,1506.0L1949.2,1506.8L1950.2,1510.7L1951.1,1513.5L1952.1,1507.3L1953.0,1519.7L1954.0,1521.3L1955.0,1514.3L1955.9,1513.3L1956.9,1496.2L1957.8,1494.2L1958.8,1494.1L1959.7,1488.6L1960.7,1483.4L1961.6,1467.7L1962.6,1476.5" fill="none" stroke="#3a80c2" stroke-width="2.6" stroke-linejoin="round"/>
<line x1="1389.5" y1="1462.8" x2="1962.6" y2="1462.8" stroke="#000" stroke-width="1.8"/>
<line x1="1389.5" y1="1267.8" x2="1389.5" y2="1723.8" stroke="#000" stroke-width="2"/>
<line x1="1388.5" y1="1722.8" x2="1963.6" y2="1722.8" stroke="#000" stroke-width="2"/>
<line x1="1383.5" y1="1332.8" x2="1389.5" y2="1332.8" stroke="#000" stroke-width="1.8"/>
<line x1="1383.5" y1="1462.8" x2="1389.5" y2="1462.8" stroke="#000" stroke-width="1.8"/>
<line x1="1383.5" y1="1592.8" x2="1389.5" y2="1592.8" stroke="#000" stroke-width="1.8"/>
<line x1="1383.5" y1="1722.8" x2="1389.5" y2="1722.8" stroke="#000" stroke-width="1.8"/>
<line x1="1389.5" y1="1722.8" x2="1389.5" y2="1729.8" stroke="#000" stroke-width="1.8"/>
<line x1="1580.5" y1="1722.8" x2="1580.5" y2="1729.8" stroke="#000" stroke-width="1.8"/>
<line x1="1771.6" y1="1722.8" x2="1771.6" y2="1729.8" stroke="#000" stroke-width="1.8"/>
<line x1="1962.6" y1="1722.8" x2="1962.6" y2="1729.8" stroke="#000" stroke-width="1.8"/>
<text x="108.0" y="1866.0" font-size="59" font-weight="bold" fill="#231f20">I</text>
<text x="407.0" y="1897.9" font-size="42" text-anchor="middle" fill="#231f20" textLength="213" lengthAdjust="spacingAndGlyphs">1.0mM ATR</text>
<rect x="313.3" y="1897.0" width="190.3" height="455.0" fill="#d9eedd"/>
<path d="M123.0,2092.2L124.0,2062.0L124.9,2027.0L125.9,2072.8L126.8,2122.8L127.8,2124.8L128.7,2093.6L129.7,2086.1L130.6,2077.0L131.6,2086.2L132.5,2084.7L133.5,2047.1L134.4,2037.3L135.4,2051.4L136.3,2058.4L137.3,2034.3L138.2,2034.6L139.2,2056.0L140.1,2054.0L141.1,2049.7L142.0,2031.4L143.0,2015.1L143.9,2031.9L144.9,1999.8L145.8,2021.2L146.8,2020.3L147.7,2028.3L148.7,2046.5L149.6,2023.2L150.6,2027.5L151.6,2024.0L152.5,2018.9L153.5,2031.6L154.4,2021.1L155.4,2023.8L156.3,2018.6L157.3,2039.4L158.2,2024.9L159.2,2041.6L160.1,2046.2L161.1,2040.6L162.0,2023.1L163.0,2033.6L163.9,2038.9L164.9,2027.8L165.8,2025.0L166.8,2021.0L167.7,2035.2L168.7,2023.7L169.6,1994.0L170.6,2010.8L171.5,2033.6L172.5,2035.4L173.4,2039.2L174.4,2036.0L175.3,2051.9L176.3,2042.9L177.2,2038.4L178.2,2047.2L179.1,2043.1L180.1,2034.7L181.1,2041.0L182.0,2048.7L183.0,2046.7L183.9,2057.6L184.9,2052.7L185.8,2067.2L186.8,2055.9L187.7,2051.5L188.7,2044.4L189.6,2068.1L190.6,2058.6L191.5,2049.9L192.5,2053.0L193.4,2055.2L194.4,2048.5L195.3,2047.8L196.3,2050.4L197.2,2075.7L198.2,2073.2L199.1,2068.7L200.1,2066.0L201.0,2092.3L202.0,2080.0L202.9,2066.3L203.9,2082.9L204.8,2066.7L205.8,2065.5L206.7,2047.2L207.7,2039.3L208.6,2044.6L209.6,2041.1L210.6,2039.6L211.5,2039.3L212.5,2023.0L213.4,2019.8L214.4,2028.2L215.3,2029.1L216.3,2030.9L217.2,2031.6L218.2,2016.6L219.1,2027.7L220.1,2036.3L221.0,2050.3L222.0,2054.5L222.9,2050.0L223.9,2056.5L224.8,2071.4L225.8,2049.9L226.7,2053.4L227.7,2056.7L228.6,2054.0L229.6,2085.8L230.5,2073.2L231.5,2073.8L232.4,2074.2L233.4,2063.8L234.3,2059.7L235.3,2072.3L236.2,2081.2L237.2,2058.9L238.2,2068.4L239.1,2073.3L240.1,2069.0L241.0,2065.9L242.0,2063.2L242.9,2074.2L243.9,2061.2L244.8,2068.7L245.8,2059.4L246.7,2078.1L247.7,2083.5L248.6,2076.4L249.6,2079.7L250.5,2077.1L251.5,2067.4L252.4,2049.0L253.4,2055.5L254.3,2044.3L255.3,2042.3L256.2,2033.7L257.2,2017.1L258.1,2031.5L259.1,2027.6L260.0,2021.5L261.0,2020.3L261.9,2009.5L262.9,2013.4L263.8,2012.1L264.8,2012.3L265.8,2016.2L266.7,2000.1L267.7,2007.6L268.6,2014.4L269.6,2031.8L270.5,2047.1L271.5,2044.5L272.4,2058.1L273.4,2036.8L274.3,2053.0L275.3,2060.9L276.2,2041.7L277.2,2050.1L278.1,2041.7L279.1,2044.4L280.0,2058.4L281.0,2048.3L281.9,2066.2L282.9,2056.0L283.8,2072.7L284.8,2081.9L285.7,2063.6L286.7,2076.4L287.6,2080.2L288.6,2072.3L289.5,2073.1L290.5,2066.5L291.4,2061.4L292.4,2047.6L293.3,2058.4L294.3,2052.2L295.3,2065.6L296.2,2056.1L297.2,2077.1L298.1,2059.9L299.1,2043.0L300.0,2033.9L301.0,2041.3L301.9,2031.7L302.9,2037.6L303.8,2033.7L304.8,2017.4L305.7,2023.6L306.7,2056.3L307.6,2033.7L308.6,2012.6L309.5,2015.3L310.5,2021.0L311.4,2028.4L312.4,2049.5L313.3,2058.8L314.3,2047.0L315.2,2021.7L316.2,2027.2L317.1,2027.6L318.1,2017.6L319.0,2019.6L320.0,2014.9L320.9,2022.1L321.9,2017.8L322.9,2015.7L323.8,2045.5L324.8,2044.2L325.7,2026.6L326.7,2034.1L327.6,2038.0L328.6,2057.3L329.5,2072.6L330.5,2086.5L331.4,2085.5L332.4,2087.8L333.3,2096.5L334.3,2094.6L335.2,2081.6L336.2,2088.8L337.1,2084.4L338.1,2073.6L339.0,2080.4L340.0,2093.2L340.9,2095.2L341.9,2101.6L342.8,2094.1L343.8,2135.1L344.7,2118.7L345.7,2122.8L346.6,2112.0L347.6,2105.9L348.5,2099.1L349.5,2094.7L350.4,2103.8L351.4,2084.8L352.4,2083.2L353.3,2093.9L354.3,2079.0L355.2,2094.8L356.2,2109.0L357.1,2089.7L358.1,2100.0L359.0,2083.6L360.0,2085.2L360.9,2090.1L361.9,2087.8L362.8,2087.0L363.8,2085.1L364.7,2073.3L365.7,2062.0L366.6,2075.3L367.6,2060.1L368.5,2068.5L369.5,2066.6L370.4,2065.4L371.4,2055.6L372.3,2067.8L373.3,2069.5L374.2,2064.9L375.2,2078.1L376.1,2073.3L377.1,2069.0L378.0,2052.2L379.0,2058.9L379.9,2070.1L380.9,2066.6L381.9,2055.2L382.8,2054.9L383.8,2049.6L384.7,2061.2L385.7,2084.5L386.6,2056.2L387.6,2064.7L388.5,2073.0L389.5,2082.1L390.4,2092.0L391.4,2075.1L392.3,2067.3L393.3,2075.7L394.2,2080.5L395.2,2058.3L396.1,2057.5L397.1,2056.9L398.0,2069.7L399.0,2059.9L399.9,2065.3L400.9,2061.6L401.8,2066.2L402.8,2065.1L403.7,2082.2L404.7,2100.5L405.6,2090.3L406.6,2092.9L407.5,2094.9L408.5,2104.7L409.5,2102.1L410.4,2096.2L411.4,2098.7L412.3,2101.1L413.3,2103.3L414.2,2091.6L415.2,2094.3L416.1,2092.4L417.1,2096.8L418.0,2095.7L419.0,2083.9L419.9,2082.5L420.9,2084.7L421.8,2077.8L422.8,2087.1L423.7,2090.9L424.7,2087.7L425.6,2073.4L426.6,2081.6L427.5,2069.0L428.5,2058.3L429.4,2054.9L430.4,2053.2L431.3,2062.0L432.3,2057.2L433.2,2076.6L434.2,2075.2L435.1,2067.0L436.1,2067.8L437.1,2058.8L438.0,2041.3L439.0,2036.5L439.9,2032.7L440.9,2027.7L441.8,2015.8L442.8,1994.8L443.7,2027.7L444.7,2031.4L445.6,2024.8L446.6,2025.1L447.5,2017.4L448.5,1993.6L449.4,1994.4L450.4,2002.4L451.3,2009.6L452.3,2028.1L453.2,2027.8L454.2,2032.0L455.1,2018.7L456.1,2044.9L457.0,2044.5L458.0,2023.5L458.9,2036.9L459.9,2031.9L460.8,2055.9L461.8,2062.2L462.7,2066.3L463.7,2066.9L464.6,2057.3L465.6,2043.6L466.6,2061.5L467.5,2059.3L468.5,2085.2L469.4,2087.3L470.4,2103.3L471.3,2085.1L472.3,2084.5L473.2,2094.7L474.2,2093.2L475.1,2077.9L476.1,2081.3L477.0,2096.8L478.0,2084.5L478.9,2074.2L479.9,2086.0L480.8,2072.6L481.8,2056.0L482.7,2080.1L483.7,2075.1L484.6,2082.3L485.6,2075.1L486.5,2094.0L487.5,2101.3L488.4,2096.4L489.4,2096.7L490.3,2090.8L491.3,2098.6L492.2,2108.2L493.2,2120.1L494.2,2109.4L495.1,2114.9L496.1,2094.2L497.0,2085.7L498.0,2074.3L498.9,2083.1L499.9,2100.8L500.8,2098.0L501.8,2090.6L502.7,2101.3L503.7,2111.7L504.6,2109.1L505.6,2098.7L506.5,2103.8L507.5,2091.3L508.4,2079.5L509.4,2049.5L510.3,2058.8L511.3,2073.4L512.2,2057.4L513.2,2054.5L514.1,2063.6L515.1,2078.4L516.0,2084.8L517.0,2094.1L517.9,2074.8L518.9,2093.8L519.8,2102.7L520.8,2100.5L521.7,2120.1L522.7,2131.7L523.7,2138.5L524.6,2141.8L525.6,2150.2L526.5,2132.3L527.5,2160.5L528.4,2149.6L529.4,2164.5L530.3,2164.0L531.3,2155.1L532.2,2153.3L533.2,2144.4L534.1,2123.2L535.1,2133.4L536.0,2112.6L537.0,2111.5L537.9,2101.4L538.9,2106.6L539.8,2076.8L540.8,2065.0L541.7,2076.3L542.7,2069.3L543.6,2092.3L544.6,2063.6L545.5,2061.0L546.5,2069.9L547.4,2074.5L548.4,2074.1L549.3,2061.7L550.3,2064.3L551.2,2085.0L552.2,2088.8L553.2,2100.5L554.1,2106.7L555.1,2096.1L556.0,2070.2L557.0,2093.3L557.9,2073.0L558.9,2080.6L559.8,2077.4L560.8,2084.7L561.7,2077.1L562.7,2087.5L563.6,2074.0L564.6,2077.2L565.5,2082.9L566.5,2068.5L567.4,2078.3L568.4,2055.8L569.3,2055.9L570.3,2088.7L571.2,2081.8L572.2,2093.2L573.1,2086.4L574.1,2096.9L575.0,2087.0L576.0,2095.5L576.9,2093.4L577.9,2104.4L578.8,2078.8L579.8,2092.2L580.8,2097.1L581.7,2097.5L582.7,2078.5L583.6,2093.4L584.6,2094.4L585.5,2075.0L586.5,2078.7L587.4,2077.5L588.4,2075.6L589.3,2080.0L590.3,2083.1L591.2,2085.7L592.2,2094.8L593.1,2071.0L594.1,2069.3L595.0,2058.9L596.0,2051.4L596.9,2067.9L597.9,2081.6L598.8,2090.4L599.8,2094.0L600.7,2067.2L601.7,2059.6L602.6,2069.6L603.6,2079.2L604.5,2081.7L605.5,2075.1L606.4,2062.1L607.4,2071.9L608.3,2073.8L609.3,2101.3L610.3,2084.3L611.2,2086.0L612.2,2084.5L613.1,2074.8L614.1,2075.8L615.0,2086.5L616.0,2063.3L616.9,2079.4L617.9,2075.7L618.8,2087.9L619.8,2068.0L620.7,2079.5L621.7,2103.0L622.6,2102.3L623.6,2100.5L624.5,2115.9L625.5,2105.8L626.4,2110.3L627.4,2105.4L628.3,2131.5L629.3,2121.2L630.2,2124.1L631.2,2114.4L632.1,2111.1L633.1,2110.0L634.0,2109.3L635.0,2115.9L635.9,2100.2L636.9,2097.6L637.9,2107.9L638.8,2086.4L639.8,2093.5L640.7,2088.9L641.7,2080.9L642.6,2073.8L643.6,2079.6L644.5,2078.7L645.5,2087.5L646.4,2081.0L647.4,2063.2L648.3,2052.5L649.3,2051.8L650.2,2055.3L651.2,2049.6L652.1,2049.0L653.1,2024.9L654.0,2049.6L655.0,2043.3L655.9,2024.3L656.9,2046.5L657.8,2050.1L658.8,2047.4L659.7,2042.6L660.7,2040.8L661.6,2056.7L662.6,2040.5L663.5,2009.9L664.5,2043.7L665.4,2051.4L666.4,2054.4L667.4,2050.0L668.3,2049.3L669.3,2054.0L670.2,2025.9L671.2,2022.6L672.1,2029.9L673.1,2053.1L674.0,2030.4L675.0,2047.0L675.9,2021.5L676.9,2021.6L677.8,2022.1L678.8,2024.2L679.7,2012.9L680.7,2025.7L681.6,2030.7L682.6,2034.4L683.5,2027.1L684.5,2027.5L685.4,2022.6L686.4,2022.8L687.3,2036.4L688.3,2048.7L689.2,2022.6L690.2,2030.6L691.1,2014.5L692.1,2046.1L693.0,2027.5L694.0,2013.9L694.0,2093.2L693.0,2090.4L692.1,2107.3L691.1,2095.1L690.2,2109.7L689.2,2107.5L688.3,2116.9L687.3,2092.8L686.4,2077.3L685.4,2095.8L684.5,2111.6L683.5,2101.1L682.6,2093.4L681.6,2089.7L680.7,2098.2L679.7,2101.0L678.8,2112.4L677.8,2106.3L676.9,2123.8L675.9,2130.7L675.0,2109.1L674.0,2096.2L673.1,2123.7L672.1,2106.4L671.2,2111.4L670.2,2113.6L669.3,2123.0L668.3,2108.7L667.4,2113.9L666.4,2110.1L665.4,2120.4L664.5,2108.9L663.5,2091.6L662.6,2106.8L661.6,2113.6L660.7,2117.9L659.7,2111.3L658.8,2114.4L657.8,2117.2L656.9,2118.3L655.9,2126.2L655.0,2120.0L654.0,2119.5L653.1,2111.3L652.1,2121.5L651.2,2142.9L650.2,2137.2L649.3,2137.7L648.3,2133.5L647.4,2140.9L646.4,2162.6L645.5,2173.4L644.5,2163.9L643.6,2171.9L642.6,2169.5L641.7,2182.9L640.7,2165.1L639.8,2161.1L638.8,2182.6L637.9,2187.1L636.9,2187.0L635.9,2186.0L635.0,2193.5L634.0,2183.7L633.1,2178.1L632.1,2177.9L631.2,2191.6L630.2,2198.2L629.3,2187.2L628.3,2180.5L627.4,2174.1L626.4,2184.9L625.5,2182.7L624.5,2172.2L623.6,2169.4L622.6,2158.9L621.7,2178.1L620.7,2152.3L619.8,2164.7L618.8,2174.4L617.9,2157.3L616.9,2169.9L616.0,2154.0L615.0,2161.5L614.1,2150.6L613.1,2152.7L612.2,2156.3L611.2,2144.1L610.3,2156.2L609.3,2160.7L608.3,2149.7L607.4,2164.4L606.4,2152.2L605.5,2149.7L604.5,2151.1L603.6,2165.9L602.6,2174.1L601.7,2149.0L600.7,2139.3L599.8,2169.3L598.8,2155.5L597.9,2151.8L596.9,2140.1L596.0,2144.3L595.0,2132.8L594.1,2144.8L593.1,2161.3L592.2,2170.8L591.2,2189.0L590.3,2170.0L589.3,2170.4L588.4,2159.4L587.4,2161.1L586.5,2157.0L585.5,2161.4L584.6,2160.0L583.6,2163.7L582.7,2158.1L581.7,2176.5L580.8,2163.2L579.8,2169.4L578.8,2156.8L577.9,2161.4L576.9,2158.7L576.0,2153.4L575.0,2157.0L574.1,2164.1L573.1,2150.3L572.2,2161.0L571.2,2150.3L570.3,2146.9L569.3,2130.6L568.4,2120.0L567.4,2162.8L566.5,2157.7L565.5,2162.2L564.6,2151.3L563.6,2151.0L562.7,2154.4L561.7,2160.4L560.8,2154.2L559.8,2152.4L558.9,2134.4L557.9,2133.5L557.0,2138.6L556.0,2144.1L555.1,2164.5L554.1,2163.9L553.2,2174.9L552.2,2146.0L551.2,2143.2L550.3,2126.4L549.3,2139.4L548.4,2125.4L547.4,2141.2L546.5,2134.3L545.5,2147.8L544.6,2155.3L543.6,2154.8L542.7,2139.6L541.7,2146.3L540.8,2145.6L539.8,2157.0L538.9,2181.4L537.9,2186.6L537.0,2196.0L536.0,2195.9L535.1,2207.4L534.1,2214.2L533.2,2207.9L532.2,2221.2L531.3,2218.5L530.3,2219.9L529.4,2215.6L528.4,2215.9L527.5,2223.2L526.5,2204.4L525.6,2230.1L524.6,2229.6L523.7,2233.2L522.7,2203.7L521.7,2207.7L520.8,2189.1L519.8,2179.0L518.9,2165.6L517.9,2165.7L517.0,2166.8L516.0,2164.6L515.1,2145.3L514.1,2132.9L513.2,2135.1L512.2,2130.6L511.3,2151.3L510.3,2157.5L509.4,2150.8L508.4,2151.4L507.5,2151.3L506.5,2153.9L505.6,2139.5L504.6,2148.3L503.7,2183.9L502.7,2184.6L501.8,2171.8L500.8,2167.9L499.9,2155.0L498.9,2158.8L498.0,2140.0L497.0,2157.8L496.1,2177.1L495.1,2183.8L494.2,2169.7L493.2,2170.8L492.2,2175.4L491.3,2168.0L490.3,2166.9L489.4,2152.8L488.4,2153.0L487.5,2158.1L486.5,2173.8L485.6,2165.3L484.6,2181.0L483.7,2163.6L482.7,2163.6L481.8,2155.9L480.8,2161.3L479.9,2178.7L478.9,2170.0L478.0,2170.7L477.0,2177.3L476.1,2185.3L475.1,2184.0L474.2,2168.4L473.2,2156.6L472.3,2171.5L471.3,2151.2L470.4,2152.2L469.4,2145.1L468.5,2129.7L467.5,2137.9L466.6,2133.2L465.6,2145.2L464.6,2128.6L463.7,2129.2L462.7,2122.1L461.8,2119.5L460.8,2104.4L459.9,2089.9L458.9,2095.7L458.0,2079.6L457.0,2101.7L456.1,2106.9L455.1,2107.7L454.2,2124.4L453.2,2101.8L452.3,2115.0L451.3,2092.8L450.4,2092.5L449.4,2085.4L448.5,2076.0L447.5,2102.9L446.6,2113.7L445.6,2110.2L444.7,2092.9L443.7,2099.2L442.8,2094.5L441.8,2104.8L440.9,2106.2L439.9,2092.9L439.0,2129.5L438.0,2118.1L437.1,2129.1L436.1,2160.4L435.1,2149.9L434.2,2129.9L433.2,2119.3L432.3,2126.6L431.3,2129.2L430.4,2131.5L429.4,2138.5L428.5,2143.5L427.5,2154.6L426.6,2148.8L425.6,2162.4L424.7,2173.7L423.7,2155.6L422.8,2151.4L421.8,2152.9L420.9,2150.1L419.9,2145.2L419.0,2170.6L418.0,2154.0L417.1,2142.2L416.1,2144.9L415.2,2151.3L414.2,2173.9L413.3,2174.3L412.3,2174.6L411.4,2152.9L410.4,2161.1L409.5,2160.7L408.5,2153.6L407.5,2151.5L406.6,2154.3L405.6,2140.6L404.7,2163.7L403.7,2156.3L402.8,2154.8L401.8,2145.7L400.9,2148.9L399.9,2139.3L399.0,2147.7L398.0,2133.4L397.1,2141.8L396.1,2158.6L395.2,2166.8L394.2,2156.5L393.3,2147.9L392.3,2132.9L391.4,2143.5L390.4,2134.3L389.5,2149.7L388.5,2151.9L387.6,2154.2L386.6,2150.7L385.7,2160.7L384.7,2149.5L383.8,2137.4L382.8,2138.4L381.9,2127.9L380.9,2146.7L379.9,2158.5L379.0,2137.7L378.0,2143.7L377.1,2137.2L376.1,2161.6L375.2,2161.5L374.2,2152.8L373.3,2146.2L372.3,2148.9L371.4,2138.9L370.4,2145.8L369.5,2131.6L368.5,2134.2L367.6,2145.9L366.6,2145.8L365.7,2127.5L364.7,2148.2L363.8,2154.6L362.8,2141.6L361.9,2137.7L360.9,2126.9L360.0,2145.0L359.0,2150.3L358.1,2158.3L357.1,2141.8L356.2,2150.9L355.2,2166.8L354.3,2170.0L353.3,2161.6L352.4,2179.0L351.4,2163.2L350.4,2165.6L349.5,2161.7L348.5,2196.1L347.6,2183.7L346.6,2178.0L345.7,2189.9L344.7,2197.2L343.8,2202.9L342.8,2184.7L341.9,2173.9L340.9,2158.9L340.0,2153.4L339.0,2132.5L338.1,2147.7L337.1,2145.6L336.2,2163.0L335.2,2161.5L334.3,2168.9L333.3,2163.9L332.4,2170.4L331.4,2155.4L330.5,2134.7L329.5,2125.1L328.6,2123.3L327.6,2089.9L326.7,2101.3L325.7,2096.8L324.8,2094.2L323.8,2106.5L322.9,2093.8L321.9,2102.6L320.9,2105.4L320.0,2097.3L319.0,2112.4L318.1,2110.3L317.1,2107.1L316.2,2110.2L315.2,2122.0L314.3,2126.3L313.3,2129.1L312.4,2117.2L311.4,2098.1L310.5,2098.0L309.5,2107.4L308.6,2095.9L307.6,2113.5L306.7,2116.2L305.7,2093.6L304.8,2092.9L303.8,2089.9L302.9,2104.6L301.9,2101.7L301.0,2118.2L300.0,2102.2L299.1,2108.8L298.1,2134.8L297.2,2127.0L296.2,2129.5L295.3,2124.3L294.3,2112.2L293.3,2120.9L292.4,2120.4L291.4,2138.0L290.5,2126.4L289.5,2130.8L288.6,2139.7L287.6,2126.4L286.7,2142.1L285.7,2120.1L284.8,2130.8L283.8,2126.7L282.9,2126.6L281.9,2136.0L281.0,2111.7L280.0,2124.6L279.1,2125.2L278.1,2106.2L277.2,2116.2L276.2,2124.5L275.3,2118.1L274.3,2105.4L273.4,2103.3L272.4,2110.0L271.5,2091.4L270.5,2094.6L269.6,2093.0L268.6,2067.2L267.7,2079.3L266.7,2070.2L265.8,2073.7L264.8,2100.6L263.8,2094.0L262.9,2096.8L261.9,2097.6L261.0,2114.4L260.0,2118.6L259.1,2103.1L258.1,2103.7L257.2,2109.5L256.2,2100.3L255.3,2116.7L254.3,2110.2L253.4,2124.6L252.4,2125.1L251.5,2139.6L250.5,2112.2L249.6,2137.5L248.6,2129.0L247.7,2144.9L246.7,2129.3L245.8,2133.4L244.8,2153.6L243.9,2147.5L242.9,2141.9L242.0,2137.6L241.0,2149.7L240.1,2136.4L239.1,2144.1L238.2,2135.6L237.2,2141.3L236.2,2149.4L235.3,2128.0L234.3,2123.6L233.4,2119.2L232.4,2136.5L231.5,2142.4L230.5,2137.0L229.6,2115.8L228.6,2113.8L227.7,2118.9L226.7,2117.7L225.8,2115.4L224.8,2109.7L223.9,2116.6L222.9,2108.9L222.0,2109.0L221.0,2107.5L220.1,2112.9L219.1,2118.8L218.2,2104.6L217.2,2100.8L216.3,2110.1L215.3,2101.1L214.4,2099.6L213.4,2096.9L212.5,2096.9L211.5,2105.0L210.6,2098.7L209.6,2099.8L208.6,2096.0L207.7,2096.8L206.7,2102.5L205.8,2120.0L204.8,2109.1L203.9,2130.9L202.9,2129.5L202.0,2143.1L201.0,2144.3L200.1,2138.5L199.1,2140.3L198.2,2127.4L197.2,2140.6L196.3,2114.1L195.3,2121.5L194.4,2092.2L193.4,2108.6L192.5,2117.8L191.5,2134.3L190.6,2123.3L189.6,2130.4L188.7,2115.5L187.7,2121.9L186.8,2126.4L185.8,2145.1L184.9,2136.8L183.9,2118.8L183.0,2124.6L182.0,2108.5L181.1,2101.6L180.1,2112.2L179.1,2126.8L178.2,2113.7L177.2,2118.0L176.3,2131.4L175.3,2120.6L174.4,2113.6L173.4,2107.8L172.5,2112.1L171.5,2108.8L170.6,2101.4L169.6,2104.6L168.7,2099.1L167.7,2103.1L166.8,2096.0L165.8,2100.1L164.9,2090.2L163.9,2085.2L163.0,2104.6L162.0,2099.3L161.1,2118.7L160.1,2103.1L159.2,2106.4L158.2,2099.7L157.3,2094.3L156.3,2082.5L155.4,2086.2L154.4,2090.0L153.5,2084.8L152.5,2066.7L151.6,2082.2L150.6,2075.2L149.6,2083.5L148.7,2078.0L147.7,2106.9L146.8,2091.4L145.8,2102.4L144.9,2088.3L143.9,2098.4L143.0,2089.0L142.0,2110.7L141.1,2103.2L140.1,2125.6L139.2,2106.2L138.2,2096.7L137.3,2117.2L136.3,2148.5L135.4,2146.3L134.4,2144.7L133.5,2146.1L132.5,2172.6L131.6,2152.4L130.6,2156.1L129.7,2176.6L128.7,2165.1L127.8,2192.0L126.8,2232.0L125.9,2273.7L124.9,2319.5L124.0,2262.9L123.0,2201.4Z" fill="#a8a3a5" fill-opacity="0.36" stroke="#a8a3a5" stroke-opacity="0.45" stroke-width="0.8"/>
<path d="M123.0,2133.5L124.0,2140.9L124.9,2163.1L125.9,2173.2L126.8,2179.5L127.8,2157.4L128.7,2135.5L129.7,2134.3L130.6,2121.5L131.6,2117.6L132.5,2117.2L133.5,2100.1L134.4,2093.6L135.4,2099.0L136.3,2097.6L137.3,2077.4L138.2,2072.0L139.2,2080.4L140.1,2080.3L141.1,2075.9L142.0,2070.4L143.0,2065.1L143.9,2071.3L144.9,2064.1L145.8,2068.8L146.8,2062.0L147.7,2067.5L148.7,2061.9L149.6,2053.3L150.6,2052.1L151.6,2057.2L152.5,2057.9L153.5,2059.3L154.4,2055.6L155.4,2054.0L156.3,2047.1L157.3,2058.0L158.2,2060.5L159.2,2063.6L160.1,2068.4L161.1,2068.6L162.0,2060.7L163.0,2064.2L163.9,2056.3L164.9,2068.4L165.8,2064.3L166.8,2063.1L167.7,2061.9L168.7,2062.0L169.6,2059.9L170.6,2064.3L171.5,2079.8L172.5,2079.4L173.4,2075.6L174.4,2073.6L175.3,2084.8L176.3,2092.4L177.2,2083.0L178.2,2090.4L179.1,2082.7L180.1,2076.5L181.1,2078.5L182.0,2082.5L183.0,2085.6L183.9,2079.6L184.9,2079.7L185.8,2081.9L186.8,2073.9L187.7,2078.5L188.7,2080.0L189.6,2087.4L190.6,2092.2L191.5,2091.2L192.5,2093.2L193.4,2088.6L194.4,2080.0L195.3,2082.8L196.3,2092.0L197.2,2096.4L198.2,2103.7L199.1,2107.3L200.1,2099.3L201.0,2104.4L202.0,2097.4L202.9,2097.6L203.9,2099.3L204.8,2089.6L205.8,2085.3L206.7,2077.3L207.7,2077.6L208.6,2080.2L209.6,2081.1L210.6,2070.5L211.5,2076.4L212.5,2068.4L213.4,2066.4L214.4,2073.4L215.3,2072.6L216.3,2068.3L217.2,2066.9L218.2,2065.1L219.1,2061.1L220.1,2063.7L221.0,2067.2L222.0,2069.7L222.9,2072.1L223.9,2070.6L224.8,2082.3L225.8,2079.7L226.7,2088.4L227.7,2088.6L228.6,2079.1L229.6,2094.6L230.5,2090.7L231.5,2096.4L232.4,2101.9L233.4,2102.4L234.3,2103.9L235.3,2103.1L236.2,2121.2L237.2,2118.1L238.2,2113.3L239.1,2111.8L240.1,2116.4L241.0,2111.7L242.0,2105.1L242.9,2108.8L243.9,2108.4L244.8,2112.4L245.8,2103.2L246.7,2100.9L247.7,2103.3L248.6,2095.5L249.6,2102.8L250.5,2093.9L251.5,2103.0L252.4,2085.1L253.4,2086.4L254.3,2076.9L255.3,2077.8L256.2,2074.1L257.2,2065.0L258.1,2075.6L259.1,2076.0L260.0,2069.6L261.0,2063.2L261.9,2052.7L262.9,2046.1L263.8,2050.4L264.8,2045.2L265.8,2037.9L266.7,2033.9L267.7,2039.6L268.6,2037.8L269.6,2052.2L270.5,2069.3L271.5,2071.4L272.4,2075.7L273.4,2070.5L274.3,2078.0L275.3,2084.1L276.2,2083.5L277.2,2086.3L278.1,2084.8L279.1,2087.8L280.0,2085.8L281.0,2078.2L281.9,2100.0L282.9,2092.0L283.8,2094.9L284.8,2098.9L285.7,2090.0L286.7,2102.3L287.6,2103.3L288.6,2095.8L289.5,2098.8L290.5,2091.8L291.4,2096.7L292.4,2088.5L293.3,2086.7L294.3,2085.3L295.3,2091.5L296.2,2079.7L297.2,2085.9L298.1,2082.9L299.1,2073.1L300.0,2068.7L301.0,2076.1L301.9,2074.1L302.9,2072.0L303.8,2065.0L304.8,2061.5L305.7,2066.7L306.7,2084.5L307.6,2074.8L308.6,2064.0L309.5,2068.9L310.5,2070.9L311.4,2074.9L312.4,2077.6L313.3,2084.6L314.3,2084.6L315.2,2068.1L316.2,2065.1L317.1,2066.4L318.1,2066.3L319.0,2063.7L320.0,2061.1L320.9,2064.8L321.9,2059.3L322.9,2061.0L323.8,2071.5L324.8,2073.2L325.7,2068.0L326.7,2067.7L327.6,2072.1L328.6,2082.5L329.5,2090.5L330.5,2101.0L331.4,2099.3L332.4,2122.3L333.3,2125.0L334.3,2129.8L335.2,2123.8L336.2,2129.6L337.1,2125.3L338.1,2119.0L339.0,2116.4L340.0,2126.2L340.9,2131.4L341.9,2139.1L342.8,2142.9L343.8,2160.4L344.7,2142.5L345.7,2132.5L346.6,2142.4L347.6,2139.0L348.5,2140.5L349.5,2137.3L350.4,2128.8L351.4,2114.1L352.4,2115.8L353.3,2122.3L354.3,2126.0L355.2,2122.7L356.2,2125.9L357.1,2114.9L358.1,2125.4L359.0,2115.6L360.0,2110.1L360.9,2107.2L361.9,2113.3L362.8,2114.1L363.8,2117.1L364.7,2113.5L365.7,2105.8L366.6,2113.1L367.6,2116.9L368.5,2109.0L369.5,2099.3L370.4,2110.4L371.4,2105.5L372.3,2109.8L373.3,2113.0L374.2,2111.0L375.2,2121.1L376.1,2126.3L377.1,2105.9L378.0,2100.2L379.0,2110.9L379.9,2113.7L380.9,2111.7L381.9,2103.5L382.8,2104.1L383.8,2107.9L384.7,2114.6L385.7,2123.3L386.6,2115.4L387.6,2117.3L388.5,2114.6L389.5,2118.3L390.4,2118.2L391.4,2118.2L392.3,2107.9L393.3,2117.8L394.2,2116.2L395.2,2118.7L396.1,2102.3L397.1,2105.5L398.0,2096.4L399.0,2102.1L399.9,2105.9L400.9,2107.4L401.8,2106.0L402.8,2116.1L403.7,2114.4L404.7,2117.5L405.6,2110.9L406.6,2118.2L407.5,2119.5L408.5,2133.7L409.5,2126.1L410.4,2128.8L411.4,2123.1L412.3,2131.0L413.3,2132.7L414.2,2128.6L415.2,2124.4L416.1,2120.1L417.1,2126.0L418.0,2122.3L419.0,2117.8L419.9,2116.2L420.9,2119.9L421.8,2118.2L422.8,2114.9L423.7,2116.0L424.7,2115.2L425.6,2108.1L426.6,2106.0L427.5,2109.9L428.5,2102.9L429.4,2101.8L430.4,2097.8L431.3,2102.3L432.3,2091.9L433.2,2088.9L434.2,2099.5L435.1,2092.0L436.1,2096.3L437.1,2093.5L438.0,2087.4L439.0,2079.0L439.9,2073.5L440.9,2068.0L441.8,2055.2L442.8,2044.6L443.7,2057.3L444.7,2056.7L445.6,2063.4L446.6,2060.9L447.5,2052.4L448.5,2039.8L449.4,2051.1L450.4,2049.4L451.3,2058.8L452.3,2069.3L453.2,2057.7L454.2,2074.7L455.1,2078.0L456.1,2077.1L457.0,2072.5L458.0,2063.0L458.9,2068.8L459.9,2078.1L460.8,2082.9L461.8,2090.1L462.7,2094.5L463.7,2104.2L464.6,2098.1L465.6,2095.8L466.6,2098.8L467.5,2100.4L468.5,2105.9L469.4,2111.9L470.4,2113.1L471.3,2119.3L472.3,2117.5L473.2,2116.6L474.2,2119.7L475.1,2117.8L476.1,2118.0L477.0,2121.1L478.0,2115.9L478.9,2120.7L479.9,2119.0L480.8,2110.9L481.8,2109.8L482.7,2117.1L483.7,2109.1L484.6,2123.0L485.6,2116.0L486.5,2125.2L487.5,2127.3L488.4,2129.9L489.4,2120.6L490.3,2123.2L491.3,2130.8L492.2,2135.6L493.2,2133.7L494.2,2129.3L495.1,2141.2L496.1,2130.8L497.0,2131.2L498.0,2118.3L498.9,2125.6L499.9,2131.6L500.8,2135.9L501.8,2127.9L502.7,2135.9L503.7,2135.8L504.6,2122.3L505.6,2126.9L506.5,2130.1L507.5,2126.3L508.4,2121.8L509.4,2116.3L510.3,2114.3L511.3,2115.5L512.2,2110.1L513.2,2110.3L514.1,2110.6L515.1,2121.3L516.0,2127.7L517.0,2130.3L517.9,2130.9L518.9,2130.9L519.8,2141.3L520.8,2142.4L521.7,2154.2L522.7,2158.1L523.7,2173.4L524.6,2175.2L525.6,2177.3L526.5,2177.3L527.5,2194.1L528.4,2183.0L529.4,2184.2L530.3,2184.4L531.3,2184.8L532.2,2184.7L533.2,2180.7L534.1,2178.7L535.1,2177.0L536.0,2158.1L537.0,2148.0L537.9,2143.0L538.9,2138.3L539.8,2115.7L540.8,2102.0L541.7,2098.5L542.7,2102.6L543.6,2111.0L544.6,2101.0L545.5,2102.8L546.5,2103.1L547.4,2105.1L548.4,2094.2L549.3,2100.5L550.3,2098.2L551.2,2110.2L552.2,2115.5L553.2,2131.5L554.1,2127.8L555.1,2125.2L556.0,2107.9L557.0,2109.7L557.9,2097.0L558.9,2107.3L559.8,2106.4L560.8,2108.0L561.7,2121.7L562.7,2119.6L563.6,2116.5L564.6,2119.9L565.5,2122.9L566.5,2121.6L567.4,2115.9L568.4,2103.3L569.3,2106.9L570.3,2124.8L571.2,2125.1L572.2,2129.1L573.1,2117.4L574.1,2122.5L575.0,2109.7L576.0,2118.3L576.9,2128.7L577.9,2132.5L578.8,2122.6L579.8,2128.0L580.8,2127.2L581.7,2135.1L582.7,2122.5L583.6,2116.0L584.6,2126.1L585.5,2113.6L586.5,2110.9L587.4,2111.7L588.4,2116.0L589.3,2123.3L590.3,2113.5L591.2,2127.6L592.2,2125.5L593.1,2121.1L594.1,2113.3L595.0,2100.9L596.0,2096.6L596.9,2097.0L597.9,2108.6L598.8,2110.0L599.8,2119.8L600.7,2100.3L601.7,2099.9L602.6,2112.5L603.6,2110.3L604.5,2105.5L605.5,2103.1L606.4,2099.2L607.4,2109.8L608.3,2103.8L609.3,2113.3L610.3,2112.0L611.2,2116.2L612.2,2116.3L613.1,2110.8L614.1,2124.4L615.0,2117.6L616.0,2114.6L616.9,2123.1L617.9,2117.5L618.8,2117.4L619.8,2109.6L620.7,2115.3L621.7,2131.3L622.6,2128.4L623.6,2132.4L624.5,2147.1L625.5,2142.9L626.4,2146.2L627.4,2137.4L628.3,2142.2L629.3,2139.1L630.2,2148.6L631.2,2146.9L632.1,2146.3L633.1,2140.8L634.0,2138.7L635.0,2144.6L635.9,2138.8L636.9,2131.3L637.9,2129.8L638.8,2122.7L639.8,2112.9L640.7,2119.1L641.7,2120.5L642.6,2112.2L643.6,2117.9L644.5,2122.6L645.5,2121.5L646.4,2119.1L647.4,2102.1L648.3,2089.5L649.3,2093.4L650.2,2095.4L651.2,2098.5L652.1,2090.3L653.1,2076.6L654.0,2076.3L655.0,2083.3L655.9,2079.5L656.9,2082.5L657.8,2083.6L658.8,2069.9L659.7,2065.9L660.7,2067.4L661.6,2076.6L662.6,2066.0L663.5,2061.4L664.5,2062.2L665.4,2068.9L666.4,2067.2L667.4,2073.3L668.3,2065.4L669.3,2074.8L670.2,2066.1L671.2,2073.0L672.1,2060.5L673.1,2066.8L674.0,2051.5L675.0,2062.5L675.9,2061.7L676.9,2066.3L677.8,2056.3L678.8,2062.8L679.7,2055.6L680.7,2057.6L681.6,2056.9L682.6,2064.8L683.5,2061.8L684.5,2061.8L685.4,2061.8L686.4,2052.9L687.3,2060.4L688.3,2078.4L689.2,2069.0L690.2,2072.4L691.1,2061.7L692.1,2083.1L693.0,2065.3L694.0,2062.6" fill="none" stroke="#aca7a9" stroke-width="3.2" stroke-linejoin="round"/>
<path d="M123.0,1940.4L124.0,1897.0L124.9,1946.2L125.9,1999.2L126.8,2017.8L127.8,2026.7L128.7,2032.8L129.7,2039.6L130.6,2013.5L131.6,2029.9L132.5,2017.7L133.5,2028.5L134.4,2034.9L135.4,2024.7L136.3,2029.0L137.3,2032.2L138.2,2029.4L139.2,2057.6L140.1,2056.1L141.1,2062.1L142.0,2058.2L143.0,2070.8L143.9,2052.3L144.9,2054.1L145.8,2058.4L146.8,2056.6L147.7,2039.0L148.7,2038.1L149.6,2051.1L150.6,2037.4L151.6,1998.3L152.5,2013.0L153.5,2022.0L154.4,2017.1L155.4,2002.0L156.3,1990.0L157.3,1994.1L158.2,1995.6L159.2,2008.0L160.1,2012.8L161.1,2000.9L162.0,2006.6L163.0,2023.3L163.9,2036.7L164.9,2046.4L165.8,2055.3L166.8,2077.7L167.7,2086.6L168.7,2083.8L169.6,2065.7L170.6,2074.0L171.5,2061.5L172.5,2069.8L173.4,2059.0L174.4,2054.9L175.3,2066.9L176.3,2060.1L177.2,2045.9L178.2,2040.9L179.1,2052.3L180.1,2057.5L181.1,2045.9L182.0,2034.4L183.0,2018.3L183.9,2014.4L184.9,2006.3L185.8,2013.6L186.8,2027.5L187.7,2042.9L188.7,2021.9L189.6,2037.0L190.6,2046.1L191.5,2068.9L192.5,2064.7L193.4,2063.0L194.4,2042.9L195.3,2061.5L196.3,2051.0L197.2,2056.3L198.2,2071.9L199.1,2071.9L200.1,2065.1L201.0,2070.0L202.0,2071.4L202.9,2089.4L203.9,2094.3L204.8,2091.2L205.8,2106.9L206.7,2112.6L207.7,2117.1L208.6,2108.0L209.6,2105.4L210.6,2119.9L211.5,2112.4L212.5,2115.5L213.4,2124.3L214.4,2116.3L215.3,2122.3L216.3,2103.1L217.2,2102.1L218.2,2092.7L219.1,2081.5L220.1,2059.2L221.0,2058.2L222.0,2064.0L222.9,2058.0L223.9,2070.8L224.8,2064.0L225.8,2057.2L226.7,2061.1L227.7,2063.2L228.6,2073.1L229.6,2065.8L230.5,2090.4L231.5,2092.8L232.4,2097.8L233.4,2083.1L234.3,2078.8L235.3,2076.9L236.2,2082.8L237.2,2076.4L238.2,2080.4L239.1,2079.4L240.1,2073.0L241.0,2069.6L242.0,2067.7L242.9,2062.9L243.9,2072.7L244.8,2071.2L245.8,2066.2L246.7,2071.1L247.7,2073.3L248.6,2072.3L249.6,2073.7L250.5,2078.7L251.5,2078.8L252.4,2080.8L253.4,2074.9L254.3,2070.4L255.3,2038.0L256.2,2032.8L257.2,2044.6L258.1,2055.6L259.1,2010.5L260.0,2020.3L261.0,2021.3L261.9,2020.6L262.9,2019.7L263.8,2035.3L264.8,2043.5L265.8,2043.2L266.7,2065.1L267.7,2073.0L268.6,2070.6L269.6,2080.0L270.5,2070.6L271.5,2064.3L272.4,2072.2L273.4,2085.8L274.3,2092.7L275.3,2102.7L276.2,2095.2L277.2,2071.9L278.1,2066.2L279.1,2068.5L280.0,2062.1L281.0,2067.3L281.9,2069.9L282.9,2059.3L283.8,2061.9L284.8,2066.7L285.7,2067.0L286.7,2059.4L287.6,2051.0L288.6,2067.5L289.5,2060.8L290.5,2066.6L291.4,2067.6L292.4,2076.0L293.3,2068.3L294.3,2060.4L295.3,2059.7L296.2,2058.7L297.2,2067.3L298.1,2056.8L299.1,2057.7L300.0,2046.8L301.0,2058.8L301.9,2061.5L302.9,2044.4L303.8,2047.3L304.8,2046.9L305.7,2043.7L306.7,2037.3L307.6,2037.5L308.6,2029.2L309.5,2038.3L310.5,2046.0L311.4,2046.1L312.4,2054.3L313.3,2069.0L314.3,2064.7L315.2,2067.6L316.2,2054.7L317.1,2069.5L318.1,2076.8L319.0,2085.6L320.0,2088.6L320.9,2099.0L321.9,2100.9L322.9,2107.6L323.8,2098.2L324.8,2096.9L325.7,2116.3L326.7,2106.9L327.6,2121.8L328.6,2111.9L329.5,2113.0L330.5,2123.5L331.4,2124.2L332.4,2120.7L333.3,2142.7L334.3,2135.2L335.2,2146.9L336.2,2145.6L337.1,2132.3L338.1,2118.3L339.0,2106.2L340.0,2135.1L340.9,2136.3L341.9,2139.1L342.8,2150.2L343.8,2142.7L344.7,2148.2L345.7,2144.2L346.6,2151.7L347.6,2151.6L348.5,2133.9L349.5,2156.5L350.4,2146.0L351.4,2166.2L352.4,2160.9L353.3,2166.7L354.3,2177.9L355.2,2159.7L356.2,2151.8L357.1,2169.3L358.1,2167.4L359.0,2148.4L360.0,2167.6L360.9,2174.1L361.9,2174.8L362.8,2157.6L363.8,2164.2L364.7,2152.1L365.7,2171.7L366.6,2161.7L367.6,2172.5L368.5,2163.6L369.5,2171.9L370.4,2177.0L371.4,2179.2L372.3,2164.7L373.3,2165.3L374.2,2180.0L375.2,2158.7L376.1,2162.5L377.1,2187.3L378.0,2176.5L379.0,2169.7L379.9,2180.8L380.9,2176.0L381.9,2183.2L382.8,2173.8L383.8,2184.0L384.7,2189.6L385.7,2202.8L386.6,2203.1L387.6,2195.4L388.5,2190.8L389.5,2204.5L390.4,2203.0L391.4,2181.4L392.3,2198.9L393.3,2195.5L394.2,2197.8L395.2,2193.1L396.1,2196.6L397.1,2210.7L398.0,2203.6L399.0,2200.3L399.9,2200.2L400.9,2192.9L401.8,2201.3L402.8,2201.5L403.7,2197.8L404.7,2187.8L405.6,2176.6L406.6,2189.0L407.5,2185.5L408.5,2187.2L409.5,2196.5L410.4,2184.0L411.4,2194.3L412.3,2184.5L413.3,2199.3L414.2,2201.7L415.2,2193.8L416.1,2193.2L417.1,2189.6L418.0,2192.4L419.0,2210.0L419.9,2197.0L420.9,2190.5L421.8,2179.4L422.8,2182.4L423.7,2206.9L424.7,2192.6L425.6,2199.5L426.6,2201.4L427.5,2204.8L428.5,2195.1L429.4,2202.1L430.4,2181.4L431.3,2162.4L432.3,2174.5L433.2,2181.6L434.2,2191.1L435.1,2195.2L436.1,2199.5L437.1,2186.5L438.0,2179.4L439.0,2185.5L439.9,2200.3L440.9,2184.5L441.8,2198.3L442.8,2204.3L443.7,2203.6L444.7,2189.9L445.6,2196.6L446.6,2203.6L447.5,2207.5L448.5,2191.5L449.4,2202.3L450.4,2193.4L451.3,2215.4L452.3,2230.5L453.2,2221.1L454.2,2229.6L455.1,2221.1L456.1,2212.4L457.0,2202.5L458.0,2212.2L458.9,2213.8L459.9,2188.3L460.8,2193.2L461.8,2184.8L462.7,2215.8L463.7,2213.6L464.6,2203.4L465.6,2211.7L466.6,2217.4L467.5,2213.8L468.5,2220.5L469.4,2231.9L470.4,2224.2L471.3,2222.4L472.3,2234.2L473.2,2235.4L474.2,2239.1L475.1,2236.3L476.1,2227.5L477.0,2220.6L478.0,2225.6L478.9,2224.4L479.9,2224.8L480.8,2231.9L481.8,2250.9L482.7,2242.8L483.7,2237.6L484.6,2237.8L485.6,2239.7L486.5,2251.7L487.5,2256.0L488.4,2260.6L489.4,2258.9L490.3,2254.0L491.3,2254.8L492.2,2239.4L493.2,2246.8L494.2,2258.2L495.1,2231.3L496.1,2211.3L497.0,2204.2L498.0,2194.9L498.9,2187.7L499.9,2181.7L500.8,2188.5L501.8,2197.6L502.7,2203.6L503.7,2209.8L504.6,2201.5L505.6,2199.3L506.5,2200.8L507.5,2207.6L508.4,2210.2L509.4,2204.6L510.3,2207.7L511.3,2202.1L512.2,2209.0L513.2,2214.5L514.1,2228.2L515.1,2226.5L516.0,2207.9L517.0,2197.4L517.9,2189.4L518.9,2179.6L519.8,2155.4L520.8,2138.4L521.7,2120.2L522.7,2128.4L523.7,2148.7L524.6,2139.6L525.6,2149.8L526.5,2156.9L527.5,2156.8L528.4,2133.9L529.4,2124.4L530.3,2114.6L531.3,2100.0L532.2,2109.8L533.2,2089.3L534.1,2088.3L535.1,2090.4L536.0,2082.5L537.0,2066.2L537.9,2064.3L538.9,2062.6L539.8,2043.5L540.8,2047.0L541.7,2042.8L542.7,2058.3L543.6,2069.1L544.6,2053.6L545.5,2063.1L546.5,2083.6L547.4,2066.5L548.4,2077.0L549.3,2071.0L550.3,2074.1L551.2,2086.1L552.2,2078.2L553.2,2059.1L554.1,2072.0L555.1,2073.3L556.0,2073.6L557.0,2069.0L557.9,2091.8L558.9,2089.7L559.8,2095.0L560.8,2093.4L561.7,2093.8L562.7,2095.8L563.6,2123.5L564.6,2114.0L565.5,2117.7L566.5,2091.3L567.4,2061.3L568.4,2077.2L569.3,2083.8L570.3,2082.0L571.2,2068.9L572.2,2085.1L573.1,2080.0L574.1,2061.7L575.0,2077.9L576.0,2066.1L576.9,2070.5L577.9,2055.6L578.8,2038.5L579.8,2054.1L580.8,2054.5L581.7,2051.9L582.7,2049.6L583.6,2058.0L584.6,2046.7L585.5,2070.7L586.5,2061.6L587.4,2061.6L588.4,2058.5L589.3,2054.3L590.3,2043.3L591.2,2059.0L592.2,2040.3L593.1,2046.2L594.1,2042.5L595.0,2048.9L596.0,2045.7L596.9,2069.5L597.9,2077.9L598.8,2071.3L599.8,2070.0L600.7,2054.1L601.7,2050.6L602.6,2045.8L603.6,2042.4L604.5,2001.8L605.5,1987.6L606.4,1976.8L607.4,1972.5L608.3,1961.7L609.3,1931.4L610.3,1903.9L611.2,1880.7L612.2,1858.0L613.1,1883.0L614.1,1913.4L615.0,1955.0L616.0,1998.4L616.9,2014.1L617.9,2040.5L618.8,2044.8L619.8,2040.7L620.7,2048.9L621.7,2041.7L622.6,2040.6L623.6,2045.6L624.5,2041.2L625.5,2051.3L626.4,2033.2L627.4,2035.8L628.3,2046.9L629.3,2038.3L630.2,2042.4L631.2,2055.0L632.1,2061.4L633.1,2070.0L634.0,2048.8L635.0,2076.7L635.9,2072.8L636.9,2086.8L637.9,2115.6L638.8,2113.6L639.8,2110.0L640.7,2095.8L641.7,2105.6L642.6,2107.2L643.6,2111.6L644.5,2121.6L645.5,2113.7L646.4,2108.8L647.4,2115.3L648.3,2094.3L649.3,2079.6L650.2,2057.6L651.2,2064.3L652.1,2050.2L653.1,2054.8L654.0,2056.7L655.0,2040.8L655.9,2032.0L656.9,2028.7L657.8,2032.3L658.8,2032.7L659.7,2032.8L660.7,2024.5L661.6,2034.9L662.6,2038.5L663.5,2033.2L664.5,2042.9L665.4,2061.8L666.4,2051.9L667.4,2054.6L668.3,2055.8L669.3,2064.7L670.2,2075.7L671.2,2059.4L672.1,2048.4L673.1,2047.8L674.0,2055.8L675.0,2053.3L675.9,2070.6L676.9,2065.6L677.8,2062.5L678.8,2051.5L679.7,2041.6L680.7,2053.3L681.6,2040.8L682.6,2032.4L683.5,2019.6L684.5,2028.8L685.4,2039.4L686.4,2028.4L687.3,2041.9L688.3,2040.2L689.2,2061.8L690.2,2055.5L691.1,2045.6L692.1,2050.1L693.0,2053.9L694.0,2059.3L694.0,2117.4L693.0,2117.6L692.1,2109.9L691.1,2104.3L690.2,2108.4L689.2,2104.9L688.3,2085.7L687.3,2091.1L686.4,2080.9L685.4,2093.0L684.5,2094.4L683.5,2080.7L682.6,2109.0L681.6,2094.1L680.7,2110.2L679.7,2106.5L678.8,2121.5L677.8,2126.8L676.9,2123.5L675.9,2151.8L675.0,2129.1L674.0,2120.2L673.1,2120.0L672.1,2115.9L671.2,2131.4L670.2,2134.0L669.3,2121.4L668.3,2129.0L667.4,2122.1L666.4,2121.7L665.4,2127.5L664.5,2113.8L663.5,2099.7L662.6,2093.1L661.6,2088.6L660.7,2088.2L659.7,2104.3L658.8,2088.0L657.8,2078.8L656.9,2071.6L655.9,2073.0L655.0,2090.1L654.0,2099.1L653.1,2104.4L652.1,2095.5L651.2,2107.6L650.2,2110.2L649.3,2119.6L648.3,2145.0L647.4,2146.8L646.4,2161.6L645.5,2160.5L644.5,2162.6L643.6,2156.9L642.6,2154.3L641.7,2142.3L640.7,2142.3L639.8,2141.6L638.8,2157.3L637.9,2159.5L636.9,2157.4L635.9,2129.1L635.0,2147.1L634.0,2115.7L633.1,2134.9L632.1,2118.8L631.2,2109.8L630.2,2116.1L629.3,2114.0L628.3,2119.6L627.4,2108.1L626.4,2094.7L625.5,2113.6L624.5,2105.0L623.6,2101.6L622.6,2106.1L621.7,2108.4L620.7,2113.3L619.8,2094.5L618.8,2105.2L617.9,2103.6L616.9,2092.1L616.0,2068.1L615.0,2059.0L614.1,2045.4L613.1,2025.4L612.2,2025.0L611.2,2019.8L610.3,2019.1L609.3,2029.1L608.3,2039.1L607.4,2029.3L606.4,2049.3L605.5,2054.6L604.5,2084.9L603.6,2102.5L602.6,2106.4L601.7,2115.2L600.7,2099.3L599.8,2125.6L598.8,2133.3L597.9,2143.4L596.9,2142.7L596.0,2122.5L595.0,2123.7L594.1,2105.5L593.1,2102.7L592.2,2105.2L591.2,2118.9L590.3,2103.4L589.3,2091.7L588.4,2103.5L587.4,2115.4L586.5,2099.8L585.5,2119.6L584.6,2108.1L583.6,2106.2L582.7,2093.4L581.7,2084.9L580.8,2088.1L579.8,2092.9L578.8,2094.0L577.9,2115.5L576.9,2119.4L576.0,2101.9L575.0,2103.1L574.1,2107.4L573.1,2120.5L572.2,2135.7L571.2,2144.4L570.3,2139.3L569.3,2132.7L568.4,2132.4L567.4,2135.9L566.5,2153.9L565.5,2159.5L564.6,2163.1L563.6,2169.3L562.7,2157.6L561.7,2137.0L560.8,2131.8L559.8,2143.6L558.9,2133.1L557.9,2146.3L557.0,2124.1L556.0,2127.2L555.1,2127.6L554.1,2118.7L553.2,2120.3L552.2,2129.2L551.2,2138.9L550.3,2133.9L549.3,2130.2L548.4,2132.7L547.4,2115.5L546.5,2127.8L545.5,2122.4L544.6,2121.7L543.6,2113.4L542.7,2117.1L541.7,2118.3L540.8,2121.8L539.8,2121.4L538.9,2112.3L537.9,2116.5L537.0,2102.1L536.0,2128.5L535.1,2147.2L534.1,2145.0L533.2,2162.1L532.2,2166.4L531.3,2167.3L530.3,2181.1L529.4,2183.0L528.4,2181.9L527.5,2206.6L526.5,2199.3L525.6,2202.7L524.6,2197.4L523.7,2202.6L522.7,2216.8L521.7,2213.0L520.8,2210.7L519.8,2216.9L518.9,2219.1L517.9,2228.6L517.0,2244.1L516.0,2265.8L515.1,2268.5L514.1,2270.1L513.2,2256.1L512.2,2261.3L511.3,2270.1L510.3,2249.2L509.4,2259.7L508.4,2252.4L507.5,2247.2L506.5,2245.5L505.6,2248.0L504.6,2255.8L503.7,2259.5L502.7,2252.1L501.8,2258.6L500.8,2251.6L499.9,2255.7L498.9,2264.9L498.0,2269.4L497.0,2278.9L496.1,2289.6L495.1,2288.8L494.2,2303.0L493.2,2299.6L492.2,2297.1L491.3,2304.1L490.3,2304.9L489.4,2304.3L488.4,2291.5L487.5,2286.4L486.5,2293.7L485.6,2277.6L484.6,2294.3L483.7,2275.4L482.7,2285.2L481.8,2288.4L480.8,2279.9L479.9,2275.1L478.9,2287.3L478.0,2286.5L477.0,2287.2L476.1,2279.7L475.1,2278.5L474.2,2276.2L473.2,2292.9L472.3,2296.6L471.3,2274.0L470.4,2273.7L469.4,2278.3L468.5,2269.1L467.5,2267.9L466.6,2278.6L465.6,2273.2L464.6,2265.9L463.7,2284.8L462.7,2259.3L461.8,2261.8L460.8,2265.2L459.9,2262.6L458.9,2265.4L458.0,2280.7L457.0,2269.3L456.1,2282.4L455.1,2281.8L454.2,2302.0L453.2,2273.5L452.3,2290.0L451.3,2268.1L450.4,2261.0L449.4,2267.7L448.5,2260.5L447.5,2267.2L446.6,2266.2L445.6,2253.3L444.7,2253.0L443.7,2253.3L442.8,2268.9L441.8,2273.4L440.9,2253.4L439.9,2262.1L439.0,2262.1L438.0,2252.5L437.1,2247.3L436.1,2264.6L435.1,2262.3L434.2,2253.9L433.2,2239.0L432.3,2233.2L431.3,2229.8L430.4,2246.8L429.4,2253.5L428.5,2248.9L427.5,2239.6L426.6,2252.5L425.6,2251.1L424.7,2247.4L423.7,2238.5L422.8,2248.3L421.8,2242.3L420.9,2237.9L419.9,2241.6L419.0,2248.0L418.0,2254.3L417.1,2248.2L416.1,2263.5L415.2,2252.2L414.2,2255.1L413.3,2247.5L412.3,2239.1L411.4,2241.9L410.4,2233.2L409.5,2240.0L408.5,2228.7L407.5,2243.7L406.6,2258.2L405.6,2245.0L404.7,2248.9L403.7,2250.9L402.8,2248.7L401.8,2254.0L400.9,2247.5L399.9,2254.3L399.0,2253.6L398.0,2257.7L397.1,2270.5L396.1,2268.0L395.2,2260.5L394.2,2264.0L393.3,2270.7L392.3,2264.3L391.4,2264.1L390.4,2267.9L389.5,2255.2L388.5,2257.5L387.6,2249.1L386.6,2262.1L385.7,2250.2L384.7,2247.4L383.8,2239.8L382.8,2240.6L381.9,2233.5L380.9,2225.4L379.9,2233.5L379.0,2230.4L378.0,2217.5L377.1,2227.2L376.1,2242.9L375.2,2232.0L374.2,2239.0L373.3,2246.6L372.3,2223.2L371.4,2227.4L370.4,2239.8L369.5,2233.1L368.5,2222.3L367.6,2236.2L366.6,2223.0L365.7,2221.1L364.7,2222.8L363.8,2218.2L362.8,2216.5L361.9,2236.4L360.9,2229.9L360.0,2218.5L359.0,2201.6L358.1,2225.2L357.1,2228.4L356.2,2209.3L355.2,2218.1L354.3,2233.5L353.3,2228.7L352.4,2212.7L351.4,2225.4L350.4,2213.7L349.5,2229.9L348.5,2195.4L347.6,2207.5L346.6,2213.7L345.7,2212.9L344.7,2215.5L343.8,2207.0L342.8,2212.1L341.9,2195.8L340.9,2196.4L340.0,2187.3L339.0,2159.2L338.1,2170.0L337.1,2179.7L336.2,2181.2L335.2,2183.6L334.3,2188.8L333.3,2177.2L332.4,2189.0L331.4,2185.5L330.5,2171.8L329.5,2158.6L328.6,2169.8L327.6,2164.3L326.7,2173.4L325.7,2170.1L324.8,2152.3L323.8,2149.3L322.9,2155.1L321.9,2140.8L320.9,2149.9L320.0,2139.6L319.0,2140.5L318.1,2131.2L317.1,2126.8L316.2,2102.1L315.2,2112.3L314.3,2109.0L313.3,2112.0L312.4,2118.4L311.4,2087.4L310.5,2086.7L309.5,2079.1L308.6,2092.0L307.6,2112.2L306.7,2108.0L305.7,2087.6L304.8,2103.7L303.8,2104.5L302.9,2110.3L301.9,2124.5L301.0,2113.8L300.0,2102.4L299.1,2107.5L298.1,2116.3L297.2,2118.4L296.2,2119.0L295.3,2117.1L294.3,2118.0L293.3,2126.2L292.4,2133.3L291.4,2119.8L290.5,2120.2L289.5,2133.6L288.6,2137.4L287.6,2130.0L286.7,2128.1L285.7,2137.0L284.8,2129.9L283.8,2119.2L282.9,2135.0L281.9,2139.3L281.0,2136.1L280.0,2131.4L279.1,2142.4L278.1,2120.5L277.2,2120.0L276.2,2131.0L275.3,2142.2L274.3,2121.8L273.4,2124.1L272.4,2120.4L271.5,2124.8L270.5,2130.8L269.6,2129.1L268.6,2127.0L267.7,2133.0L266.7,2129.3L265.8,2108.8L264.8,2102.7L263.8,2106.6L262.9,2085.0L261.9,2086.0L261.0,2080.5L260.0,2091.5L259.1,2097.3L258.1,2119.4L257.2,2117.9L256.2,2094.6L255.3,2097.3L254.3,2127.6L253.4,2130.9L252.4,2128.7L251.5,2138.1L250.5,2128.7L249.6,2131.8L248.6,2135.0L247.7,2126.7L246.7,2128.8L245.8,2126.4L244.8,2128.9L243.9,2126.4L242.9,2108.4L242.0,2121.3L241.0,2112.8L240.1,2124.9L239.1,2134.1L238.2,2144.9L237.2,2125.3L236.2,2109.0L235.3,2117.1L234.3,2129.5L233.4,2131.6L232.4,2143.9L231.5,2125.8L230.5,2117.2L229.6,2122.2L228.6,2125.8L227.7,2123.8L226.7,2129.3L225.8,2110.4L224.8,2107.9L223.9,2113.9L222.9,2123.8L222.0,2109.6L221.0,2112.2L220.1,2123.6L219.1,2131.7L218.2,2145.8L217.2,2145.0L216.3,2147.3L215.3,2157.0L214.4,2159.0L213.4,2157.5L212.5,2145.7L211.5,2154.0L210.6,2152.5L209.6,2148.0L208.6,2160.7L207.7,2156.0L206.7,2150.6L205.8,2148.6L204.8,2146.1L203.9,2154.6L202.9,2154.1L202.0,2140.1L201.0,2139.8L200.1,2128.2L199.1,2139.1L198.2,2127.7L197.2,2113.4L196.3,2125.9L195.3,2123.4L194.4,2113.6L193.4,2131.6L192.5,2131.5L191.5,2125.2L190.6,2112.9L189.6,2095.6L188.7,2085.0L187.7,2091.5L186.8,2070.0L185.8,2064.3L184.9,2045.0L183.9,2057.8L183.0,2062.0L182.0,2075.5L181.1,2093.5L180.1,2105.4L179.1,2104.2L178.2,2118.5L177.2,2106.0L176.3,2128.3L175.3,2126.6L174.4,2126.3L173.4,2118.6L172.5,2132.7L171.5,2113.8L170.6,2113.9L169.6,2111.2L168.7,2118.1L167.7,2122.0L166.8,2124.2L165.8,2123.7L164.9,2112.3L163.9,2098.4L163.0,2077.9L162.0,2057.6L161.1,2069.5L160.1,2067.4L159.2,2066.8L158.2,2060.3L157.3,2066.1L156.3,2061.5L155.4,2073.3L154.4,2083.2L153.5,2081.6L152.5,2077.9L151.6,2070.7L150.6,2096.9L149.6,2117.9L148.7,2108.4L147.7,2109.9L146.8,2113.3L145.8,2108.0L144.9,2108.1L143.9,2121.0L143.0,2120.1L142.0,2129.7L141.1,2123.2L140.1,2110.3L139.2,2120.1L138.2,2110.9L137.3,2096.9L136.3,2093.2L135.4,2079.8L134.4,2084.9L133.5,2084.5L132.5,2085.5L131.6,2086.0L130.6,2077.0L129.7,2098.2L128.7,2074.3L127.8,2068.2L126.8,2074.7L125.9,2053.0L124.9,2058.3L124.0,2035.7L123.0,2037.4Z" fill="#d9a27e" fill-opacity="0.3" stroke="#d9a27e" stroke-opacity="0.35" stroke-width="0.8"/>
<path d="M123.0,2008.0L124.0,2013.6L124.9,2021.9L125.9,2026.5L126.8,2041.4L127.8,2052.3L128.7,2049.5L129.7,2059.5L130.6,2048.8L131.6,2053.9L132.5,2044.0L133.5,2047.9L134.4,2051.7L135.4,2053.6L136.3,2061.9L137.3,2068.5L138.2,2071.4L139.2,2082.1L140.1,2078.8L141.1,2088.3L142.0,2093.1L143.0,2094.6L143.9,2089.0L144.9,2082.2L145.8,2083.2L146.8,2083.1L147.7,2068.9L148.7,2069.8L149.6,2072.6L150.6,2057.0L151.6,2037.5L152.5,2045.2L153.5,2052.8L154.4,2052.0L155.4,2042.5L156.3,2032.1L157.3,2034.9L158.2,2033.5L159.2,2037.5L160.1,2043.5L161.1,2035.1L162.0,2037.4L163.0,2054.7L163.9,2068.4L164.9,2079.6L165.8,2088.7L166.8,2096.5L167.7,2097.0L168.7,2090.9L169.6,2083.0L170.6,2089.2L171.5,2079.9L172.5,2096.5L173.4,2092.8L174.4,2091.0L175.3,2096.5L176.3,2090.2L177.2,2078.7L178.2,2084.0L179.1,2084.2L180.1,2082.9L181.1,2077.1L182.0,2059.6L183.0,2041.4L183.9,2037.7L184.9,2035.0L185.8,2040.0L186.8,2052.7L187.7,2062.8L188.7,2064.1L189.6,2078.7L190.6,2089.8L191.5,2099.1L192.5,2089.6L193.4,2090.8L194.4,2079.7L195.3,2090.9L196.3,2094.7L197.2,2094.9L198.2,2101.7L199.1,2102.1L200.1,2103.1L201.0,2113.7L202.0,2118.9L202.9,2129.2L203.9,2121.8L204.8,2119.8L205.8,2128.3L206.7,2130.2L207.7,2129.6L208.6,2129.1L209.6,2128.7L210.6,2135.5L211.5,2130.8L212.5,2138.9L213.4,2145.0L214.4,2143.3L215.3,2140.2L216.3,2127.5L217.2,2124.3L218.2,2118.9L219.1,2108.6L220.1,2103.4L221.0,2092.0L222.0,2094.8L222.9,2087.8L223.9,2089.2L224.8,2086.4L225.8,2080.8L226.7,2089.5L227.7,2086.8L228.6,2089.9L229.6,2091.9L230.5,2098.0L231.5,2102.7L232.4,2106.6L233.4,2100.7L234.3,2099.0L235.3,2097.3L236.2,2098.9L237.2,2100.1L238.2,2110.7L239.1,2106.9L240.1,2097.2L241.0,2086.8L242.0,2090.8L242.9,2082.3L243.9,2095.9L244.8,2104.8L245.8,2103.3L246.7,2100.9L247.7,2104.7L248.6,2099.9L249.6,2096.1L250.5,2103.1L251.5,2102.3L252.4,2093.3L253.4,2098.0L254.3,2092.1L255.3,2068.0L256.2,2064.3L257.2,2075.1L258.1,2084.5L259.1,2064.4L260.0,2057.8L261.0,2047.3L261.9,2046.8L262.9,2053.6L263.8,2058.2L264.8,2062.6L265.8,2074.7L266.7,2088.4L267.7,2092.2L268.6,2099.8L269.6,2105.9L270.5,2106.3L271.5,2103.7L272.4,2100.3L273.4,2106.4L274.3,2110.0L275.3,2118.5L276.2,2115.6L277.2,2102.4L278.1,2104.9L279.1,2107.3L280.0,2102.8L281.0,2096.3L281.9,2095.8L282.9,2089.3L283.8,2081.7L284.8,2084.8L285.7,2088.2L286.7,2086.9L287.6,2096.4L288.6,2101.9L289.5,2103.9L290.5,2091.4L291.4,2090.4L292.4,2097.2L293.3,2099.4L294.3,2089.8L295.3,2083.8L296.2,2089.8L297.2,2085.3L298.1,2083.0L299.1,2080.4L300.0,2081.2L301.0,2093.9L301.9,2097.9L302.9,2086.3L303.8,2081.5L304.8,2075.2L305.7,2076.1L306.7,2067.1L307.6,2068.3L308.6,2064.6L309.5,2057.4L310.5,2065.0L311.4,2071.9L312.4,2085.6L313.3,2091.3L314.3,2085.2L315.2,2088.2L316.2,2084.4L317.1,2099.4L318.1,2104.9L319.0,2116.8L320.0,2121.7L320.9,2125.1L321.9,2123.8L322.9,2126.2L323.8,2129.2L324.8,2132.1L325.7,2140.3L326.7,2136.9L327.6,2137.0L328.6,2136.3L329.5,2134.7L330.5,2146.0L331.4,2153.6L332.4,2150.2L333.3,2156.0L334.3,2162.9L335.2,2171.5L336.2,2162.5L337.1,2159.6L338.1,2148.3L339.0,2138.3L340.0,2160.7L340.9,2159.4L341.9,2163.0L342.8,2174.7L343.8,2170.7L344.7,2167.4L345.7,2174.9L346.6,2181.2L347.6,2183.9L348.5,2176.7L349.5,2189.4L350.4,2183.4L351.4,2193.1L352.4,2183.8L353.3,2198.2L354.3,2203.1L355.2,2186.3L356.2,2184.7L357.1,2196.6L358.1,2193.3L359.0,2176.8L360.0,2189.9L360.9,2196.1L361.9,2191.3L362.8,2182.5L363.8,2191.3L364.7,2190.5L365.7,2188.7L366.6,2184.6L367.6,2197.0L368.5,2190.7L369.5,2203.1L370.4,2205.7L371.4,2200.8L372.3,2197.2L373.3,2203.7L374.2,2198.7L375.2,2200.7L376.1,2200.9L377.1,2201.9L378.0,2199.8L379.0,2199.1L379.9,2210.2L380.9,2208.6L381.9,2209.8L382.8,2208.7L383.8,2205.4L384.7,2208.6L385.7,2215.7L386.6,2221.7L387.6,2219.4L388.5,2220.7L389.5,2219.1L390.4,2235.5L391.4,2231.0L392.3,2231.3L393.3,2230.5L394.2,2230.1L395.2,2229.3L396.1,2236.5L397.1,2238.0L398.0,2233.8L399.0,2232.6L399.9,2229.4L400.9,2217.5L401.8,2231.4L402.8,2222.7L403.7,2224.7L404.7,2220.0L405.6,2218.2L406.6,2229.0L407.5,2218.3L408.5,2205.1L409.5,2216.8L410.4,2209.4L411.4,2218.8L412.3,2218.0L413.3,2228.4L414.2,2234.0L415.2,2228.5L416.1,2232.0L417.1,2226.7L418.0,2221.0L419.0,2224.4L419.9,2220.5L420.9,2214.5L421.8,2212.1L422.8,2211.8L423.7,2217.1L424.7,2221.1L425.6,2224.6L426.6,2230.2L427.5,2222.9L428.5,2220.9L429.4,2216.8L430.4,2211.6L431.3,2197.2L432.3,2203.6L433.2,2216.6L434.2,2215.8L435.1,2221.3L436.1,2222.8L437.1,2211.9L438.0,2210.3L439.0,2209.8L439.9,2223.7L440.9,2221.6L441.8,2237.0L442.8,2236.7L443.7,2226.9L444.7,2222.5L445.6,2221.6L446.6,2234.1L447.5,2233.1L448.5,2228.8L449.4,2231.7L450.4,2229.9L451.3,2240.4L452.3,2252.0L453.2,2241.2L454.2,2263.3L455.1,2250.9L456.1,2241.6L457.0,2235.3L458.0,2245.2L458.9,2240.1L459.9,2229.0L460.8,2231.8L461.8,2224.4L462.7,2230.8L463.7,2236.8L464.6,2232.6L465.6,2238.8L466.6,2243.3L467.5,2239.0L468.5,2246.6L469.4,2254.0L470.4,2244.4L471.3,2251.8L472.3,2255.9L473.2,2255.5L474.2,2254.9L475.1,2256.4L476.1,2251.1L477.0,2250.1L478.0,2254.0L478.9,2255.1L479.9,2239.5L480.8,2253.6L481.8,2268.7L482.7,2255.9L483.7,2261.3L484.6,2267.7L485.6,2260.4L486.5,2267.2L487.5,2275.7L488.4,2282.4L489.4,2285.6L490.3,2279.2L491.3,2275.3L492.2,2275.6L493.2,2278.3L494.2,2280.0L495.1,2268.2L496.1,2257.8L497.0,2248.4L498.0,2237.2L498.9,2231.2L499.9,2226.5L500.8,2229.3L501.8,2223.3L502.7,2227.9L503.7,2230.9L504.6,2232.3L505.6,2222.7L506.5,2223.8L507.5,2221.1L508.4,2221.6L509.4,2225.4L510.3,2218.1L511.3,2227.6L512.2,2237.7L513.2,2233.0L514.1,2242.1L515.1,2242.3L516.0,2228.1L517.0,2219.9L517.9,2215.4L518.9,2202.3L519.8,2194.2L520.8,2187.9L521.7,2179.8L522.7,2177.0L523.7,2177.5L524.6,2176.0L525.6,2185.1L526.5,2183.3L527.5,2177.0L528.4,2161.0L529.4,2143.9L530.3,2145.7L531.3,2135.6L532.2,2135.6L533.2,2127.7L534.1,2116.3L535.1,2117.4L536.0,2104.1L537.0,2090.2L537.9,2090.0L538.9,2086.2L539.8,2085.8L540.8,2081.6L541.7,2079.8L542.7,2074.2L543.6,2080.2L544.6,2078.9L545.5,2087.5L546.5,2096.9L547.4,2092.2L548.4,2102.5L549.3,2097.0L550.3,2102.4L551.2,2106.2L552.2,2107.1L553.2,2091.5L554.1,2097.7L555.1,2094.6L556.0,2104.1L557.0,2099.8L557.9,2110.4L558.9,2108.0L559.8,2117.3L560.8,2111.4L561.7,2119.0L562.7,2122.8L563.6,2137.3L564.6,2136.2L565.5,2136.7L566.5,2129.0L567.4,2112.2L568.4,2108.8L569.3,2117.4L570.3,2115.4L571.2,2113.4L572.2,2116.9L573.1,2113.7L574.1,2100.5L575.0,2096.3L576.0,2083.7L576.9,2096.9L577.9,2091.7L578.8,2078.4L579.8,2079.7L580.8,2070.0L581.7,2075.2L582.7,2072.4L583.6,2077.5L584.6,2081.9L585.5,2088.0L586.5,2076.6L587.4,2082.9L588.4,2080.5L589.3,2073.6L590.3,2070.2L591.2,2077.3L592.2,2079.1L593.1,2079.7L594.1,2071.3L595.0,2091.9L596.0,2091.3L596.9,2102.4L597.9,2107.7L598.8,2095.7L599.8,2087.8L600.7,2078.5L601.7,2078.5L602.6,2079.4L603.6,2071.4L604.5,2042.9L605.5,2023.1L606.4,2013.4L607.4,1997.9L608.3,1994.5L609.3,1987.1L610.3,1979.5L611.2,1978.4L612.2,1984.4L613.1,1989.7L614.1,2003.3L615.0,2026.5L616.0,2044.1L616.9,2057.7L617.9,2078.1L618.8,2088.5L619.8,2080.1L620.7,2081.7L621.7,2075.5L622.6,2071.1L623.6,2066.9L624.5,2069.1L625.5,2075.2L626.4,2065.9L627.4,2068.5L628.3,2079.0L629.3,2076.9L630.2,2079.0L631.2,2089.3L632.1,2089.2L633.1,2096.4L634.0,2092.6L635.0,2108.7L635.9,2105.2L636.9,2127.0L637.9,2135.3L638.8,2127.1L639.8,2127.8L640.7,2127.1L641.7,2128.2L642.6,2133.1L643.6,2135.1L644.5,2134.4L645.5,2136.5L646.4,2132.2L647.4,2126.2L648.3,2116.7L649.3,2095.0L650.2,2088.1L651.2,2081.6L652.1,2075.9L653.1,2080.9L654.0,2077.1L655.0,2067.4L655.9,2056.2L656.9,2051.0L657.8,2057.4L658.8,2062.7L659.7,2061.7L660.7,2048.2L661.6,2055.1L662.6,2065.0L663.5,2072.2L664.5,2078.3L665.4,2094.4L666.4,2087.0L667.4,2088.5L668.3,2092.5L669.3,2098.2L670.2,2102.5L671.2,2093.5L672.1,2083.8L673.1,2088.2L674.0,2095.3L675.0,2105.5L675.9,2108.7L676.9,2097.1L677.8,2095.9L678.8,2090.0L679.7,2075.9L680.7,2073.4L681.6,2070.2L682.6,2068.9L683.5,2049.1L684.5,2054.5L685.4,2058.4L686.4,2052.3L687.3,2058.8L688.3,2066.1L689.2,2079.1L690.2,2085.2L691.1,2074.5L692.1,2081.4L693.0,2094.9L694.0,2091.0" fill="none" stroke="#ad5625" stroke-width="2.8" stroke-linejoin="round"/>
<line x1="123.0" y1="2092.0" x2="694.0" y2="2092.0" stroke="#000" stroke-width="1.8"/>
<line x1="123.0" y1="1897.0" x2="123.0" y2="2353.0" stroke="#000" stroke-width="2"/>
<line x1="122.0" y1="2352.0" x2="695.0" y2="2352.0" stroke="#000" stroke-width="2"/>
<line x1="117.0" y1="1962.0" x2="123.0" y2="1962.0" stroke="#000" stroke-width="1.8"/>
<text x="112.0" y="1971.2" font-size="26" text-anchor="end" fill="#231f20">0.2</text>
<line x1="117.0" y1="2092.0" x2="123.0" y2="2092.0" stroke="#000" stroke-width="1.8"/>
<text x="112.0" y="2101.2" font-size="26" text-anchor="end" fill="#231f20">0.0</text>
<line x1="117.0" y1="2222.0" x2="123.0" y2="2222.0" stroke="#000" stroke-width="1.8"/>
<text x="112.0" y="2231.2" font-size="26" text-anchor="end" fill="#231f20">-0.2</text>
<line x1="117.0" y1="2352.0" x2="123.0" y2="2352.0" stroke="#000" stroke-width="1.8"/>
<text x="112.0" y="2361.2" font-size="26" text-anchor="end" fill="#231f20">-0.4</text>
<line x1="123.0" y1="2352.0" x2="123.0" y2="2359.0" stroke="#000" stroke-width="1.8"/>
<text x="123.0" y="2382.0" font-size="26" text-anchor="middle" fill="#231f20">0</text>
<line x1="313.3" y1="2352.0" x2="313.3" y2="2359.0" stroke="#000" stroke-width="1.8"/>
<text x="313.3" y="2382.0" font-size="26" text-anchor="middle" fill="#231f20">10</text>
<line x1="503.7" y1="2352.0" x2="503.7" y2="2359.0" stroke="#000" stroke-width="1.8"/>
<text x="503.7" y="2382.0" font-size="26" text-anchor="middle" fill="#231f20">20</text>
<line x1="694.0" y1="2352.0" x2="694.0" y2="2359.0" stroke="#000" stroke-width="1.8"/>
<text x="694.0" y="2382.0" font-size="26" text-anchor="middle" fill="#231f20">30</text>
<text x="416.0" y="2419.0" font-size="34" text-anchor="middle" fill="#231f20">Time (s)</text>
<text x="731.0" y="1867.0" font-size="59" font-weight="bold" fill="#231f20">J</text>
<text x="1039.0" y="1897.9" font-size="42" text-anchor="middle" fill="#231f20" textLength="213" lengthAdjust="spacingAndGlyphs">1.0mM ATR</text>
<rect x="948.2" y="1897.0" width="191.2" height="455.0" fill="#d9eedd"/>
<path d="M757.0,2142.8L758.0,2146.5L758.9,2140.1L759.9,2121.8L760.8,2121.4L761.8,2129.5L762.7,2109.4L763.7,2106.8L764.6,2100.9L765.6,2120.6L766.6,2112.5L767.5,2105.1L768.5,2072.7L769.4,2090.8L770.4,2087.0L771.3,2090.9L772.3,2081.4L773.2,2082.4L774.2,2075.9L775.2,2073.5L776.1,2078.5L777.1,2076.1L778.0,2085.0L779.0,2073.0L779.9,2082.1L780.9,2051.5L781.9,2052.4L782.8,2054.9L783.8,2058.2L784.7,2030.8L785.7,2050.7L786.6,2041.1L787.6,2047.2L788.5,2030.0L789.5,2052.5L790.5,2060.1L791.4,2050.5L792.4,2049.8L793.3,2064.2L794.3,2036.1L795.2,2042.5L796.2,2022.2L797.1,2042.9L798.1,2046.6L799.1,2038.2L800.0,2048.3L801.0,2053.1L801.9,2047.0L802.9,2027.8L803.8,2034.7L804.8,2041.3L805.7,2049.3L806.7,2048.9L807.7,2043.9L808.6,2031.7L809.6,2013.0L810.5,2013.7L811.5,2009.5L812.4,2003.9L813.4,2017.4L814.4,2020.8L815.3,2039.6L816.3,2042.4L817.2,2044.7L818.2,2030.6L819.1,2049.6L820.1,2065.8L821.0,2057.0L822.0,2038.7L823.0,2029.2L823.9,2014.4L824.9,2025.4L825.8,2015.9L826.8,2018.7L827.7,2029.6L828.7,2035.8L829.6,2032.3L830.6,2055.3L831.6,2030.8L832.5,2037.8L833.5,2053.1L834.4,2046.9L835.4,2055.1L836.3,2030.6L837.3,2045.7L838.2,2029.5L839.2,2005.1L840.2,2029.4L841.1,2032.4L842.1,2045.6L843.0,2024.8L844.0,2034.0L844.9,2048.7L845.9,2045.6L846.8,2052.0L847.8,2047.2L848.8,2052.4L849.7,2041.2L850.7,2021.4L851.6,2031.0L852.6,2002.9L853.5,2006.8L854.5,2004.7L855.5,2018.6L856.4,2017.8L857.4,2032.2L858.3,2026.1L859.3,2025.4L860.2,2026.2L861.2,2018.0L862.1,2014.6L863.1,2027.9L864.1,2024.6L865.0,2018.7L866.0,2019.4L866.9,2031.2L867.9,2007.5L868.8,2019.3L869.8,2030.0L870.7,2023.2L871.7,2029.8L872.7,2042.1L873.6,2019.6L874.6,2040.0L875.5,2028.9L876.5,2035.3L877.4,2028.6L878.4,2045.4L879.3,2030.5L880.3,2034.4L881.3,2036.1L882.2,2039.6L883.2,2040.0L884.1,2049.5L885.1,2063.0L886.0,2068.4L887.0,2057.5L887.9,2049.1L888.9,2053.3L889.9,2063.6L890.8,2071.6L891.8,2070.3L892.7,2063.6L893.7,2068.4L894.6,2068.1L895.6,2075.4L896.6,2077.3L897.5,2064.2L898.5,2062.6L899.4,2068.9L900.4,2068.3L901.3,2045.6L902.3,2046.0L903.2,2051.2L904.2,2053.6L905.2,2052.9L906.1,2053.1L907.1,2054.4L908.0,2047.6L909.0,2039.8L909.9,2050.7L910.9,2040.5L911.8,2025.9L912.8,2023.3L913.8,2014.8L914.7,2005.8L915.7,2010.4L916.6,2030.1L917.6,2045.1L918.5,2058.7L919.5,2046.0L920.4,2065.9L921.4,2057.1L922.4,2050.1L923.3,2061.4L924.3,2046.9L925.2,2053.6L926.2,2068.8L927.1,2063.1L928.1,2092.1L929.0,2089.9L930.0,2064.6L931.0,2049.1L931.9,2078.5L932.9,2070.9L933.8,2061.1L934.8,2070.9L935.7,2074.6L936.7,2076.8L937.7,2069.7L938.6,2068.6L939.6,2068.5L940.5,2070.6L941.5,2075.2L942.4,2072.8L943.4,2079.8L944.3,2075.9L945.3,2074.0L946.3,2057.5L947.2,2073.4L948.2,2075.6L949.1,2057.4L950.1,2043.9L951.0,2043.3L952.0,2042.3L952.9,2056.0L953.9,2061.0L954.9,2059.9L955.8,2049.4L956.8,2054.2L957.7,2055.5L958.7,2054.9L959.6,2038.8L960.6,2036.5L961.5,2049.2L962.5,2039.9L963.5,2041.6L964.4,2021.1L965.4,2028.5L966.3,2024.2L967.3,2033.2L968.2,2034.4L969.2,2040.5L970.2,2058.9L971.1,2035.7L972.1,2037.3L973.0,2034.6L974.0,2054.5L974.9,2035.1L975.9,2056.2L976.8,2058.6L977.8,2055.0L978.8,2049.1L979.7,2052.3L980.7,2060.6L981.6,2051.4L982.6,2057.4L983.5,2068.2L984.5,2090.7L985.4,2066.2L986.4,2055.9L987.4,2074.8L988.3,2065.8L989.3,2062.5L990.2,2082.0L991.2,2055.0L992.1,2079.3L993.1,2066.9L994.0,2086.0L995.0,2065.9L996.0,2070.7L996.9,2061.7L997.9,2089.0L998.8,2098.1L999.8,2092.7L1000.7,2095.6L1001.7,2081.3L1002.6,2076.9L1003.6,2083.4L1004.6,2102.4L1005.5,2107.1L1006.5,2103.7L1007.4,2090.4L1008.4,2099.5L1009.3,2094.1L1010.3,2084.5L1011.3,2103.5L1012.2,2093.9L1013.2,2104.6L1014.1,2124.4L1015.1,2118.3L1016.0,2118.7L1017.0,2127.5L1017.9,2128.2L1018.9,2121.4L1019.9,2125.9L1020.8,2118.2L1021.8,2107.1L1022.7,2097.0L1023.7,2078.0L1024.6,2103.2L1025.6,2104.3L1026.5,2092.1L1027.5,2078.7L1028.5,2083.4L1029.4,2068.9L1030.4,2078.7L1031.3,2083.1L1032.3,2084.1L1033.2,2083.1L1034.2,2055.4L1035.1,2074.4L1036.1,2076.0L1037.1,2053.2L1038.0,2054.9L1039.0,2063.6L1039.9,2062.7L1040.9,2062.9L1041.8,2067.7L1042.8,2053.6L1043.8,2038.9L1044.7,2040.7L1045.7,2054.2L1046.6,2054.6L1047.6,2052.6L1048.5,2049.6L1049.5,2044.3L1050.4,2040.9L1051.4,2049.3L1052.4,2071.9L1053.3,2070.3L1054.3,2052.2L1055.2,2065.0L1056.2,2056.7L1057.1,2059.4L1058.1,2053.2L1059.0,2068.8L1060.0,2071.1L1061.0,2071.9L1061.9,2090.4L1062.9,2080.1L1063.8,2084.7L1064.8,2063.9L1065.7,2077.9L1066.7,2060.8L1067.6,2070.2L1068.6,2077.0L1069.6,2068.3L1070.5,2063.1L1071.5,2050.7L1072.4,2070.6L1073.4,2058.7L1074.3,2070.2L1075.3,2072.8L1076.2,2063.0L1077.2,2067.1L1078.2,2061.8L1079.1,2061.4L1080.1,2065.7L1081.0,2056.0L1082.0,2057.5L1082.9,2051.0L1083.9,2069.1L1084.9,2058.1L1085.8,2055.6L1086.8,2056.1L1087.7,2074.3L1088.7,2069.3L1089.6,2055.4L1090.6,2069.3L1091.5,2059.3L1092.5,2052.6L1093.5,2061.3L1094.4,2067.3L1095.4,2064.8L1096.3,2044.3L1097.3,2053.4L1098.2,2052.4L1099.2,2050.7L1100.1,2054.0L1101.1,2054.1L1102.1,2047.3L1103.0,2019.1L1104.0,2034.5L1104.9,2053.5L1105.9,2037.3L1106.8,2054.2L1107.8,2046.0L1108.7,2048.9L1109.7,2036.8L1110.7,2040.6L1111.6,2024.8L1112.6,2029.5L1113.5,2022.9L1114.5,2038.4L1115.4,2032.7L1116.4,2041.7L1117.3,2036.5L1118.3,2025.8L1119.3,2035.9L1120.2,2040.6L1121.2,2033.7L1122.1,2039.3L1123.1,2039.3L1124.0,2056.4L1125.0,2053.9L1126.0,2048.8L1126.9,2048.9L1127.9,2065.2L1128.8,2061.9L1129.8,2043.2L1130.7,2055.0L1131.7,2044.3L1132.6,2033.9L1133.6,2016.4L1134.6,2030.0L1135.5,2047.2L1136.5,2049.3L1137.4,2043.2L1138.4,2032.5L1139.3,2043.7L1140.3,2052.0L1141.2,2051.7L1142.2,2058.0L1143.2,2060.2L1144.1,2055.0L1145.1,2072.9L1146.0,2072.8L1147.0,2057.9L1147.9,2062.7L1148.9,2077.1L1149.8,2093.0L1150.8,2098.5L1151.8,2097.4L1152.7,2106.8L1153.7,2098.6L1154.6,2086.9L1155.6,2096.5L1156.5,2109.6L1157.5,2098.4L1158.5,2084.9L1159.4,2086.1L1160.4,2087.5L1161.3,2084.8L1162.3,2117.6L1163.2,2125.5L1164.2,2120.1L1165.1,2107.1L1166.1,2116.6L1167.1,2116.9L1168.0,2111.3L1169.0,2124.9L1169.9,2120.0L1170.9,2115.8L1171.8,2111.5L1172.8,2118.5L1173.7,2112.4L1174.7,2096.9L1175.7,2094.2L1176.6,2085.1L1177.6,2088.7L1178.5,2089.4L1179.5,2060.3L1180.4,2056.9L1181.4,2057.7L1182.3,2070.0L1183.3,2070.7L1184.3,2077.4L1185.2,2059.1L1186.2,2085.7L1187.1,2063.7L1188.1,2072.4L1189.0,2077.2L1190.0,2071.8L1190.9,2046.4L1191.9,2050.8L1192.9,2048.1L1193.8,2038.9L1194.8,2047.6L1195.7,2049.2L1196.7,2054.0L1197.6,2068.1L1198.6,2038.3L1199.6,2054.6L1200.5,2065.9L1201.5,2056.7L1202.4,2049.5L1203.4,2062.2L1204.3,2051.9L1205.3,2052.2L1206.2,2046.0L1207.2,2050.7L1208.2,2057.2L1209.1,2045.4L1210.1,2062.3L1211.0,2055.0L1212.0,2056.8L1212.9,2061.5L1213.9,2069.6L1214.8,2062.7L1215.8,2065.4L1216.8,2058.9L1217.7,2063.0L1218.7,2080.2L1219.6,2073.3L1220.6,2064.7L1221.5,2084.8L1222.5,2095.9L1223.4,2080.7L1224.4,2066.8L1225.4,2073.1L1226.3,2070.6L1227.3,2075.7L1228.2,2086.2L1229.2,2076.9L1230.1,2082.7L1231.1,2081.7L1232.0,2091.8L1233.0,2089.3L1234.0,2083.2L1234.9,2082.2L1235.9,2074.5L1236.8,2079.0L1237.8,2071.2L1238.7,2087.9L1239.7,2077.6L1240.7,2077.2L1241.6,2087.0L1242.6,2080.2L1243.5,2075.0L1244.5,2067.8L1245.4,2075.8L1246.4,2095.5L1247.3,2089.4L1248.3,2078.2L1249.3,2093.2L1250.2,2086.5L1251.2,2077.6L1252.1,2058.2L1253.1,2060.7L1254.0,2075.8L1255.0,2087.0L1255.9,2084.0L1256.9,2103.2L1257.9,2104.0L1258.8,2100.0L1259.8,2098.3L1260.7,2093.6L1261.7,2093.8L1262.6,2098.8L1263.6,2083.5L1264.5,2105.6L1265.5,2094.8L1266.5,2097.4L1267.4,2100.0L1268.4,2118.2L1269.3,2114.8L1270.3,2093.4L1271.2,2086.3L1272.2,2099.3L1273.2,2084.4L1274.1,2085.6L1275.1,2083.8L1276.0,2089.4L1277.0,2100.2L1277.9,2100.0L1278.9,2088.9L1279.8,2079.6L1280.8,2075.0L1281.8,2071.0L1282.7,2078.3L1283.7,2065.0L1284.6,2059.9L1285.6,2028.8L1286.5,2050.2L1287.5,2039.6L1288.4,2036.3L1289.4,2029.7L1290.4,2025.0L1291.3,2030.4L1292.3,2050.6L1293.2,2043.9L1294.2,2046.2L1295.1,2047.0L1296.1,2035.2L1297.0,2023.1L1298.0,2021.1L1299.0,2030.5L1299.9,2036.0L1300.9,2038.4L1301.8,2030.2L1302.8,2032.7L1303.7,2033.0L1304.7,2026.1L1305.6,2029.7L1306.6,2049.2L1307.6,2040.8L1308.5,2039.9L1309.5,2046.0L1310.4,2053.8L1311.4,2032.7L1312.3,2025.7L1313.3,2009.5L1314.3,2032.9L1315.2,2039.5L1316.2,2025.3L1317.1,2025.2L1318.1,2019.5L1319.0,2005.7L1320.0,1994.0L1320.9,2015.2L1321.9,2035.5L1322.9,2038.8L1323.8,2028.2L1324.8,2025.7L1325.7,2022.8L1326.7,2047.0L1327.6,2060.6L1328.6,2069.4L1329.5,2079.1L1330.5,2071.8L1330.5,2181.3L1329.5,2179.7L1328.6,2185.5L1327.6,2168.6L1326.7,2168.5L1325.7,2157.0L1324.8,2156.6L1323.8,2149.1L1322.9,2144.5L1321.9,2138.5L1320.9,2118.2L1320.0,2113.6L1319.0,2122.9L1318.1,2125.7L1317.1,2125.1L1316.2,2115.7L1315.2,2134.3L1314.3,2141.5L1313.3,2140.6L1312.3,2139.0L1311.4,2139.2L1310.4,2152.0L1309.5,2149.5L1308.5,2142.2L1307.6,2141.8L1306.6,2141.9L1305.6,2154.8L1304.7,2139.7L1303.7,2142.0L1302.8,2140.2L1301.8,2136.3L1300.9,2138.4L1299.9,2154.7L1299.0,2150.3L1298.0,2156.8L1297.0,2164.5L1296.1,2166.3L1295.1,2145.1L1294.2,2157.3L1293.2,2181.4L1292.3,2171.6L1291.3,2162.3L1290.4,2175.1L1289.4,2153.0L1288.4,2157.5L1287.5,2161.1L1286.5,2162.6L1285.6,2167.9L1284.6,2193.2L1283.7,2205.0L1282.7,2211.7L1281.8,2197.1L1280.8,2185.4L1279.8,2207.1L1278.9,2218.1L1277.9,2220.8L1277.0,2222.5L1276.0,2226.0L1275.1,2201.9L1274.1,2212.6L1273.2,2214.5L1272.2,2210.3L1271.2,2213.3L1270.3,2191.6L1269.3,2204.2L1268.4,2230.2L1267.4,2215.2L1266.5,2221.9L1265.5,2218.7L1264.5,2224.8L1263.6,2207.2L1262.6,2178.0L1261.7,2165.1L1260.7,2165.5L1259.8,2170.4L1258.8,2168.5L1257.9,2184.3L1256.9,2162.9L1255.9,2162.8L1255.0,2161.9L1254.0,2151.9L1253.1,2150.9L1252.1,2167.1L1251.2,2161.6L1250.2,2163.1L1249.3,2159.1L1248.3,2159.7L1247.3,2158.2L1246.4,2172.2L1245.4,2154.7L1244.5,2153.7L1243.5,2160.0L1242.6,2156.9L1241.6,2163.7L1240.7,2166.6L1239.7,2153.7L1238.7,2164.8L1237.8,2161.4L1236.8,2170.1L1235.9,2180.8L1234.9,2157.0L1234.0,2155.1L1233.0,2143.8L1232.0,2144.1L1231.1,2121.6L1230.1,2124.5L1229.2,2134.3L1228.2,2132.2L1227.3,2154.3L1226.3,2141.2L1225.4,2148.4L1224.4,2154.3L1223.4,2158.2L1222.5,2160.9L1221.5,2164.1L1220.6,2161.1L1219.6,2149.2L1218.7,2158.4L1217.7,2146.1L1216.8,2146.1L1215.8,2160.9L1214.8,2157.1L1213.9,2147.9L1212.9,2137.7L1212.0,2147.2L1211.0,2152.8L1210.1,2147.7L1209.1,2130.1L1208.2,2147.8L1207.2,2135.2L1206.2,2115.9L1205.3,2121.0L1204.3,2119.9L1203.4,2120.7L1202.4,2127.7L1201.5,2125.5L1200.5,2149.5L1199.6,2140.9L1198.6,2145.5L1197.6,2151.3L1196.7,2147.1L1195.7,2143.4L1194.8,2122.8L1193.8,2115.7L1192.9,2125.3L1191.9,2141.4L1190.9,2141.8L1190.0,2148.9L1189.0,2136.5L1188.1,2139.4L1187.1,2132.9L1186.2,2144.9L1185.2,2149.2L1184.3,2163.3L1183.3,2147.8L1182.3,2130.8L1181.4,2134.3L1180.4,2116.2L1179.5,2131.9L1178.5,2141.7L1177.6,2140.9L1176.6,2164.2L1175.7,2176.4L1174.7,2189.3L1173.7,2184.0L1172.8,2183.1L1171.8,2184.7L1170.9,2175.0L1169.9,2165.7L1169.0,2173.8L1168.0,2183.6L1167.1,2184.2L1166.1,2188.4L1165.1,2173.5L1164.2,2167.5L1163.2,2173.6L1162.3,2161.6L1161.3,2162.1L1160.4,2158.4L1159.4,2145.5L1158.5,2160.7L1157.5,2176.3L1156.5,2162.7L1155.6,2172.4L1154.6,2167.7L1153.7,2173.2L1152.7,2157.9L1151.8,2137.0L1150.8,2165.7L1149.8,2148.2L1148.9,2123.8L1147.9,2112.9L1147.0,2126.7L1146.0,2124.6L1145.1,2126.2L1144.1,2117.9L1143.2,2121.0L1142.2,2105.8L1141.2,2105.0L1140.3,2107.6L1139.3,2096.7L1138.4,2115.9L1137.4,2128.4L1136.5,2121.7L1135.5,2113.4L1134.6,2097.1L1133.6,2103.2L1132.6,2121.2L1131.7,2122.2L1130.7,2137.8L1129.8,2127.9L1128.8,2113.3L1127.9,2124.8L1126.9,2131.5L1126.0,2130.8L1125.0,2111.8L1124.0,2134.8L1123.1,2146.4L1122.1,2140.3L1121.2,2128.5L1120.2,2136.3L1119.3,2122.6L1118.3,2129.1L1117.3,2103.6L1116.4,2117.8L1115.4,2108.3L1114.5,2120.3L1113.5,2116.2L1112.6,2128.8L1111.6,2114.6L1110.7,2120.2L1109.7,2109.0L1108.7,2120.4L1107.8,2108.8L1106.8,2111.1L1105.9,2098.6L1104.9,2103.9L1104.0,2111.8L1103.0,2106.9L1102.1,2108.3L1101.1,2120.5L1100.1,2111.7L1099.2,2104.5L1098.2,2100.1L1097.3,2115.4L1096.3,2111.2L1095.4,2128.1L1094.4,2115.3L1093.5,2112.8L1092.5,2114.3L1091.5,2107.4L1090.6,2123.2L1089.6,2115.8L1088.7,2120.9L1087.7,2137.9L1086.8,2136.8L1085.8,2130.3L1084.9,2125.5L1083.9,2134.0L1082.9,2144.4L1082.0,2139.3L1081.0,2154.6L1080.1,2155.9L1079.1,2134.2L1078.2,2142.0L1077.2,2139.0L1076.2,2130.5L1075.3,2142.4L1074.3,2152.3L1073.4,2131.9L1072.4,2137.5L1071.5,2143.3L1070.5,2116.4L1069.6,2119.7L1068.6,2122.5L1067.6,2150.0L1066.7,2123.3L1065.7,2130.2L1064.8,2144.7L1063.8,2161.3L1062.9,2159.6L1061.9,2165.6L1061.0,2147.7L1060.0,2153.9L1059.0,2143.6L1058.1,2121.1L1057.1,2099.8L1056.2,2111.4L1055.2,2127.7L1054.3,2136.6L1053.3,2142.3L1052.4,2147.0L1051.4,2146.9L1050.4,2124.5L1049.5,2127.7L1048.5,2129.3L1047.6,2150.2L1046.6,2149.5L1045.7,2137.4L1044.7,2117.6L1043.8,2118.6L1042.8,2139.6L1041.8,2149.3L1040.9,2174.4L1039.9,2149.9L1039.0,2151.7L1038.0,2138.1L1037.1,2148.5L1036.1,2152.0L1035.1,2164.6L1034.2,2162.7L1033.2,2163.0L1032.3,2176.5L1031.3,2182.9L1030.4,2168.6L1029.4,2170.3L1028.5,2167.2L1027.5,2163.4L1026.5,2170.2L1025.6,2196.5L1024.6,2163.2L1023.7,2157.8L1022.7,2158.7L1021.8,2164.3L1020.8,2177.6L1019.9,2178.6L1018.9,2185.0L1017.9,2217.2L1017.0,2204.2L1016.0,2187.4L1015.1,2192.7L1014.1,2209.3L1013.2,2203.1L1012.2,2214.3L1011.3,2207.3L1010.3,2186.3L1009.3,2185.5L1008.4,2164.5L1007.4,2171.2L1006.5,2190.8L1005.5,2174.8L1004.6,2158.7L1003.6,2151.9L1002.6,2166.5L1001.7,2139.1L1000.7,2141.4L999.8,2139.0L998.8,2161.5L997.9,2140.8L996.9,2147.1L996.0,2137.4L995.0,2143.9L994.0,2147.3L993.1,2142.4L992.1,2134.5L991.2,2137.2L990.2,2154.4L989.3,2128.8L988.3,2122.3L987.4,2126.5L986.4,2115.9L985.4,2118.2L984.5,2136.9L983.5,2128.9L982.6,2128.0L981.6,2124.7L980.7,2130.9L979.7,2141.1L978.8,2140.8L977.8,2156.1L976.8,2142.0L975.9,2127.7L974.9,2123.0L974.0,2106.2L973.0,2102.6L972.1,2109.2L971.1,2099.4L970.2,2112.2L969.2,2083.7L968.2,2104.5L967.3,2102.3L966.3,2114.2L965.4,2111.6L964.4,2108.6L963.5,2114.4L962.5,2117.9L961.5,2115.8L960.6,2098.1L959.6,2115.4L958.7,2121.2L957.7,2115.0L956.8,2110.0L955.8,2095.8L954.9,2102.6L953.9,2111.5L952.9,2117.3L952.0,2130.7L951.0,2134.8L950.1,2123.4L949.1,2125.1L948.2,2136.5L947.2,2136.0L946.3,2115.9L945.3,2126.5L944.3,2125.7L943.4,2140.2L942.4,2132.0L941.5,2135.9L940.5,2130.8L939.6,2137.4L938.6,2154.1L937.7,2146.3L936.7,2138.1L935.7,2128.2L934.8,2124.3L933.8,2137.2L932.9,2150.7L931.9,2152.1L931.0,2145.6L930.0,2162.4L929.0,2157.9L928.1,2174.5L927.1,2153.0L926.2,2147.6L925.2,2130.0L924.3,2132.8L923.3,2135.9L922.4,2131.4L921.4,2124.6L920.4,2130.3L919.5,2098.1L918.5,2114.1L917.6,2105.9L916.6,2082.5L915.7,2074.4L914.7,2061.4L913.8,2081.3L912.8,2087.1L911.8,2074.3L910.9,2083.0L909.9,2108.0L909.0,2119.0L908.0,2122.8L907.1,2131.8L906.1,2123.9L905.2,2136.8L904.2,2146.3L903.2,2163.9L902.3,2147.5L901.3,2157.8L900.4,2157.5L899.4,2146.7L898.5,2125.1L897.5,2128.9L896.6,2143.4L895.6,2129.5L894.6,2132.1L893.7,2121.4L892.7,2119.4L891.8,2147.7L890.8,2143.9L889.9,2144.6L888.9,2140.5L887.9,2122.6L887.0,2127.7L886.0,2110.9L885.1,2101.0L884.1,2095.6L883.2,2095.9L882.2,2094.6L881.3,2099.1L880.3,2095.6L879.3,2111.4L878.4,2113.0L877.4,2120.6L876.5,2099.6L875.5,2103.5L874.6,2113.1L873.6,2127.1L872.7,2109.3L871.7,2107.5L870.7,2113.1L869.8,2124.6L868.8,2108.7L867.9,2103.5L866.9,2118.9L866.0,2096.3L865.0,2105.3L864.1,2093.3L863.1,2083.1L862.1,2087.5L861.2,2096.0L860.2,2109.8L859.3,2085.0L858.3,2091.7L857.4,2081.2L856.4,2080.7L855.5,2099.1L854.5,2105.0L853.5,2090.5L852.6,2108.6L851.6,2093.2L850.7,2101.8L849.7,2121.0L848.8,2125.7L847.8,2105.7L846.8,2105.2L845.9,2102.9L844.9,2115.5L844.0,2111.6L843.0,2117.1L842.1,2124.4L841.1,2117.4L840.2,2114.9L839.2,2100.7L838.2,2108.5L837.3,2108.5L836.3,2122.4L835.4,2134.1L834.4,2124.7L833.5,2119.6L832.5,2119.2L831.6,2110.4L830.6,2109.2L829.6,2099.3L828.7,2112.5L827.7,2107.0L826.8,2096.7L825.8,2113.3L824.9,2108.3L823.9,2096.1L823.0,2096.8L822.0,2098.1L821.0,2113.5L820.1,2122.5L819.1,2107.6L818.2,2105.8L817.2,2106.4L816.3,2104.4L815.3,2116.7L814.4,2113.8L813.4,2103.5L812.4,2115.5L811.5,2101.3L810.5,2100.7L809.6,2106.1L808.6,2113.2L807.7,2100.0L806.7,2099.6L805.7,2088.3L804.8,2078.0L803.8,2089.8L802.9,2096.3L801.9,2086.0L801.0,2101.0L800.0,2106.9L799.1,2093.2L798.1,2108.7L797.1,2101.8L796.2,2093.3L795.2,2106.6L794.3,2105.4L793.3,2118.9L792.4,2112.4L791.4,2110.2L790.5,2106.9L789.5,2107.6L788.5,2115.0L787.6,2103.4L786.6,2118.8L785.7,2113.5L784.7,2096.9L783.8,2124.9L782.8,2136.9L781.9,2137.8L780.9,2139.2L779.9,2149.4L779.0,2153.3L778.0,2174.7L777.1,2145.0L776.1,2166.6L775.2,2146.6L774.2,2142.0L773.2,2153.3L772.3,2160.3L771.3,2161.9L770.4,2155.5L769.4,2144.9L768.5,2168.2L767.5,2166.2L766.6,2171.3L765.6,2176.7L764.6,2170.2L763.7,2182.5L762.7,2204.4L761.8,2191.6L760.8,2190.8L759.9,2196.6L758.9,2219.2L758.0,2215.5L757.0,2213.0Z" fill="#a8a3a5" fill-opacity="0.36" stroke="#a8a3a5" stroke-opacity="0.45" stroke-width="0.8"/>
<path d="M757.0,2164.5L758.0,2165.9L758.9,2161.9L759.9,2152.3L760.8,2150.0L761.8,2156.6L762.7,2150.6L763.7,2140.2L764.6,2135.2L765.6,2145.0L766.6,2140.4L767.5,2140.0L768.5,2133.7L769.4,2123.9L770.4,2130.1L771.3,2133.6L772.3,2122.6L773.2,2119.3L774.2,2117.4L775.2,2119.3L776.1,2124.1L777.1,2118.2L778.0,2122.6L779.0,2116.8L779.9,2121.0L780.9,2107.1L781.9,2099.8L782.8,2100.9L783.8,2083.4L784.7,2067.4L785.7,2081.3L786.6,2079.0L787.6,2076.1L788.5,2076.6L789.5,2081.9L790.5,2082.6L791.4,2077.7L792.4,2073.1L793.3,2084.1L794.3,2072.1L795.2,2067.9L796.2,2057.4L797.1,2069.6L798.1,2072.5L799.1,2066.3L800.0,2060.6L801.0,2063.6L801.9,2062.9L802.9,2057.5L803.8,2064.2L804.8,2059.2L805.7,2058.1L806.7,2060.5L807.7,2059.8L808.6,2062.4L809.6,2056.6L810.5,2054.4L811.5,2053.9L812.4,2058.2L813.4,2057.8L814.4,2063.6L815.3,2069.2L816.3,2069.0L817.2,2069.9L818.2,2063.2L819.1,2072.6L820.1,2083.4L821.0,2074.6L822.0,2068.2L823.0,2059.7L823.9,2054.4L824.9,2064.3L825.8,2059.2L826.8,2056.7L827.7,2062.3L828.7,2072.6L829.6,2066.7L830.6,2079.6L831.6,2073.5L832.5,2075.8L833.5,2088.9L834.4,2088.1L835.4,2093.1L836.3,2079.3L837.3,2077.6L838.2,2075.3L839.2,2064.7L840.2,2074.3L841.1,2079.8L842.1,2080.4L843.0,2071.0L844.0,2072.9L844.9,2073.4L845.9,2073.7L846.8,2072.8L847.8,2073.0L848.8,2080.3L849.7,2080.5L850.7,2071.5L851.6,2066.7L852.6,2057.4L853.5,2054.4L854.5,2050.2L855.5,2057.9L856.4,2049.8L857.4,2055.8L858.3,2051.7L859.3,2050.7L860.2,2053.4L861.2,2043.6L862.1,2035.2L863.1,2052.8L864.1,2057.6L865.0,2052.5L866.0,2052.2L866.9,2066.2L867.9,2062.8L868.8,2068.0L869.8,2075.2L870.7,2073.1L871.7,2076.4L872.7,2079.5L873.6,2082.4L874.6,2070.9L875.5,2068.9L876.5,2072.1L877.4,2078.8L878.4,2079.1L879.3,2067.3L880.3,2073.6L881.3,2071.1L882.2,2064.7L883.2,2072.4L884.1,2075.3L885.1,2079.2L886.0,2087.3L887.0,2086.3L887.9,2082.8L888.9,2081.5L889.9,2088.5L890.8,2095.4L891.8,2098.8L892.7,2100.8L893.7,2102.1L894.6,2102.8L895.6,2097.6L896.6,2097.6L897.5,2099.3L898.5,2095.5L899.4,2109.4L900.4,2115.4L901.3,2117.0L902.3,2100.8L903.2,2100.3L904.2,2088.8L905.2,2083.8L906.1,2079.4L907.1,2077.4L908.0,2067.2L909.0,2062.4L909.9,2059.5L910.9,2049.2L911.8,2043.0L912.8,2048.8L913.8,2048.6L914.7,2037.9L915.7,2046.8L916.6,2057.5L917.6,2074.8L918.5,2079.7L919.5,2066.3L920.4,2085.7L921.4,2083.9L922.4,2084.0L923.3,2091.7L924.3,2086.1L925.2,2093.8L926.2,2100.8L927.1,2100.2L928.1,2125.0L929.0,2115.0L930.0,2113.8L931.0,2109.8L931.9,2112.3L932.9,2114.1L933.8,2110.4L934.8,2107.8L935.7,2106.9L936.7,2099.8L937.7,2107.8L938.6,2107.8L939.6,2102.4L940.5,2093.2L941.5,2102.1L942.4,2106.7L943.4,2105.5L944.3,2100.3L945.3,2099.9L946.3,2088.8L947.2,2100.9L948.2,2106.6L949.1,2096.7L950.1,2090.9L951.0,2098.0L952.0,2097.5L952.9,2091.8L953.9,2087.8L954.9,2090.4L955.8,2083.9L956.8,2080.3L957.7,2086.9L958.7,2078.2L959.6,2079.6L960.6,2074.6L961.5,2089.7L962.5,2077.6L963.5,2081.1L964.4,2073.9L965.4,2079.4L966.3,2072.7L967.3,2070.3L968.2,2062.5L969.2,2062.4L970.2,2075.7L971.1,2069.0L972.1,2077.2L973.0,2075.1L974.0,2076.4L974.9,2075.0L975.9,2086.8L976.8,2090.0L977.8,2095.2L978.8,2092.5L979.7,2094.9L980.7,2088.2L981.6,2084.3L982.6,2089.7L983.5,2097.4L984.5,2101.3L985.4,2094.9L986.4,2097.8L987.4,2099.9L988.3,2089.8L989.3,2095.6L990.2,2114.0L991.2,2109.8L992.1,2112.5L993.1,2108.6L994.0,2118.7L995.0,2109.4L996.0,2110.8L996.9,2111.7L997.9,2117.0L998.8,2117.5L999.8,2112.3L1000.7,2125.2L1001.7,2126.1L1002.6,2140.2L1003.6,2131.0L1004.6,2142.7L1005.5,2150.6L1006.5,2149.8L1007.4,2137.6L1008.4,2139.6L1009.3,2141.1L1010.3,2136.1L1011.3,2148.7L1012.2,2146.3L1013.2,2144.5L1014.1,2150.9L1015.1,2153.8L1016.0,2156.4L1017.0,2156.0L1017.9,2163.1L1018.9,2148.9L1019.9,2144.4L1020.8,2139.1L1021.8,2134.4L1022.7,2132.5L1023.7,2135.9L1024.6,2139.5L1025.6,2146.8L1026.5,2134.3L1027.5,2122.3L1028.5,2120.5L1029.4,2126.2L1030.4,2123.2L1031.3,2128.3L1032.3,2124.2L1033.2,2125.4L1034.2,2119.3L1035.1,2119.2L1036.1,2116.7L1037.1,2110.2L1038.0,2107.3L1039.0,2106.8L1039.9,2102.0L1040.9,2113.0L1041.8,2109.4L1042.8,2100.7L1043.8,2093.0L1044.7,2092.2L1045.7,2099.6L1046.6,2107.9L1047.6,2110.2L1048.5,2097.7L1049.5,2082.8L1050.4,2083.3L1051.4,2096.7L1052.4,2100.9L1053.3,2105.1L1054.3,2102.9L1055.2,2096.2L1056.2,2089.7L1057.1,2089.5L1058.1,2089.3L1059.0,2104.9L1060.0,2110.6L1061.0,2107.0L1061.9,2111.3L1062.9,2114.4L1063.8,2118.3L1064.8,2105.8L1065.7,2106.0L1066.7,2099.0L1067.6,2099.4L1068.6,2093.9L1069.6,2091.6L1070.5,2084.1L1071.5,2093.5L1072.4,2102.2L1073.4,2095.7L1074.3,2097.3L1075.3,2102.8L1076.2,2097.3L1077.2,2099.6L1078.2,2096.7L1079.1,2089.6L1080.1,2098.7L1081.0,2087.0L1082.0,2091.3L1082.9,2081.0L1083.9,2091.0L1084.9,2094.5L1085.8,2087.8L1086.8,2100.6L1087.7,2097.7L1088.7,2092.2L1089.6,2090.9L1090.6,2097.0L1091.5,2083.8L1092.5,2087.3L1093.5,2085.8L1094.4,2088.8L1095.4,2089.4L1096.3,2075.4L1097.3,2085.1L1098.2,2077.5L1099.2,2078.6L1100.1,2078.3L1101.1,2080.4L1102.1,2074.0L1103.0,2066.2L1104.0,2069.1L1104.9,2077.8L1105.9,2064.9L1106.8,2078.9L1107.8,2074.2L1108.7,2070.8L1109.7,2073.8L1110.7,2071.2L1111.6,2074.2L1112.6,2082.8L1113.5,2081.5L1114.5,2082.2L1115.4,2071.0L1116.4,2084.7L1117.3,2084.3L1118.3,2083.5L1119.3,2084.2L1120.2,2086.6L1121.2,2079.3L1122.1,2088.1L1123.1,2086.6L1124.0,2092.6L1125.0,2087.8L1126.0,2089.8L1126.9,2094.2L1127.9,2094.1L1128.8,2089.9L1129.8,2088.6L1130.7,2092.4L1131.7,2083.6L1132.6,2077.6L1133.6,2064.6L1134.6,2066.1L1135.5,2073.7L1136.5,2083.6L1137.4,2083.5L1138.4,2081.9L1139.3,2070.0L1140.3,2080.5L1141.2,2078.4L1142.2,2083.9L1143.2,2090.3L1144.1,2087.6L1145.1,2094.6L1146.0,2100.6L1147.0,2096.3L1147.9,2102.3L1148.9,2109.1L1149.8,2120.3L1150.8,2126.8L1151.8,2123.3L1152.7,2124.9L1153.7,2124.6L1154.6,2120.2L1155.6,2126.6L1156.5,2128.2L1157.5,2134.8L1158.5,2123.6L1159.4,2127.7L1160.4,2131.0L1161.3,2134.3L1162.3,2138.2L1163.2,2143.7L1164.2,2142.1L1165.1,2150.3L1166.1,2142.3L1167.1,2142.2L1168.0,2143.2L1169.0,2147.3L1169.9,2138.1L1170.9,2137.1L1171.8,2142.5L1172.8,2141.2L1173.7,2141.8L1174.7,2137.2L1175.7,2135.3L1176.6,2122.4L1177.6,2115.2L1178.5,2114.1L1179.5,2105.1L1180.4,2102.0L1181.4,2103.7L1182.3,2108.1L1183.3,2120.9L1184.3,2120.4L1185.2,2113.7L1186.2,2111.4L1187.1,2109.6L1188.1,2113.7L1189.0,2110.6L1190.0,2116.3L1190.9,2098.6L1191.9,2102.4L1192.9,2092.6L1193.8,2081.5L1194.8,2094.3L1195.7,2104.2L1196.7,2108.0L1197.6,2108.5L1198.6,2100.5L1199.6,2102.5L1200.5,2104.5L1201.5,2092.7L1202.4,2096.8L1203.4,2101.2L1204.3,2091.6L1205.3,2084.7L1206.2,2079.2L1207.2,2088.7L1208.2,2094.6L1209.1,2086.2L1210.1,2098.2L1211.0,2097.3L1212.0,2105.8L1212.9,2099.5L1213.9,2108.3L1214.8,2109.4L1215.8,2107.3L1216.8,2096.0L1217.7,2101.9L1218.7,2116.4L1219.6,2108.8L1220.6,2110.1L1221.5,2116.6L1222.5,2118.3L1223.4,2105.7L1224.4,2101.1L1225.4,2097.2L1226.3,2100.4L1227.3,2095.2L1228.2,2099.6L1229.2,2101.0L1230.1,2103.7L1231.1,2101.9L1232.0,2110.4L1233.0,2107.1L1234.0,2108.9L1234.9,2102.4L1235.9,2121.9L1236.8,2119.3L1237.8,2110.2L1238.7,2119.9L1239.7,2115.2L1240.7,2125.0L1241.6,2121.0L1242.6,2116.2L1243.5,2117.0L1244.5,2120.0L1245.4,2123.4L1246.4,2129.6L1247.3,2126.4L1248.3,2120.9L1249.3,2128.6L1250.2,2122.3L1251.2,2125.9L1252.1,2112.3L1253.1,2118.3L1254.0,2115.5L1255.0,2124.6L1255.9,2130.4L1256.9,2134.9L1257.9,2141.6L1258.8,2137.5L1259.8,2130.6L1260.7,2131.5L1261.7,2130.3L1262.6,2143.7L1263.6,2144.4L1264.5,2158.6L1265.5,2157.7L1266.5,2157.9L1267.4,2159.6L1268.4,2170.0L1269.3,2153.9L1270.3,2148.1L1271.2,2149.2L1272.2,2149.6L1273.2,2145.6L1274.1,2155.0L1275.1,2150.6L1276.0,2157.5L1277.0,2158.1L1277.9,2158.0L1278.9,2145.2L1279.8,2135.3L1280.8,2121.7L1281.8,2122.9L1282.7,2134.1L1283.7,2131.7L1284.6,2127.2L1285.6,2112.7L1286.5,2115.7L1287.5,2104.8L1288.4,2097.2L1289.4,2101.7L1290.4,2106.7L1291.3,2098.2L1292.3,2110.6L1293.2,2115.6L1294.2,2104.1L1295.1,2100.2L1296.1,2100.5L1297.0,2087.5L1298.0,2090.6L1299.0,2091.7L1299.9,2088.8L1300.9,2084.7L1301.8,2083.7L1302.8,2090.6L1303.7,2083.4L1304.7,2082.3L1305.6,2082.7L1306.6,2090.2L1307.6,2089.5L1308.5,2086.8L1309.5,2091.2L1310.4,2093.0L1311.4,2091.9L1312.3,2088.2L1313.3,2074.8L1314.3,2083.8L1315.2,2081.2L1316.2,2072.1L1317.1,2073.9L1318.1,2079.7L1319.0,2074.9L1320.0,2070.1L1320.9,2078.7L1321.9,2095.4L1322.9,2099.8L1323.8,2092.9L1324.8,2096.1L1325.7,2087.7L1326.7,2104.3L1327.6,2109.5L1328.6,2121.2L1329.5,2124.9L1330.5,2125.7" fill="none" stroke="#aca7a9" stroke-width="2.8" stroke-linejoin="round"/>
<path d="M757.0,2006.4L758.0,1962.0L758.9,1997.7L759.9,2024.1L760.8,2040.7L761.8,2020.8L762.7,2019.1L763.7,2032.2L764.6,2037.8L765.6,2027.5L766.6,2034.6L767.5,2027.4L768.5,2019.2L769.4,2010.6L770.4,2010.9L771.3,2033.4L772.3,2042.3L773.2,2040.4L774.2,2028.8L775.2,2015.2L776.1,2021.3L777.1,2032.0L778.0,2034.3L779.0,2018.1L779.9,2022.0L780.9,2016.8L781.9,2027.4L782.8,2026.6L783.8,2021.2L784.7,2035.9L785.7,2035.9L786.6,2039.8L787.6,2046.8L788.5,2052.2L789.5,2059.8L790.5,2047.6L791.4,2047.9L792.4,2047.7L793.3,2052.1L794.3,2040.5L795.2,2051.3L796.2,2032.8L797.1,2034.7L798.1,2042.2L799.1,2032.7L800.0,2060.0L801.0,2050.0L801.9,2052.4L802.9,2031.8L803.8,2020.3L804.8,2039.7L805.7,2040.8L806.7,2022.6L807.7,2018.8L808.6,2029.6L809.6,2024.4L810.5,2038.8L811.5,2030.5L812.4,2015.4L813.4,2015.0L814.4,2028.4L815.3,2018.3L816.3,2030.6L817.2,2038.0L818.2,2027.3L819.1,2029.5L820.1,2046.8L821.0,2044.6L822.0,2049.2L823.0,2056.6L823.9,2065.8L824.9,2071.8L825.8,2073.3L826.8,2064.7L827.7,2063.5L828.7,2066.3L829.6,2057.3L830.6,2064.4L831.6,2057.8L832.5,2060.5L833.5,2060.8L834.4,2070.9L835.4,2080.1L836.3,2064.4L837.3,2067.6L838.2,2051.6L839.2,2042.3L840.2,2045.8L841.1,2052.5L842.1,2040.8L843.0,2047.5L844.0,2016.0L844.9,2005.0L845.9,2011.8L846.8,2022.6L847.8,2021.1L848.8,2026.6L849.7,2028.5L850.7,2027.7L851.6,2018.0L852.6,2017.3L853.5,2018.8L854.5,2027.3L855.5,2018.4L856.4,2008.0L857.4,1988.4L858.3,1986.1L859.3,1984.2L860.2,1991.8L861.2,1988.2L862.1,2004.1L863.1,1999.4L864.1,2001.9L865.0,2007.9L866.0,2002.3L866.9,2005.1L867.9,2016.7L868.8,2010.4L869.8,2004.6L870.7,2008.6L871.7,2014.4L872.7,1997.6L873.6,1996.7L874.6,1999.8L875.5,1992.4L876.5,2011.3L877.4,2028.0L878.4,2017.7L879.3,2028.1L880.3,2009.6L881.3,2009.0L882.2,2019.5L883.2,2027.9L884.1,2037.4L885.1,2027.0L886.0,2034.5L887.0,2021.9L887.9,2015.2L888.9,2007.8L889.9,2020.0L890.8,2016.5L891.8,2015.6L892.7,2029.8L893.7,2012.9L894.6,1997.6L895.6,2021.4L896.6,2016.2L897.5,2018.4L898.5,2010.4L899.4,2025.8L900.4,2037.1L901.3,2032.7L902.3,2044.7L903.2,2038.4L904.2,2056.8L905.2,2054.7L906.1,2051.4L907.1,2047.6L908.0,2049.9L909.0,2042.9L909.9,2054.3L910.9,2060.3L911.8,2040.1L912.8,2043.7L913.8,2044.8L914.7,2045.0L915.7,2046.7L916.6,2052.7L917.6,2051.2L918.5,2057.6L919.5,2040.9L920.4,2051.1L921.4,2065.1L922.4,2055.3L923.3,2055.2L924.3,2054.8L925.2,2052.7L926.2,2054.7L927.1,2060.7L928.1,2075.7L929.0,2062.6L930.0,2062.6L931.0,2079.9L931.9,2052.5L932.9,2050.3L933.8,2066.9L934.8,2053.3L935.7,2055.8L936.7,2036.0L937.7,2041.6L938.6,2041.4L939.6,2045.3L940.5,2055.1L941.5,2031.6L942.4,2041.0L943.4,2024.6L944.3,2019.7L945.3,2043.5L946.3,2042.7L947.2,2043.8L948.2,2042.5L949.1,2036.1L950.1,2054.8L951.0,2066.6L952.0,2063.6L952.9,2052.9L953.9,2060.9L954.9,2064.4L955.8,2084.7L956.8,2087.0L957.7,2088.9L958.7,2097.5L959.6,2083.5L960.6,2080.4L961.5,2081.8L962.5,2088.3L963.5,2088.6L964.4,2082.9L965.4,2098.8L966.3,2105.3L967.3,2102.2L968.2,2094.5L969.2,2130.3L970.2,2115.0L971.1,2108.5L972.1,2115.2L973.0,2134.2L974.0,2127.2L974.9,2140.4L975.9,2135.5L976.8,2134.6L977.8,2127.0L978.8,2131.9L979.7,2141.7L980.7,2135.1L981.6,2123.3L982.6,2126.0L983.5,2139.1L984.5,2144.8L985.4,2148.6L986.4,2126.5L987.4,2120.3L988.3,2117.5L989.3,2112.7L990.2,2115.8L991.2,2112.2L992.1,2113.3L993.1,2099.9L994.0,2090.8L995.0,2093.4L996.0,2093.2L996.9,2117.1L997.9,2117.3L998.8,2128.9L999.8,2116.0L1000.7,2091.4L1001.7,2106.4L1002.6,2112.2L1003.6,2082.3L1004.6,2089.8L1005.5,2092.0L1006.5,2103.0L1007.4,2116.1L1008.4,2128.3L1009.3,2112.6L1010.3,2142.8L1011.3,2131.1L1012.2,2141.9L1013.2,2138.9L1014.1,2126.8L1015.1,2143.9L1016.0,2133.8L1017.0,2132.4L1017.9,2142.9L1018.9,2131.1L1019.9,2155.6L1020.8,2156.3L1021.8,2155.2L1022.7,2158.3L1023.7,2138.9L1024.6,2141.9L1025.6,2115.5L1026.5,2101.0L1027.5,2115.6L1028.5,2125.6L1029.4,2124.7L1030.4,2124.0L1031.3,2113.9L1032.3,2124.0L1033.2,2131.0L1034.2,2115.6L1035.1,2103.9L1036.1,2112.5L1037.1,2139.4L1038.0,2125.2L1039.0,2136.8L1039.9,2131.6L1040.9,2136.2L1041.8,2135.3L1042.8,2144.8L1043.8,2147.6L1044.7,2140.0L1045.7,2137.4L1046.6,2153.0L1047.6,2136.9L1048.5,2126.0L1049.5,2117.1L1050.4,2130.9L1051.4,2147.9L1052.4,2135.7L1053.3,2117.5L1054.3,2135.8L1055.2,2133.4L1056.2,2139.8L1057.1,2127.0L1058.1,2136.7L1059.0,2143.8L1060.0,2147.6L1061.0,2132.9L1061.9,2135.8L1062.9,2127.3L1063.8,2120.3L1064.8,2124.7L1065.7,2138.1L1066.7,2130.9L1067.6,2125.0L1068.6,2131.0L1069.6,2148.8L1070.5,2153.0L1071.5,2148.1L1072.4,2146.9L1073.4,2151.0L1074.3,2168.8L1075.3,2154.5L1076.2,2158.3L1077.2,2138.4L1078.2,2136.3L1079.1,2135.9L1080.1,2145.6L1081.0,2143.6L1082.0,2127.2L1082.9,2108.7L1083.9,2116.0L1084.9,2106.3L1085.8,2129.2L1086.8,2133.9L1087.7,2123.7L1088.7,2119.6L1089.6,2139.0L1090.6,2125.6L1091.5,2138.6L1092.5,2135.9L1093.5,2138.3L1094.4,2144.4L1095.4,2145.9L1096.3,2151.6L1097.3,2156.8L1098.2,2137.6L1099.2,2128.1L1100.1,2151.0L1101.1,2154.5L1102.1,2151.4L1103.0,2136.6L1104.0,2140.1L1104.9,2144.9L1105.9,2155.7L1106.8,2165.2L1107.8,2164.6L1108.7,2188.3L1109.7,2176.0L1110.7,2151.9L1111.6,2147.3L1112.6,2155.4L1113.5,2176.7L1114.5,2177.2L1115.4,2181.8L1116.4,2170.7L1117.3,2157.2L1118.3,2175.2L1119.3,2165.0L1120.2,2147.0L1121.2,2160.4L1122.1,2149.5L1123.1,2149.2L1124.0,2149.3L1125.0,2149.5L1126.0,2157.5L1126.9,2157.3L1127.9,2161.3L1128.8,2152.6L1129.8,2130.6L1130.7,2137.2L1131.7,2113.9L1132.6,2124.0L1133.6,2130.9L1134.6,2132.2L1135.5,2124.0L1136.5,2121.1L1137.4,2118.3L1138.4,2123.9L1139.3,2116.7L1140.3,2124.6L1141.2,2130.1L1142.2,2132.4L1143.2,2131.1L1144.1,2140.6L1145.1,2147.3L1146.0,2144.6L1147.0,2143.7L1147.9,2142.3L1148.9,2139.3L1149.8,2143.3L1150.8,2147.3L1151.8,2134.3L1152.7,2139.9L1153.7,2134.3L1154.6,2112.7L1155.6,2111.7L1156.5,2123.6L1157.5,2122.9L1158.5,2125.6L1159.4,2121.7L1160.4,2127.6L1161.3,2129.7L1162.3,2120.7L1163.2,2107.6L1164.2,2109.9L1165.1,2105.3L1166.1,2105.2L1167.1,2106.5L1168.0,2096.0L1169.0,2096.6L1169.9,2088.8L1170.9,2102.7L1171.8,2094.1L1172.8,2080.6L1173.7,2091.9L1174.7,2086.5L1175.7,2083.9L1176.6,2091.6L1177.6,2107.8L1178.5,2113.3L1179.5,2106.6L1180.4,2108.0L1181.4,2103.2L1182.3,2094.8L1183.3,2099.2L1184.3,2120.7L1185.2,2119.0L1186.2,2120.4L1187.1,2107.9L1188.1,2098.1L1189.0,2108.7L1190.0,2116.6L1190.9,2095.6L1191.9,2105.3L1192.9,2113.2L1193.8,2105.8L1194.8,2108.9L1195.7,2091.2L1196.7,2081.8L1197.6,2088.6L1198.6,2094.6L1199.6,2096.6L1200.5,2094.3L1201.5,2105.2L1202.4,2115.8L1203.4,2118.2L1204.3,2120.8L1205.3,2112.8L1206.2,2107.7L1207.2,2109.2L1208.2,2109.7L1209.1,2097.7L1210.1,2086.3L1211.0,2102.4L1212.0,2108.2L1212.9,2099.3L1213.9,2102.3L1214.8,2112.4L1215.8,2115.0L1216.8,2118.8L1217.7,2106.2L1218.7,2089.0L1219.6,2101.6L1220.6,2091.2L1221.5,2090.2L1222.5,2103.1L1223.4,2110.7L1224.4,2112.4L1225.4,2113.6L1226.3,2112.8L1227.3,2113.7L1228.2,2113.4L1229.2,2117.6L1230.1,2123.2L1231.1,2130.8L1232.0,2133.0L1233.0,2117.7L1234.0,2113.5L1234.9,2094.3L1235.9,2112.9L1236.8,2094.5L1237.8,2094.6L1238.7,2091.5L1239.7,2097.9L1240.7,2095.9L1241.6,2073.3L1242.6,2078.8L1243.5,2086.2L1244.5,2101.4L1245.4,2080.9L1246.4,2089.4L1247.3,2095.4L1248.3,2087.0L1249.3,2085.0L1250.2,2093.9L1251.2,2099.8L1252.1,2106.9L1253.1,2083.5L1254.0,2087.9L1255.0,2093.1L1255.9,2092.2L1256.9,2077.0L1257.9,2083.2L1258.8,2093.9L1259.8,2097.4L1260.7,2107.3L1261.7,2092.7L1262.6,2082.5L1263.6,2093.7L1264.5,2089.3L1265.5,2110.2L1266.5,2105.5L1267.4,2091.2L1268.4,2100.4L1269.3,2091.4L1270.3,2104.5L1271.2,2102.6L1272.2,2093.2L1273.2,2070.6L1274.1,2082.4L1275.1,2087.2L1276.0,2086.2L1277.0,2090.2L1277.9,2079.1L1278.9,2075.2L1279.8,2074.3L1280.8,2086.9L1281.8,2062.5L1282.7,2074.7L1283.7,2102.1L1284.6,2093.5L1285.6,2081.6L1286.5,2084.2L1287.5,2082.4L1288.4,2067.1L1289.4,2100.4L1290.4,2123.8L1291.3,2110.1L1292.3,2118.1L1293.2,2097.1L1294.2,2086.1L1295.1,2085.2L1296.1,2083.1L1297.0,2096.5L1298.0,2092.5L1299.0,2107.7L1299.9,2104.7L1300.9,2099.1L1301.8,2102.8L1302.8,2075.7L1303.7,2074.7L1304.7,2073.6L1305.6,2091.6L1306.6,2094.1L1307.6,2090.5L1308.5,2103.7L1309.5,2100.7L1310.4,2081.9L1311.4,2095.1L1312.3,2082.3L1313.3,2079.8L1314.3,2067.2L1315.2,2078.5L1316.2,2069.9L1317.1,2078.7L1318.1,2073.1L1319.0,2080.9L1320.0,2068.9L1320.9,2078.5L1321.9,2066.9L1322.9,2058.3L1323.8,2034.0L1324.8,2054.1L1325.7,2054.1L1326.7,2043.0L1327.6,2040.2L1328.6,2035.9L1329.5,2040.5L1330.5,2038.2L1330.5,2124.6L1329.5,2113.9L1328.6,2119.0L1327.6,2106.0L1326.7,2103.9L1325.7,2124.5L1324.8,2134.4L1323.8,2133.7L1322.9,2138.7L1321.9,2133.0L1320.9,2132.7L1320.0,2137.9L1319.0,2143.8L1318.1,2137.2L1317.1,2159.5L1316.2,2143.4L1315.2,2135.2L1314.3,2150.6L1313.3,2143.8L1312.3,2154.1L1311.4,2154.4L1310.4,2157.2L1309.5,2176.9L1308.5,2166.1L1307.6,2177.0L1306.6,2178.9L1305.6,2165.8L1304.7,2162.8L1303.7,2161.2L1302.8,2168.2L1301.8,2186.7L1300.9,2176.0L1299.9,2174.3L1299.0,2154.5L1298.0,2164.8L1297.0,2153.6L1296.1,2145.6L1295.1,2165.5L1294.2,2139.6L1293.2,2166.9L1292.3,2171.5L1291.3,2160.1L1290.4,2164.5L1289.4,2158.0L1288.4,2139.5L1287.5,2141.0L1286.5,2124.0L1285.6,2130.1L1284.6,2150.0L1283.7,2150.9L1282.7,2119.8L1281.8,2147.5L1280.8,2140.4L1279.8,2120.7L1278.9,2133.1L1277.9,2152.7L1277.0,2142.3L1276.0,2147.5L1275.1,2152.8L1274.1,2127.2L1273.2,2139.4L1272.2,2149.4L1271.2,2170.2L1270.3,2170.2L1269.3,2165.3L1268.4,2167.5L1267.4,2167.2L1266.5,2165.0L1265.5,2164.7L1264.5,2144.6L1263.6,2144.8L1262.6,2146.8L1261.7,2164.9L1260.7,2161.5L1259.8,2166.3L1258.8,2159.7L1257.9,2164.1L1256.9,2165.0L1255.9,2171.2L1255.0,2150.2L1254.0,2152.7L1253.1,2156.8L1252.1,2172.2L1251.2,2168.2L1250.2,2172.1L1249.3,2164.9L1248.3,2174.9L1247.3,2180.4L1246.4,2164.2L1245.4,2177.2L1244.5,2170.1L1243.5,2169.2L1242.6,2163.4L1241.6,2162.3L1240.7,2164.6L1239.7,2149.7L1238.7,2146.9L1237.8,2161.2L1236.8,2168.5L1235.9,2172.7L1234.9,2169.9L1234.0,2166.5L1233.0,2177.8L1232.0,2192.2L1231.1,2182.0L1230.1,2185.6L1229.2,2164.7L1228.2,2171.9L1227.3,2170.3L1226.3,2162.8L1225.4,2166.1L1224.4,2182.5L1223.4,2169.3L1222.5,2164.3L1221.5,2168.3L1220.6,2170.1L1219.6,2187.7L1218.7,2172.2L1217.7,2175.8L1216.8,2197.0L1215.8,2191.7L1214.8,2193.5L1213.9,2180.2L1212.9,2170.0L1212.0,2180.1L1211.0,2175.8L1210.1,2167.1L1209.1,2169.8L1208.2,2179.6L1207.2,2168.2L1206.2,2177.4L1205.3,2189.3L1204.3,2181.4L1203.4,2173.8L1202.4,2172.8L1201.5,2177.1L1200.5,2176.0L1199.6,2158.3L1198.6,2187.8L1197.6,2160.5L1196.7,2167.3L1195.7,2154.5L1194.8,2179.5L1193.8,2167.5L1192.9,2156.1L1191.9,2163.0L1190.9,2148.5L1190.0,2168.5L1189.0,2167.5L1188.1,2156.7L1187.1,2182.3L1186.2,2188.0L1185.2,2181.7L1184.3,2192.9L1183.3,2178.9L1182.3,2166.1L1181.4,2166.6L1180.4,2163.5L1179.5,2182.7L1178.5,2159.3L1177.6,2177.1L1176.6,2158.4L1175.7,2161.1L1174.7,2167.9L1173.7,2177.1L1172.8,2164.4L1171.8,2161.1L1170.9,2182.4L1169.9,2159.5L1169.0,2145.9L1168.0,2155.5L1167.1,2159.4L1166.1,2176.5L1165.1,2172.9L1164.2,2164.5L1163.2,2172.0L1162.3,2183.2L1161.3,2187.0L1160.4,2184.9L1159.4,2170.4L1158.5,2184.8L1157.5,2183.2L1156.5,2186.9L1155.6,2195.7L1154.6,2207.5L1153.7,2217.8L1152.7,2214.1L1151.8,2203.0L1150.8,2204.4L1149.8,2205.8L1148.9,2215.4L1147.9,2224.4L1147.0,2226.3L1146.0,2232.3L1145.1,2218.4L1144.1,2223.7L1143.2,2209.5L1142.2,2202.9L1141.2,2198.4L1140.3,2213.7L1139.3,2198.3L1138.4,2196.8L1137.4,2191.5L1136.5,2207.1L1135.5,2219.0L1134.6,2228.9L1133.6,2221.2L1132.6,2226.0L1131.7,2205.5L1130.7,2223.2L1129.8,2212.8L1128.8,2234.3L1127.9,2236.7L1126.9,2229.6L1126.0,2230.7L1125.0,2231.7L1124.0,2252.8L1123.1,2266.4L1122.1,2255.6L1121.2,2259.1L1120.2,2265.3L1119.3,2249.2L1118.3,2241.1L1117.3,2232.8L1116.4,2250.0L1115.4,2246.4L1114.5,2244.4L1113.5,2249.7L1112.6,2250.5L1111.6,2246.1L1110.7,2246.2L1109.7,2250.1L1108.7,2253.5L1107.8,2254.0L1106.8,2243.5L1105.9,2241.0L1104.9,2240.1L1104.0,2252.9L1103.0,2243.5L1102.1,2231.1L1101.1,2242.1L1100.1,2239.5L1099.2,2239.2L1098.2,2237.3L1097.3,2245.5L1096.3,2229.1L1095.4,2219.2L1094.4,2242.3L1093.5,2222.8L1092.5,2203.4L1091.5,2194.9L1090.6,2196.8L1089.6,2200.3L1088.7,2206.4L1087.7,2198.3L1086.8,2200.2L1085.8,2221.9L1084.9,2209.3L1083.9,2227.9L1082.9,2208.4L1082.0,2217.2L1081.0,2213.1L1080.1,2210.4L1079.1,2215.7L1078.2,2221.8L1077.2,2221.9L1076.2,2233.9L1075.3,2234.8L1074.3,2237.8L1073.4,2232.6L1072.4,2229.3L1071.5,2216.8L1070.5,2216.2L1069.6,2215.4L1068.6,2207.4L1067.6,2201.5L1066.7,2211.9L1065.7,2213.2L1064.8,2225.9L1063.8,2209.4L1062.9,2211.0L1061.9,2223.2L1061.0,2226.5L1060.0,2243.3L1059.0,2233.7L1058.1,2222.8L1057.1,2218.5L1056.2,2227.0L1055.2,2229.3L1054.3,2223.3L1053.3,2229.0L1052.4,2225.5L1051.4,2228.9L1050.4,2208.9L1049.5,2220.8L1048.5,2218.9L1047.6,2233.1L1046.6,2236.2L1045.7,2217.3L1044.7,2207.6L1043.8,2222.8L1042.8,2217.5L1041.8,2217.2L1040.9,2209.7L1039.9,2197.5L1039.0,2198.4L1038.0,2204.1L1037.1,2204.0L1036.1,2195.5L1035.1,2195.6L1034.2,2203.0L1033.2,2213.7L1032.3,2208.6L1031.3,2202.0L1030.4,2204.4L1029.4,2214.1L1028.5,2215.5L1027.5,2213.1L1026.5,2194.5L1025.6,2204.9L1024.6,2214.5L1023.7,2211.5L1022.7,2234.4L1021.8,2224.1L1020.8,2231.1L1019.9,2226.3L1018.9,2216.0L1017.9,2232.8L1017.0,2223.8L1016.0,2214.6L1015.1,2222.1L1014.1,2207.9L1013.2,2226.3L1012.2,2212.2L1011.3,2207.3L1010.3,2221.8L1009.3,2205.5L1008.4,2212.6L1007.4,2212.5L1006.5,2223.1L1005.5,2182.1L1004.6,2210.7L1003.6,2189.4L1002.6,2200.1L1001.7,2193.5L1000.7,2177.8L999.8,2212.6L998.8,2212.5L997.9,2208.5L996.9,2199.5L996.0,2198.9L995.0,2192.7L994.0,2185.4L993.1,2188.0L992.1,2185.7L991.2,2197.4L990.2,2204.2L989.3,2202.3L988.3,2202.3L987.4,2199.8L986.4,2215.4L985.4,2232.1L984.5,2224.8L983.5,2226.8L982.6,2225.0L981.6,2219.8L980.7,2211.7L979.7,2214.2L978.8,2225.9L977.8,2217.3L976.8,2219.4L975.9,2214.0L974.9,2214.3L974.0,2199.1L973.0,2198.4L972.1,2189.9L971.1,2176.0L970.2,2190.2L969.2,2200.7L968.2,2206.7L967.3,2186.7L966.3,2203.8L965.4,2186.9L964.4,2171.6L963.5,2177.5L962.5,2166.6L961.5,2173.1L960.6,2185.0L959.6,2168.0L958.7,2171.4L957.7,2169.2L956.8,2157.4L955.8,2140.5L954.9,2134.4L953.9,2133.8L952.9,2139.2L952.0,2123.3L951.0,2119.9L950.1,2119.8L949.1,2106.8L948.2,2103.5L947.2,2103.8L946.3,2096.0L945.3,2095.0L944.3,2103.3L943.4,2116.2L942.4,2115.6L941.5,2108.7L940.5,2111.1L939.6,2111.3L938.6,2113.1L937.7,2081.6L936.7,2092.4L935.7,2108.7L934.8,2124.9L933.8,2133.8L932.9,2116.7L931.9,2120.3L931.0,2159.1L930.0,2141.7L929.0,2161.3L928.1,2154.9L927.1,2121.2L926.2,2115.1L925.2,2126.6L924.3,2112.1L923.3,2111.4L922.4,2129.1L921.4,2128.6L920.4,2113.2L919.5,2111.0L918.5,2110.9L917.6,2108.8L916.6,2109.6L915.7,2114.7L914.7,2126.7L913.8,2116.9L912.8,2120.0L911.8,2105.6L910.9,2122.7L909.9,2114.4L909.0,2106.2L908.0,2114.2L907.1,2115.8L906.1,2109.0L905.2,2112.2L904.2,2118.1L903.2,2114.8L902.3,2123.7L901.3,2103.4L900.4,2115.8L899.4,2095.5L898.5,2085.3L897.5,2084.5L896.6,2093.0L895.6,2092.3L894.6,2081.7L893.7,2091.0L892.7,2097.6L891.8,2084.6L890.8,2087.6L889.9,2084.0L888.9,2072.9L887.9,2080.0L887.0,2076.3L886.0,2082.8L885.1,2087.7L884.1,2103.6L883.2,2083.7L882.2,2105.2L881.3,2089.3L880.3,2079.0L879.3,2093.9L878.4,2072.8L877.4,2070.1L876.5,2066.1L875.5,2053.5L874.6,2065.3L873.6,2064.3L872.7,2077.6L871.7,2077.3L870.7,2088.2L869.8,2082.3L868.8,2086.6L867.9,2092.0L866.9,2067.0L866.0,2063.6L865.0,2073.2L864.1,2056.6L863.1,2055.8L862.1,2060.2L861.2,2068.5L860.2,2043.8L859.3,2030.4L858.3,2040.3L857.4,2029.9L856.4,2040.6L855.5,2055.1L854.5,2074.8L853.5,2060.8L852.6,2081.1L851.6,2067.0L850.7,2078.9L849.7,2075.8L848.8,2078.1L847.8,2061.2L846.8,2068.0L845.9,2077.3L844.9,2088.7L844.0,2088.9L843.0,2089.9L842.1,2100.3L841.1,2107.5L840.2,2117.4L839.2,2103.3L838.2,2093.6L837.3,2116.0L836.3,2116.1L835.4,2132.1L834.4,2138.5L833.5,2121.1L832.5,2138.2L831.6,2118.3L830.6,2126.8L829.6,2119.8L828.7,2113.6L827.7,2118.8L826.8,2122.4L825.8,2107.1L824.9,2105.4L823.9,2102.3L823.0,2091.6L822.0,2112.9L821.0,2109.2L820.1,2101.0L819.1,2109.1L818.2,2091.3L817.2,2102.7L816.3,2106.2L815.3,2092.3L814.4,2103.1L813.4,2093.7L812.4,2083.0L811.5,2084.7L810.5,2105.8L809.6,2098.3L808.6,2090.8L807.7,2087.3L806.7,2085.6L805.7,2106.8L804.8,2110.0L803.8,2105.7L802.9,2118.3L801.9,2113.8L801.0,2106.6L800.0,2137.8L799.1,2126.6L798.1,2107.8L797.1,2100.7L796.2,2108.3L795.2,2111.3L794.3,2099.4L793.3,2097.3L792.4,2101.1L791.4,2103.8L790.5,2106.5L789.5,2107.1L788.5,2098.6L787.6,2104.2L786.6,2118.4L785.7,2110.3L784.7,2111.7L783.8,2092.1L782.8,2118.9L781.9,2116.7L780.9,2101.4L779.9,2092.8L779.0,2094.9L778.0,2108.8L777.1,2093.4L776.1,2082.9L775.2,2093.1L774.2,2109.1L773.2,2110.7L772.3,2099.1L771.3,2092.9L770.4,2093.4L769.4,2093.8L768.5,2083.5L767.5,2081.2L766.6,2086.9L765.6,2107.1L764.6,2095.2L763.7,2087.8L762.7,2089.4L761.8,2082.6L760.8,2108.6L759.9,2107.4L758.9,2107.4L758.0,2117.9L757.0,2137.0Z" fill="#9fd39a" fill-opacity="0.28" stroke="#9fd39a" stroke-opacity="0.35" stroke-width="0.8"/>
<path d="M757.0,2103.0L758.0,2086.2L758.9,2077.0L759.9,2063.0L760.8,2063.4L761.8,2052.1L762.7,2053.4L763.7,2046.8L764.6,2058.8L765.6,2063.1L766.6,2063.2L767.5,2057.2L768.5,2050.7L769.4,2060.9L770.4,2050.9L771.3,2061.0L772.3,2065.7L773.2,2063.1L774.2,2059.2L775.2,2052.7L776.1,2048.5L777.1,2056.1L778.0,2068.9L779.0,2052.8L779.9,2055.2L780.9,2061.8L781.9,2066.9L782.8,2068.7L783.8,2063.2L784.7,2070.8L785.7,2059.5L786.6,2067.9L787.6,2066.0L788.5,2066.6L789.5,2079.9L790.5,2079.6L791.4,2073.6L792.4,2074.1L793.3,2075.7L794.3,2071.6L795.2,2078.3L796.2,2073.6L797.1,2074.8L798.1,2077.5L799.1,2074.0L800.0,2077.5L801.0,2067.3L801.9,2071.4L802.9,2056.5L803.8,2051.1L804.8,2060.2L805.7,2066.5L806.7,2054.5L807.7,2056.6L808.6,2060.7L809.6,2061.8L810.5,2066.2L811.5,2065.9L812.4,2068.0L813.4,2061.6L814.4,2061.5L815.3,2053.1L816.3,2068.3L817.2,2069.8L818.2,2069.0L819.1,2073.7L820.1,2070.8L821.0,2075.8L822.0,2070.3L823.0,2070.4L823.9,2073.6L824.9,2079.6L825.8,2086.0L826.8,2084.7L827.7,2086.2L828.7,2084.7L829.6,2083.9L830.6,2084.8L831.6,2087.9L832.5,2093.3L833.5,2090.6L834.4,2097.4L835.4,2096.2L836.3,2084.8L837.3,2085.3L838.2,2072.5L839.2,2075.0L840.2,2084.3L841.1,2081.7L842.1,2073.0L843.0,2073.6L844.0,2059.6L844.9,2049.0L845.9,2051.7L846.8,2049.3L847.8,2041.5L848.8,2046.2L849.7,2054.9L850.7,2047.5L851.6,2040.9L852.6,2046.6L853.5,2040.5L854.5,2045.3L855.5,2037.9L856.4,2024.4L857.4,2014.9L858.3,2024.7L859.3,2016.1L860.2,2026.5L861.2,2035.8L862.1,2037.0L863.1,2036.2L864.1,2047.2L865.0,2036.9L866.0,2037.7L866.9,2039.5L867.9,2042.2L868.8,2041.6L869.8,2038.9L870.7,2041.0L871.7,2042.9L872.7,2030.1L873.6,2030.5L874.6,2030.3L875.5,2037.5L876.5,2048.3L877.4,2049.2L878.4,2046.8L879.3,2068.8L880.3,2052.9L881.3,2048.0L882.2,2058.1L883.2,2055.0L884.1,2067.6L885.1,2056.0L886.0,2060.5L887.0,2052.6L887.9,2059.9L888.9,2056.6L889.9,2057.7L890.8,2057.7L891.8,2047.0L892.7,2056.3L893.7,2046.1L894.6,2036.9L895.6,2053.7L896.6,2047.8L897.5,2044.3L898.5,2046.7L899.4,2051.9L900.4,2066.5L901.3,2067.1L902.3,2071.8L903.2,2068.1L904.2,2083.2L905.2,2076.5L906.1,2076.0L907.1,2080.7L908.0,2081.2L909.0,2076.2L909.9,2079.4L910.9,2080.6L911.8,2075.1L912.8,2086.2L913.8,2080.2L914.7,2085.6L915.7,2077.4L916.6,2083.0L917.6,2086.5L918.5,2084.5L919.5,2076.3L920.4,2079.7L921.4,2098.3L922.4,2096.9L923.3,2088.5L924.3,2082.8L925.2,2083.7L926.2,2081.3L927.1,2092.5L928.1,2113.4L929.0,2104.5L930.0,2107.4L931.0,2109.0L931.9,2090.3L932.9,2087.5L933.8,2098.0L934.8,2086.1L935.7,2081.7L936.7,2073.7L937.7,2071.6L938.6,2073.0L939.6,2080.0L940.5,2083.9L941.5,2068.1L942.4,2072.5L943.4,2066.2L944.3,2066.4L945.3,2071.7L946.3,2070.2L947.2,2071.6L948.2,2078.4L949.1,2070.3L950.1,2084.7L951.0,2098.9L952.0,2094.2L952.9,2100.1L953.9,2096.7L954.9,2103.9L955.8,2115.9L956.8,2122.2L957.7,2127.0L958.7,2127.9L959.6,2125.0L960.6,2124.0L961.5,2126.0L962.5,2124.2L963.5,2123.8L964.4,2126.7L965.4,2142.6L966.3,2141.5L967.3,2146.4L968.2,2148.2L969.2,2155.6L970.2,2151.3L971.1,2148.7L972.1,2152.9L973.0,2168.1L974.0,2165.4L974.9,2174.9L975.9,2164.4L976.8,2172.5L977.8,2173.3L978.8,2178.2L979.7,2172.0L980.7,2171.9L981.6,2170.1L982.6,2166.5L983.5,2183.5L984.5,2173.0L985.4,2185.1L986.4,2166.4L987.4,2160.1L988.3,2163.0L989.3,2164.8L990.2,2171.2L991.2,2163.9L992.1,2158.4L993.1,2156.5L994.0,2154.4L995.0,2158.3L996.0,2158.5L996.9,2159.4L997.9,2163.6L998.8,2166.8L999.8,2156.6L1000.7,2135.6L1001.7,2143.2L1002.6,2152.4L1003.6,2140.6L1004.6,2152.4L1005.5,2147.3L1006.5,2168.9L1007.4,2164.5L1008.4,2169.3L1009.3,2162.5L1010.3,2169.6L1011.3,2165.9L1012.2,2171.5L1013.2,2176.8L1014.1,2170.8L1015.1,2179.8L1016.0,2178.0L1017.0,2179.7L1017.9,2189.2L1018.9,2177.6L1019.9,2189.2L1020.8,2194.1L1021.8,2191.1L1022.7,2184.4L1023.7,2171.2L1024.6,2171.6L1025.6,2162.5L1026.5,2157.5L1027.5,2165.4L1028.5,2175.4L1029.4,2170.2L1030.4,2169.7L1031.3,2161.9L1032.3,2171.3L1033.2,2171.0L1034.2,2161.3L1035.1,2156.7L1036.1,2154.9L1037.1,2170.9L1038.0,2168.5L1039.0,2163.2L1039.9,2168.7L1040.9,2172.1L1041.8,2175.1L1042.8,2176.9L1043.8,2179.1L1044.7,2168.8L1045.7,2176.7L1046.6,2187.9L1047.6,2181.0L1048.5,2176.8L1049.5,2175.1L1050.4,2170.1L1051.4,2176.8L1052.4,2182.1L1053.3,2179.9L1054.3,2190.3L1055.2,2187.6L1056.2,2188.7L1057.1,2183.7L1058.1,2187.7L1059.0,2188.7L1060.0,2197.5L1061.0,2189.9L1061.9,2187.3L1062.9,2179.0L1063.8,2173.1L1064.8,2170.3L1065.7,2176.1L1066.7,2176.2L1067.6,2164.6L1068.6,2174.1L1069.6,2180.0L1070.5,2185.1L1071.5,2180.8L1072.4,2177.1L1073.4,2182.9L1074.3,2194.2L1075.3,2190.7L1076.2,2190.2L1077.2,2181.2L1078.2,2179.2L1079.1,2187.1L1080.1,2182.5L1081.0,2175.2L1082.0,2168.6L1082.9,2169.3L1083.9,2170.5L1084.9,2168.4L1085.8,2173.0L1086.8,2164.4L1087.7,2158.2L1088.7,2163.5L1089.6,2172.5L1090.6,2168.7L1091.5,2165.0L1092.5,2172.8L1093.5,2175.7L1094.4,2185.2L1095.4,2184.1L1096.3,2193.0L1097.3,2200.3L1098.2,2193.8L1099.2,2192.5L1100.1,2201.8L1101.1,2202.7L1102.1,2195.7L1103.0,2196.3L1104.0,2203.4L1104.9,2202.0L1105.9,2208.5L1106.8,2216.1L1107.8,2217.8L1108.7,2228.6L1109.7,2221.6L1110.7,2222.8L1111.6,2213.8L1112.6,2217.9L1113.5,2217.7L1114.5,2217.9L1115.4,2222.6L1116.4,2215.9L1117.3,2206.2L1118.3,2208.6L1119.3,2209.1L1120.2,2216.0L1121.2,2210.0L1122.1,2204.7L1123.1,2199.4L1124.0,2196.9L1125.0,2195.6L1126.0,2200.9L1126.9,2201.8L1127.9,2207.4L1128.8,2192.0L1129.8,2177.1L1130.7,2184.8L1131.7,2167.2L1132.6,2169.3L1133.6,2172.4L1134.6,2178.9L1135.5,2176.4L1136.5,2173.1L1137.4,2162.3L1138.4,2167.4L1139.3,2164.7L1140.3,2168.1L1141.2,2169.6L1142.2,2172.1L1143.2,2177.0L1144.1,2183.1L1145.1,2178.8L1146.0,2182.0L1147.0,2184.8L1147.9,2190.6L1148.9,2186.3L1149.8,2182.9L1150.8,2183.9L1151.8,2178.7L1152.7,2181.3L1153.7,2177.4L1154.6,2177.9L1155.6,2170.3L1156.5,2159.1L1157.5,2158.2L1158.5,2163.4L1159.4,2149.7L1160.4,2156.5L1161.3,2153.0L1162.3,2150.0L1163.2,2143.1L1164.2,2145.0L1165.1,2145.6L1166.1,2145.8L1167.1,2139.4L1168.0,2129.4L1169.0,2126.8L1169.9,2132.6L1170.9,2139.0L1171.8,2128.9L1172.8,2123.8L1173.7,2135.2L1174.7,2130.0L1175.7,2131.2L1176.6,2134.7L1177.6,2141.6L1178.5,2139.1L1179.5,2139.5L1180.4,2127.4L1181.4,2128.2L1182.3,2128.0L1183.3,2132.5L1184.3,2149.1L1185.2,2146.8L1186.2,2151.1L1187.1,2147.9L1188.1,2137.1L1189.0,2139.1L1190.0,2138.6L1190.9,2129.4L1191.9,2129.8L1192.9,2130.3L1193.8,2132.6L1194.8,2131.1L1195.7,2116.8L1196.7,2126.1L1197.6,2124.8L1198.6,2128.6L1199.6,2120.8L1200.5,2127.2L1201.5,2139.2L1202.4,2144.1L1203.4,2144.5L1204.3,2147.5L1205.3,2140.1L1206.2,2135.9L1207.2,2137.7L1208.2,2137.8L1209.1,2135.4L1210.1,2135.8L1211.0,2146.1L1212.0,2149.2L1212.9,2155.2L1213.9,2157.2L1214.8,2162.3L1215.8,2153.1L1216.8,2153.1L1217.7,2138.2L1218.7,2143.1L1219.6,2140.7L1220.6,2140.2L1221.5,2131.1L1222.5,2134.7L1223.4,2140.6L1224.4,2143.9L1225.4,2144.9L1226.3,2143.7L1227.3,2142.0L1228.2,2147.3L1229.2,2145.8L1230.1,2154.2L1231.1,2153.4L1232.0,2151.6L1233.0,2142.2L1234.0,2128.8L1234.9,2122.8L1235.9,2134.1L1236.8,2128.5L1237.8,2120.3L1238.7,2117.4L1239.7,2123.5L1240.7,2130.2L1241.6,2123.8L1242.6,2128.6L1243.5,2129.4L1244.5,2131.5L1245.4,2127.6L1246.4,2128.6L1247.3,2132.6L1248.3,2128.4L1249.3,2123.5L1250.2,2138.0L1251.2,2136.6L1252.1,2138.5L1253.1,2133.1L1254.0,2125.3L1255.0,2129.7L1255.9,2136.4L1256.9,2128.1L1257.9,2126.5L1258.8,2128.2L1259.8,2130.8L1260.7,2132.0L1261.7,2120.5L1262.6,2112.5L1263.6,2112.0L1264.5,2120.8L1265.5,2137.2L1266.5,2136.7L1267.4,2130.0L1268.4,2137.6L1269.3,2130.9L1270.3,2137.2L1271.2,2140.6L1272.2,2124.6L1273.2,2118.2L1274.1,2109.6L1275.1,2114.6L1276.0,2120.3L1277.0,2121.4L1277.9,2124.6L1278.9,2113.4L1279.8,2099.7L1280.8,2115.4L1281.8,2110.3L1282.7,2111.6L1283.7,2122.7L1284.6,2120.8L1285.6,2119.4L1286.5,2113.3L1287.5,2114.7L1288.4,2108.6L1289.4,2124.6L1290.4,2137.7L1291.3,2129.5L1292.3,2137.0L1293.2,2130.0L1294.2,2121.5L1295.1,2125.3L1296.1,2120.9L1297.0,2126.1L1298.0,2124.4L1299.0,2128.8L1299.9,2137.0L1300.9,2139.8L1301.8,2147.3L1302.8,2137.4L1303.7,2130.6L1304.7,2127.4L1305.6,2129.8L1306.6,2129.5L1307.6,2132.6L1308.5,2124.8L1309.5,2128.6L1310.4,2120.8L1311.4,2123.7L1312.3,2113.7L1313.3,2105.0L1314.3,2104.7L1315.2,2105.4L1316.2,2106.4L1317.1,2114.8L1318.1,2100.1L1319.0,2108.3L1320.0,2102.9L1320.9,2105.4L1321.9,2101.5L1322.9,2104.1L1323.8,2090.9L1324.8,2094.5L1325.7,2089.6L1326.7,2082.4L1327.6,2091.8L1328.6,2084.7L1329.5,2085.3L1330.5,2088.5" fill="none" stroke="#4bad44" stroke-width="2.8" stroke-linejoin="round"/>
<line x1="757.0" y1="2092.0" x2="1330.5" y2="2092.0" stroke="#000" stroke-width="1.8"/>
<line x1="757.0" y1="1897.0" x2="757.0" y2="2353.0" stroke="#000" stroke-width="2"/>
<line x1="756.0" y1="2352.0" x2="1331.5" y2="2352.0" stroke="#000" stroke-width="2"/>
<line x1="751.0" y1="1962.0" x2="757.0" y2="1962.0" stroke="#000" stroke-width="1.8"/>
<line x1="751.0" y1="2092.0" x2="757.0" y2="2092.0" stroke="#000" stroke-width="1.8"/>
<line x1="751.0" y1="2222.0" x2="757.0" y2="2222.0" stroke="#000" stroke-width="1.8"/>
<line x1="751.0" y1="2352.0" x2="757.0" y2="2352.0" stroke="#000" stroke-width="1.8"/>
<line x1="757.0" y1="2352.0" x2="757.0" y2="2359.0" stroke="#000" stroke-width="1.8"/>
<text x="757.0" y="2382.0" font-size="26" text-anchor="middle" fill="#231f20">0</text>
<line x1="948.2" y1="2352.0" x2="948.2" y2="2359.0" stroke="#000" stroke-width="1.8"/>
<text x="948.2" y="2382.0" font-size="26" text-anchor="middle" fill="#231f20">10</text>
<line x1="1139.3" y1="2352.0" x2="1139.3" y2="2359.0" stroke="#000" stroke-width="1.8"/>
<text x="1139.3" y="2382.0" font-size="26" text-anchor="middle" fill="#231f20">20</text>
<line x1="1330.5" y1="2352.0" x2="1330.5" y2="2359.0" stroke="#000" stroke-width="1.8"/>
<text x="1330.5" y="2382.0" font-size="26" text-anchor="middle" fill="#231f20">30</text>
<text x="1051.2" y="2419.0" font-size="34" text-anchor="middle" fill="#231f20">Time (s)</text>
<text x="1351.0" y="1867.0" font-size="59" font-weight="bold" fill="#231f20">K</text>
<text x="1670.8" y="1897.9" font-size="42" text-anchor="middle" fill="#231f20" textLength="213" lengthAdjust="spacingAndGlyphs">1.0mM ATR</text>
<rect x="1580.5" y="1897.0" width="191.0" height="455.0" fill="#d3dcee"/>
<path d="M1389.5,2062.4L1390.5,2057.1L1391.4,2052.8L1392.4,2062.7L1393.3,2080.0L1394.3,2069.9L1395.2,2067.0L1396.2,2064.6L1397.1,2062.0L1398.1,2044.9L1399.1,2054.7L1400.0,2070.2L1401.0,2059.4L1401.9,2049.3L1402.9,2038.7L1403.8,2042.1L1404.8,2052.2L1405.7,2061.3L1406.7,2064.6L1407.6,2062.9L1408.6,2068.4L1409.6,2063.8L1410.5,2063.9L1411.5,2059.8L1412.4,2062.1L1413.4,2059.4L1414.3,2056.2L1415.3,2075.8L1416.2,2078.0L1417.2,2080.0L1418.2,2080.3L1419.1,2085.9L1420.1,2080.7L1421.0,2081.7L1422.0,2075.5L1422.9,2072.8L1423.9,2070.8L1424.8,2062.2L1425.8,2056.8L1426.8,2066.5L1427.7,2075.2L1428.7,2075.6L1429.6,2084.7L1430.6,2068.0L1431.5,2055.4L1432.5,2067.1L1433.4,2060.9L1434.4,2066.5L1435.3,2071.0L1436.3,2061.9L1437.3,2069.9L1438.2,2056.3L1439.2,2060.3L1440.1,2064.4L1441.1,2063.5L1442.0,2063.7L1443.0,2048.7L1443.9,2066.5L1444.9,2074.8L1445.9,2073.8L1446.8,2070.1L1447.8,2062.8L1448.7,2061.8L1449.7,2043.7L1450.6,2043.8L1451.6,2057.0L1452.5,2073.2L1453.5,2061.8L1454.5,2068.1L1455.4,2079.3L1456.4,2083.0L1457.3,2079.9L1458.3,2075.3L1459.2,2095.9L1460.2,2084.8L1461.1,2077.0L1462.1,2086.2L1463.0,2090.6L1464.0,2091.3L1465.0,2093.1L1465.9,2100.7L1466.9,2099.0L1467.8,2085.4L1468.8,2081.1L1469.7,2088.2L1470.7,2104.8L1471.6,2097.4L1472.6,2107.3L1473.6,2116.9L1474.5,2131.8L1475.5,2120.5L1476.4,2120.4L1477.4,2114.4L1478.3,2102.0L1479.3,2084.4L1480.2,2079.8L1481.2,2077.6L1482.2,2071.7L1483.1,2069.3L1484.1,2057.5L1485.0,2058.9L1486.0,2056.4L1486.9,2042.2L1487.9,2045.2L1488.8,2043.4L1489.8,2030.9L1490.7,2032.8L1491.7,2029.8L1492.7,2027.8L1493.6,2027.4L1494.6,2011.0L1495.5,2030.1L1496.5,2027.0L1497.4,2040.9L1498.4,2043.4L1499.3,2047.5L1500.3,2043.8L1501.3,2055.4L1502.2,2048.2L1503.2,2057.8L1504.1,2065.8L1505.1,2048.7L1506.0,2061.7L1507.0,2058.3L1507.9,2063.2L1508.9,2058.2L1509.9,2061.5L1510.8,2053.9L1511.8,2069.3L1512.7,2059.3L1513.7,2061.5L1514.6,2052.5L1515.6,2056.6L1516.5,2056.8L1517.5,2051.2L1518.4,2059.4L1519.4,2049.5L1520.4,2052.8L1521.3,2070.6L1522.3,2076.9L1523.2,2083.8L1524.2,2066.4L1525.1,2076.5L1526.1,2071.2L1527.0,2073.3L1528.0,2080.1L1529.0,2091.3L1529.9,2086.2L1530.9,2096.2L1531.8,2097.6L1532.8,2092.9L1533.7,2092.5L1534.7,2106.4L1535.6,2109.6L1536.6,2108.1L1537.6,2099.3L1538.5,2127.6L1539.5,2118.6L1540.4,2117.3L1541.4,2126.8L1542.3,2129.3L1543.3,2130.7L1544.2,2125.0L1545.2,2110.5L1546.1,2108.5L1547.1,2102.1L1548.1,2110.1L1549.0,2124.2L1550.0,2127.6L1550.9,2131.8L1551.9,2110.4L1552.8,2119.3L1553.8,2119.5L1554.7,2110.8L1555.7,2114.2L1556.7,2111.9L1557.6,2104.7L1558.6,2096.7L1559.5,2096.9L1560.5,2087.4L1561.4,2087.5L1562.4,2085.4L1563.3,2080.4L1564.3,2083.0L1565.3,2091.6L1566.2,2081.4L1567.2,2080.6L1568.1,2082.2L1569.1,2077.4L1570.0,2089.8L1571.0,2088.0L1571.9,2085.0L1572.9,2068.8L1573.8,2072.7L1574.8,2075.3L1575.8,2080.6L1576.7,2071.6L1577.7,2065.0L1578.6,2054.1L1579.6,2062.2L1580.5,2072.3L1581.5,2070.3L1582.4,2066.8L1583.4,2065.9L1584.4,2081.7L1585.3,2072.2L1586.3,2085.9L1587.2,2081.6L1588.2,2087.8L1589.1,2079.5L1590.1,2080.9L1591.0,2109.9L1592.0,2105.5L1593.0,2099.6L1593.9,2101.5L1594.9,2099.4L1595.8,2104.4L1596.8,2113.5L1597.7,2106.5L1598.7,2114.7L1599.6,2116.7L1600.6,2106.7L1601.5,2117.0L1602.5,2111.0L1603.5,2102.7L1604.4,2107.5L1605.4,2092.9L1606.3,2108.1L1607.3,2106.3L1608.2,2116.4L1609.2,2114.0L1610.1,2101.1L1611.1,2098.4L1612.1,2092.0L1613.0,2098.7L1614.0,2097.3L1614.9,2104.2L1615.9,2089.8L1616.8,2098.1L1617.8,2090.7L1618.7,2075.4L1619.7,2074.3L1620.7,2084.9L1621.6,2069.5L1622.6,2065.4L1623.5,2071.4L1624.5,2073.6L1625.4,2067.5L1626.4,2069.7L1627.3,2065.4L1628.3,2071.5L1629.2,2073.4L1630.2,2060.1L1631.2,2074.0L1632.1,2066.8L1633.1,2069.0L1634.0,2066.1L1635.0,2069.1L1635.9,2057.4L1636.9,2061.0L1637.8,2058.2L1638.8,2070.5L1639.8,2060.0L1640.7,2050.8L1641.7,2058.4L1642.6,2053.1L1643.6,2061.6L1644.5,2045.8L1645.5,2061.9L1646.4,2036.8L1647.4,2043.8L1648.4,2051.2L1649.3,2059.9L1650.3,2043.3L1651.2,2063.1L1652.2,2048.6L1653.1,2070.3L1654.1,2066.9L1655.0,2052.6L1656.0,2049.0L1656.9,2047.9L1657.9,2046.5L1658.9,2040.9L1659.8,2060.6L1660.8,2059.9L1661.7,2049.0L1662.7,2052.7L1663.6,2063.9L1664.6,2051.1L1665.5,2085.2L1666.5,2079.6L1667.5,2083.1L1668.4,2072.4L1669.4,2056.7L1670.3,2072.2L1671.3,2067.2L1672.2,2073.4L1673.2,2089.1L1674.1,2079.4L1675.1,2083.2L1676.0,2086.6L1677.0,2087.6L1678.0,2076.5L1678.9,2076.3L1679.9,2082.9L1680.8,2073.6L1681.8,2071.3L1682.7,2068.9L1683.7,2071.7L1684.6,2079.4L1685.6,2079.2L1686.6,2076.5L1687.5,2081.2L1688.5,2073.5L1689.4,2072.4L1690.4,2079.8L1691.3,2061.1L1692.3,2057.4L1693.2,2082.3L1694.2,2077.3L1695.2,2087.2L1696.1,2082.2L1697.1,2085.6L1698.0,2071.2L1699.0,2074.1L1699.9,2057.9L1700.9,2064.1L1701.8,2072.5L1702.8,2078.1L1703.7,2080.0L1704.7,2085.2L1705.7,2083.5L1706.6,2101.2L1707.6,2110.1L1708.5,2113.8L1709.5,2099.1L1710.4,2105.8L1711.4,2118.9L1712.3,2110.0L1713.3,2115.2L1714.3,2123.0L1715.2,2118.4L1716.2,2117.3L1717.1,2106.2L1718.1,2109.7L1719.0,2094.9L1720.0,2102.7L1720.9,2113.5L1721.9,2103.1L1722.9,2100.6L1723.8,2107.5L1724.8,2098.6L1725.7,2115.8L1726.7,2122.8L1727.6,2109.7L1728.6,2093.9L1729.5,2083.4L1730.5,2081.2L1731.4,2073.4L1732.4,2072.9L1733.4,2072.7L1734.3,2074.0L1735.3,2078.5L1736.2,2075.7L1737.2,2079.8L1738.1,2074.1L1739.1,2072.0L1740.0,2066.3L1741.0,2081.4L1742.0,2078.4L1742.9,2071.8L1743.9,2063.1L1744.8,2064.0L1745.8,2055.1L1746.7,2070.3L1747.7,2067.8L1748.6,2072.7L1749.6,2072.6L1750.6,2079.0L1751.5,2076.6L1752.5,2094.9L1753.4,2081.2L1754.4,2087.4L1755.3,2092.6L1756.3,2085.2L1757.2,2079.8L1758.2,2090.3L1759.1,2082.5L1760.1,2081.3L1761.1,2088.1L1762.0,2085.6L1763.0,2089.5L1763.9,2097.5L1764.9,2094.7L1765.8,2090.0L1766.8,2091.2L1767.7,2092.9L1768.7,2106.7L1769.7,2107.4L1770.6,2110.2L1771.6,2128.8L1772.5,2125.7L1773.5,2125.7L1774.4,2129.9L1775.4,2132.5L1776.3,2150.4L1777.3,2148.7L1778.3,2156.2L1779.2,2156.9L1780.2,2156.4L1781.1,2147.3L1782.1,2134.1L1783.0,2121.0L1784.0,2120.6L1784.9,2118.9L1785.9,2135.2L1786.8,2133.4L1787.8,2125.1L1788.8,2117.0L1789.7,2110.4L1790.7,2119.2L1791.6,2113.7L1792.6,2111.3L1793.5,2108.2L1794.5,2123.8L1795.4,2114.6L1796.4,2117.0L1797.4,2113.1L1798.3,2119.8L1799.3,2113.6L1800.2,2123.9L1801.2,2104.4L1802.1,2107.1L1803.1,2107.1L1804.0,2096.6L1805.0,2102.7L1806.0,2095.0L1806.9,2091.8L1807.9,2095.4L1808.8,2088.1L1809.8,2080.1L1810.7,2103.6L1811.7,2088.4L1812.6,2103.8L1813.6,2101.9L1814.5,2105.2L1815.5,2107.5L1816.5,2100.0L1817.4,2091.2L1818.4,2100.2L1819.3,2103.5L1820.3,2107.5L1821.2,2114.1L1822.2,2109.0L1823.1,2115.3L1824.1,2117.4L1825.1,2115.4L1826.0,2108.8L1827.0,2100.5L1827.9,2098.4L1828.9,2098.1L1829.8,2108.6L1830.8,2109.0L1831.7,2116.1L1832.7,2107.0L1833.7,2119.0L1834.6,2116.9L1835.6,2118.4L1836.5,2107.5L1837.5,2104.6L1838.4,2101.3L1839.4,2098.5L1840.3,2101.3L1841.3,2118.6L1842.2,2109.3L1843.2,2121.0L1844.2,2115.3L1845.1,2113.5L1846.1,2111.1L1847.0,2098.9L1848.0,2111.4L1848.9,2122.6L1849.9,2114.2L1850.8,2121.9L1851.8,2105.3L1852.8,2120.7L1853.7,2113.4L1854.7,2107.9L1855.6,2118.5L1856.6,2084.7L1857.5,2097.9L1858.5,2105.1L1859.4,2107.1L1860.4,2122.0L1861.4,2105.5L1862.3,2116.8L1863.3,2086.4L1864.2,2097.6L1865.2,2086.0L1866.1,2081.5L1867.1,2083.4L1868.0,2109.1L1869.0,2094.9L1869.9,2097.3L1870.9,2081.1L1871.9,2093.0L1872.8,2083.0L1873.8,2092.7L1874.7,2110.0L1875.7,2103.8L1876.6,2109.8L1877.6,2112.6L1878.5,2098.7L1879.5,2121.9L1880.5,2107.9L1881.4,2106.2L1882.4,2115.0L1883.3,2118.1L1884.3,2119.6L1885.2,2108.6L1886.2,2108.7L1887.1,2113.8L1888.1,2125.3L1889.1,2122.2L1890.0,2120.7L1891.0,2127.2L1891.9,2114.9L1892.9,2128.4L1893.8,2131.4L1894.8,2118.1L1895.7,2122.0L1896.7,2117.3L1897.6,2120.8L1898.6,2106.1L1899.6,2118.8L1900.5,2125.5L1901.5,2123.5L1902.4,2130.4L1903.4,2123.4L1904.3,2113.7L1905.3,2098.2L1906.2,2113.8L1907.2,2097.4L1908.2,2092.2L1909.1,2107.5L1910.1,2108.4L1911.0,2117.3L1912.0,2125.6L1912.9,2116.3L1913.9,2119.0L1914.8,2124.6L1915.8,2129.1L1916.8,2108.3L1917.7,2112.8L1918.7,2113.6L1919.6,2118.0L1920.6,2103.2L1921.5,2112.9L1922.5,2117.1L1923.4,2095.1L1924.4,2098.6L1925.3,2095.0L1926.3,2098.8L1927.3,2115.5L1928.2,2110.5L1929.2,2100.0L1930.1,2117.0L1931.1,2095.0L1932.0,2086.8L1933.0,2085.0L1933.9,2103.1L1934.9,2101.7L1935.9,2110.3L1936.8,2107.3L1937.8,2088.6L1938.7,2091.5L1939.7,2090.9L1940.6,2080.8L1941.6,2100.0L1942.5,2093.9L1943.5,2098.3L1944.5,2086.7L1945.4,2083.9L1946.4,2100.9L1947.3,2107.8L1948.3,2108.4L1949.2,2111.7L1950.2,2132.2L1951.1,2129.1L1952.1,2122.2L1953.0,2129.8L1954.0,2130.5L1955.0,2136.7L1955.9,2134.9L1956.9,2128.8L1957.8,2137.8L1958.8,2142.6L1959.7,2123.6L1960.7,2134.2L1961.6,2142.7L1962.6,2134.9L1962.6,2185.3L1961.6,2187.4L1960.7,2180.3L1959.7,2162.3L1958.8,2177.7L1957.8,2168.9L1956.9,2165.5L1955.9,2181.6L1955.0,2183.4L1954.0,2191.6L1953.0,2189.0L1952.1,2181.1L1951.1,2173.5L1950.2,2171.8L1949.2,2154.1L1948.3,2138.8L1947.3,2140.3L1946.4,2121.4L1945.4,2128.6L1944.5,2119.3L1943.5,2131.8L1942.5,2129.4L1941.6,2147.7L1940.6,2128.2L1939.7,2137.5L1938.7,2135.6L1937.8,2132.7L1936.8,2141.7L1935.9,2150.3L1934.9,2133.7L1933.9,2146.8L1933.0,2127.0L1932.0,2130.6L1931.1,2133.8L1930.1,2157.5L1929.2,2146.3L1928.2,2155.3L1927.3,2160.8L1926.3,2145.0L1925.3,2156.4L1924.4,2158.9L1923.4,2161.7L1922.5,2167.8L1921.5,2157.1L1920.6,2160.5L1919.6,2153.2L1918.7,2157.8L1917.7,2160.2L1916.8,2163.2L1915.8,2170.9L1914.8,2177.3L1913.9,2158.6L1912.9,2167.7L1912.0,2178.1L1911.0,2167.5L1910.1,2156.1L1909.1,2145.1L1908.2,2146.8L1907.2,2146.4L1906.2,2156.7L1905.3,2152.4L1904.3,2146.5L1903.4,2146.7L1902.4,2162.3L1901.5,2167.5L1900.5,2171.3L1899.6,2171.9L1898.6,2164.2L1897.6,2170.6L1896.7,2165.7L1895.7,2165.5L1894.8,2172.6L1893.8,2177.4L1892.9,2170.5L1891.9,2149.4L1891.0,2158.8L1890.0,2161.8L1889.1,2168.0L1888.1,2159.0L1887.1,2154.0L1886.2,2159.8L1885.2,2151.8L1884.3,2164.1L1883.3,2154.3L1882.4,2155.1L1881.4,2163.2L1880.5,2166.0L1879.5,2177.2L1878.5,2158.6L1877.6,2159.2L1876.6,2155.8L1875.7,2148.0L1874.7,2158.5L1873.8,2140.6L1872.8,2133.5L1871.9,2144.0L1870.9,2143.7L1869.9,2142.8L1869.0,2139.2L1868.0,2153.2L1867.1,2132.1L1866.1,2129.5L1865.2,2127.1L1864.2,2142.9L1863.3,2138.8L1862.3,2157.8L1861.4,2156.1L1860.4,2160.4L1859.4,2159.2L1858.5,2156.8L1857.5,2157.1L1856.6,2140.1L1855.6,2157.2L1854.7,2154.4L1853.7,2152.0L1852.8,2159.4L1851.8,2149.6L1850.8,2163.0L1849.9,2162.3L1848.9,2165.7L1848.0,2154.8L1847.0,2152.7L1846.1,2153.5L1845.1,2154.2L1844.2,2149.2L1843.2,2147.8L1842.2,2157.2L1841.3,2146.7L1840.3,2145.3L1839.4,2142.1L1838.4,2151.8L1837.5,2141.9L1836.5,2157.1L1835.6,2159.1L1834.6,2151.8L1833.7,2157.6L1832.7,2158.8L1831.7,2155.1L1830.8,2143.3L1829.8,2140.1L1828.9,2146.2L1827.9,2145.0L1827.0,2152.3L1826.0,2150.3L1825.1,2165.2L1824.1,2181.9L1823.1,2167.1L1822.2,2161.4L1821.2,2161.3L1820.3,2151.4L1819.3,2141.8L1818.4,2138.1L1817.4,2154.4L1816.5,2155.3L1815.5,2135.2L1814.5,2143.3L1813.6,2137.1L1812.6,2148.0L1811.7,2137.4L1810.7,2144.0L1809.8,2123.5L1808.8,2126.9L1807.9,2137.5L1806.9,2147.3L1806.0,2163.4L1805.0,2163.5L1804.0,2152.7L1803.1,2153.0L1802.1,2150.5L1801.2,2158.7L1800.2,2175.1L1799.3,2155.0L1798.3,2165.5L1797.4,2165.6L1796.4,2166.2L1795.4,2160.3L1794.5,2159.7L1793.5,2157.3L1792.6,2154.4L1791.6,2161.5L1790.7,2170.0L1789.7,2167.7L1788.8,2157.5L1787.8,2164.4L1786.8,2176.9L1785.9,2184.5L1784.9,2170.8L1784.0,2177.5L1783.0,2178.7L1782.1,2188.4L1781.1,2184.6L1780.2,2197.6L1779.2,2196.4L1778.3,2193.0L1777.3,2187.3L1776.3,2197.2L1775.4,2181.0L1774.4,2180.4L1773.5,2173.9L1772.5,2163.7L1771.6,2164.7L1770.6,2161.6L1769.7,2149.3L1768.7,2131.6L1767.7,2123.5L1766.8,2129.6L1765.8,2125.1L1764.9,2111.8L1763.9,2117.0L1763.0,2112.2L1762.0,2113.6L1761.1,2116.2L1760.1,2117.2L1759.1,2131.4L1758.2,2135.2L1757.2,2128.4L1756.3,2127.3L1755.3,2126.6L1754.4,2121.2L1753.4,2120.7L1752.5,2133.2L1751.5,2113.5L1750.6,2116.1L1749.6,2116.1L1748.6,2118.2L1747.7,2116.0L1746.7,2115.6L1745.8,2104.0L1744.8,2108.1L1743.9,2125.9L1742.9,2117.1L1742.0,2116.2L1741.0,2122.7L1740.0,2128.8L1739.1,2132.6L1738.1,2124.1L1737.2,2126.1L1736.2,2120.0L1735.3,2107.2L1734.3,2124.9L1733.4,2117.5L1732.4,2128.5L1731.4,2123.2L1730.5,2130.1L1729.5,2136.3L1728.6,2151.1L1727.6,2164.3L1726.7,2166.6L1725.7,2159.2L1724.8,2150.5L1723.8,2148.5L1722.9,2136.0L1721.9,2137.7L1720.9,2154.0L1720.0,2128.9L1719.0,2135.8L1718.1,2142.2L1717.1,2136.6L1716.2,2148.7L1715.2,2150.8L1714.3,2157.9L1713.3,2142.7L1712.3,2142.2L1711.4,2156.1L1710.4,2145.3L1709.5,2150.4L1708.5,2155.2L1707.6,2147.4L1706.6,2145.9L1705.7,2127.2L1704.7,2135.9L1703.7,2126.8L1702.8,2129.3L1701.8,2115.7L1700.9,2108.0L1699.9,2112.9L1699.0,2134.9L1698.0,2135.3L1697.1,2139.2L1696.1,2131.5L1695.2,2129.7L1694.2,2111.0L1693.2,2113.6L1692.3,2103.0L1691.3,2104.1L1690.4,2104.3L1689.4,2116.7L1688.5,2116.8L1687.5,2130.8L1686.6,2127.7L1685.6,2120.0L1684.6,2120.0L1683.7,2111.0L1682.7,2117.8L1681.8,2109.9L1680.8,2107.3L1679.9,2126.6L1678.9,2129.0L1678.0,2117.8L1677.0,2124.9L1676.0,2138.2L1675.1,2125.4L1674.1,2131.2L1673.2,2134.0L1672.2,2122.5L1671.3,2110.2L1670.3,2113.9L1669.4,2121.2L1668.4,2125.6L1667.5,2136.2L1666.5,2139.9L1665.5,2134.5L1664.6,2120.3L1663.6,2122.1L1662.7,2106.4L1661.7,2111.7L1660.8,2100.3L1659.8,2105.1L1658.9,2090.3L1657.9,2096.8L1656.9,2091.8L1656.0,2101.7L1655.0,2096.0L1654.1,2105.9L1653.1,2103.4L1652.2,2079.2L1651.2,2086.9L1650.3,2082.2L1649.3,2088.3L1648.4,2082.8L1647.4,2079.0L1646.4,2094.7L1645.5,2110.7L1644.5,2093.0L1643.6,2099.8L1642.6,2094.1L1641.7,2104.5L1640.7,2101.7L1639.8,2096.3L1638.8,2101.8L1637.8,2097.1L1636.9,2090.2L1635.9,2100.5L1635.0,2106.2L1634.0,2094.6L1633.1,2114.6L1632.1,2100.9L1631.2,2118.7L1630.2,2126.7L1629.2,2116.2L1628.3,2119.0L1627.3,2099.2L1626.4,2117.9L1625.4,2114.1L1624.5,2119.3L1623.5,2113.0L1622.6,2122.1L1621.6,2107.1L1620.7,2119.2L1619.7,2125.4L1618.7,2130.2L1617.8,2136.8L1616.8,2138.5L1615.9,2134.6L1614.9,2143.8L1614.0,2139.5L1613.0,2135.3L1612.1,2121.4L1611.1,2129.6L1610.1,2137.2L1609.2,2149.4L1608.2,2151.9L1607.3,2149.0L1606.3,2137.3L1605.4,2137.6L1604.4,2140.6L1603.5,2134.5L1602.5,2148.6L1601.5,2152.5L1600.6,2153.2L1599.6,2158.3L1598.7,2164.9L1597.7,2163.9L1596.8,2162.8L1595.8,2152.3L1594.9,2150.8L1593.9,2143.4L1593.0,2131.4L1592.0,2147.4L1591.0,2142.6L1590.1,2125.6L1589.1,2125.3L1588.2,2128.0L1587.2,2124.0L1586.3,2118.1L1585.3,2117.4L1584.4,2114.8L1583.4,2108.2L1582.4,2105.3L1581.5,2111.1L1580.5,2122.9L1579.6,2103.3L1578.6,2102.9L1577.7,2110.5L1576.7,2116.1L1575.8,2130.3L1574.8,2124.8L1573.8,2119.6L1572.9,2116.3L1571.9,2121.9L1571.0,2117.8L1570.0,2118.9L1569.1,2125.1L1568.1,2119.5L1567.2,2114.3L1566.2,2116.2L1565.3,2126.6L1564.3,2121.9L1563.3,2114.1L1562.4,2127.6L1561.4,2132.6L1560.5,2130.2L1559.5,2137.3L1558.6,2136.6L1557.6,2144.3L1556.7,2160.0L1555.7,2158.3L1554.7,2151.4L1553.8,2166.3L1552.8,2163.3L1551.9,2154.3L1550.9,2161.4L1550.0,2164.5L1549.0,2171.8L1548.1,2148.7L1547.1,2138.1L1546.1,2147.2L1545.2,2152.1L1544.2,2165.9L1543.3,2169.1L1542.3,2172.8L1541.4,2164.4L1540.4,2153.0L1539.5,2160.5L1538.5,2167.5L1537.6,2155.9L1536.6,2155.0L1535.6,2164.7L1534.7,2146.1L1533.7,2133.0L1532.8,2132.4L1531.8,2137.8L1530.9,2126.5L1529.9,2120.2L1529.0,2125.5L1528.0,2114.4L1527.0,2109.0L1526.1,2116.3L1525.1,2121.3L1524.2,2108.0L1523.2,2113.3L1522.3,2106.0L1521.3,2102.1L1520.4,2087.1L1519.4,2085.6L1518.4,2113.6L1517.5,2109.7L1516.5,2110.1L1515.6,2123.2L1514.6,2111.2L1513.7,2116.0L1512.7,2110.0L1511.8,2117.0L1510.8,2100.6L1509.9,2087.2L1508.9,2104.9L1507.9,2099.3L1507.0,2096.6L1506.0,2103.0L1505.1,2098.3L1504.1,2114.2L1503.2,2095.4L1502.2,2092.0L1501.3,2096.3L1500.3,2078.9L1499.3,2090.6L1498.4,2073.6L1497.4,2083.3L1496.5,2081.4L1495.5,2096.8L1494.6,2065.4L1493.6,2071.6L1492.7,2078.4L1491.7,2080.2L1490.7,2069.3L1489.8,2074.6L1488.8,2080.3L1487.9,2093.5L1486.9,2103.0L1486.0,2099.6L1485.0,2098.5L1484.1,2102.6L1483.1,2107.1L1482.2,2113.2L1481.2,2117.3L1480.2,2125.6L1479.3,2130.7L1478.3,2143.4L1477.4,2159.4L1476.4,2175.3L1475.5,2163.5L1474.5,2173.8L1473.6,2158.0L1472.6,2143.1L1471.6,2134.3L1470.7,2141.1L1469.7,2137.4L1468.8,2115.3L1467.8,2125.8L1466.9,2137.7L1465.9,2142.3L1465.0,2137.6L1464.0,2128.4L1463.0,2132.1L1462.1,2126.8L1461.1,2115.7L1460.2,2125.1L1459.2,2134.8L1458.3,2121.8L1457.3,2123.6L1456.4,2121.2L1455.4,2112.4L1454.5,2097.2L1453.5,2113.6L1452.5,2129.5L1451.6,2121.1L1450.6,2109.0L1449.7,2096.6L1448.7,2098.6L1447.8,2089.6L1446.8,2094.9L1445.9,2108.5L1444.9,2110.9L1443.9,2109.4L1443.0,2095.4L1442.0,2105.8L1441.1,2115.7L1440.1,2115.3L1439.2,2117.9L1438.2,2119.4L1437.3,2123.4L1436.3,2126.1L1435.3,2116.3L1434.4,2120.5L1433.4,2119.1L1432.5,2123.8L1431.5,2108.6L1430.6,2134.3L1429.6,2133.0L1428.7,2118.2L1427.7,2114.5L1426.8,2117.4L1425.8,2118.8L1424.8,2118.4L1423.9,2126.3L1422.9,2131.4L1422.0,2138.5L1421.0,2141.4L1420.1,2120.5L1419.1,2128.3L1418.2,2127.5L1417.2,2121.9L1416.2,2113.0L1415.3,2131.0L1414.3,2108.9L1413.4,2102.8L1412.4,2112.0L1411.5,2119.5L1410.5,2122.0L1409.6,2118.5L1408.6,2104.1L1407.6,2101.9L1406.7,2107.1L1405.7,2102.3L1404.8,2093.6L1403.8,2088.5L1402.9,2092.7L1401.9,2107.5L1401.0,2112.9L1400.0,2126.9L1399.1,2119.3L1398.1,2104.4L1397.1,2119.1L1396.2,2115.5L1395.2,2106.0L1394.3,2117.7L1393.3,2126.8L1392.4,2145.6L1391.4,2170.0L1390.5,2145.0L1389.5,2120.5Z" fill="#a8a3a5" fill-opacity="0.36" stroke="#a8a3a5" stroke-opacity="0.45" stroke-width="0.8"/>
<path d="M1389.5,2090.3L1390.5,2089.4L1391.4,2088.6L1392.4,2091.3L1393.3,2099.7L1394.3,2093.6L1395.2,2085.4L1396.2,2089.4L1397.1,2096.5L1398.1,2078.5L1399.1,2091.3L1400.0,2097.8L1401.0,2087.1L1401.9,2082.6L1402.9,2072.8L1403.8,2070.3L1404.8,2081.0L1405.7,2085.3L1406.7,2089.2L1407.6,2082.2L1408.6,2083.0L1409.6,2089.4L1410.5,2087.7L1411.5,2093.5L1412.4,2094.8L1413.4,2089.5L1414.3,2090.5L1415.3,2109.5L1416.2,2095.6L1417.2,2103.6L1418.2,2101.7L1419.1,2104.4L1420.1,2099.1L1421.0,2102.1L1422.0,2102.3L1422.9,2094.5L1423.9,2097.7L1424.8,2089.2L1425.8,2090.0L1426.8,2089.9L1427.7,2089.7L1428.7,2096.5L1429.6,2102.4L1430.6,2091.5L1431.5,2083.5L1432.5,2098.6L1433.4,2093.3L1434.4,2094.1L1435.3,2096.5L1436.3,2094.4L1437.3,2094.3L1438.2,2088.9L1439.2,2082.0L1440.1,2087.9L1441.1,2085.1L1442.0,2081.8L1443.0,2074.3L1443.9,2090.0L1444.9,2093.7L1445.9,2093.9L1446.8,2089.5L1447.8,2082.7L1448.7,2084.7L1449.7,2070.9L1450.6,2080.2L1451.6,2085.7L1452.5,2092.7L1453.5,2085.9L1454.5,2086.2L1455.4,2091.0L1456.4,2098.9L1457.3,2103.3L1458.3,2098.7L1459.2,2112.7L1460.2,2110.7L1461.1,2097.0L1462.1,2103.3L1463.0,2109.7L1464.0,2109.9L1465.0,2109.4L1465.9,2118.7L1466.9,2122.0L1467.8,2115.6L1468.8,2108.4L1469.7,2121.1L1470.7,2126.2L1471.6,2127.5L1472.6,2130.9L1473.6,2137.7L1474.5,2157.1L1475.5,2143.8L1476.4,2144.3L1477.4,2133.2L1478.3,2126.0L1479.3,2106.2L1480.2,2099.9L1481.2,2101.3L1482.2,2096.5L1483.1,2092.9L1484.1,2086.7L1485.0,2081.0L1486.0,2073.4L1486.9,2071.7L1487.9,2069.1L1488.8,2062.8L1489.8,2061.0L1490.7,2054.9L1491.7,2053.5L1492.7,2050.1L1493.6,2052.1L1494.6,2045.8L1495.5,2062.4L1496.5,2056.3L1497.4,2058.0L1498.4,2055.6L1499.3,2067.9L1500.3,2066.6L1501.3,2077.0L1502.2,2075.4L1503.2,2076.5L1504.1,2089.4L1505.1,2074.3L1506.0,2083.3L1507.0,2077.0L1507.9,2085.2L1508.9,2085.1L1509.9,2076.5L1510.8,2079.5L1511.8,2086.7L1512.7,2080.5L1513.7,2089.1L1514.6,2079.1L1515.6,2084.3L1516.5,2080.0L1517.5,2080.4L1518.4,2081.5L1519.4,2067.6L1520.4,2072.7L1521.3,2085.3L1522.3,2084.2L1523.2,2090.5L1524.2,2088.7L1525.1,2095.3L1526.1,2092.7L1527.0,2087.1L1528.0,2090.7L1529.0,2107.2L1529.9,2103.4L1530.9,2111.0L1531.8,2113.6L1532.8,2115.7L1533.7,2109.2L1534.7,2122.5L1535.6,2130.9L1536.6,2125.3L1537.6,2122.1L1538.5,2140.9L1539.5,2128.1L1540.4,2128.6L1541.4,2139.1L1542.3,2146.4L1543.3,2146.1L1544.2,2144.2L1545.2,2135.5L1546.1,2130.5L1547.1,2123.5L1548.1,2131.1L1549.0,2147.2L1550.0,2144.6L1550.9,2142.8L1551.9,2132.9L1552.8,2135.5L1553.8,2137.0L1554.7,2131.9L1555.7,2133.3L1556.7,2129.5L1557.6,2124.2L1558.6,2117.3L1559.5,2111.1L1560.5,2107.6L1561.4,2099.2L1562.4,2103.5L1563.3,2095.2L1564.3,2103.2L1565.3,2109.5L1566.2,2101.2L1567.2,2093.7L1568.1,2100.3L1569.1,2100.4L1570.0,2106.5L1571.0,2102.6L1571.9,2101.5L1572.9,2094.3L1573.8,2101.1L1574.8,2100.3L1575.8,2104.5L1576.7,2101.9L1577.7,2089.4L1578.6,2078.7L1579.6,2083.7L1580.5,2085.9L1581.5,2081.1L1582.4,2080.7L1583.4,2084.0L1584.4,2090.1L1585.3,2091.8L1586.3,2091.3L1587.2,2094.6L1588.2,2101.8L1589.1,2105.5L1590.1,2103.8L1591.0,2123.4L1592.0,2127.1L1593.0,2119.0L1593.9,2128.7L1594.9,2123.8L1595.8,2130.1L1596.8,2136.7L1597.7,2135.8L1598.7,2141.0L1599.6,2133.9L1600.6,2133.2L1601.5,2132.6L1602.5,2129.3L1603.5,2121.7L1604.4,2120.7L1605.4,2109.0L1606.3,2118.2L1607.3,2116.8L1608.2,2127.9L1609.2,2127.2L1610.1,2119.8L1611.1,2114.3L1612.1,2108.3L1613.0,2122.0L1614.0,2115.7L1614.9,2121.9L1615.9,2115.6L1616.8,2118.4L1617.8,2116.8L1618.7,2104.0L1619.7,2106.1L1620.7,2100.1L1621.6,2086.4L1622.6,2087.0L1623.5,2090.4L1624.5,2094.0L1625.4,2092.6L1626.4,2095.9L1627.3,2080.1L1628.3,2092.0L1629.2,2094.4L1630.2,2094.1L1631.2,2094.6L1632.1,2080.9L1633.1,2089.1L1634.0,2082.1L1635.0,2091.0L1635.9,2080.7L1636.9,2079.4L1637.8,2080.8L1638.8,2090.5L1639.8,2084.0L1640.7,2081.0L1641.7,2081.0L1642.6,2079.6L1643.6,2083.9L1644.5,2073.5L1645.5,2085.5L1646.4,2070.1L1647.4,2065.3L1648.4,2073.5L1649.3,2076.1L1650.3,2067.9L1651.2,2074.6L1652.2,2063.3L1653.1,2083.9L1654.1,2084.9L1655.0,2073.6L1656.0,2078.5L1656.9,2073.6L1657.9,2072.3L1658.9,2063.4L1659.8,2081.2L1660.8,2075.9L1661.7,2073.0L1662.7,2072.1L1663.6,2094.7L1664.6,2095.3L1665.5,2113.6L1666.5,2107.4L1667.5,2103.5L1668.4,2096.7L1669.4,2088.8L1670.3,2089.3L1671.3,2086.4L1672.2,2096.9L1673.2,2107.0L1674.1,2103.8L1675.1,2100.0L1676.0,2107.3L1677.0,2103.1L1678.0,2095.4L1678.9,2101.8L1679.9,2100.8L1680.8,2100.2L1681.8,2096.2L1682.7,2097.9L1683.7,2096.1L1684.6,2098.8L1685.6,2100.2L1686.6,2096.3L1687.5,2100.6L1688.5,2095.5L1689.4,2091.7L1690.4,2093.5L1691.3,2077.6L1692.3,2078.5L1693.2,2095.8L1694.2,2090.4L1695.2,2106.6L1696.1,2106.3L1697.1,2108.2L1698.0,2097.9L1699.0,2098.7L1699.9,2090.4L1700.9,2092.2L1701.8,2097.8L1702.8,2103.7L1703.7,2099.7L1704.7,2106.9L1705.7,2102.8L1706.6,2118.5L1707.6,2125.3L1708.5,2136.0L1709.5,2129.3L1710.4,2130.5L1711.4,2131.1L1712.3,2128.2L1713.3,2134.8L1714.3,2142.5L1715.2,2141.0L1716.2,2131.0L1717.1,2127.2L1718.1,2129.5L1719.0,2117.9L1720.0,2118.8L1720.9,2130.8L1721.9,2126.0L1722.9,2124.4L1723.8,2131.0L1724.8,2129.3L1725.7,2132.4L1726.7,2143.7L1727.6,2135.2L1728.6,2123.5L1729.5,2111.5L1730.5,2105.8L1731.4,2105.3L1732.4,2103.7L1733.4,2100.1L1734.3,2101.5L1735.3,2095.5L1736.2,2095.5L1737.2,2103.4L1738.1,2093.9L1739.1,2101.7L1740.0,2093.5L1741.0,2098.3L1742.0,2094.8L1742.9,2094.9L1743.9,2091.2L1744.8,2089.5L1745.8,2084.9L1746.7,2096.5L1747.7,2097.4L1748.6,2097.6L1749.6,2092.3L1750.6,2098.6L1751.5,2098.5L1752.5,2108.9L1753.4,2102.8L1754.4,2106.4L1755.3,2104.7L1756.3,2102.5L1757.2,2100.9L1758.2,2109.8L1759.1,2105.0L1760.1,2104.1L1761.1,2104.8L1762.0,2103.3L1763.0,2104.5L1763.9,2109.8L1764.9,2106.3L1765.8,2112.7L1766.8,2114.0L1767.7,2111.1L1768.7,2121.8L1769.7,2129.5L1770.6,2139.2L1771.6,2146.6L1772.5,2140.6L1773.5,2143.2L1774.4,2149.5L1775.4,2155.1L1776.3,2168.6L1777.3,2168.3L1778.3,2172.4L1779.2,2170.0L1780.2,2174.1L1781.1,2162.8L1782.1,2161.1L1783.0,2154.9L1784.0,2149.3L1784.9,2145.8L1785.9,2162.2L1786.8,2158.7L1787.8,2148.6L1788.8,2146.3L1789.7,2142.7L1790.7,2143.6L1791.6,2138.2L1792.6,2133.2L1793.5,2135.4L1794.5,2141.5L1795.4,2140.0L1796.4,2145.9L1797.4,2145.2L1798.3,2148.1L1799.3,2139.4L1800.2,2155.1L1801.2,2140.2L1802.1,2136.1L1803.1,2128.3L1804.0,2127.4L1805.0,2127.1L1806.0,2128.8L1806.9,2118.1L1807.9,2116.9L1808.8,2111.0L1809.8,2103.6L1810.7,2121.6L1811.7,2115.2L1812.6,2123.9L1813.6,2119.7L1814.5,2123.8L1815.5,2122.2L1816.5,2127.2L1817.4,2129.2L1818.4,2121.8L1819.3,2131.9L1820.3,2130.1L1821.2,2137.1L1822.2,2132.6L1823.1,2143.8L1824.1,2138.6L1825.1,2131.4L1826.0,2125.9L1827.0,2129.8L1827.9,2116.9L1828.9,2117.8L1829.8,2118.9L1830.8,2127.1L1831.7,2126.4L1832.7,2124.2L1833.7,2129.3L1834.6,2128.3L1835.6,2123.8L1836.5,2121.9L1837.5,2121.2L1838.4,2127.1L1839.4,2117.6L1840.3,2123.5L1841.3,2130.4L1842.2,2133.4L1843.2,2128.7L1844.2,2128.8L1845.1,2136.1L1846.1,2131.0L1847.0,2130.8L1848.0,2137.9L1848.9,2140.0L1849.9,2141.0L1850.8,2140.2L1851.8,2127.2L1852.8,2138.5L1853.7,2129.4L1854.7,2122.2L1855.6,2131.5L1856.6,2116.9L1857.5,2124.3L1858.5,2129.9L1859.4,2133.0L1860.4,2142.4L1861.4,2133.1L1862.3,2141.9L1863.3,2121.1L1864.2,2123.5L1865.2,2112.4L1866.1,2111.3L1867.1,2112.7L1868.0,2129.0L1869.0,2120.1L1869.9,2121.5L1870.9,2117.8L1871.9,2114.1L1872.8,2107.7L1873.8,2118.6L1874.7,2128.9L1875.7,2123.0L1876.6,2130.3L1877.6,2134.5L1878.5,2135.9L1879.5,2147.8L1880.5,2142.1L1881.4,2137.9L1882.4,2134.8L1883.3,2130.3L1884.3,2132.9L1885.2,2125.9L1886.2,2134.5L1887.1,2133.1L1888.1,2136.9L1889.1,2139.6L1890.0,2135.8L1891.0,2143.4L1891.9,2136.2L1892.9,2147.3L1893.8,2156.3L1894.8,2146.1L1895.7,2151.9L1896.7,2153.4L1897.6,2152.7L1898.6,2143.2L1899.6,2147.0L1900.5,2148.7L1901.5,2153.0L1902.4,2151.7L1903.4,2139.6L1904.3,2135.8L1905.3,2128.7L1906.2,2138.3L1907.2,2129.0L1908.2,2125.2L1909.1,2132.9L1910.1,2137.1L1911.0,2140.2L1912.0,2142.9L1912.9,2136.0L1913.9,2132.7L1914.8,2138.9L1915.8,2138.3L1916.8,2136.0L1917.7,2131.9L1918.7,2130.7L1919.6,2133.3L1920.6,2133.9L1921.5,2134.4L1922.5,2133.2L1923.4,2130.3L1924.4,2125.7L1925.3,2124.3L1926.3,2123.0L1927.3,2137.1L1928.2,2126.1L1929.2,2119.4L1930.1,2131.4L1931.1,2114.3L1932.0,2111.6L1933.0,2108.3L1933.9,2122.8L1934.9,2117.9L1935.9,2132.1L1936.8,2129.4L1937.8,2113.2L1938.7,2117.5L1939.7,2116.5L1940.6,2103.7L1941.6,2117.9L1942.5,2108.9L1943.5,2114.6L1944.5,2105.4L1945.4,2112.0L1946.4,2108.4L1947.3,2119.2L1948.3,2125.3L1949.2,2131.5L1950.2,2146.4L1951.1,2148.4L1952.1,2149.4L1953.0,2157.4L1954.0,2156.3L1955.0,2155.8L1955.9,2157.8L1956.9,2147.2L1957.8,2152.2L1958.8,2157.8L1959.7,2148.8L1960.7,2161.1L1961.6,2163.5L1962.6,2161.1" fill="none" stroke="#aca7a9" stroke-width="2.4" stroke-linejoin="round"/>
<path d="M1389.5,1915.0L1390.5,1921.8L1391.4,1913.3L1392.4,1926.9L1393.3,1929.6L1394.3,1934.1L1395.2,1935.7L1396.2,1931.2L1397.1,1957.2L1398.1,1977.7L1399.1,1984.6L1400.0,1978.3L1401.0,1947.2L1401.9,1957.9L1402.9,1956.1L1403.8,1954.2L1404.8,1979.9L1405.7,1985.9L1406.7,1989.7L1407.6,1995.6L1408.6,1998.0L1409.6,1990.4L1410.5,1987.3L1411.5,1995.8L1412.4,2028.6L1413.4,2013.1L1414.3,2025.5L1415.3,2034.6L1416.2,2043.1L1417.2,2037.7L1418.2,2019.0L1419.1,2030.3L1420.1,2032.8L1421.0,2050.9L1422.0,2056.6L1422.9,2032.8L1423.9,2036.4L1424.8,2035.6L1425.8,2018.5L1426.8,2029.1L1427.7,2007.4L1428.7,2004.0L1429.6,2014.2L1430.6,2021.4L1431.5,2034.6L1432.5,2015.7L1433.4,2002.0L1434.4,2014.8L1435.3,2018.5L1436.3,2019.2L1437.3,2021.5L1438.2,2032.6L1439.2,2029.7L1440.1,2038.0L1441.1,2032.4L1442.0,2033.0L1443.0,2022.7L1443.9,2021.8L1444.9,2022.0L1445.9,2015.6L1446.8,2021.9L1447.8,2041.8L1448.7,2035.9L1449.7,2055.1L1450.6,2049.0L1451.6,2034.0L1452.5,2046.2L1453.5,2037.5L1454.5,2045.5L1455.4,2054.4L1456.4,2054.6L1457.3,2050.3L1458.3,2047.3L1459.2,2033.8L1460.2,2058.4L1461.1,2049.0L1462.1,2069.1L1463.0,2062.3L1464.0,2072.6L1465.0,2092.4L1465.9,2086.6L1466.9,2080.6L1467.8,2094.1L1468.8,2105.8L1469.7,2095.4L1470.7,2092.1L1471.6,2080.8L1472.6,2073.0L1473.6,2079.2L1474.5,2067.6L1475.5,2060.9L1476.4,2051.0L1477.4,2050.9L1478.3,2051.4L1479.3,2039.2L1480.2,2047.3L1481.2,2029.6L1482.2,2009.4L1483.1,1981.0L1484.1,1995.7L1485.0,1982.7L1486.0,1975.9L1486.9,1970.5L1487.9,1929.6L1488.8,1935.5L1489.8,1935.0L1490.7,1943.0L1491.7,1952.3L1492.7,1956.1L1493.6,1947.6L1494.6,1972.5L1495.5,1973.1L1496.5,1979.0L1497.4,1996.2L1498.4,1989.3L1499.3,1992.0L1500.3,1975.4L1501.3,1998.0L1502.2,2004.2L1503.2,2005.6L1504.1,2016.8L1505.1,2029.2L1506.0,2012.2L1507.0,2027.7L1507.9,2028.6L1508.9,2035.4L1509.9,2015.7L1510.8,2020.7L1511.8,2017.9L1512.7,2032.1L1513.7,2016.1L1514.6,2021.8L1515.6,2041.1L1516.5,2023.2L1517.5,2029.8L1518.4,2023.9L1519.4,2023.5L1520.4,2012.0L1521.3,2003.2L1522.3,2001.7L1523.2,1989.7L1524.2,1984.4L1525.1,1992.0L1526.1,1994.8L1527.0,2005.5L1528.0,2006.8L1529.0,2006.6L1529.9,2019.8L1530.9,2019.5L1531.8,2017.3L1532.8,2020.2L1533.7,2024.7L1534.7,2029.0L1535.6,2038.3L1536.6,2025.0L1537.6,2013.4L1538.5,2033.2L1539.5,2048.6L1540.4,2032.0L1541.4,2045.0L1542.3,2030.4L1543.3,2027.9L1544.2,2025.5L1545.2,2036.1L1546.1,2037.8L1547.1,2047.3L1548.1,2054.1L1549.0,2058.8L1550.0,2056.4L1550.9,2055.3L1551.9,2060.0L1552.8,2066.9L1553.8,2051.8L1554.7,2063.0L1555.7,2049.0L1556.7,2047.0L1557.6,2053.6L1558.6,2058.1L1559.5,2057.8L1560.5,2050.6L1561.4,2032.8L1562.4,2041.6L1563.3,2031.3L1564.3,2032.9L1565.3,2050.0L1566.2,2037.6L1567.2,2045.6L1568.1,2020.8L1569.1,2000.5L1570.0,1990.2L1571.0,1987.7L1571.9,1991.2L1572.9,2003.8L1573.8,2018.0L1574.8,2024.1L1575.8,2024.2L1576.7,2043.2L1577.7,2021.1L1578.6,2035.6L1579.6,2051.7L1580.5,2031.4L1581.5,2055.9L1582.4,2050.0L1583.4,2057.8L1584.4,2053.0L1585.3,2058.5L1586.3,2072.2L1587.2,2085.9L1588.2,2092.7L1589.1,2097.5L1590.1,2098.0L1591.0,2092.3L1592.0,2098.5L1593.0,2111.9L1593.9,2114.4L1594.9,2114.4L1595.8,2113.4L1596.8,2129.2L1597.7,2140.1L1598.7,2142.1L1599.6,2149.3L1600.6,2158.1L1601.5,2144.7L1602.5,2142.9L1603.5,2150.0L1604.4,2156.2L1605.4,2147.0L1606.3,2142.8L1607.3,2141.6L1608.2,2130.2L1609.2,2127.9L1610.1,2121.0L1611.1,2126.8L1612.1,2145.6L1613.0,2125.5L1614.0,2135.7L1614.9,2147.3L1615.9,2150.9L1616.8,2148.9L1617.8,2139.6L1618.7,2143.4L1619.7,2137.6L1620.7,2158.9L1621.6,2165.0L1622.6,2165.0L1623.5,2153.9L1624.5,2165.0L1625.4,2172.1L1626.4,2181.4L1627.3,2192.6L1628.3,2173.5L1629.2,2182.2L1630.2,2186.6L1631.2,2173.0L1632.1,2172.3L1633.1,2174.1L1634.0,2172.0L1635.0,2184.8L1635.9,2205.8L1636.9,2184.4L1637.8,2200.8L1638.8,2221.2L1639.8,2203.1L1640.7,2190.6L1641.7,2187.0L1642.6,2195.0L1643.6,2208.4L1644.5,2208.1L1645.5,2202.6L1646.4,2191.6L1647.4,2207.4L1648.4,2203.6L1649.3,2203.7L1650.3,2220.5L1651.2,2231.1L1652.2,2220.4L1653.1,2249.8L1654.1,2227.6L1655.0,2232.2L1656.0,2227.6L1656.9,2237.9L1657.9,2246.9L1658.9,2236.1L1659.8,2238.7L1660.8,2260.6L1661.7,2242.6L1662.7,2267.3L1663.6,2261.5L1664.6,2261.5L1665.5,2248.5L1666.5,2243.5L1667.5,2236.7L1668.4,2249.2L1669.4,2245.7L1670.3,2235.1L1671.3,2257.1L1672.2,2245.5L1673.2,2231.2L1674.1,2224.3L1675.1,2208.3L1676.0,2220.7L1677.0,2216.8L1678.0,2212.1L1678.9,2191.7L1679.9,2180.5L1680.8,2204.1L1681.8,2198.1L1682.7,2197.0L1683.7,2194.2L1684.6,2170.1L1685.6,2179.1L1686.6,2198.8L1687.5,2196.4L1688.5,2183.8L1689.4,2162.5L1690.4,2171.1L1691.3,2188.9L1692.3,2189.3L1693.2,2205.9L1694.2,2192.3L1695.2,2198.9L1696.1,2185.4L1697.1,2198.6L1698.0,2211.1L1699.0,2215.6L1699.9,2212.3L1700.9,2211.3L1701.8,2216.7L1702.8,2201.7L1703.7,2215.0L1704.7,2233.9L1705.7,2212.6L1706.6,2215.7L1707.6,2218.0L1708.5,2222.7L1709.5,2227.6L1710.4,2215.5L1711.4,2230.3L1712.3,2225.8L1713.3,2232.3L1714.3,2221.8L1715.2,2207.2L1716.2,2195.5L1717.1,2202.9L1718.1,2204.7L1719.0,2213.7L1720.0,2217.3L1720.9,2188.0L1721.9,2174.9L1722.9,2165.2L1723.8,2199.1L1724.8,2204.8L1725.7,2216.1L1726.7,2230.0L1727.6,2217.5L1728.6,2226.2L1729.5,2226.4L1730.5,2225.7L1731.4,2233.8L1732.4,2216.1L1733.4,2244.6L1734.3,2228.3L1735.3,2218.7L1736.2,2226.6L1737.2,2223.8L1738.1,2228.8L1739.1,2226.4L1740.0,2212.9L1741.0,2210.2L1742.0,2181.5L1742.9,2200.5L1743.9,2203.7L1744.8,2186.4L1745.8,2187.7L1746.7,2183.3L1747.7,2199.4L1748.6,2203.4L1749.6,2198.1L1750.6,2200.0L1751.5,2194.6L1752.5,2184.0L1753.4,2200.1L1754.4,2196.4L1755.3,2184.5L1756.3,2191.2L1757.2,2208.6L1758.2,2203.1L1759.1,2174.8L1760.1,2209.1L1761.1,2210.4L1762.0,2226.9L1763.0,2211.5L1763.9,2227.4L1764.9,2222.8L1765.8,2241.1L1766.8,2233.1L1767.7,2241.0L1768.7,2230.8L1769.7,2231.9L1770.6,2211.9L1771.6,2233.8L1772.5,2239.9L1773.5,2236.0L1774.4,2227.1L1775.4,2233.6L1776.3,2227.0L1777.3,2195.4L1778.3,2215.8L1779.2,2205.2L1780.2,2220.8L1781.1,2200.8L1782.1,2214.3L1783.0,2203.6L1784.0,2190.2L1784.9,2202.5L1785.9,2205.4L1786.8,2187.6L1787.8,2170.7L1788.8,2151.9L1789.7,2138.0L1790.7,2120.6L1791.6,2120.5L1792.6,2125.6L1793.5,2120.8L1794.5,2088.7L1795.4,2064.0L1796.4,2048.2L1797.4,2053.5L1798.3,2046.6L1799.3,2037.2L1800.2,2049.1L1801.2,2037.8L1802.1,2026.2L1803.1,2033.0L1804.0,2041.6L1805.0,2025.5L1806.0,2044.5L1806.9,2051.1L1807.9,2049.8L1808.8,2060.5L1809.8,2065.8L1810.7,2066.2L1811.7,2068.5L1812.6,2061.2L1813.6,2064.9L1814.5,2059.6L1815.5,2076.8L1816.5,2087.3L1817.4,2079.1L1818.4,2081.5L1819.3,2067.1L1820.3,2075.0L1821.2,2064.3L1822.2,2063.6L1823.1,2049.0L1824.1,2074.3L1825.1,2064.1L1826.0,2052.2L1827.0,2045.0L1827.9,2032.8L1828.9,2029.3L1829.8,2010.3L1830.8,2038.4L1831.7,2038.1L1832.7,2048.6L1833.7,2057.8L1834.6,2041.2L1835.6,2043.0L1836.5,2042.4L1837.5,2040.1L1838.4,2020.8L1839.4,2021.6L1840.3,2042.0L1841.3,2049.9L1842.2,2063.8L1843.2,2043.7L1844.2,2050.0L1845.1,2051.1L1846.1,2030.4L1847.0,2025.3L1848.0,2020.8L1848.9,2012.5L1849.9,2012.1L1850.8,2004.1L1851.8,2004.3L1852.8,1980.0L1853.7,1961.6L1854.7,1961.0L1855.6,1977.0L1856.6,1962.3L1857.5,1950.6L1858.5,1975.8L1859.4,1963.7L1860.4,1990.9L1861.4,2005.3L1862.3,2003.8L1863.3,2005.8L1864.2,2021.8L1865.2,2003.4L1866.1,2011.8L1867.1,1994.4L1868.0,1995.9L1869.0,2006.7L1869.9,2022.7L1870.9,2029.0L1871.9,2032.0L1872.8,2039.0L1873.8,2052.5L1874.7,2048.4L1875.7,2062.9L1876.6,2057.0L1877.6,2090.0L1878.5,2078.6L1879.5,2074.9L1880.5,2065.4L1881.4,2087.3L1882.4,2076.9L1883.3,2076.8L1884.3,2078.4L1885.2,2070.6L1886.2,2052.6L1887.1,2051.7L1888.1,2047.0L1889.1,2060.3L1890.0,2067.3L1891.0,2043.2L1891.9,2033.0L1892.9,2041.8L1893.8,2047.3L1894.8,2038.9L1895.7,2028.7L1896.7,2041.7L1897.6,2015.4L1898.6,2028.4L1899.6,1997.1L1900.5,1973.4L1901.5,1973.8L1902.4,1997.7L1903.4,2027.1L1904.3,2052.4L1905.3,2072.9L1906.2,2054.8L1907.2,2043.8L1908.2,2058.8L1909.1,2052.6L1910.1,2041.2L1911.0,2034.6L1912.0,2049.4L1912.9,2036.1L1913.9,2035.9L1914.8,2042.1L1915.8,2039.8L1916.8,2034.0L1917.7,2004.9L1918.7,2016.5L1919.6,1993.0L1920.6,2011.0L1921.5,2001.8L1922.5,2000.0L1923.4,2011.7L1924.4,2008.6L1925.3,2018.7L1926.3,2014.9L1927.3,2006.6L1928.2,2015.0L1929.2,2014.3L1930.1,2032.0L1931.1,2021.7L1932.0,2018.5L1933.0,2007.6L1933.9,2017.9L1934.9,2017.4L1935.9,2019.5L1936.8,2006.9L1937.8,2010.4L1938.7,2009.0L1939.7,1983.1L1940.6,1978.4L1941.6,1979.1L1942.5,1982.7L1943.5,2006.8L1944.5,2013.1L1945.4,1997.9L1946.4,1980.4L1947.3,2010.6L1948.3,1990.6L1949.2,1991.1L1950.2,1992.6L1951.1,2003.1L1952.1,1997.7L1953.0,1997.7L1954.0,2014.6L1955.0,2007.6L1955.9,2037.5L1956.9,2046.2L1957.8,2025.6L1958.8,1998.2L1959.7,1998.6L1960.7,2006.0L1961.6,2012.7L1962.6,2013.6L1962.6,2098.6L1961.6,2088.9L1960.7,2071.2L1959.7,2054.7L1958.8,2061.1L1957.8,2068.5L1956.9,2091.4L1955.9,2084.9L1955.0,2088.6L1954.0,2079.1L1953.0,2052.4L1952.1,2057.6L1951.1,2047.7L1950.2,2050.9L1949.2,2053.8L1948.3,2064.3L1947.3,2076.7L1946.4,2062.3L1945.4,2075.9L1944.5,2089.0L1943.5,2067.4L1942.5,2062.1L1941.6,2057.8L1940.6,2053.7L1939.7,2062.7L1938.7,2088.1L1937.8,2083.7L1936.8,2062.7L1935.9,2088.6L1934.9,2093.5L1933.9,2089.5L1933.0,2080.7L1932.0,2096.5L1931.1,2088.0L1930.1,2098.3L1929.2,2082.0L1928.2,2085.9L1927.3,2088.3L1926.3,2098.4L1925.3,2093.8L1924.4,2075.2L1923.4,2078.0L1922.5,2090.5L1921.5,2092.3L1920.6,2107.0L1919.6,2108.0L1918.7,2113.0L1917.7,2103.6L1916.8,2120.1L1915.8,2125.5L1914.8,2117.6L1913.9,2119.2L1912.9,2121.1L1912.0,2126.6L1911.0,2126.3L1910.1,2106.2L1909.1,2116.0L1908.2,2134.2L1907.2,2131.7L1906.2,2128.3L1905.3,2166.5L1904.3,2125.3L1903.4,2093.4L1902.4,2082.0L1901.5,2064.7L1900.5,2045.4L1899.6,2067.7L1898.6,2091.0L1897.6,2088.2L1896.7,2114.8L1895.7,2121.3L1894.8,2110.3L1893.8,2114.7L1892.9,2123.5L1891.9,2119.8L1891.0,2122.0L1890.0,2118.5L1889.1,2109.9L1888.1,2103.6L1887.1,2106.9L1886.2,2111.3L1885.2,2142.3L1884.3,2157.7L1883.3,2142.6L1882.4,2138.8L1881.4,2151.3L1880.5,2154.6L1879.5,2149.0L1878.5,2157.4L1877.6,2175.3L1876.6,2163.1L1875.7,2151.2L1874.7,2144.9L1873.8,2142.2L1872.8,2125.0L1871.9,2101.0L1870.9,2088.0L1869.9,2078.5L1869.0,2072.3L1868.0,2076.0L1867.1,2077.1L1866.1,2078.8L1865.2,2072.9L1864.2,2074.3L1863.3,2075.0L1862.3,2078.0L1861.4,2073.1L1860.4,2071.6L1859.4,2057.3L1858.5,2059.7L1857.5,2033.1L1856.6,2034.3L1855.6,2049.8L1854.7,2069.9L1853.7,2059.3L1852.8,2075.9L1851.8,2079.0L1850.8,2087.9L1849.9,2094.7L1848.9,2105.7L1848.0,2102.5L1847.0,2104.8L1846.1,2114.7L1845.1,2121.0L1844.2,2125.0L1843.2,2123.4L1842.2,2113.7L1841.3,2097.8L1840.3,2095.2L1839.4,2083.8L1838.4,2087.1L1837.5,2113.6L1836.5,2121.1L1835.6,2105.9L1834.6,2102.6L1833.7,2132.8L1832.7,2101.8L1831.7,2097.5L1830.8,2108.4L1829.8,2109.1L1828.9,2121.9L1827.9,2113.1L1827.0,2117.4L1826.0,2117.9L1825.1,2143.1L1824.1,2137.5L1823.1,2138.3L1822.2,2142.9L1821.2,2133.6L1820.3,2171.4L1819.3,2153.3L1818.4,2157.1L1817.4,2147.7L1816.5,2164.7L1815.5,2147.6L1814.5,2140.1L1813.6,2141.7L1812.6,2141.1L1811.7,2134.3L1810.7,2127.8L1809.8,2136.3L1808.8,2131.6L1807.9,2130.9L1806.9,2121.3L1806.0,2134.4L1805.0,2099.2L1804.0,2102.8L1803.1,2115.6L1802.1,2103.7L1801.2,2100.1L1800.2,2120.4L1799.3,2125.1L1798.3,2126.6L1797.4,2131.4L1796.4,2128.0L1795.4,2155.9L1794.5,2169.1L1793.5,2184.7L1792.6,2203.0L1791.6,2215.3L1790.7,2190.7L1789.7,2218.1L1788.8,2233.4L1787.8,2248.4L1786.8,2248.9L1785.9,2278.6L1784.9,2260.0L1784.0,2241.3L1783.0,2257.6L1782.1,2253.0L1781.1,2270.0L1780.2,2279.5L1779.2,2296.2L1778.3,2272.2L1777.3,2271.5L1776.3,2288.1L1775.4,2297.5L1774.4,2306.5L1773.5,2301.8L1772.5,2307.7L1771.6,2291.8L1770.6,2306.2L1769.7,2308.1L1768.7,2305.9L1767.7,2331.6L1766.8,2313.8L1765.8,2316.3L1764.9,2306.8L1763.9,2304.6L1763.0,2310.9L1762.0,2307.8L1761.1,2300.1L1760.1,2271.5L1759.1,2266.1L1758.2,2263.6L1757.2,2252.5L1756.3,2272.6L1755.3,2278.2L1754.4,2285.3L1753.4,2277.6L1752.5,2266.0L1751.5,2277.6L1750.6,2272.3L1749.6,2280.7L1748.6,2280.1L1747.7,2268.0L1746.7,2269.3L1745.8,2286.8L1744.8,2296.2L1743.9,2287.8L1742.9,2295.7L1742.0,2276.4L1741.0,2285.9L1740.0,2295.3L1739.1,2292.8L1738.1,2289.5L1737.2,2306.0L1736.2,2295.4L1735.3,2299.2L1734.3,2312.2L1733.4,2324.2L1732.4,2307.5L1731.4,2291.2L1730.5,2305.4L1729.5,2290.2L1728.6,2312.7L1727.6,2299.8L1726.7,2301.5L1725.7,2300.4L1724.8,2294.4L1723.8,2299.1L1722.9,2273.0L1721.9,2264.6L1720.9,2280.2L1720.0,2287.4L1719.0,2282.2L1718.1,2272.8L1717.1,2300.1L1716.2,2294.9L1715.2,2294.5L1714.3,2310.2L1713.3,2323.3L1712.3,2322.1L1711.4,2311.3L1710.4,2329.9L1709.5,2334.3L1708.5,2316.1L1707.6,2314.0L1706.6,2314.7L1705.7,2312.0L1704.7,2302.8L1703.7,2291.1L1702.8,2277.6L1701.8,2285.3L1700.9,2300.2L1699.9,2290.3L1699.0,2276.6L1698.0,2274.1L1697.1,2262.1L1696.1,2274.4L1695.2,2253.1L1694.2,2255.8L1693.2,2254.3L1692.3,2259.2L1691.3,2275.0L1690.4,2278.8L1689.4,2271.4L1688.5,2270.8L1687.5,2266.6L1686.6,2255.4L1685.6,2253.5L1684.6,2242.9L1683.7,2256.4L1682.7,2259.5L1681.8,2261.4L1680.8,2273.1L1679.9,2269.2L1678.9,2283.5L1678.0,2283.6L1677.0,2305.0L1676.0,2290.8L1675.1,2297.2L1674.1,2322.0L1673.2,2318.2L1672.2,2314.6L1671.3,2344.7L1670.3,2320.9L1669.4,2304.8L1668.4,2323.7L1667.5,2320.9L1666.5,2315.4L1665.5,2316.7L1664.6,2309.6L1663.6,2336.0L1662.7,2310.9L1661.7,2303.2L1660.8,2319.3L1659.8,2322.9L1658.9,2300.6L1657.9,2306.4L1656.9,2299.1L1656.0,2294.2L1655.0,2286.1L1654.1,2299.6L1653.1,2304.6L1652.2,2284.0L1651.2,2297.1L1650.3,2285.0L1649.3,2287.8L1648.4,2287.5L1647.4,2263.9L1646.4,2255.5L1645.5,2264.1L1644.5,2273.3L1643.6,2255.4L1642.6,2247.7L1641.7,2239.8L1640.7,2251.4L1639.8,2266.2L1638.8,2260.2L1637.8,2253.7L1636.9,2257.3L1635.9,2265.2L1635.0,2267.4L1634.0,2264.6L1633.1,2274.8L1632.1,2256.8L1631.2,2262.5L1630.2,2277.5L1629.2,2283.6L1628.3,2268.6L1627.3,2259.3L1626.4,2247.4L1625.4,2236.2L1624.5,2232.4L1623.5,2211.4L1622.6,2219.8L1621.6,2213.2L1620.7,2207.0L1619.7,2212.5L1618.7,2201.9L1617.8,2195.9L1616.8,2198.7L1615.9,2203.6L1614.9,2191.6L1614.0,2189.9L1613.0,2189.1L1612.1,2199.6L1611.1,2196.7L1610.1,2188.8L1609.2,2203.6L1608.2,2195.9L1607.3,2199.7L1606.3,2198.8L1605.4,2203.2L1604.4,2201.0L1603.5,2195.4L1602.5,2191.3L1601.5,2212.7L1600.6,2245.1L1599.6,2258.0L1598.7,2235.9L1597.7,2211.2L1596.8,2204.9L1595.8,2197.9L1594.9,2213.2L1593.9,2206.1L1593.0,2194.3L1592.0,2186.8L1591.0,2169.9L1590.1,2175.9L1589.1,2172.3L1588.2,2165.4L1587.2,2148.6L1586.3,2142.3L1585.3,2140.3L1584.4,2135.2L1583.4,2126.3L1582.4,2105.5L1581.5,2111.5L1580.5,2093.3L1579.6,2107.8L1578.6,2105.3L1577.7,2100.5L1576.7,2091.7L1575.8,2091.2L1574.8,2098.0L1573.8,2084.1L1572.9,2069.3L1571.9,2072.3L1571.0,2085.8L1570.0,2073.2L1569.1,2085.2L1568.1,2097.2L1567.2,2105.3L1566.2,2124.9L1565.3,2108.5L1564.3,2113.9L1563.3,2114.0L1562.4,2112.7L1561.4,2113.5L1560.5,2108.3L1559.5,2114.5L1558.6,2108.9L1557.6,2094.6L1556.7,2126.8L1555.7,2122.9L1554.7,2120.8L1553.8,2117.4L1552.8,2150.8L1551.9,2133.4L1550.9,2139.3L1550.0,2135.7L1549.0,2138.8L1548.1,2129.8L1547.1,2132.1L1546.1,2128.3L1545.2,2125.1L1544.2,2119.7L1543.3,2102.5L1542.3,2100.9L1541.4,2105.3L1540.4,2097.7L1539.5,2086.7L1538.5,2086.6L1537.6,2090.8L1536.6,2095.3L1535.6,2104.9L1534.7,2100.4L1533.7,2094.8L1532.8,2090.5L1531.8,2084.5L1530.9,2095.6L1529.9,2093.4L1529.0,2079.1L1528.0,2069.4L1527.0,2062.2L1526.1,2049.8L1525.1,2058.9L1524.2,2085.1L1523.2,2078.7L1522.3,2092.5L1521.3,2072.3L1520.4,2093.3L1519.4,2082.6L1518.4,2079.1L1517.5,2093.9L1516.5,2066.1L1515.6,2093.4L1514.6,2085.6L1513.7,2078.9L1512.7,2090.7L1511.8,2080.4L1510.8,2070.7L1509.9,2070.2L1508.9,2093.5L1507.9,2094.2L1507.0,2082.1L1506.0,2071.9L1505.1,2076.4L1504.1,2080.7L1503.2,2070.6L1502.2,2067.3L1501.3,2077.5L1500.3,2066.1L1499.3,2081.3L1498.4,2065.4L1497.4,2045.7L1496.5,2044.7L1495.5,2042.6L1494.6,2049.1L1493.6,2029.8L1492.7,2026.0L1491.7,2005.7L1490.7,2017.4L1489.8,1995.9L1488.8,1998.6L1487.9,2013.2L1486.9,2036.0L1486.0,2057.2L1485.0,2054.7L1484.1,2073.3L1483.1,2107.0L1482.2,2094.8L1481.2,2102.7L1480.2,2119.5L1479.3,2104.4L1478.3,2117.9L1477.4,2118.3L1476.4,2125.5L1475.5,2136.5L1474.5,2157.6L1473.6,2155.3L1472.6,2140.3L1471.6,2161.3L1470.7,2155.7L1469.7,2159.2L1468.8,2135.1L1467.8,2138.1L1466.9,2145.0L1465.9,2145.8L1465.0,2154.5L1464.0,2146.4L1463.0,2153.7L1462.1,2162.7L1461.1,2142.8L1460.2,2136.3L1459.2,2131.1L1458.3,2131.9L1457.3,2119.3L1456.4,2111.6L1455.4,2103.2L1454.5,2075.2L1453.5,2085.0L1452.5,2087.1L1451.6,2066.5L1450.6,2078.1L1449.7,2099.4L1448.7,2092.4L1447.8,2083.0L1446.8,2077.3L1445.9,2088.3L1444.9,2091.7L1443.9,2102.3L1443.0,2097.1L1442.0,2098.8L1441.1,2104.7L1440.1,2095.3L1439.2,2099.4L1438.2,2084.7L1437.3,2087.8L1436.3,2070.0L1435.3,2078.5L1434.4,2085.6L1433.4,2070.3L1432.5,2082.5L1431.5,2100.1L1430.6,2080.9L1429.6,2089.9L1428.7,2078.0L1427.7,2089.1L1426.8,2080.4L1425.8,2107.5L1424.8,2102.3L1423.9,2099.3L1422.9,2093.8L1422.0,2109.9L1421.0,2111.6L1420.1,2120.6L1419.1,2103.4L1418.2,2113.1L1417.2,2103.4L1416.2,2098.1L1415.3,2095.9L1414.3,2103.7L1413.4,2083.2L1412.4,2094.8L1411.5,2065.3L1410.5,2058.7L1409.6,2064.9L1408.6,2059.7L1407.6,2075.6L1406.7,2048.6L1405.7,2057.9L1404.8,2037.3L1403.8,2016.0L1402.9,2024.8L1401.9,2022.6L1401.0,2034.4L1400.0,2053.2L1399.1,2052.8L1398.1,2040.6L1397.1,2040.9L1396.2,2022.5L1395.2,2027.3L1394.3,2033.4L1393.3,2013.4L1392.4,1989.5L1391.4,1974.7L1390.5,1976.5L1389.5,1992.5Z" fill="#9db6e3" fill-opacity="0.3" stroke="#9db6e3" stroke-opacity="0.35" stroke-width="0.8"/>
<path d="M1389.5,1952.7L1390.5,1956.1L1391.4,1951.5L1392.4,1956.4L1393.3,1970.6L1394.3,1975.7L1395.2,1978.7L1396.2,1994.6L1397.1,2003.3L1398.1,2011.9L1399.1,2017.6L1400.0,2012.1L1401.0,1999.6L1401.9,1995.0L1402.9,1986.5L1403.8,1986.4L1404.8,1994.1L1405.7,2013.8L1406.7,2014.9L1407.6,2035.6L1408.6,2023.7L1409.6,2026.0L1410.5,2028.4L1411.5,2035.4L1412.4,2049.2L1413.4,2048.8L1414.3,2058.1L1415.3,2063.9L1416.2,2066.5L1417.2,2073.4L1418.2,2072.4L1419.1,2079.0L1420.1,2077.6L1421.0,2081.2L1422.0,2078.2L1422.9,2062.8L1423.9,2063.4L1424.8,2062.1L1425.8,2066.0L1426.8,2059.7L1427.7,2050.3L1428.7,2046.1L1429.6,2052.9L1430.6,2057.5L1431.5,2064.1L1432.5,2049.4L1433.4,2041.0L1434.4,2058.8L1435.3,2049.6L1436.3,2052.1L1437.3,2056.5L1438.2,2061.0L1439.2,2071.8L1440.1,2062.6L1441.1,2065.2L1442.0,2064.0L1443.0,2054.3L1443.9,2060.5L1444.9,2058.4L1445.9,2055.1L1446.8,2051.0L1447.8,2063.8L1448.7,2065.6L1449.7,2074.6L1450.6,2069.3L1451.6,2056.8L1452.5,2070.3L1453.5,2065.7L1454.5,2060.6L1455.4,2071.7L1456.4,2077.9L1457.3,2081.6L1458.3,2079.3L1459.2,2082.8L1460.2,2090.8L1461.1,2094.6L1462.1,2107.4L1463.0,2101.8L1464.0,2103.3L1465.0,2114.5L1465.9,2116.3L1466.9,2114.0L1467.8,2116.1L1468.8,2121.5L1469.7,2119.6L1470.7,2119.0L1471.6,2117.1L1472.6,2112.0L1473.6,2115.2L1474.5,2112.3L1475.5,2097.0L1476.4,2091.3L1477.4,2088.0L1478.3,2086.3L1479.3,2074.0L1480.2,2079.7L1481.2,2065.8L1482.2,2056.6L1483.1,2051.6L1484.1,2042.0L1485.0,2028.8L1486.0,2016.3L1486.9,1998.3L1487.9,1986.6L1488.8,1972.5L1489.8,1972.4L1490.7,1981.2L1491.7,1977.6L1492.7,1985.9L1493.6,1993.9L1494.6,2003.3L1495.5,2007.6L1496.5,2014.5L1497.4,2026.1L1498.4,2031.5L1499.3,2034.6L1500.3,2031.6L1501.3,2045.7L1502.2,2046.3L1503.2,2044.6L1504.1,2048.0L1505.1,2053.2L1506.0,2048.6L1507.0,2049.6L1507.9,2062.3L1508.9,2058.7L1509.9,2055.3L1510.8,2054.9L1511.8,2051.0L1512.7,2058.9L1513.7,2051.4L1514.6,2057.4L1515.6,2061.6L1516.5,2052.1L1517.5,2054.1L1518.4,2048.4L1519.4,2050.2L1520.4,2052.5L1521.3,2032.4L1522.3,2036.8L1523.2,2022.2L1524.2,2034.4L1525.1,2027.6L1526.1,2027.6L1527.0,2042.3L1528.0,2049.2L1529.0,2050.2L1529.9,2054.7L1530.9,2056.4L1531.8,2050.4L1532.8,2056.3L1533.7,2054.2L1534.7,2058.1L1535.6,2060.6L1536.6,2051.0L1537.6,2054.0L1538.5,2066.4L1539.5,2072.7L1540.4,2076.8L1541.4,2078.7L1542.3,2076.2L1543.3,2082.2L1544.2,2085.0L1545.2,2085.4L1546.1,2092.5L1547.1,2091.4L1548.1,2087.7L1549.0,2090.5L1550.0,2089.2L1550.9,2083.7L1551.9,2093.5L1552.8,2096.7L1553.8,2086.4L1554.7,2084.1L1555.7,2073.7L1556.7,2068.7L1557.6,2064.4L1558.6,2077.4L1559.5,2077.1L1560.5,2076.0L1561.4,2067.2L1562.4,2065.7L1563.3,2068.8L1564.3,2065.2L1565.3,2067.6L1566.2,2068.1L1567.2,2065.6L1568.1,2052.2L1569.1,2045.4L1570.0,2043.2L1571.0,2037.7L1571.9,2033.2L1572.9,2042.0L1573.8,2052.9L1574.8,2069.0L1575.8,2058.9L1576.7,2071.2L1577.7,2071.5L1578.6,2068.6L1579.6,2081.5L1580.5,2076.7L1581.5,2088.4L1582.4,2091.9L1583.4,2105.2L1584.4,2102.4L1585.3,2109.0L1586.3,2111.2L1587.2,2116.6L1588.2,2127.9L1589.1,2139.3L1590.1,2136.9L1591.0,2136.8L1592.0,2144.4L1593.0,2146.2L1593.9,2156.1L1594.9,2164.3L1595.8,2163.4L1596.8,2163.9L1597.7,2172.0L1598.7,2189.2L1599.6,2194.9L1600.6,2192.7L1601.5,2185.5L1602.5,2177.7L1603.5,2181.9L1604.4,2178.8L1605.4,2180.3L1606.3,2182.6L1607.3,2182.4L1608.2,2172.2L1609.2,2175.5L1610.1,2164.9L1611.1,2169.2L1612.1,2176.2L1613.0,2168.9L1614.0,2177.2L1614.9,2170.6L1615.9,2179.3L1616.8,2171.7L1617.8,2170.6L1618.7,2175.5L1619.7,2174.0L1620.7,2180.5L1621.6,2194.6L1622.6,2193.2L1623.5,2192.2L1624.5,2203.4L1625.4,2207.0L1626.4,2213.5L1627.3,2216.9L1628.3,2225.0L1629.2,2230.1L1630.2,2223.4L1631.2,2220.8L1632.1,2220.3L1633.1,2219.7L1634.0,2219.5L1635.0,2229.2L1635.9,2234.6L1636.9,2221.0L1637.8,2227.5L1638.8,2242.3L1639.8,2239.3L1640.7,2225.9L1641.7,2223.6L1642.6,2235.1L1643.6,2246.6L1644.5,2252.1L1645.5,2244.1L1646.4,2242.9L1647.4,2239.4L1648.4,2242.7L1649.3,2246.4L1650.3,2251.9L1651.2,2264.0L1652.2,2257.0L1653.1,2271.0L1654.1,2265.2L1655.0,2267.7L1656.0,2269.9L1656.9,2272.5L1657.9,2283.8L1658.9,2271.4L1659.8,2283.4L1660.8,2285.1L1661.7,2275.8L1662.7,2288.2L1663.6,2291.7L1664.6,2293.4L1665.5,2284.0L1666.5,2288.1L1667.5,2282.7L1668.4,2281.6L1669.4,2272.2L1670.3,2279.2L1671.3,2286.1L1672.2,2277.4L1673.2,2265.8L1674.1,2259.9L1675.1,2245.4L1676.0,2248.1L1677.0,2252.4L1678.0,2245.1L1678.9,2241.2L1679.9,2249.5L1680.8,2245.5L1681.8,2233.2L1682.7,2225.8L1683.7,2227.4L1684.6,2211.3L1685.6,2224.1L1686.6,2223.8L1687.5,2226.0L1688.5,2226.1L1689.4,2223.9L1690.4,2231.8L1691.3,2229.0L1692.3,2230.8L1693.2,2222.4L1694.2,2226.1L1695.2,2233.2L1696.1,2234.9L1697.1,2235.9L1698.0,2248.4L1699.0,2253.3L1699.9,2253.9L1700.9,2256.2L1701.8,2259.3L1702.8,2259.2L1703.7,2261.9L1704.7,2273.8L1705.7,2264.3L1706.6,2272.6L1707.6,2265.6L1708.5,2270.4L1709.5,2275.6L1710.4,2270.7L1711.4,2266.4L1712.3,2269.9L1713.3,2266.7L1714.3,2266.7L1715.2,2255.5L1716.2,2258.0L1717.1,2259.2L1718.1,2252.8L1719.0,2255.0L1720.0,2255.7L1720.9,2244.4L1721.9,2233.4L1722.9,2237.1L1723.8,2248.7L1724.8,2243.1L1725.7,2259.1L1726.7,2261.3L1727.6,2261.5L1728.6,2272.5L1729.5,2270.8L1730.5,2267.7L1731.4,2268.5L1732.4,2277.3L1733.4,2284.1L1734.3,2281.7L1735.3,2269.2L1736.2,2268.2L1737.2,2276.2L1738.1,2265.7L1739.1,2270.5L1740.0,2267.2L1741.0,2258.4L1742.0,2246.6L1742.9,2253.1L1743.9,2243.7L1744.8,2250.8L1745.8,2233.9L1746.7,2237.3L1747.7,2233.7L1748.6,2234.5L1749.6,2227.8L1750.6,2222.5L1751.5,2232.0L1752.5,2226.3L1753.4,2233.4L1754.4,2241.2L1755.3,2226.6L1756.3,2235.8L1757.2,2234.8L1758.2,2244.8L1759.1,2239.2L1760.1,2247.6L1761.1,2248.9L1762.0,2258.8L1763.0,2261.4L1763.9,2259.9L1764.9,2268.2L1765.8,2279.1L1766.8,2275.1L1767.7,2280.5L1768.7,2268.2L1769.7,2267.3L1770.6,2265.4L1771.6,2263.5L1772.5,2269.4L1773.5,2260.7L1774.4,2259.2L1775.4,2261.1L1776.3,2256.7L1777.3,2242.2L1778.3,2242.7L1779.2,2239.2L1780.2,2244.3L1781.1,2247.8L1782.1,2236.6L1783.0,2227.1L1784.0,2215.4L1784.9,2224.3L1785.9,2220.6L1786.8,2212.5L1787.8,2205.6L1788.8,2189.0L1789.7,2176.2L1790.7,2154.3L1791.6,2161.2L1792.6,2157.5L1793.5,2143.8L1794.5,2127.4L1795.4,2120.1L1796.4,2106.9L1797.4,2102.4L1798.3,2098.8L1799.3,2093.0L1800.2,2091.7L1801.2,2076.8L1802.1,2078.5L1803.1,2082.2L1804.0,2076.2L1805.0,2073.5L1806.0,2082.7L1806.9,2087.8L1807.9,2097.6L1808.8,2099.8L1809.8,2105.9L1810.7,2105.8L1811.7,2105.9L1812.6,2107.9L1813.6,2102.9L1814.5,2105.4L1815.5,2114.1L1816.5,2122.0L1817.4,2116.9L1818.4,2119.2L1819.3,2110.7L1820.3,2111.7L1821.2,2097.6L1822.2,2100.6L1823.1,2107.3L1824.1,2100.3L1825.1,2102.0L1826.0,2089.1L1827.0,2084.7L1827.9,2083.5L1828.9,2077.9L1829.8,2074.1L1830.8,2081.3L1831.7,2078.7L1832.7,2077.3L1833.7,2084.5L1834.6,2070.9L1835.6,2064.8L1836.5,2067.8L1837.5,2065.6L1838.4,2053.6L1839.4,2059.5L1840.3,2069.5L1841.3,2066.4L1842.2,2079.3L1843.2,2066.5L1844.2,2068.2L1845.1,2074.6L1846.1,2071.0L1847.0,2066.8L1848.0,2062.6L1848.9,2057.7L1849.9,2059.2L1850.8,2051.8L1851.8,2047.7L1852.8,2034.7L1853.7,2018.7L1854.7,2011.7L1855.6,2009.1L1856.6,2001.9L1857.5,1994.9L1858.5,2003.0L1859.4,2009.3L1860.4,2021.9L1861.4,2033.0L1862.3,2033.2L1863.3,2034.2L1864.2,2036.1L1865.2,2035.4L1866.1,2042.1L1867.1,2035.1L1868.0,2036.0L1869.0,2046.8L1869.9,2057.3L1870.9,2066.6L1871.9,2076.1L1872.8,2088.7L1873.8,2101.7L1874.7,2112.0L1875.7,2123.4L1876.6,2132.2L1877.6,2141.4L1878.5,2125.6L1879.5,2120.6L1880.5,2116.3L1881.4,2115.7L1882.4,2103.6L1883.3,2109.3L1884.3,2108.7L1885.2,2105.4L1886.2,2092.6L1887.1,2090.6L1888.1,2083.9L1889.1,2085.1L1890.0,2086.8L1891.0,2086.3L1891.9,2074.5L1892.9,2078.9L1893.8,2077.1L1894.8,2071.2L1895.7,2074.5L1896.7,2073.5L1897.6,2058.3L1898.6,2060.6L1899.6,2040.5L1900.5,2024.1L1901.5,2034.7L1902.4,2045.8L1903.4,2065.4L1904.3,2087.0L1905.3,2100.6L1906.2,2092.1L1907.2,2094.9L1908.2,2102.5L1909.1,2095.0L1910.1,2082.0L1911.0,2085.9L1912.0,2088.8L1912.9,2083.7L1913.9,2074.2L1914.8,2077.3L1915.8,2075.5L1916.8,2076.4L1917.7,2068.5L1918.7,2071.3L1919.6,2063.2L1920.6,2065.8L1921.5,2053.5L1922.5,2052.3L1923.4,2047.0L1924.4,2046.6L1925.3,2053.3L1926.3,2054.6L1927.3,2050.2L1928.2,2061.1L1929.2,2056.7L1930.1,2062.3L1931.1,2057.5L1932.0,2060.0L1933.0,2054.5L1933.9,2056.0L1934.9,2059.3L1935.9,2055.9L1936.8,2039.5L1937.8,2051.9L1938.7,2050.9L1939.7,2036.4L1940.6,2027.6L1941.6,2030.1L1942.5,2029.6L1943.5,2029.8L1944.5,2042.3L1945.4,2032.8L1946.4,2020.2L1947.3,2034.5L1948.3,2031.6L1949.2,2032.2L1950.2,2022.2L1951.1,2025.6L1952.1,2026.5L1953.0,2027.7L1954.0,2039.9L1955.0,2044.1L1955.9,2046.2L1956.9,2055.6L1957.8,2049.9L1958.8,2038.7L1959.7,2036.2L1960.7,2050.5L1961.6,2053.6L1962.6,2060.8" fill="none" stroke="#3a80c2" stroke-width="2.2" stroke-linejoin="round"/>
<line x1="1389.5" y1="2092.0" x2="1962.6" y2="2092.0" stroke="#000" stroke-width="1.8"/>
<line x1="1389.5" y1="1897.0" x2="1389.5" y2="2353.0" stroke="#000" stroke-width="2"/>
<line x1="1388.5" y1="2352.0" x2="1963.6" y2="2352.0" stroke="#000" stroke-width="2"/>
<line x1="1383.5" y1="1962.0" x2="1389.5" y2="1962.0" stroke="#000" stroke-width="1.8"/>
<line x1="1383.5" y1="2092.0" x2="1389.5" y2="2092.0" stroke="#000" stroke-width="1.8"/>
<line x1="1383.5" y1="2222.0" x2="1389.5" y2="2222.0" stroke="#000" stroke-width="1.8"/>
<line x1="1383.5" y1="2352.0" x2="1389.5" y2="2352.0" stroke="#000" stroke-width="1.8"/>
<line x1="1389.5" y1="2352.0" x2="1389.5" y2="2359.0" stroke="#000" stroke-width="1.8"/>
<text x="1389.5" y="2382.0" font-size="26" text-anchor="middle" fill="#231f20">0</text>
<line x1="1580.5" y1="2352.0" x2="1580.5" y2="2359.0" stroke="#000" stroke-width="1.8"/>
<text x="1580.5" y="2382.0" font-size="26" text-anchor="middle" fill="#231f20">10</text>
<line x1="1771.6" y1="2352.0" x2="1771.6" y2="2359.0" stroke="#000" stroke-width="1.8"/>
<text x="1771.6" y="2382.0" font-size="26" text-anchor="middle" fill="#231f20">20</text>
<line x1="1962.6" y1="2352.0" x2="1962.6" y2="2359.0" stroke="#000" stroke-width="1.8"/>
<text x="1962.6" y="2382.0" font-size="26" text-anchor="middle" fill="#231f20">30</text>
<text x="1683.5" y="2419.0" font-size="34" text-anchor="middle" fill="#231f20">Time (s)</text>
<text x="0" y="0" font-size="34" fill="#231f20" text-anchor="middle" transform="translate(57,1514.4) rotate(-90)">Speed (µm/s)</text>
<text x="0" y="0" font-size="34" fill="#231f20" text-anchor="middle" transform="translate(56,2144.6) rotate(-90)">Speed (µm/s)</text>
<text x="407.4" y="1361.3" font-size="40.5" font-weight="bold" text-anchor="middle" fill="#9e9c9d" textLength="129.5" lengthAdjust="spacingAndGlyphs">Control</text>
<text x="1048.8" y="1360.6" font-size="40.5" font-weight="bold" text-anchor="middle" fill="#9e9c9d" textLength="129.5" lengthAdjust="spacingAndGlyphs">Control</text>
<text x="1677.6" y="1360.9" font-size="40.5" font-weight="bold" text-anchor="middle" fill="#9e9c9d" textLength="129.5" lengthAdjust="spacingAndGlyphs">Control</text>
<text x="408.7" y="1968.8" font-size="40.5" font-weight="bold" text-anchor="middle" fill="#9e9c9d" textLength="129.5" lengthAdjust="spacingAndGlyphs">Control</text>
<text x="1046.5" y="1969.2" font-size="40.5" font-weight="bold" text-anchor="middle" fill="#9e9c9d" textLength="129.5" lengthAdjust="spacingAndGlyphs">Control</text>
<text x="1676.4" y="1968.3" font-size="40.5" font-weight="bold" text-anchor="middle" fill="#9e9c9d" textLength="129.5" lengthAdjust="spacingAndGlyphs">Control</text>
<text x="290.3" y="1669.7" font-size="39.5" font-weight="bold" font-style="italic" fill="#ad5625" textLength="236.4" lengthAdjust="spacingAndGlyphs">snt1-P&gt;ACR1</text>
<text x="296.5" y="2343.6" font-size="39.5" font-weight="bold" font-style="italic" fill="#ad5625" textLength="234.3" lengthAdjust="spacingAndGlyphs">snt1-P&gt;ACR1</text>
<text x="901.5" y="1690.9" font-size="39.5" font-weight="bold" font-style="italic" fill="#4bad44" textLength="300.4" lengthAdjust="spacingAndGlyphs">snt1-P&gt;KCR1-ET</text>
<text x="901.5" y="2293.8" font-size="39.5" font-weight="bold" font-style="italic" fill="#4bad44" textLength="300.4" lengthAdjust="spacingAndGlyphs">snt1-P&gt;KCR1-ET</text>
<text x="1426.8" y="1636.5" font-size="39.5" font-weight="bold" font-style="italic" fill="#3a80c2" textLength="136" lengthAdjust="spacingAndGlyphs">snt1-P&gt;</text>
<text x="1414.3" y="1679.5" font-size="39.5" font-weight="bold" font-style="italic" fill="#3a80c2" textLength="160" lengthAdjust="spacingAndGlyphs">KCR2-ET</text>
<text x="1426.8" y="2272.9" font-size="39.5" font-weight="bold" font-style="italic" fill="#3a80c2" textLength="136" lengthAdjust="spacingAndGlyphs">snt1-P&gt;</text>
<text x="1414.3" y="2317.4" font-size="39.5" font-weight="bold" font-style="italic" fill="#3a80c2" textLength="160" lengthAdjust="spacingAndGlyphs">KCR2-ET</text>
</svg></body></html>
